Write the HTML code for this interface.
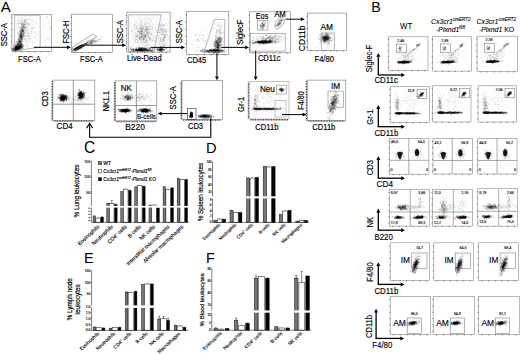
<!DOCTYPE html>
<html><head><meta charset="utf-8"><style>
html,body{margin:0;padding:0;background:#fff;width:520px;height:354px;overflow:hidden}
svg{display:block;font-family:"Liberation Sans", sans-serif}
</style></head><body>
<svg width="520" height="354" viewBox="0 0 520 354">
<rect width="520" height="354" fill="#fff"/>
<text x="0.8" y="11.5" font-size="15" text-anchor="start" font-weight="normal" font-style="normal" fill="#000" >A</text>
<path d="M20.6 38.9h0M19.3 45.5h0M22.4 31.1h0M20.1 28.2h0M21.5 35.9h0M19.6 33.5h0M19.8 42.6h0M19.2 37.1h0M17.4 49.5h0M19.8 41.3h0M21.9 34.1h0M20.7 44.5h0M20.5 36.2h0M18.6 46.6h0M22.2 29.9h0M20.1 41.2h0M18.8 38.8h0M20.7 32.8h0M21.3 40.5h0M22.5 31.6h0M23.5 24.3h0M17.6 41.3h0M20.8 46.5h0M23.2 33.9h0M22.9 36.4h0M20.2 36.9h0M24.2 33.2h0M21.6 32.9h0M19.4 39.7h0M23.5 34.2h0M22.3 35.3h0M22.3 33.5h0M20.7 42.1h0M18.1 42.1h0M21.7 25.9h0M21.6 23.1h0M21.9 27.1h0M20.4 39.6h0M22.3 32.1h0M22.3 36.7h0M20.8 37.5h0M22.7 24.3h0M20.7 30.7h0M20.0 42.1h0M18.6 43.8h0M21.4 46.8h0M21.4 36.7h0M22.2 39.5h0M16.4 46.4h0M21.6 35.5h0M21.7 33.3h0M22.0 29.8h0M20.5 37.6h0M19.2 40.4h0M22.3 30.7h0M19.1 38.7h0M20.4 47.0h0M22.0 28.2h0M20.5 33.5h0M20.6 36.7h0M21.7 37.5h0M21.2 41.7h0M22.4 32.1h0M22.7 29.7h0M21.9 36.3h0M22.3 36.0h0M20.7 39.5h0M18.6 41.9h0M23.4 35.0h0M24.0 33.3h0M17.8 43.5h0M21.7 33.6h0M19.7 42.6h0M22.9 34.0h0M19.2 40.5h0M20.8 37.3h0M23.4 30.3h0M20.5 32.0h0M22.8 32.4h0M24.0 35.5h0M25.0 30.9h0M23.4 31.1h0M23.2 30.3h0M17.8 45.5h0M20.5 36.7h0M19.2 45.2h0M21.2 32.1h0M21.6 35.9h0M21.3 37.0h0M23.4 23.7h0M21.8 30.7h0M21.1 38.0h0M21.3 38.7h0M21.3 39.9h0M22.1 38.8h0M23.5 27.6h0M19.0 48.2h0M19.5 39.5h0M19.9 41.6h0M22.9 30.7h0M19.2 34.2h0M21.7 39.7h0M20.1 40.4h0M20.4 42.1h0M20.8 36.6h0M19.9 35.5h0M19.3 38.9h0M22.3 34.1h0M19.6 38.1h0M21.6 34.8h0" stroke="#000" stroke-opacity="0.26" stroke-width="0.7" stroke-linecap="square" fill="none"/>
<path d="M21.8 31.3h0M21.2 32.9h0M20.0 41.4h0M18.8 35.0h0M18.3 32.8h0M20.8 31.6h0M20.4 36.1h0M25.0 27.6h0M23.7 29.6h0M20.0 41.2h0M22.8 29.5h0M20.3 31.6h0M21.8 41.7h0M20.8 34.9h0M21.6 34.2h0M19.1 43.6h0M21.4 23.6h0M20.6 40.2h0M19.7 36.2h0M22.1 38.5h0M19.0 39.0h0M18.8 41.7h0M21.3 35.2h0M22.0 31.9h0M22.3 37.4h0M20.9 35.0h0M19.1 38.8h0M17.6 41.2h0M20.5 35.9h0M21.4 36.9h0M20.8 37.1h0M17.8 42.6h0M20.9 43.1h0M20.5 42.7h0M23.5 30.8h0M21.3 37.4h0M22.1 30.8h0M20.5 32.5h0M21.0 39.3h0M22.9 27.8h0M19.0 44.3h0M17.3 32.7h0M22.3 38.3h0M21.5 38.5h0M19.4 35.8h0M19.3 41.8h0M22.6 30.2h0M18.9 46.7h0M21.1 43.1h0M20.6 37.3h0M18.0 47.0h0M19.7 42.5h0M19.1 35.0h0M23.5 35.4h0M18.9 49.9h0M20.8 29.6h0M20.6 40.6h0M19.1 46.4h0M21.7 35.8h0M21.4 36.5h0M18.2 39.0h0M23.1 26.1h0M19.5 36.3h0M21.1 44.1h0M20.9 34.7h0M19.9 43.4h0M19.1 43.4h0M24.2 25.1h0M22.1 29.8h0M23.5 26.4h0M22.9 30.5h0M20.3 34.8h0M18.9 36.6h0M24.1 32.5h0M20.0 40.8h0M23.5 31.5h0M18.6 36.1h0M18.9 39.1h0M22.9 30.9h0M21.4 36.9h0M20.2 30.1h0M19.6 34.3h0M23.9 30.4h0M22.7 34.7h0M21.0 36.4h0M23.7 36.7h0M22.3 30.3h0M21.3 30.8h0M19.0 37.0h0M20.9 38.0h0M21.4 33.4h0M21.4 34.2h0M20.9 39.5h0M23.3 27.4h0M17.6 42.5h0M20.1 32.6h0M23.3 36.8h0M21.4 37.8h0M20.4 44.0h0M18.0 40.2h0M21.3 31.3h0M20.2 36.7h0M19.6 48.0h0M20.3 36.6h0M19.5 45.6h0M19.7 41.9h0M22.2 27.1h0M22.7 35.8h0M19.1 41.1h0" stroke="#000" stroke-opacity="0.26" stroke-width="0.7" stroke-linecap="square" fill="none"/>
<path d="M21.7 30.6h0M21.2 39.4h0M19.8 33.7h0M18.9 38.4h0M20.8 37.7h0M23.5 32.2h0M21.1 37.4h0M22.0 38.0h0M20.3 40.7h0M23.9 33.1h0M20.5 35.6h0M24.6 24.5h0M21.1 34.6h0M21.6 36.3h0M21.7 41.5h0M20.2 40.7h0M21.8 31.2h0M21.0 35.6h0M22.5 30.3h0M21.9 33.3h0M16.9 41.8h0M23.3 27.3h0M22.1 30.8h0M21.9 28.7h0M20.5 34.7h0M20.2 31.5h0M24.9 28.2h0M20.9 37.4h0M21.1 28.9h0M21.1 33.6h0M21.7 41.7h0M22.5 36.4h0M18.3 46.5h0M21.6 47.0h0M19.8 42.3h0M20.6 37.2h0M18.1 39.7h0M20.8 31.1h0M25.7 28.7h0M19.4 41.6h0M23.9 23.0h0M22.8 37.7h0M21.1 36.7h0M18.9 39.9h0M22.8 28.6h0M25.1 20.5h0M20.9 35.8h0M20.8 34.4h0M21.8 37.9h0M22.3 41.0h0M21.6 37.6h0M20.8 35.4h0M18.6 42.4h0M19.9 38.0h0M20.9 35.6h0M24.0 31.6h0M23.9 36.3h0M23.6 31.3h0M20.9 38.9h0M19.2 49.0h0M20.2 27.5h0M21.4 32.6h0M22.3 29.6h0M23.1 34.3h0M21.2 27.4h0M19.7 31.5h0M22.9 29.3h0M22.0 41.2h0M24.7 36.6h0M19.1 43.1h0M20.9 33.9h0M21.3 28.5h0M21.4 30.6h0M21.8 35.7h0M22.4 30.1h0M23.3 26.0h0M24.6 27.6h0M20.9 32.2h0M21.8 25.0h0M21.2 37.4h0M18.2 41.4h0M26.7 19.5h0M22.6 27.3h0M22.4 24.7h0M19.6 36.3h0M20.0 36.4h0M22.0 36.5h0M21.4 33.4h0M20.0 32.7h0M21.4 34.3h0M22.8 29.4h0M24.0 26.6h0M20.5 35.2h0M20.2 44.6h0M24.2 20.9h0M23.2 35.0h0M22.4 28.9h0M23.4 32.4h0M22.0 35.1h0M20.5 38.9h0M18.4 34.2h0M25.8 19.7h0M22.1 39.3h0M19.6 49.7h0M19.0 46.3h0M24.5 27.7h0M21.8 40.4h0M23.7 31.5h0M22.6 31.2h0" stroke="#000" stroke-opacity="0.26" stroke-width="0.7" stroke-linecap="square" fill="none"/>
<path d="M25.6 21.8h0M23.2 26.1h0M24.3 20.9h0M22.6 26.1h0M22.0 19.9h0M22.4 28.5h0M25.7 24.4h0M26.4 27.5h0M24.6 28.4h0M24.9 23.3h0M21.3 23.3h0M28.5 25.1h0M23.2 15.0h0M22.1 24.6h0M28.2 34.9h0M22.8 24.7h0M20.0 23.1h0M25.0 19.4h0M27.4 21.6h0M21.1 22.4h0M25.1 23.5h0M21.2 26.9h0M20.9 20.4h0M25.0 24.4h0M26.5 27.1h0M22.3 26.0h0M18.2 23.6h0M24.5 21.4h0M21.7 20.8h0M20.3 20.2h0M18.0 22.7h0M24.8 22.1h0M26.2 22.6h0M25.1 22.5h0M18.1 23.6h0M25.3 19.5h0" stroke="#000" stroke-opacity="0.14" stroke-width="0.7" stroke-linecap="square" fill="none"/>
<path d="M21.8 31.1h0M27.3 24.4h0M18.4 17.8h0M24.7 23.3h0M26.2 24.9h0M18.5 19.8h0M25.0 35.3h0M24.9 22.5h0M17.3 28.2h0M18.3 26.8h0M16.5 31.1h0M18.0 20.5h0M24.0 17.4h0M21.5 21.9h0M26.7 28.5h0M22.2 25.5h0M29.4 24.7h0M22.4 29.6h0M23.2 22.4h0M24.9 28.0h0M21.1 27.7h0M23.9 32.9h0M19.6 27.2h0M24.0 25.5h0M24.1 27.0h0M19.2 33.2h0M22.7 21.4h0M22.9 29.9h0M25.2 19.3h0M19.0 22.9h0M25.2 27.8h0M19.7 21.0h0M25.6 22.0h0M22.8 26.6h0M23.0 25.5h0M25.4 35.5h0" stroke="#000" stroke-opacity="0.14" stroke-width="0.7" stroke-linecap="square" fill="none"/>
<path d="M29.3 35.0h0M20.3 25.6h0M24.9 21.2h0M24.4 20.5h0M20.9 23.2h0M21.9 37.7h0M22.3 23.2h0M28.4 33.5h0M22.5 27.2h0M20.9 23.3h0M23.7 30.6h0M19.6 22.5h0M23.8 24.5h0M18.3 24.9h0M21.1 32.2h0M21.8 24.6h0M22.3 27.7h0M23.8 25.6h0M27.2 15.2h0M26.9 17.1h0M22.0 17.5h0M22.4 17.3h0M21.2 15.1h0M24.8 25.2h0M18.9 24.2h0M23.3 18.9h0M23.3 21.8h0M30.2 20.0h0M21.6 24.9h0M23.4 24.1h0M22.8 20.6h0M27.1 26.1h0M22.6 37.4h0M26.4 22.6h0M26.7 26.6h0M25.2 26.3h0" stroke="#000" stroke-opacity="0.14" stroke-width="0.7" stroke-linecap="square" fill="none"/>
<path d="M21.4 31.0h0M25.3 33.1h0M21.2 29.8h0M39.1 30.0h0M19.1 41.5h0M28.7 38.6h0M27.9 32.6h0M34.1 19.5h0M26.4 20.3h0M29.4 38.4h0M24.0 32.6h0M28.3 40.0h0M15.3 23.3h0M29.7 37.9h0M25.6 24.0h0M26.8 36.5h0M26.4 37.2h0M27.5 23.9h0M29.2 35.5h0M27.4 32.4h0M22.7 30.0h0M36.5 22.5h0M26.6 37.1h0M30.5 29.8h0M24.9 24.9h0M21.8 28.4h0M32.2 28.6h0M34.0 21.6h0M26.3 17.6h0M28.6 30.1h0M21.5 26.2h0M25.8 27.1h0M24.4 21.2h0M29.2 36.5h0M31.6 22.2h0M22.9 33.4h0M30.9 20.0h0M29.1 37.6h0M26.6 32.9h0M24.1 24.6h0M20.9 28.6h0M16.1 21.6h0M26.6 32.0h0M30.8 40.1h0M35.3 30.7h0M23.8 28.7h0M32.9 31.3h0M26.8 18.5h0M28.4 18.3h0M25.0 34.6h0M35.2 38.0h0M32.5 28.8h0M32.6 41.6h0M34.2 27.6h0M22.8 39.1h0M23.2 35.0h0M31.3 40.0h0M30.1 37.2h0M28.0 18.6h0M34.4 37.3h0M27.5 33.6h0M28.6 23.8h0M17.5 42.0h0M36.3 34.6h0M17.3 39.9h0M19.6 30.1h0M22.4 20.4h0M18.9 17.3h0M22.9 40.2h0M20.1 20.1h0M30.2 37.2h0M25.1 35.7h0M32.9 33.3h0M35.8 46.3h0M27.6 23.1h0M26.7 42.9h0M25.3 20.1h0M21.6 21.7h0M25.0 39.2h0M24.6 16.5h0M27.6 36.1h0M37.2 39.7h0M20.8 33.5h0M29.8 34.0h0M21.3 36.8h0M24.1 38.8h0M26.4 41.3h0M21.0 28.4h0M19.7 46.8h0M29.5 38.9h0M22.9 26.3h0M39.2 42.7h0M29.5 16.5h0M35.4 21.1h0M27.7 27.9h0M31.1 31.0h0M20.5 45.3h0M26.6 43.4h0M27.0 21.5h0M22.9 32.2h0M29.3 43.3h0M29.5 24.1h0M16.9 28.7h0M19.5 29.9h0M24.6 29.3h0M21.7 24.2h0M22.5 33.2h0M21.4 34.5h0M23.9 33.7h0M23.6 30.5h0M35.7 34.5h0M32.3 28.5h0M19.4 23.6h0M22.0 31.5h0M24.3 39.0h0M25.0 27.4h0M20.1 19.7h0M21.0 24.9h0M29.0 41.3h0M34.5 31.1h0M25.3 39.0h0" stroke="#000" stroke-opacity="0.11" stroke-width="0.7" stroke-linecap="square" fill="none"/>
<path d="M29.8 38.7h0M26.2 21.7h0M31.0 22.4h0M31.4 33.1h0M26.7 44.7h0M27.2 36.4h0M33.2 27.9h0M34.2 26.2h0M24.8 40.4h0M23.1 35.2h0M27.2 26.9h0M34.2 37.3h0M31.0 39.1h0M26.5 41.2h0M29.2 23.8h0M33.1 30.7h0M33.4 28.9h0M33.2 28.4h0M32.8 26.0h0M25.3 15.7h0M28.6 19.1h0M30.9 19.7h0M37.5 33.8h0M32.0 31.6h0M25.4 19.6h0M33.0 24.6h0M20.3 18.1h0M32.2 42.4h0M20.4 29.6h0M27.0 25.6h0M31.8 35.1h0M25.7 27.0h0M26.7 24.0h0M29.1 32.5h0M35.0 32.3h0M22.7 42.3h0M28.9 32.0h0M23.3 22.5h0M26.3 30.5h0M17.2 23.7h0M27.2 36.5h0M25.0 34.0h0M26.1 24.3h0M24.0 40.3h0M26.0 39.4h0M16.6 24.0h0M25.9 24.5h0M21.8 18.9h0M30.9 43.3h0M30.8 42.6h0M17.8 30.8h0M21.4 45.0h0M22.9 27.9h0M24.3 20.9h0M24.1 23.7h0M22.7 44.5h0M34.6 35.0h0M35.4 35.8h0M19.9 19.1h0M37.3 41.0h0M23.8 31.7h0M28.1 39.6h0M23.4 37.6h0M28.5 19.3h0M34.6 36.9h0M28.7 39.9h0M27.4 25.6h0M28.1 35.7h0M25.7 29.1h0M29.0 34.7h0M23.1 37.6h0M25.3 38.8h0M20.0 37.6h0M36.3 31.8h0M26.0 31.0h0M22.3 29.0h0M27.7 46.7h0M19.6 45.1h0M28.7 34.5h0M24.3 19.2h0M18.5 24.7h0M24.9 45.2h0M25.7 32.9h0M34.2 32.7h0M26.6 22.6h0M30.9 26.8h0M26.8 30.5h0M24.4 38.7h0M31.8 45.4h0M34.7 26.0h0M26.1 33.3h0M31.5 28.7h0M15.6 41.2h0M28.0 45.5h0M36.5 23.6h0M20.4 27.9h0M27.7 46.3h0M32.8 32.0h0M24.1 38.7h0M16.7 20.0h0M31.0 32.2h0M27.5 30.5h0M26.8 32.9h0M35.0 25.6h0M28.4 41.7h0M28.9 23.8h0M37.1 35.0h0M32.3 24.5h0M20.7 24.5h0M30.9 33.7h0M30.6 19.0h0M24.4 29.7h0M28.7 33.3h0M34.1 22.5h0M18.2 16.4h0M30.0 19.2h0M21.0 31.9h0M21.5 36.0h0M29.1 41.5h0M35.6 33.5h0" stroke="#000" stroke-opacity="0.11" stroke-width="0.7" stroke-linecap="square" fill="none"/>
<path d="M24.4 34.8h0M26.9 39.9h0M28.1 22.5h0M27.6 45.9h0M28.1 25.9h0M32.4 38.3h0M22.8 30.3h0M20.4 43.3h0M34.2 28.2h0M26.8 27.2h0M24.4 42.0h0M31.9 29.1h0M31.4 31.4h0M20.8 40.6h0M21.5 17.9h0M33.3 32.2h0M25.5 30.6h0M29.8 24.6h0M24.7 35.9h0M29.2 25.5h0M16.5 22.4h0M28.8 29.1h0M27.7 23.2h0M25.2 39.9h0M33.9 22.0h0M22.9 40.0h0M31.5 26.3h0M22.5 23.4h0M25.6 33.5h0M27.8 34.0h0M31.7 34.0h0M31.5 28.4h0M25.9 41.4h0M26.2 29.2h0M22.5 27.6h0M26.8 41.5h0M34.8 33.3h0M27.3 23.5h0M29.6 41.4h0M30.2 32.4h0M23.4 29.7h0M24.8 24.7h0M23.7 34.0h0M34.0 42.2h0M18.8 33.9h0M26.9 40.0h0M29.4 29.8h0M19.8 43.7h0M24.8 25.9h0M34.3 42.7h0M28.9 28.6h0M31.0 34.0h0M21.1 33.8h0M28.4 35.8h0M28.1 38.9h0M26.7 30.9h0M23.4 27.2h0M33.4 45.7h0M36.5 24.4h0M26.4 30.2h0M36.7 16.7h0M26.7 39.0h0M22.5 34.0h0M27.2 30.0h0M21.1 44.0h0M29.5 35.5h0M19.2 20.6h0M39.0 18.5h0M37.3 29.0h0M18.8 23.1h0M30.4 16.0h0M32.7 43.1h0M37.9 23.8h0M19.8 30.4h0M38.6 43.7h0M32.5 20.8h0M22.5 34.0h0M22.7 38.3h0M30.6 26.8h0M26.1 23.4h0M21.3 38.7h0M17.9 45.5h0M18.1 25.9h0M19.5 44.0h0M24.9 27.4h0M21.6 34.5h0M21.9 23.8h0M24.6 30.2h0M25.5 38.5h0M29.5 24.0h0M29.8 18.9h0M26.5 37.1h0M29.3 31.0h0M25.8 28.1h0M32.4 20.4h0M36.5 21.7h0M29.0 23.8h0M27.3 31.0h0M31.0 30.7h0M31.9 27.6h0M24.8 38.8h0M25.3 27.9h0M20.0 37.9h0M23.8 41.9h0M20.8 22.0h0M27.8 35.7h0M23.1 31.4h0M25.7 42.2h0M24.5 27.2h0M39.3 33.9h0M26.2 31.4h0M25.6 35.7h0M24.7 26.8h0M36.1 39.6h0M19.3 28.3h0M23.0 28.3h0M30.5 37.1h0M24.1 24.9h0M27.8 43.1h0M27.5 23.7h0" stroke="#000" stroke-opacity="0.11" stroke-width="0.7" stroke-linecap="square" fill="none"/>
<path d="M15.7 45.4h0M20.7 43.7h0M22.8 41.3h0M13.8 49.9h0M17.1 50.3h0M17.6 48.6h0M20.9 44.2h0M20.0 47.8h0M15.7 46.8h0M18.7 45.5h0M18.9 46.9h0M20.8 38.7h0M18.8 40.9h0M18.8 41.3h0M16.9 44.8h0M15.6 47.1h0M14.8 50.6h0M17.9 49.0h0M16.2 45.5h0M21.0 42.3h0M16.3 44.8h0M21.1 45.7h0M16.5 47.9h0M18.4 45.8h0M19.9 45.7h0M18.1 43.6h0M17.8 47.0h0M17.2 44.0h0M20.2 41.3h0M16.4 46.5h0M19.7 46.3h0M17.9 44.4h0M19.5 47.3h0M18.4 46.0h0M21.1 43.2h0M22.1 43.4h0M19.2 43.0h0M16.2 42.9h0M15.9 45.8h0M15.4 45.0h0" stroke="#000" stroke-opacity="0.3" stroke-width="0.7" stroke-linecap="square" fill="none"/>
<path d="M18.5 46.0h0M22.7 39.2h0M19.8 45.1h0M18.6 42.5h0M20.5 40.1h0M17.7 43.8h0M21.4 47.3h0M16.3 44.8h0M20.6 42.4h0M18.8 47.8h0M20.8 44.6h0M21.1 44.2h0M17.4 45.6h0M19.5 45.4h0M16.3 48.7h0M18.1 43.4h0M20.4 43.3h0M18.8 42.9h0M16.6 42.1h0M19.6 45.1h0M17.1 44.3h0M15.3 46.5h0M18.4 47.5h0M20.7 44.7h0M14.7 49.8h0M21.0 47.5h0M22.1 44.9h0M22.2 39.0h0M20.0 47.0h0M18.3 44.6h0M18.8 44.2h0M18.0 44.2h0M14.7 50.3h0M20.4 46.2h0M21.5 45.9h0M20.4 41.3h0M19.3 42.8h0M17.1 45.8h0M18.9 44.7h0M19.1 44.9h0" stroke="#000" stroke-opacity="0.3" stroke-width="0.7" stroke-linecap="square" fill="none"/>
<path d="M15.8 42.7h0M20.5 44.0h0M21.2 43.5h0M19.9 42.2h0M18.1 48.8h0M19.1 40.2h0M16.3 46.4h0M21.2 45.1h0M19.3 42.8h0M15.8 44.6h0M15.7 46.4h0M20.5 41.3h0M14.2 44.7h0M13.3 48.1h0M16.2 47.1h0M20.4 47.5h0M21.5 42.8h0M18.7 45.2h0M18.4 44.0h0M20.0 41.0h0M18.1 48.5h0M17.0 48.0h0M18.5 46.4h0M21.0 46.3h0M20.3 41.6h0M21.4 43.4h0M18.8 46.3h0M18.4 46.9h0M17.4 49.4h0M18.4 44.9h0M20.5 43.1h0M14.3 49.4h0M19.1 45.1h0M22.8 44.8h0M16.8 47.2h0M18.9 44.9h0M16.6 49.2h0M17.5 43.8h0M19.4 44.7h0M17.7 48.9h0" stroke="#000" stroke-opacity="0.3" stroke-width="0.7" stroke-linecap="square" fill="none"/>
<path d="M14.2 49.1h0M15.5 48.7h0M19.4 46.2h0M17.1 47.3h0M19.7 47.8h0M14.3 50.5h0M13.7 49.2h0M19.2 46.5h0M13.3 50.6h0M21.6 47.6h0M22.1 46.1h0M17.6 45.9h0M18.0 47.0h0M15.6 49.5h0M17.4 50.9h0M21.3 46.1h0M16.9 49.4h0M14.8 48.1h0M15.1 48.1h0M17.4 49.9h0M14.2 46.9h0M17.9 49.0h0M16.8 48.8h0M21.2 47.6h0M19.6 47.5h0M19.6 47.3h0M16.7 46.6h0M17.1 49.1h0M21.0 47.4h0M19.6 45.1h0M21.8 46.6h0M20.7 46.1h0M16.0 49.9h0M14.2 49.4h0M15.3 49.8h0M12.7 48.5h0M18.6 49.7h0M14.1 48.6h0M15.5 50.9h0M18.0 47.2h0M18.0 45.0h0M13.8 50.3h0M15.9 46.3h0M21.6 44.1h0M17.9 47.0h0M19.7 48.2h0M15.6 49.6h0M22.5 48.3h0M17.5 46.7h0M18.3 47.4h0M16.6 47.8h0M12.8 50.4h0M19.6 47.3h0M20.3 46.4h0M18.0 48.1h0M18.9 49.2h0M15.7 48.5h0M17.4 49.1h0M21.6 45.5h0M18.9 48.3h0M18.4 47.4h0M20.6 48.2h0M17.7 49.7h0M20.6 44.9h0M18.7 45.8h0M18.6 47.1h0M16.9 49.9h0M19.2 45.7h0M15.6 48.1h0M16.6 49.3h0M15.6 47.8h0M20.5 50.3h0M17.4 47.3h0M17.6 47.4h0M23.1 46.1h0M20.2 46.5h0M14.1 47.1h0M19.8 47.1h0M19.5 46.1h0M13.0 49.3h0M15.1 48.9h0M17.6 48.3h0M17.9 48.1h0M19.9 47.1h0M16.4 47.6h0M17.4 47.8h0M18.5 47.4h0M15.0 47.1h0M12.6 49.1h0M16.6 49.6h0M20.6 47.2h0M19.3 47.1h0M20.3 46.2h0" stroke="#000" stroke-opacity="0.4" stroke-width="0.7" stroke-linecap="square" fill="none"/>
<path d="M22.4 47.6h0M13.4 50.7h0M17.7 49.1h0M22.5 46.4h0M23.1 47.1h0M16.4 45.8h0M16.8 49.2h0M15.3 47.5h0M19.1 46.8h0M17.0 46.0h0M20.3 45.7h0M20.8 48.4h0M17.6 47.5h0M14.3 49.0h0M20.3 47.9h0M21.7 44.4h0M20.8 45.4h0M16.5 46.3h0M18.8 47.0h0M19.7 50.0h0M17.1 48.3h0M21.6 45.8h0M17.0 47.2h0M16.8 47.6h0M19.7 46.2h0M17.2 50.2h0M21.9 49.5h0M20.0 48.8h0M14.6 48.9h0M19.1 48.3h0M20.1 47.6h0M16.1 47.6h0M18.0 47.6h0M17.4 48.1h0M22.8 46.2h0M18.9 46.3h0M15.5 48.9h0M13.0 48.8h0M17.4 46.7h0M18.5 49.1h0M22.8 48.6h0M15.0 48.9h0M17.1 48.6h0M14.2 49.0h0M17.1 50.1h0M20.9 44.8h0M16.3 47.5h0M20.0 48.7h0M15.0 49.9h0M20.2 46.8h0M16.9 49.7h0M16.5 49.1h0M19.7 46.2h0M15.2 49.1h0M13.7 45.0h0M18.0 47.5h0M18.1 49.4h0M19.8 47.3h0M17.7 50.4h0M16.1 47.0h0M13.5 48.4h0M25.4 45.0h0M19.5 48.0h0M15.4 47.4h0M17.8 47.8h0M19.9 47.3h0M17.0 49.0h0M19.5 47.8h0M14.9 50.9h0M15.5 49.4h0M18.2 48.4h0M16.9 49.1h0M20.9 45.9h0M16.5 46.9h0M19.0 49.2h0M18.3 48.1h0M14.4 47.0h0M23.0 47.9h0M15.4 48.3h0M19.0 47.4h0M17.2 47.6h0M19.0 46.7h0M19.5 48.7h0M20.7 46.4h0M23.3 45.7h0M15.0 46.5h0M20.7 47.2h0M22.6 44.9h0M15.9 48.5h0M18.4 46.2h0M16.7 46.8h0M16.0 50.6h0M16.8 48.9h0" stroke="#000" stroke-opacity="0.4" stroke-width="0.7" stroke-linecap="square" fill="none"/>
<path d="M14.8 48.1h0M13.4 48.9h0M19.4 46.7h0M14.6 50.0h0M16.0 49.0h0M15.8 49.4h0M16.5 47.5h0M15.9 50.2h0M17.4 46.7h0M15.4 51.0h0M17.0 48.6h0M13.6 48.5h0M23.1 45.3h0M18.1 47.1h0M19.2 48.1h0M15.9 47.1h0M17.3 47.9h0M17.8 48.2h0M21.4 44.7h0M16.4 49.8h0M22.3 45.0h0M20.5 47.3h0M19.8 44.9h0M17.2 49.2h0M17.1 46.2h0M17.5 44.1h0M16.2 49.2h0M15.3 50.0h0M16.3 48.9h0M19.3 48.0h0M20.9 43.5h0M12.4 50.7h0M15.1 48.5h0M13.7 50.1h0M15.6 46.9h0M17.3 47.5h0M16.0 50.5h0M20.4 50.5h0M16.6 48.5h0M18.2 48.5h0M20.7 48.0h0M19.5 45.9h0M15.2 48.5h0M22.0 48.9h0M21.2 46.3h0M20.3 46.1h0M12.7 49.6h0M16.1 49.0h0M16.0 47.6h0M16.8 48.9h0M20.0 48.8h0M16.0 48.4h0M19.2 46.2h0M15.6 49.7h0M16.5 46.0h0M16.9 48.4h0M16.9 48.8h0M15.2 48.4h0M20.7 47.3h0M14.3 50.8h0M15.7 47.2h0M15.4 48.2h0M18.5 48.7h0M22.5 47.3h0M17.6 48.0h0M16.7 48.6h0M15.5 47.2h0M12.6 49.7h0M17.1 49.1h0M19.0 47.5h0M16.3 47.8h0M16.8 44.8h0M15.3 49.2h0M17.4 49.5h0M21.2 48.6h0M18.4 48.1h0M17.7 48.2h0M18.9 48.1h0M15.5 49.3h0M17.3 45.6h0M19.9 46.8h0M20.7 47.1h0M20.2 47.3h0M17.0 46.8h0M13.3 47.3h0M19.7 49.5h0M16.4 50.0h0M16.1 49.6h0M18.4 49.5h0M17.5 46.9h0M17.3 47.3h0M19.0 46.5h0" stroke="#000" stroke-opacity="0.4" stroke-width="0.7" stroke-linecap="square" fill="none"/>
<path d="M43.7 25.6h0M50.8 29.6h0M49.9 25.9h0M51.1 29.5h0M47.2 16.7h0" stroke="#000" stroke-opacity="0.3" stroke-width="0.7" stroke-linecap="square" fill="none"/>
<path d="M45.5 45.3h0M47.1 38.8h0M49.0 38.2h0M48.8 22.6h0" stroke="#000" stroke-opacity="0.3" stroke-width="0.7" stroke-linecap="square" fill="none"/>
<path d="M50.5 27.4h0M46.7 18.0h0M48.4 39.8h0M44.9 40.6h0" stroke="#000" stroke-opacity="0.3" stroke-width="0.7" stroke-linecap="square" fill="none"/>
<ellipse cx="17.3" cy="48.5" rx="3.6" ry="1.5" transform="rotate(-30 17.3 48.5)" fill="#000" fill-opacity="0.85"/>
<rect x="11.9" y="14.5" width="39.6" height="36.8" fill="none" stroke="#777" stroke-width="0.6"/>
<line x1="10.9" y1="48.23" x2="11.9" y2="48.23" stroke="#000" stroke-width="0.5"/>
<line x1="10.9" y1="42.1" x2="11.9" y2="42.1" stroke="#000" stroke-width="0.5"/>
<line x1="10.9" y1="35.97" x2="11.9" y2="35.97" stroke="#000" stroke-width="0.5"/>
<line x1="10.9" y1="29.83" x2="11.9" y2="29.83" stroke="#000" stroke-width="0.5"/>
<line x1="10.9" y1="23.7" x2="11.9" y2="23.7" stroke="#000" stroke-width="0.5"/>
<line x1="10.9" y1="17.57" x2="11.9" y2="17.57" stroke="#000" stroke-width="0.5"/>
<line x1="15.2" y1="51.3" x2="15.2" y2="52.3" stroke="#000" stroke-width="0.5"/>
<line x1="21.8" y1="51.3" x2="21.8" y2="52.3" stroke="#000" stroke-width="0.5"/>
<line x1="28.4" y1="51.3" x2="28.4" y2="52.3" stroke="#000" stroke-width="0.5"/>
<line x1="35" y1="51.3" x2="35" y2="52.3" stroke="#000" stroke-width="0.5"/>
<line x1="41.6" y1="51.3" x2="41.6" y2="52.3" stroke="#000" stroke-width="0.5"/>
<line x1="48.2" y1="51.3" x2="48.2" y2="52.3" stroke="#000" stroke-width="0.5"/>
<polygon points="14.7,15.3 40.2,15.3 40.2,47 14.4,51" fill="none" stroke="#888" stroke-width="0.6"/>
<text transform="translate(3.6,34.7) rotate(-90) scale(1,1.15)" x="0" y="2.74" font-size="7.6" text-anchor="middle" font-weight="normal" stroke="#000" stroke-width="0.15">SSC-A</text>
<text transform="translate(29.4,61.8) scale(1,1.15)" x="0" y="0" font-size="7.6" text-anchor="middle" font-weight="normal" font-style="normal" fill="#000" stroke="#000" stroke-width="0.15" >FSC-A</text>
<polyline points="34,47.3 67.3,47.3" fill="none" stroke="#000" stroke-width="1.0"/>
<polygon points="70.8,47.3 67,49.2 67,45.4" fill="#000"/>
<path d="M80.6 46.6h0M76.5 50.2h0M75.5 49.1h0M83.1 46.4h0M81.8 45.2h0M79.5 47.0h0M80.8 47.5h0M86.5 44.2h0M88.0 43.2h0M83.1 44.7h0M80.3 47.0h0M81.0 47.3h0M86.4 43.4h0M74.5 50.3h0M83.1 47.9h0M75.9 48.7h0M74.5 48.8h0M78.6 48.3h0M75.9 49.4h0M78.2 48.7h0M80.7 45.9h0M81.1 45.6h0M83.0 44.9h0M84.9 45.0h0M81.1 46.2h0M78.1 49.1h0M75.6 48.9h0M79.9 46.3h0M78.2 47.0h0M81.0 46.3h0M83.7 46.3h0M78.6 47.6h0M76.9 47.8h0M83.1 45.8h0M74.2 49.5h0M83.0 46.3h0M77.4 49.0h0M81.4 46.2h0M78.3 50.0h0M74.0 49.5h0M74.8 48.8h0M83.0 45.7h0M84.0 45.1h0M82.7 45.9h0M77.4 49.7h0M79.4 47.8h0M73.6 50.8h0M82.0 47.4h0M79.8 46.8h0M77.6 47.7h0M81.2 45.1h0M82.4 45.7h0M78.9 48.4h0M83.3 45.6h0M79.5 46.7h0M82.1 45.6h0M86.7 44.6h0M84.5 45.5h0M79.1 48.4h0M81.9 45.1h0M79.0 46.2h0M80.1 48.6h0M82.9 46.4h0M80.6 45.8h0M80.5 46.5h0M79.3 47.2h0M76.5 47.9h0M78.6 49.3h0M80.6 45.8h0M79.4 47.9h0M81.9 45.0h0M79.0 47.2h0M79.7 47.8h0M81.3 46.5h0M77.3 48.3h0M75.4 50.2h0M79.9 46.7h0M80.6 45.9h0M81.2 46.5h0M80.0 47.2h0M80.4 46.4h0M82.7 45.7h0M80.9 46.2h0M78.9 48.2h0M82.8 46.2h0M74.7 48.7h0M79.6 47.3h0M77.1 47.5h0M79.6 47.0h0M77.0 48.5h0M79.9 47.3h0M79.5 47.1h0M78.0 46.9h0M80.0 47.7h0M79.6 46.5h0M78.5 47.6h0M85.0 45.0h0M77.1 49.3h0M80.3 47.1h0M87.9 43.0h0M79.8 47.4h0M81.6 46.5h0M81.0 47.5h0M81.1 46.4h0M79.7 45.6h0M83.4 44.8h0M83.3 45.5h0M73.9 50.3h0M74.6 49.3h0M78.9 48.8h0M76.0 47.9h0M84.0 44.7h0M73.7 49.8h0M81.5 45.8h0M74.6 48.9h0" stroke="#000" stroke-opacity="0.4" stroke-width="0.7" stroke-linecap="square" fill="none"/>
<path d="M77.0 48.9h0M74.7 49.9h0M80.2 47.6h0M80.5 46.3h0M79.8 47.0h0M80.3 45.8h0M75.2 48.3h0M77.0 49.2h0M82.0 46.5h0M75.5 50.5h0M77.8 49.4h0M81.4 46.9h0M79.4 48.1h0M75.4 48.7h0M82.2 46.5h0M75.8 48.7h0M81.0 46.6h0M75.6 51.1h0M73.3 49.9h0M76.3 49.2h0M85.4 43.8h0M75.2 49.6h0M80.0 47.3h0M77.8 47.4h0M75.7 48.8h0M81.0 46.6h0M78.9 47.9h0M72.4 50.5h0M75.9 49.1h0M76.2 49.0h0M84.0 44.3h0M81.4 46.3h0M82.3 46.4h0M84.8 43.6h0M83.0 45.2h0M76.9 48.6h0M84.1 44.0h0M77.3 48.5h0M81.9 45.4h0M77.4 49.1h0M79.2 47.3h0M78.8 46.1h0M81.8 45.8h0M78.6 47.5h0M80.3 46.9h0M75.9 48.6h0M76.5 48.0h0M80.9 47.3h0M79.2 47.4h0M81.4 45.0h0M87.0 41.4h0M80.4 46.2h0M75.8 48.9h0M74.6 49.7h0M82.4 45.3h0M77.5 47.4h0M80.2 46.8h0M76.6 48.2h0M78.2 47.8h0M77.4 47.8h0M78.8 46.5h0M81.4 46.8h0M75.7 50.1h0M76.3 50.4h0M72.9 48.9h0M80.6 47.2h0M77.7 48.1h0M75.6 48.0h0M82.5 45.2h0M81.5 46.3h0M74.7 50.4h0M78.5 48.9h0M85.0 43.6h0M81.5 46.0h0M78.7 46.8h0M77.3 48.8h0M80.3 48.5h0M75.8 50.9h0M81.2 46.9h0M84.1 45.6h0M78.0 47.3h0M86.1 43.9h0M80.7 48.2h0M78.6 48.3h0M81.7 47.0h0M84.1 45.5h0M78.2 47.4h0M77.4 48.9h0M76.4 49.9h0M82.3 45.7h0M79.5 48.1h0M81.6 47.0h0M76.5 49.4h0M84.1 45.8h0M81.3 47.2h0M78.5 47.2h0M81.2 46.3h0M79.9 48.4h0M81.9 46.8h0M78.5 47.3h0M86.2 45.8h0M81.0 46.5h0M82.5 46.1h0M76.7 48.5h0M79.8 47.7h0M75.2 48.6h0M75.5 48.8h0M81.5 46.2h0M83.5 46.1h0M80.9 46.2h0M80.3 46.8h0M77.6 49.3h0M81.5 46.3h0M83.7 45.1h0M77.2 47.7h0" stroke="#000" stroke-opacity="0.4" stroke-width="0.7" stroke-linecap="square" fill="none"/>
<path d="M77.7 47.0h0M81.7 46.7h0M77.1 47.6h0M80.8 46.7h0M76.0 49.2h0M79.5 47.7h0M80.4 47.2h0M76.3 47.8h0M85.4 44.5h0M84.4 45.2h0M81.8 46.5h0M75.9 49.5h0M82.8 46.1h0M81.2 46.2h0M76.4 48.4h0M78.5 47.0h0M83.1 46.3h0M83.3 45.2h0M81.9 46.1h0M77.6 47.6h0M85.5 43.4h0M81.3 45.4h0M80.8 45.2h0M73.6 49.2h0M84.4 44.5h0M77.1 47.3h0M81.3 46.5h0M76.2 48.5h0M79.7 46.7h0M85.3 43.8h0M86.0 44.1h0M79.3 48.4h0M82.7 44.8h0M80.1 46.8h0M77.5 49.0h0M82.6 45.2h0M76.2 48.9h0M76.4 48.8h0M76.2 48.7h0M77.9 47.5h0M82.9 45.1h0M75.6 49.9h0M78.1 47.5h0M81.4 46.6h0M84.6 45.5h0M72.6 51.8h0M79.0 47.8h0M77.8 48.7h0M80.2 47.2h0M78.0 49.3h0M84.6 45.9h0M81.7 45.3h0M79.6 46.2h0M76.8 48.2h0M82.6 45.7h0M81.7 46.9h0M80.7 46.6h0M84.0 45.3h0M77.4 46.8h0M81.8 46.1h0M80.6 47.0h0M79.9 46.9h0M81.5 47.1h0M79.9 46.0h0M74.4 50.1h0M72.7 50.5h0M78.2 46.8h0M80.6 47.2h0M75.7 48.8h0M82.5 45.8h0M74.9 49.4h0M86.9 43.6h0M79.7 47.0h0M79.4 46.8h0M84.5 44.6h0M79.5 47.5h0M72.3 51.0h0M79.0 49.2h0M83.4 45.6h0M76.1 48.5h0M78.8 48.0h0M90.1 42.7h0M75.7 50.7h0M79.4 46.4h0M83.0 45.5h0M79.7 46.9h0M86.5 43.9h0M81.9 45.9h0M81.5 48.2h0M74.7 49.0h0M82.8 45.9h0M79.8 47.5h0M81.4 47.6h0M77.5 48.2h0M78.6 49.3h0M80.8 46.6h0M74.9 49.6h0M82.1 46.6h0M77.4 48.8h0M75.2 50.4h0M77.0 49.4h0M84.8 45.1h0M81.1 47.9h0M76.2 49.1h0M79.7 46.4h0M79.8 47.9h0M76.6 48.7h0M80.7 46.0h0M78.4 48.8h0M81.8 45.5h0M79.1 47.2h0M84.2 45.2h0M84.1 43.9h0M82.6 45.2h0M83.8 46.2h0" stroke="#000" stroke-opacity="0.4" stroke-width="0.7" stroke-linecap="square" fill="none"/>
<path d="M92.9 40.3h0M94.2 40.7h0M92.1 40.9h0M90.6 41.5h0M91.9 42.1h0M89.7 42.6h0M92.0 42.2h0M92.6 40.8h0M100.0 39.4h0M102.0 37.3h0M94.8 44.4h0M86.4 44.4h0M94.1 41.8h0M92.1 40.8h0M91.4 43.9h0M87.5 44.4h0M92.3 43.3h0M92.7 43.0h0M82.2 43.8h0M88.7 40.6h0M90.3 42.6h0M92.7 40.9h0M91.4 41.6h0M86.4 42.9h0M97.2 42.4h0M97.3 40.2h0M81.5 44.1h0M91.4 42.0h0M88.0 42.9h0M94.7 41.7h0M91.6 41.6h0M83.4 45.3h0M89.6 43.3h0M86.9 41.2h0M89.1 43.4h0M92.0 42.1h0M89.4 39.8h0M94.5 40.2h0M91.3 44.9h0M92.0 42.6h0M84.1 43.2h0M87.4 41.9h0M95.2 41.3h0M90.6 41.9h0M87.1 42.7h0M97.8 40.4h0M89.8 44.7h0M91.1 42.5h0M88.2 42.9h0M103.2 37.9h0M95.0 41.2h0M89.8 43.2h0M94.4 40.8h0M91.2 40.3h0M88.3 44.4h0M95.8 39.9h0M96.8 38.6h0M93.1 39.9h0M94.2 40.3h0M93.9 37.7h0" stroke="#000" stroke-opacity="0.16" stroke-width="0.7" stroke-linecap="square" fill="none"/>
<path d="M91.2 41.3h0M82.1 44.2h0M90.8 44.5h0M90.2 43.3h0M91.5 41.9h0M92.0 42.1h0M91.4 40.8h0M87.0 43.9h0M91.9 43.5h0M91.9 43.2h0M87.7 43.3h0M92.7 42.4h0M86.7 43.5h0M100.2 42.3h0M94.1 41.4h0M88.8 43.8h0M87.9 44.2h0M82.5 45.5h0M84.7 46.6h0M90.7 43.3h0M90.3 43.0h0M89.0 45.0h0M100.4 36.1h0M94.7 43.3h0M89.5 39.8h0M90.0 42.0h0M100.3 38.8h0M89.6 42.4h0M91.8 43.8h0M97.4 40.9h0M96.4 41.3h0M96.0 41.8h0M93.7 40.4h0M94.1 41.4h0M90.4 43.4h0M90.9 43.6h0M91.2 41.7h0M89.8 41.4h0M92.4 42.5h0M87.3 44.0h0M84.8 45.8h0M92.4 42.0h0M86.2 41.0h0M89.0 44.0h0M92.4 40.5h0M98.9 39.6h0M93.9 42.4h0M95.4 41.5h0M87.9 44.7h0M86.6 43.7h0M91.5 46.5h0M94.3 42.3h0M90.0 40.6h0M92.3 42.1h0M79.8 45.5h0M92.3 40.7h0M87.2 45.0h0M95.7 40.8h0M97.0 41.9h0M95.9 40.4h0" stroke="#000" stroke-opacity="0.16" stroke-width="0.7" stroke-linecap="square" fill="none"/>
<path d="M99.0 40.1h0M86.8 44.2h0M87.1 42.3h0M99.5 37.1h0M90.8 43.8h0M91.6 43.5h0M87.6 42.0h0M93.8 39.0h0M92.1 41.1h0M86.9 43.5h0M95.2 41.1h0M97.8 41.5h0M92.9 41.2h0M90.3 43.1h0M91.0 42.5h0M93.1 43.2h0M91.0 42.6h0M85.4 45.8h0M85.9 44.1h0M91.5 43.4h0M101.2 39.5h0M86.3 42.6h0M94.0 42.3h0M87.0 41.5h0M98.8 39.5h0M99.6 41.5h0M85.5 44.1h0M90.0 43.1h0M93.7 41.3h0M101.1 40.9h0M91.0 40.3h0M86.3 45.3h0M88.4 40.4h0M96.5 41.0h0M93.1 40.3h0M100.0 38.9h0M81.8 45.7h0M95.0 38.9h0M90.8 40.8h0M98.3 41.4h0M95.2 41.9h0M88.0 43.5h0M90.8 42.6h0M91.8 42.2h0M85.9 43.5h0M90.0 40.8h0M95.3 40.9h0M94.4 41.4h0M81.9 45.0h0M98.1 39.8h0M92.1 41.2h0M92.1 40.0h0M89.0 42.0h0M86.4 43.0h0M83.9 44.0h0M101.6 40.1h0M91.0 42.0h0M94.0 40.4h0M96.5 41.2h0M92.3 41.5h0" stroke="#000" stroke-opacity="0.16" stroke-width="0.7" stroke-linecap="square" fill="none"/>
<ellipse cx="79" cy="47.5" rx="5.2" ry="1" transform="rotate(-27 79 47.5)" fill="#000" fill-opacity="0.85"/>
<rect x="71.5" y="14.2" width="40.9" height="38.1" fill="none" stroke="#777" stroke-width="0.6"/>
<line x1="70.5" y1="49.12" x2="71.5" y2="49.12" stroke="#000" stroke-width="0.5"/>
<line x1="70.5" y1="42.77" x2="71.5" y2="42.77" stroke="#000" stroke-width="0.5"/>
<line x1="70.5" y1="36.42" x2="71.5" y2="36.42" stroke="#000" stroke-width="0.5"/>
<line x1="70.5" y1="30.08" x2="71.5" y2="30.08" stroke="#000" stroke-width="0.5"/>
<line x1="70.5" y1="23.72" x2="71.5" y2="23.72" stroke="#000" stroke-width="0.5"/>
<line x1="70.5" y1="17.38" x2="71.5" y2="17.38" stroke="#000" stroke-width="0.5"/>
<line x1="74.91" y1="52.3" x2="74.91" y2="53.3" stroke="#000" stroke-width="0.5"/>
<line x1="81.72" y1="52.3" x2="81.72" y2="53.3" stroke="#000" stroke-width="0.5"/>
<line x1="88.54" y1="52.3" x2="88.54" y2="53.3" stroke="#000" stroke-width="0.5"/>
<line x1="95.36" y1="52.3" x2="95.36" y2="53.3" stroke="#000" stroke-width="0.5"/>
<line x1="102.17" y1="52.3" x2="102.17" y2="53.3" stroke="#000" stroke-width="0.5"/>
<line x1="108.99" y1="52.3" x2="108.99" y2="53.3" stroke="#000" stroke-width="0.5"/>
<polygon points="72.2,47.7 92.9,34 96.8,36.7 73.8,51" fill="none" stroke="#777" stroke-width="0.6"/>
<text transform="translate(65.6,32) rotate(-90) scale(1,1.15)" x="0" y="2.74" font-size="7.6" text-anchor="middle" font-weight="normal" stroke="#000" stroke-width="0.15">FSC-H</text>
<text transform="translate(91.5,61.8) scale(1,1.15)" x="0" y="0" font-size="7.6" text-anchor="middle" font-weight="normal" font-style="normal" fill="#000" stroke="#000" stroke-width="0.15" >FSC-A</text>
<polyline points="85.5,45.2 122.5,45.2" fill="none" stroke="#000" stroke-width="1.0"/>
<polygon points="126,45.2 122.2,47.1 122.2,43.3" fill="#000"/>
<path d="M137.4 31.3h0M148.8 29.6h0M149.8 26.8h0M136.7 36.5h0M142.0 31.4h0M143.7 33.9h0M138.1 31.0h0M142.8 38.7h0M143.4 38.6h0M147.3 35.2h0M139.3 30.5h0M144.2 35.0h0M147.0 28.6h0M146.4 26.1h0M141.1 22.5h0M139.8 29.0h0M146.0 38.9h0M144.5 39.7h0M139.3 35.6h0M146.4 28.1h0M144.7 35.1h0M132.0 30.8h0M140.3 37.3h0M140.9 25.6h0M147.8 39.2h0M144.8 41.0h0M143.5 34.3h0M140.9 31.7h0M143.6 36.7h0M143.9 38.1h0M141.0 33.3h0M143.2 25.4h0M145.7 34.3h0M146.7 29.1h0M147.5 33.0h0M148.3 35.9h0M142.6 37.0h0M146.1 40.3h0M141.0 42.3h0M143.3 40.2h0M150.3 28.2h0M145.5 35.4h0M142.1 34.9h0M142.0 36.8h0M135.8 36.0h0M146.5 30.6h0M139.7 35.0h0M139.6 25.1h0M147.3 23.5h0M145.7 29.9h0M141.6 35.6h0M133.2 37.6h0M146.7 28.7h0M142.6 31.3h0M139.8 36.9h0M145.6 36.5h0M141.1 39.3h0M147.1 41.0h0M140.3 34.9h0M141.1 28.9h0M142.2 36.7h0M139.6 31.8h0M141.8 36.4h0M142.9 28.8h0M143.0 33.2h0M140.8 28.8h0M152.1 30.2h0M150.2 38.7h0M142.4 31.9h0M134.9 40.0h0M144.1 29.1h0M134.9 35.5h0M147.1 26.4h0M142.9 28.1h0M145.9 36.1h0M140.4 37.5h0M141.5 37.1h0M143.9 41.9h0M145.3 29.7h0M137.2 42.8h0M150.3 35.7h0M142.5 34.0h0M140.1 39.8h0M147.1 32.0h0M140.8 39.6h0M143.1 33.6h0M138.0 44.6h0M139.7 34.0h0M144.0 39.5h0M150.1 37.4h0M140.7 34.2h0M136.6 36.4h0M147.2 33.1h0M146.9 34.9h0M139.5 39.2h0M141.8 36.0h0M141.4 33.3h0M138.9 18.4h0M145.8 24.4h0M136.5 28.0h0" stroke="#000" stroke-opacity="0.2" stroke-width="0.7" stroke-linecap="square" fill="none"/>
<path d="M145.6 41.1h0M151.3 34.3h0M149.2 32.6h0M146.7 44.5h0M141.8 29.8h0M153.3 37.8h0M135.5 41.2h0M145.0 35.9h0M139.7 28.4h0M146.5 42.7h0M145.6 41.7h0M147.0 34.1h0M145.0 26.9h0M141.2 39.9h0M144.2 36.2h0M143.0 30.6h0M135.1 25.3h0M141.5 28.7h0M143.9 27.1h0M141.4 31.3h0M144.5 31.5h0M142.8 38.8h0M141.2 31.0h0M145.5 30.5h0M140.7 33.2h0M141.7 23.8h0M145.6 36.7h0M149.9 38.6h0M142.7 27.8h0M147.1 30.3h0M151.5 35.0h0M142.9 40.0h0M140.6 33.2h0M135.9 28.9h0M143.9 39.8h0M143.0 36.2h0M141.5 33.4h0M141.4 32.5h0M142.2 29.2h0M141.2 31.5h0M149.5 29.0h0M136.4 35.8h0M138.4 31.6h0M140.3 31.5h0M138.4 31.8h0M149.0 40.6h0M147.6 26.8h0M151.4 34.3h0M143.1 45.0h0M143.1 38.8h0M143.2 41.3h0M146.0 29.4h0M141.2 35.1h0M149.5 39.3h0M140.1 38.5h0M139.6 32.4h0M142.4 29.9h0M143.2 39.2h0M146.0 39.3h0M142.3 26.7h0M141.7 34.0h0M142.6 35.0h0M144.4 38.5h0M139.2 31.7h0M145.5 35.0h0M145.0 36.1h0M142.1 35.3h0M145.5 37.0h0M143.4 38.5h0M152.4 40.7h0M145.9 31.4h0M140.2 27.0h0M147.2 44.1h0M145.1 35.9h0M149.2 27.3h0M141.7 42.7h0M146.2 28.7h0M147.9 29.9h0M146.7 35.9h0M142.3 40.9h0M148.6 26.6h0M144.4 42.3h0M141.3 36.3h0M143.2 26.9h0M134.7 24.7h0M142.7 37.6h0M133.6 33.1h0M146.5 40.0h0M148.6 32.3h0M143.9 46.0h0M143.4 41.6h0M141.2 36.1h0M145.5 36.6h0M146.9 23.9h0M145.3 33.8h0M143.6 23.1h0M140.6 31.6h0M140.7 24.2h0M146.4 36.3h0M137.2 28.4h0" stroke="#000" stroke-opacity="0.2" stroke-width="0.7" stroke-linecap="square" fill="none"/>
<path d="M140.5 29.5h0M139.5 38.9h0M148.9 32.1h0M149.9 37.5h0M141.9 21.3h0M141.1 36.8h0M145.4 28.1h0M139.6 30.8h0M147.6 29.3h0M145.8 37.9h0M148.6 45.6h0M142.8 28.8h0M147.4 28.9h0M139.8 34.3h0M138.6 36.9h0M152.2 26.2h0M145.2 31.6h0M132.1 35.0h0M149.9 39.4h0M141.3 28.4h0M148.2 34.9h0M141.8 32.7h0M140.0 36.8h0M144.4 35.9h0M137.8 42.4h0M149.1 34.5h0M136.6 39.4h0M141.6 24.7h0M139.8 27.7h0M143.9 36.8h0M146.5 31.8h0M151.4 40.0h0M145.5 30.1h0M136.3 27.1h0M148.0 31.5h0M137.3 30.1h0M146.9 41.1h0M144.3 32.5h0M144.9 43.2h0M140.2 33.3h0M142.1 38.2h0M138.9 46.8h0M137.8 38.9h0M148.2 29.1h0M146.6 29.9h0M141.1 32.9h0M146.7 27.4h0M144.0 30.6h0M141.5 34.1h0M143.8 35.9h0M145.9 32.8h0M135.0 28.3h0M147.9 33.9h0M142.6 27.0h0M144.4 35.5h0M152.4 28.0h0M137.7 36.7h0M138.9 34.8h0M139.0 40.3h0M143.0 35.4h0M137.2 34.2h0M136.4 26.2h0M148.2 36.5h0M144.1 35.1h0M144.2 35.5h0M142.1 31.9h0M138.4 34.6h0M143.4 38.8h0M144.3 37.4h0M141.7 29.8h0M146.8 40.8h0M140.5 32.9h0M145.4 36.7h0M145.9 46.8h0M138.4 32.1h0M149.1 37.9h0M144.4 37.5h0M143.5 29.8h0M146.9 33.3h0M144.7 37.4h0M146.5 32.8h0M135.6 34.2h0M141.4 37.3h0M144.2 38.3h0M137.4 31.6h0M141.1 27.7h0M148.8 36.4h0M139.4 37.8h0M137.2 36.0h0M138.8 38.5h0M139.3 31.3h0M138.7 32.2h0M141.6 26.2h0M136.4 23.3h0M143.5 37.8h0M141.5 40.8h0M147.5 32.7h0M135.7 38.0h0M139.9 37.7h0M146.5 27.3h0" stroke="#000" stroke-opacity="0.2" stroke-width="0.7" stroke-linecap="square" fill="none"/>
<path d="M134.6 21.5h0M133.4 26.5h0M157.1 24.8h0M143.5 32.3h0M145.8 39.7h0M148.9 20.4h0M140.5 36.5h0M140.1 38.0h0M149.5 40.0h0M148.1 43.7h0M143.5 43.6h0M143.2 50.3h0M149.6 32.1h0M147.4 47.2h0M147.0 23.2h0M132.5 45.1h0M144.3 38.7h0M147.5 30.8h0M135.8 21.9h0M151.8 44.4h0M139.0 48.2h0M132.3 30.4h0M149.2 22.5h0M141.5 37.0h0M138.6 33.5h0M134.0 15.9h0M144.7 48.5h0M148.2 28.8h0M141.3 37.0h0M137.1 26.0h0M141.1 20.6h0M151.4 28.8h0M133.8 28.1h0M146.2 31.6h0M141.0 37.8h0M134.3 39.2h0M128.7 27.5h0M147.5 33.4h0M145.3 35.7h0M139.0 26.2h0M149.2 39.1h0M139.3 28.2h0M150.7 33.4h0M137.8 50.5h0M149.7 38.4h0M140.4 39.9h0M140.8 33.9h0M143.0 39.4h0M151.0 41.7h0M130.1 46.8h0M132.5 29.8h0M145.1 31.2h0M142.4 48.4h0M153.7 27.3h0M134.9 30.7h0M129.6 22.6h0M139.5 25.4h0M147.8 34.4h0M157.9 46.1h0M131.1 26.8h0M148.5 30.0h0M146.6 16.7h0M135.7 37.3h0M151.2 38.8h0M149.7 23.0h0M148.7 18.7h0M133.2 36.2h0M141.1 25.5h0M139.4 30.2h0M130.3 42.5h0M155.5 27.1h0M138.2 31.7h0M145.1 42.7h0M148.4 45.2h0M150.7 39.4h0M136.8 47.4h0M136.9 26.0h0M145.3 22.6h0M134.0 47.3h0M142.8 30.0h0M144.8 24.1h0M138.8 23.0h0M142.8 34.7h0M155.1 46.0h0M143.5 27.8h0M156.0 38.4h0M139.7 44.6h0M152.5 40.4h0M138.0 29.5h0M145.2 51.4h0M141.5 30.8h0M148.9 33.2h0M145.2 21.5h0M143.8 32.3h0M138.8 43.4h0M135.6 32.8h0M159.5 25.5h0M135.2 46.9h0M142.6 44.8h0M156.1 42.6h0M153.1 29.5h0M137.9 27.4h0M158.8 36.0h0M155.0 38.9h0M145.6 37.9h0M130.5 23.7h0M137.3 39.5h0M143.3 31.5h0M136.4 50.8h0M148.9 26.3h0M150.4 45.6h0M146.1 48.1h0M140.4 31.2h0M138.3 25.7h0M139.3 51.1h0M142.8 33.1h0M141.1 30.0h0M132.6 38.9h0M149.7 33.2h0M150.9 19.0h0M145.8 36.3h0M157.4 20.0h0M136.0 39.5h0M131.6 24.1h0M133.3 26.0h0M152.7 39.6h0M145.5 24.4h0M154.1 46.1h0M140.3 19.1h0M141.6 27.0h0M146.3 44.8h0M146.3 22.9h0M148.8 23.7h0M144.5 23.6h0M145.5 41.7h0M149.6 32.2h0M137.1 33.1h0M136.6 28.0h0M140.6 17.0h0M142.0 32.2h0M146.7 33.8h0M143.3 34.1h0M146.6 40.3h0M141.4 31.8h0M158.7 24.1h0M137.1 36.6h0M140.5 28.5h0M130.1 26.1h0M132.8 36.1h0M134.0 43.2h0M148.9 45.3h0M136.8 34.8h0M150.0 25.5h0M138.5 19.5h0M145.1 33.5h0M152.7 29.1h0M135.5 25.0h0M153.9 36.3h0M141.5 27.4h0M154.6 37.0h0M138.6 45.5h0M150.0 27.4h0M146.0 18.7h0M141.6 41.4h0" stroke="#000" stroke-opacity="0.12" stroke-width="0.7" stroke-linecap="square" fill="none"/>
<path d="M146.8 28.3h0M145.3 21.7h0M137.3 19.8h0M156.3 41.3h0M142.8 24.6h0M140.8 20.9h0M134.6 32.7h0M146.3 29.6h0M144.0 28.3h0M152.3 27.3h0M141.1 29.2h0M158.0 38.4h0M146.6 25.8h0M137.4 37.6h0M131.8 16.0h0M156.5 29.5h0M144.6 42.4h0M147.7 19.2h0M135.8 30.0h0M149.8 26.3h0M151.6 33.8h0M133.9 32.7h0M144.3 18.1h0M147.2 44.1h0M148.1 38.9h0M149.5 30.8h0M153.9 40.1h0M143.6 20.6h0M149.8 31.3h0M144.9 19.7h0M134.8 33.1h0M144.8 30.4h0M138.1 34.2h0M147.8 21.1h0M152.3 47.3h0M153.1 23.3h0M143.5 51.5h0M141.2 29.6h0M153.2 32.5h0M153.6 34.3h0M137.5 41.4h0M151.8 50.3h0M139.3 23.9h0M134.9 26.5h0M145.3 34.5h0M139.5 25.8h0M148.1 37.5h0M148.4 28.8h0M130.7 28.9h0M149.5 18.3h0M140.2 19.4h0M151.3 26.5h0M152.2 24.4h0M151.5 38.3h0M150.9 32.5h0M147.8 18.2h0M132.7 16.0h0M139.5 35.5h0M140.4 27.8h0M146.7 44.9h0M141.6 43.2h0M137.8 17.2h0M151.8 28.9h0M153.4 29.1h0M138.3 16.1h0M134.8 25.3h0M152.7 18.7h0M149.3 33.7h0M144.1 16.5h0M147.2 30.0h0M142.6 28.8h0M148.6 23.8h0M130.9 46.1h0M149.8 43.6h0M142.9 43.3h0M155.4 40.2h0M151.3 33.2h0M158.2 24.4h0M148.7 27.8h0M135.0 23.5h0M141.7 29.0h0M155.7 32.4h0M132.3 32.1h0M141.2 47.6h0M146.0 26.1h0M137.8 30.2h0M151.7 31.7h0M142.3 36.8h0M146.6 42.1h0M139.5 35.3h0M154.5 37.2h0M147.7 34.8h0M133.7 46.3h0M145.2 32.7h0M153.9 30.4h0M139.2 37.9h0M158.9 31.0h0M152.6 27.9h0M145.0 23.7h0M145.6 38.7h0M150.5 21.5h0M140.2 40.0h0M130.5 33.4h0M148.9 29.2h0M148.9 28.8h0M137.9 29.9h0M145.2 19.8h0M159.1 34.7h0M151.3 42.7h0M143.0 34.3h0M158.4 18.6h0M151.1 20.7h0M152.2 36.0h0M147.4 33.0h0M142.3 47.4h0M137.4 21.5h0M141.0 17.2h0M156.5 22.8h0M147.1 47.2h0M147.5 37.6h0M137.1 33.0h0M137.7 38.2h0M136.6 38.6h0M136.5 16.3h0M145.2 29.6h0M144.0 45.2h0M143.0 14.8h0M154.2 42.2h0M134.8 36.8h0M144.4 42.8h0M147.8 40.6h0M143.0 31.2h0M138.4 29.9h0M152.9 35.2h0M143.9 22.9h0M150.1 41.1h0M146.7 31.1h0M141.5 31.1h0M137.7 27.8h0M139.4 37.1h0M140.8 38.2h0M147.0 41.8h0M156.5 29.6h0M134.8 40.2h0M135.4 41.3h0M140.8 43.5h0M134.4 19.7h0M149.7 18.7h0M134.3 29.2h0M149.4 39.8h0M146.4 37.9h0M142.3 29.3h0M137.7 22.6h0M145.1 26.9h0M141.9 26.0h0M155.6 32.3h0M147.4 41.6h0M139.6 39.6h0M139.1 42.0h0M147.0 27.4h0M140.6 22.4h0M132.9 43.9h0M153.0 15.9h0M139.3 38.2h0" stroke="#000" stroke-opacity="0.12" stroke-width="0.7" stroke-linecap="square" fill="none"/>
<path d="M152.8 24.2h0M139.7 32.4h0M148.5 37.5h0M132.2 31.7h0M144.5 25.1h0M135.1 39.3h0M129.5 26.3h0M152.2 33.6h0M147.6 26.9h0M133.0 30.9h0M151.2 26.2h0M147.0 20.8h0M144.5 29.5h0M148.2 24.9h0M136.9 47.1h0M144.1 24.7h0M155.2 35.2h0M148.2 33.7h0M147.4 43.5h0M154.5 26.0h0M151.3 41.1h0M138.5 46.3h0M144.9 37.4h0M132.9 37.1h0M139.3 33.4h0M129.9 22.0h0M148.8 35.7h0M136.0 34.6h0M154.6 28.4h0M137.4 25.4h0M144.3 18.3h0M149.7 16.1h0M153.6 34.1h0M133.4 31.4h0M145.4 15.6h0M142.1 34.2h0M139.7 22.4h0M153.4 24.7h0M160.0 28.7h0M137.1 35.2h0M144.9 33.6h0M156.0 38.1h0M144.3 35.3h0M146.7 17.7h0M138.9 27.9h0M134.6 41.3h0M155.7 29.3h0M144.9 25.9h0M160.0 26.8h0M151.6 20.2h0M141.3 20.4h0M132.6 16.9h0M153.1 18.7h0M142.1 35.1h0M135.4 43.2h0M158.5 43.5h0M148.6 38.4h0M131.3 31.6h0M157.0 51.2h0M137.0 38.6h0M150.7 19.5h0M132.6 23.9h0M134.5 40.4h0M133.2 25.9h0M134.1 40.8h0M149.6 18.6h0M137.6 40.3h0M154.6 40.3h0M135.8 42.3h0M149.5 36.8h0M136.3 27.9h0M143.3 26.1h0M141.3 48.2h0M145.2 22.4h0M133.4 29.1h0M148.1 34.3h0M147.2 35.9h0M151.2 28.5h0M151.5 30.6h0M150.6 38.0h0M137.2 33.5h0M153.6 40.4h0M150.6 25.6h0M136.1 48.1h0M154.6 40.5h0M152.9 27.5h0M142.9 36.7h0M152.6 40.4h0M150.6 30.6h0M159.1 35.8h0M142.6 41.8h0M141.9 26.9h0M142.8 31.7h0M137.8 42.3h0M139.0 36.1h0M152.9 22.6h0M139.2 23.8h0M142.9 49.2h0M149.6 25.4h0M150.1 29.0h0M145.9 36.6h0M138.5 36.9h0M154.4 28.9h0M140.5 29.3h0M145.7 36.4h0M142.6 29.3h0M141.6 33.1h0M152.7 44.6h0M137.4 41.2h0M153.4 44.6h0M140.8 21.9h0M142.5 43.5h0M150.3 21.5h0M156.9 24.3h0M159.6 26.3h0M141.6 41.6h0M139.3 38.4h0M147.1 20.0h0M149.4 47.0h0M132.2 46.9h0M147.9 28.6h0M136.9 35.3h0M134.9 19.4h0M146.0 38.2h0M138.8 41.1h0M137.9 36.5h0M156.1 35.4h0M136.9 36.8h0M154.5 17.0h0M141.6 19.9h0M149.5 40.0h0M156.3 49.9h0M157.5 35.7h0M144.5 33.1h0M142.6 22.0h0M128.8 33.8h0M145.3 26.4h0M135.6 38.0h0M152.6 37.3h0M151.5 21.5h0M154.3 44.4h0M146.4 39.2h0M146.8 31.4h0M156.5 21.4h0M147.5 30.3h0M156.0 16.8h0M145.8 29.7h0M136.7 49.5h0M140.9 38.2h0M142.8 28.4h0M144.6 27.8h0M153.4 37.4h0M155.9 41.1h0M159.9 15.9h0M129.2 34.7h0M158.6 35.7h0M142.9 19.8h0M151.7 33.5h0M134.1 24.1h0M141.4 38.8h0M156.7 30.4h0M147.8 36.7h0M140.8 23.3h0" stroke="#000" stroke-opacity="0.12" stroke-width="0.7" stroke-linecap="square" fill="none"/>
<path d="M136.2 49.4h0M145.7 49.6h0M141.6 50.6h0M144.5 48.1h0M139.8 50.0h0M137.2 50.8h0M147.3 51.1h0M139.3 50.1h0M146.3 48.4h0M143.9 49.5h0M140.5 49.7h0M144.4 49.3h0M151.9 51.5h0M144.8 50.1h0M144.4 50.7h0M149.2 51.7h0M145.9 48.2h0M144.7 48.2h0M147.8 49.1h0M130.6 50.9h0M136.5 48.7h0M138.2 49.5h0M140.1 49.8h0M152.7 50.8h0M140.3 49.6h0M139.5 49.8h0M133.4 50.3h0M140.3 48.1h0M140.0 50.7h0M145.9 50.8h0M140.2 49.8h0M134.0 50.1h0M139.2 48.5h0M141.9 50.5h0M133.1 49.9h0M149.2 49.0h0M142.1 50.0h0M140.0 49.9h0M142.1 51.1h0M139.5 47.3h0M141.2 48.9h0M142.8 50.5h0M137.0 49.0h0M142.6 48.1h0M143.8 50.7h0M146.3 48.8h0M148.8 50.4h0M139.8 49.4h0M147.7 51.3h0M139.7 49.2h0M142.5 50.2h0M130.9 47.7h0M139.7 51.6h0M138.4 50.4h0M138.7 50.0h0M138.3 50.1h0M141.6 48.4h0M143.7 51.1h0M138.4 49.4h0M143.9 50.3h0M137.0 49.5h0M150.8 50.1h0M144.7 50.2h0M141.5 49.4h0M141.0 49.3h0M140.6 49.8h0M136.1 49.2h0M150.4 49.9h0M144.6 51.1h0M133.2 49.2h0M154.8 48.6h0M146.6 49.9h0M146.8 49.4h0M142.4 49.3h0M142.6 50.7h0M142.1 50.4h0M142.3 51.1h0M142.8 49.9h0M140.2 50.0h0M141.7 49.8h0M140.9 48.6h0M144.4 48.1h0M139.5 50.2h0M147.1 50.9h0M143.3 48.1h0M140.6 49.0h0M141.7 48.7h0M137.6 50.0h0M152.3 48.2h0M140.7 51.0h0M145.7 50.1h0M147.2 50.3h0M143.2 49.3h0M134.6 51.5h0M141.0 49.5h0M144.2 49.7h0" stroke="#000" stroke-opacity="0.45" stroke-width="0.7" stroke-linecap="square" fill="none"/>
<path d="M139.0 50.1h0M135.1 49.8h0M139.8 51.4h0M145.7 48.5h0M141.5 49.4h0M146.1 51.1h0M142.0 50.1h0M144.9 51.6h0M148.6 50.4h0M140.9 48.7h0M145.9 50.1h0M147.7 50.7h0M141.7 50.8h0M144.6 49.8h0M141.7 50.7h0M143.3 49.7h0M144.8 50.3h0M149.4 49.9h0M153.0 48.7h0M141.7 49.8h0M139.8 48.4h0M142.0 50.7h0M146.1 50.6h0M143.3 50.2h0M138.9 48.2h0M131.6 49.6h0M138.0 50.3h0M141.6 49.4h0M147.8 50.6h0M144.0 49.9h0M143.2 48.6h0M142.7 51.1h0M138.0 49.8h0M140.3 49.9h0M149.7 50.0h0M146.0 49.9h0M144.3 49.8h0M138.7 48.2h0M133.6 49.9h0M132.7 50.0h0M150.4 50.5h0M143.2 48.7h0M146.8 49.4h0M145.2 50.8h0M149.9 49.5h0M147.7 50.2h0M138.5 50.3h0M139.0 50.2h0M140.1 50.6h0M140.7 48.4h0M145.6 49.1h0M149.7 47.8h0M151.2 50.8h0M139.8 48.4h0M140.8 49.4h0M152.4 51.0h0M142.1 47.5h0M140.2 48.3h0M141.4 49.4h0M136.1 49.7h0M139.9 49.2h0M141.6 50.4h0M140.9 50.1h0M140.7 47.7h0M133.8 49.3h0M142.4 49.7h0M138.9 49.6h0M140.5 49.6h0M142.3 47.9h0M147.5 51.2h0M141.8 48.3h0M141.8 50.0h0M142.1 50.2h0M134.7 49.2h0M144.4 50.2h0M133.6 51.2h0M142.4 48.8h0M147.3 50.8h0M151.2 50.3h0M143.1 48.2h0M143.3 51.4h0M131.2 49.4h0M141.2 49.2h0M145.8 46.2h0M149.4 50.2h0M144.8 49.4h0M148.6 48.7h0M148.2 49.7h0M145.1 49.9h0M145.3 48.8h0M148.3 50.3h0M153.1 49.1h0M144.6 48.3h0M141.0 50.2h0M141.7 51.0h0M134.0 50.6h0" stroke="#000" stroke-opacity="0.45" stroke-width="0.7" stroke-linecap="square" fill="none"/>
<path d="M132.3 50.6h0M139.3 50.4h0M130.5 48.7h0M142.5 48.8h0M152.8 49.8h0M150.9 48.8h0M150.9 47.8h0M133.2 49.8h0M128.9 49.7h0M143.2 49.5h0M136.0 49.7h0M137.0 50.2h0M138.6 48.2h0M143.6 49.2h0M133.1 48.9h0M135.7 50.2h0M144.2 48.6h0M136.2 51.3h0M143.6 51.1h0M136.6 50.2h0M149.9 48.3h0M146.1 49.5h0M139.4 47.5h0M139.4 48.7h0M140.4 50.4h0M141.4 48.5h0M139.9 50.5h0M145.3 49.3h0M147.2 50.3h0M142.1 49.5h0M132.1 50.1h0M150.4 50.2h0M131.7 49.9h0M138.3 49.3h0M143.8 48.7h0M137.2 50.9h0M140.1 50.3h0M138.6 49.3h0M130.9 48.6h0M142.4 49.7h0M140.1 51.1h0M146.9 50.0h0M142.2 50.5h0M146.3 51.6h0M150.7 51.7h0M144.1 50.0h0M145.6 49.0h0M148.0 50.9h0M143.6 49.7h0M144.6 49.8h0M141.5 48.0h0M144.4 51.4h0M153.9 50.5h0M139.3 49.8h0M136.0 48.3h0M151.2 50.3h0M140.6 51.6h0M139.7 49.4h0M135.9 49.9h0M133.4 50.8h0M136.8 47.9h0M142.3 51.1h0M148.0 47.6h0M145.8 48.9h0M133.0 48.8h0M152.9 50.3h0M139.1 48.9h0M141.1 51.4h0M145.1 49.2h0M145.8 48.7h0M148.8 50.3h0M132.8 50.9h0M150.1 50.3h0M142.6 49.6h0M145.5 50.1h0M135.8 50.8h0M147.6 50.1h0M143.4 48.1h0M141.8 51.2h0M147.1 50.3h0M139.1 48.7h0M138.8 49.6h0M140.0 50.6h0M137.3 49.5h0M139.2 50.0h0M135.2 49.2h0M151.1 50.9h0M136.4 50.0h0M141.7 49.4h0M150.1 48.4h0M147.6 49.8h0M148.3 50.4h0M135.5 50.7h0M142.7 50.3h0M148.0 51.3h0M146.6 49.4h0" stroke="#000" stroke-opacity="0.45" stroke-width="0.7" stroke-linecap="square" fill="none"/>
<path d="M165.6 48.9h0M161.8 35.3h0M163.1 39.2h0M163.6 39.5h0M166.6 29.9h0M162.2 29.0h0M160.8 34.6h0M166.0 31.1h0M158.9 30.8h0M163.6 40.4h0M165.2 42.2h0M165.6 31.7h0M159.7 29.7h0M163.7 39.6h0M165.6 34.2h0M161.8 42.1h0M162.4 49.1h0M163.4 27.9h0M167.8 31.3h0M163.5 38.0h0M159.7 32.7h0M161.2 38.5h0M160.3 28.7h0M159.4 25.7h0M162.7 39.0h0M163.8 41.7h0M159.8 37.7h0M164.3 33.2h0M160.7 31.1h0M163.2 25.0h0M157.6 42.2h0M160.7 50.5h0M167.2 25.0h0M161.5 39.2h0M161.0 28.7h0M169.1 51.2h0M163.4 42.1h0M157.7 32.4h0M162.6 47.5h0M159.0 44.6h0M164.3 30.7h0M164.8 38.0h0M162.7 27.0h0M160.2 41.5h0M165.1 43.9h0M163.3 31.1h0M169.6 36.1h0M167.6 34.6h0M165.1 47.6h0M160.9 47.3h0M156.1 32.0h0M165.4 37.2h0M165.2 32.4h0M164.7 35.4h0M159.6 43.3h0M163.1 24.8h0M162.1 41.2h0M165.7 31.9h0M163.1 32.4h0M161.4 46.4h0M163.6 34.6h0M165.0 51.4h0M165.0 38.2h0M165.0 47.9h0M161.9 28.8h0M162.3 45.6h0M163.0 42.4h0M162.2 39.3h0M166.2 48.5h0M164.3 44.3h0M162.3 46.8h0" stroke="#000" stroke-opacity="0.2" stroke-width="0.7" stroke-linecap="square" fill="none"/>
<path d="M163.5 47.1h0M164.8 31.7h0M166.2 45.0h0M167.9 18.7h0M164.3 45.5h0M165.2 31.8h0M160.0 41.7h0M159.0 48.5h0M166.1 35.2h0M162.3 47.6h0M157.3 40.4h0M164.3 35.6h0M160.5 39.6h0M164.2 37.5h0M157.9 32.1h0M161.5 29.6h0M167.1 29.4h0M163.2 47.1h0M166.1 36.0h0M160.8 33.9h0M161.1 37.9h0M159.0 15.3h0M165.0 28.6h0M164.5 41.3h0M162.0 31.0h0M163.5 30.4h0M161.8 33.7h0M164.3 38.6h0M163.5 44.0h0M156.3 31.0h0M160.6 24.5h0M158.3 27.4h0M160.7 39.7h0M165.5 35.2h0M161.2 25.4h0M166.2 36.0h0M160.7 46.1h0M164.4 34.0h0M155.6 42.1h0M159.7 32.5h0M163.7 46.2h0M160.1 48.7h0M163.1 40.2h0M165.0 35.4h0M160.4 26.9h0M157.6 38.5h0M165.9 45.9h0M162.8 35.2h0M161.7 26.6h0M169.8 40.5h0M167.4 43.5h0M161.1 40.8h0M159.8 26.9h0M166.1 34.5h0M159.7 40.2h0M161.9 44.7h0M166.1 41.4h0M158.8 41.6h0M161.5 29.4h0M159.2 37.2h0M165.3 38.1h0M166.3 43.8h0M164.9 37.6h0M162.0 41.3h0M166.4 39.7h0M162.0 34.3h0M160.6 31.1h0M163.5 30.3h0M160.4 46.4h0M168.2 29.3h0M165.3 29.7h0" stroke="#000" stroke-opacity="0.2" stroke-width="0.7" stroke-linecap="square" fill="none"/>
<path d="M164.2 24.7h0M161.9 30.9h0M163.7 40.5h0M162.7 41.1h0M161.9 23.3h0M168.6 39.7h0M167.7 36.9h0M166.8 23.6h0M162.7 44.3h0M162.2 32.2h0M159.2 32.0h0M169.0 37.8h0M163.2 46.3h0M164.1 44.8h0M164.0 18.6h0M168.4 49.6h0M162.4 29.7h0M163.8 36.3h0M163.8 38.7h0M164.5 37.5h0M163.7 39.1h0M163.0 25.1h0M163.9 34.4h0M163.9 40.4h0M169.0 23.3h0M162.5 34.4h0M165.1 29.6h0M163.7 30.2h0M166.2 34.0h0M161.0 25.5h0M162.0 43.3h0M162.5 31.7h0M164.6 45.8h0M162.0 34.0h0M164.0 25.0h0M161.1 47.4h0M160.5 38.5h0M161.5 43.9h0M164.4 25.3h0M164.6 34.9h0M163.8 20.1h0M160.9 50.1h0M164.5 46.0h0M160.0 29.9h0M166.5 25.2h0M162.3 49.0h0M161.3 30.7h0M162.4 32.7h0M163.0 25.7h0M159.7 43.8h0M158.7 24.3h0M161.1 22.3h0M163.6 31.1h0M160.9 21.9h0M164.3 32.2h0M167.7 36.2h0M160.6 40.4h0M163.9 45.3h0M160.0 33.1h0M161.1 49.4h0M161.4 49.8h0M163.3 29.0h0M160.8 29.6h0M167.0 31.0h0M161.5 24.5h0M164.8 27.9h0M163.6 36.9h0M160.9 41.3h0M165.1 37.5h0M164.7 36.6h0" stroke="#000" stroke-opacity="0.2" stroke-width="0.7" stroke-linecap="square" fill="none"/>
<path d="M160.4 49.7h0M161.6 51.3h0M159.9 48.1h0M160.7 48.7h0M159.4 49.0h0M163.8 49.3h0M161.3 49.5h0M159.9 48.0h0M159.9 50.3h0M163.3 49.2h0M161.6 48.9h0M160.5 47.1h0M160.0 50.0h0M162.8 49.2h0M162.2 48.7h0M160.5 48.2h0M160.0 50.4h0M161.9 51.2h0M160.9 48.5h0M162.8 49.7h0M161.0 50.0h0M158.2 50.8h0M161.7 50.7h0M161.3 50.2h0M157.1 49.3h0M158.3 50.1h0M162.6 50.7h0" stroke="#000" stroke-opacity="0.5" stroke-width="0.7" stroke-linecap="square" fill="none"/>
<path d="M158.1 50.3h0M161.0 49.1h0M163.1 49.7h0M159.4 49.9h0M158.9 50.8h0M162.4 47.4h0M159.4 50.4h0M160.6 51.6h0M161.8 49.2h0M162.2 49.0h0M160.2 49.8h0M160.7 48.9h0M163.1 49.6h0M159.4 49.4h0M160.4 49.2h0M163.7 51.0h0M160.6 50.1h0M160.9 51.7h0M160.7 49.0h0M161.0 49.6h0M158.4 50.3h0M160.3 46.5h0M162.2 49.6h0M158.9 48.9h0M161.5 49.0h0M160.8 49.7h0M161.8 50.8h0" stroke="#000" stroke-opacity="0.5" stroke-width="0.7" stroke-linecap="square" fill="none"/>
<path d="M160.8 49.6h0M164.4 49.0h0M161.9 49.6h0M161.2 51.1h0M158.5 50.2h0M160.2 47.8h0M161.6 49.0h0M159.5 49.9h0M157.4 49.0h0M157.3 49.9h0M159.8 49.8h0M159.3 49.9h0M157.9 48.8h0M162.0 49.7h0M160.9 47.4h0M164.3 50.3h0M159.2 48.9h0M166.4 48.2h0M160.8 50.4h0M161.2 50.1h0M164.4 49.7h0M160.5 50.1h0M157.1 48.4h0M161.9 47.6h0M156.4 49.5h0M162.2 49.0h0" stroke="#000" stroke-opacity="0.5" stroke-width="0.7" stroke-linecap="square" fill="none"/>
<ellipse cx="139" cy="50.2" rx="4" ry="1.1" transform="rotate(0 139 50.2)" fill="#000" fill-opacity="0.7"/>
<rect x="126.9" y="12.1" width="43.2" height="40" fill="none" stroke="#777" stroke-width="0.6"/>
<line x1="125.9" y1="48.77" x2="126.9" y2="48.77" stroke="#000" stroke-width="0.5"/>
<line x1="125.9" y1="42.1" x2="126.9" y2="42.1" stroke="#000" stroke-width="0.5"/>
<line x1="125.9" y1="35.43" x2="126.9" y2="35.43" stroke="#000" stroke-width="0.5"/>
<line x1="125.9" y1="28.77" x2="126.9" y2="28.77" stroke="#000" stroke-width="0.5"/>
<line x1="125.9" y1="22.1" x2="126.9" y2="22.1" stroke="#000" stroke-width="0.5"/>
<line x1="125.9" y1="15.43" x2="126.9" y2="15.43" stroke="#000" stroke-width="0.5"/>
<line x1="130.5" y1="52.1" x2="130.5" y2="53.1" stroke="#000" stroke-width="0.5"/>
<line x1="137.7" y1="52.1" x2="137.7" y2="53.1" stroke="#000" stroke-width="0.5"/>
<line x1="144.9" y1="52.1" x2="144.9" y2="53.1" stroke="#000" stroke-width="0.5"/>
<line x1="152.1" y1="52.1" x2="152.1" y2="53.1" stroke="#000" stroke-width="0.5"/>
<line x1="159.3" y1="52.1" x2="159.3" y2="53.1" stroke="#000" stroke-width="0.5"/>
<line x1="166.5" y1="52.1" x2="166.5" y2="53.1" stroke="#000" stroke-width="0.5"/>
<polygon points="128.6,14.8 161.1,14.8 154,51.6 128.6,51.6" fill="none" stroke="#888" stroke-width="0.6"/>
<text transform="translate(120,31.7) rotate(-90) scale(1,1.15)" x="0" y="2.74" font-size="7.6" text-anchor="middle" font-weight="normal" stroke="#000" stroke-width="0.15">SSC-A</text>
<text transform="translate(144.4,61.2) scale(1,1.15)" x="0" y="0" font-size="7.6" text-anchor="middle" font-weight="normal" font-style="normal" fill="#000" stroke="#000" stroke-width="0.15" >Live-Dead</text>
<polyline points="150.6,47.4 181.5,47.4" fill="none" stroke="#000" stroke-width="1.0"/>
<polygon points="185,47.4 181.2,49.3 181.2,45.5" fill="#000"/>
<path d="M216.4 47.8h0M217.0 44.2h0M217.8 49.1h0M218.9 38.0h0M214.9 45.4h0M218.2 41.9h0M218.5 43.8h0M217.7 42.8h0M217.0 45.9h0M215.5 39.9h0M218.1 43.2h0M215.8 45.0h0M220.1 41.1h0M217.2 48.1h0M219.0 37.8h0M216.7 45.9h0M217.0 43.1h0M216.8 47.1h0M218.6 38.3h0M216.4 49.6h0M216.8 49.6h0M214.1 46.2h0M217.6 41.1h0M215.0 43.7h0M222.0 38.2h0M217.4 50.0h0M218.4 52.3h0M218.8 46.4h0M219.7 41.8h0M217.7 47.8h0M218.3 43.7h0M220.4 44.6h0M221.1 40.6h0M217.8 42.5h0M220.4 41.6h0M216.4 41.0h0M219.7 39.4h0M217.4 45.1h0M217.3 50.3h0M219.3 40.4h0M220.3 42.6h0M214.5 41.6h0M217.6 42.6h0M215.7 41.4h0M221.7 43.7h0M219.0 47.1h0M216.9 40.2h0M221.4 41.4h0M215.8 42.1h0M217.7 51.2h0M218.3 48.7h0M219.5 42.2h0M216.0 41.1h0M218.4 41.9h0M218.8 44.6h0M219.7 51.1h0M218.1 47.5h0M220.0 48.1h0M215.3 36.5h0M217.7 42.6h0M216.3 43.1h0M222.7 44.8h0M213.8 46.7h0M216.9 41.6h0M219.9 45.5h0M216.2 38.4h0M220.2 42.5h0M220.9 39.7h0M215.2 49.4h0M216.0 42.2h0M218.2 43.9h0M217.1 42.7h0M219.8 50.0h0M218.9 42.9h0M218.0 47.1h0M217.3 45.9h0M219.0 49.5h0M220.8 38.3h0M216.3 46.9h0M218.7 45.1h0M217.2 48.3h0M217.9 47.6h0M219.7 36.8h0M214.1 49.5h0M219.9 36.6h0M217.2 52.1h0M219.2 38.4h0M217.2 42.3h0M215.0 41.7h0M216.6 40.9h0M216.2 46.6h0M215.9 45.0h0M214.6 48.1h0M215.4 48.5h0M219.5 44.0h0M216.0 45.2h0M218.1 38.4h0M217.7 45.8h0M218.6 50.8h0M216.7 42.0h0M216.5 41.2h0M217.0 31.2h0M218.2 47.8h0M219.3 41.8h0M221.0 39.2h0M217.1 44.2h0" stroke="#000" stroke-opacity="0.28" stroke-width="0.7" stroke-linecap="square" fill="none"/>
<path d="M219.5 39.7h0M220.8 42.9h0M219.7 46.3h0M215.0 47.7h0M215.6 44.4h0M218.5 50.8h0M224.4 35.0h0M226.3 46.6h0M221.8 45.2h0M218.7 46.5h0M219.7 44.6h0M214.7 44.6h0M216.8 40.7h0M219.0 32.9h0M216.2 41.4h0M217.4 44.3h0M218.7 44.3h0M217.9 49.3h0M217.1 53.9h0M215.3 42.6h0M217.3 40.1h0M220.0 41.3h0M217.0 42.4h0M218.7 39.2h0M220.9 45.2h0M219.7 42.2h0M216.0 43.5h0M215.8 38.8h0M217.1 45.7h0M215.4 48.2h0M219.2 47.0h0M218.9 45.4h0M219.0 50.0h0M219.0 39.2h0M213.7 53.6h0M219.4 39.7h0M216.8 40.1h0M217.8 50.4h0M217.0 43.9h0M217.2 47.9h0M216.9 47.8h0M217.5 38.3h0M215.8 49.9h0M217.7 42.4h0M218.2 42.1h0M216.8 43.0h0M219.2 45.4h0M219.7 37.6h0M223.7 41.9h0M216.5 36.5h0M215.6 39.8h0M215.5 47.4h0M217.1 41.6h0M219.7 43.7h0M218.2 44.1h0M221.0 42.1h0M218.1 42.5h0M215.2 44.7h0M219.4 42.3h0M216.0 36.1h0M218.5 52.1h0M223.0 33.0h0M219.8 49.5h0M217.9 45.6h0M221.8 54.0h0M220.0 39.7h0M216.9 47.8h0M219.1 41.2h0M215.0 48.6h0M218.6 40.7h0M214.1 44.7h0M220.5 42.0h0M219.3 41.5h0M214.5 46.4h0M217.5 47.3h0M219.4 50.3h0M222.5 40.3h0M220.2 48.3h0M215.4 42.4h0M217.3 43.7h0M213.9 48.6h0M221.8 41.9h0M218.0 42.7h0M218.0 52.3h0M219.2 40.8h0M220.4 38.3h0M215.7 49.4h0M222.1 39.1h0M220.7 44.2h0M217.8 49.3h0M214.6 41.3h0M215.2 39.2h0M217.7 42.5h0M218.7 43.3h0M215.8 46.8h0M220.8 46.6h0M215.8 43.5h0M219.0 39.3h0M213.6 44.1h0M215.1 43.7h0M218.1 43.8h0M218.6 50.0h0M218.8 49.3h0M220.3 46.6h0M220.6 32.2h0M213.7 49.8h0" stroke="#000" stroke-opacity="0.28" stroke-width="0.7" stroke-linecap="square" fill="none"/>
<path d="M218.4 41.6h0M219.5 37.5h0M217.8 39.5h0M215.2 51.6h0M216.0 43.8h0M216.5 47.7h0M217.9 35.7h0M221.4 50.2h0M218.4 46.2h0M216.5 42.2h0M219.5 37.7h0M217.4 40.1h0M213.7 43.2h0M221.8 39.5h0M219.6 47.9h0M218.2 46.7h0M215.5 51.3h0M212.3 52.3h0M220.1 38.6h0M216.3 53.4h0M220.0 46.9h0M218.6 45.1h0M215.4 43.3h0M218.9 52.7h0M218.5 41.2h0M217.1 41.8h0M217.9 40.4h0M220.6 45.6h0M217.9 38.8h0M220.3 40.2h0M216.3 37.5h0M222.3 39.0h0M215.0 45.2h0M215.8 46.4h0M220.4 45.8h0M221.6 44.9h0M219.0 42.8h0M218.4 39.3h0M217.2 45.5h0M220.0 48.2h0M215.8 43.2h0M219.9 40.8h0M217.1 44.6h0M216.9 44.3h0M222.7 51.7h0M218.6 44.4h0M213.7 43.6h0M220.7 39.2h0M215.3 45.5h0M217.3 45.4h0M217.5 47.5h0M216.9 50.9h0M216.7 41.2h0M217.3 50.3h0M220.0 40.5h0M215.1 41.5h0M221.9 41.4h0M217.6 39.6h0M219.5 39.3h0M219.1 44.6h0M216.0 46.3h0M221.4 44.3h0M220.8 44.1h0M217.2 43.9h0M216.2 41.0h0M216.2 42.4h0M219.0 46.0h0M219.9 47.7h0M219.2 40.1h0M220.3 37.9h0M217.1 32.5h0M220.5 50.6h0M219.0 48.3h0M219.8 38.2h0M220.8 37.6h0M214.2 43.0h0M218.1 39.1h0M220.6 34.4h0M217.5 47.7h0M217.5 47.0h0M217.2 48.8h0M218.5 43.1h0M216.7 42.8h0M217.1 38.4h0M217.4 44.9h0M221.2 38.2h0M217.4 40.8h0M215.2 46.0h0M217.6 40.5h0M220.7 41.6h0M218.2 38.8h0M216.8 43.9h0M217.9 40.7h0M220.8 40.9h0M214.6 46.1h0M216.9 43.4h0M220.4 36.1h0M221.1 38.6h0M218.7 44.7h0M219.7 40.8h0M217.9 43.8h0M215.5 40.2h0M217.8 45.3h0M220.5 42.1h0M215.5 46.4h0M219.4 43.6h0" stroke="#000" stroke-opacity="0.28" stroke-width="0.7" stroke-linecap="square" fill="none"/>
<path d="M220.4 31.3h0M223.0 32.7h0M214.5 24.1h0M218.3 30.8h0M213.0 37.4h0M221.2 33.6h0M226.7 29.9h0M220.4 24.4h0M221.1 25.8h0M219.6 28.3h0M219.2 30.3h0M214.6 32.2h0M219.6 24.1h0M219.1 26.4h0M218.4 16.3h0M220.5 26.7h0M220.4 31.7h0M216.5 25.8h0M212.6 40.5h0M218.6 29.5h0M216.2 16.9h0M224.0 31.1h0M221.7 29.3h0M221.5 27.6h0M218.1 37.4h0M220.2 31.7h0M215.8 33.1h0M218.6 30.5h0M216.6 31.4h0M220.6 22.9h0" stroke="#000" stroke-opacity="0.14" stroke-width="0.7" stroke-linecap="square" fill="none"/>
<path d="M223.4 30.7h0M218.0 33.0h0M221.2 28.1h0M217.6 25.7h0M218.9 36.0h0M215.7 36.5h0M224.1 27.4h0M216.5 31.4h0M216.6 22.9h0M224.6 26.9h0M214.5 36.0h0M219.0 37.3h0M220.4 23.1h0M216.8 29.1h0M219.0 37.5h0M215.3 34.1h0M219.1 31.0h0M220.9 27.4h0M221.3 33.3h0M217.0 30.3h0M219.2 25.6h0M222.4 38.9h0M217.8 25.2h0M223.4 36.4h0M220.7 29.3h0M218.8 31.8h0M220.6 33.6h0M217.1 37.8h0M218.3 34.9h0M216.6 34.0h0" stroke="#000" stroke-opacity="0.14" stroke-width="0.7" stroke-linecap="square" fill="none"/>
<path d="M214.9 27.9h0M219.5 33.0h0M220.2 40.9h0M219.0 20.9h0M219.6 30.3h0M216.4 30.6h0M221.0 29.7h0M214.6 24.5h0M219.6 27.3h0M213.5 30.1h0M219.1 29.2h0M218.0 22.2h0M218.8 28.1h0M217.5 30.3h0M220.1 32.9h0M222.3 32.7h0M219.2 31.3h0M212.2 30.1h0M217.3 22.9h0M221.2 32.9h0M220.5 38.9h0M219.4 31.0h0M219.3 25.9h0M215.7 35.7h0M221.2 26.3h0M216.4 32.7h0M217.7 46.9h0M218.0 35.3h0M218.5 24.7h0M214.0 34.0h0" stroke="#000" stroke-opacity="0.14" stroke-width="0.7" stroke-linecap="square" fill="none"/>
<path d="M210.8 50.2h0M216.5 51.6h0M216.0 51.5h0M211.0 52.6h0M223.9 52.0h0M213.1 51.1h0M213.9 49.3h0M216.0 50.3h0M206.1 51.0h0M215.5 51.2h0M209.3 52.4h0M211.2 51.4h0M208.4 51.2h0M217.1 51.3h0M218.4 50.2h0M217.4 49.5h0M212.2 51.1h0M215.4 50.0h0M207.0 50.7h0M214.8 49.7h0M216.8 51.6h0M216.1 52.3h0M213.2 50.4h0M202.7 51.0h0M216.7 50.3h0M206.7 52.1h0M219.8 49.9h0M211.7 52.2h0M207.9 50.7h0M210.2 50.3h0M216.7 51.0h0M211.5 51.9h0M219.3 52.5h0M208.7 50.8h0M213.4 51.1h0M211.0 50.9h0M213.9 49.8h0M215.4 52.6h0M212.9 50.7h0M207.6 50.4h0M211.5 50.1h0M209.5 50.2h0M204.7 51.6h0M209.6 51.7h0M208.7 51.9h0M210.1 50.8h0M209.5 49.6h0M209.0 51.6h0M214.7 50.3h0M217.2 51.4h0M222.4 50.0h0M212.5 52.2h0M200.7 50.6h0M207.5 50.8h0M213.0 51.3h0M215.2 50.8h0M202.5 50.2h0M211.7 53.3h0M204.6 51.2h0M214.0 51.9h0M220.9 51.2h0M218.0 50.6h0M219.9 51.8h0M200.7 51.9h0M218.0 51.7h0M211.4 50.2h0M209.0 52.6h0M202.0 51.9h0M212.5 50.6h0M205.7 50.1h0M217.5 49.6h0M208.0 51.4h0M222.8 51.0h0M217.8 51.8h0M210.4 51.7h0M211.2 50.9h0M218.5 50.4h0M215.5 52.1h0M219.5 52.1h0M218.4 52.1h0M214.4 52.0h0M213.3 50.0h0M210.6 51.8h0M213.8 51.7h0M219.9 51.2h0M217.0 52.1h0M214.9 52.2h0M222.5 51.0h0M208.7 51.0h0M209.8 49.8h0M213.6 53.0h0M210.5 51.0h0M213.9 52.1h0M210.0 50.7h0M213.8 52.1h0M212.6 51.0h0M215.3 50.8h0M221.2 49.9h0M211.2 50.7h0M212.9 53.1h0" stroke="#000" stroke-opacity="0.4" stroke-width="0.7" stroke-linecap="square" fill="none"/>
<path d="M213.9 51.5h0M212.5 50.3h0M214.2 52.1h0M203.1 51.2h0M216.5 50.2h0M210.6 51.5h0M218.0 51.9h0M216.7 50.1h0M215.4 49.9h0M210.8 50.5h0M217.7 49.8h0M216.7 50.5h0M212.6 50.4h0M209.0 51.6h0M212.3 50.5h0M215.0 50.5h0M214.8 51.0h0M213.0 50.9h0M209.0 51.5h0M215.1 50.4h0M221.2 51.1h0M214.6 50.5h0M201.1 50.5h0M204.4 52.7h0M215.6 51.0h0M213.3 50.1h0M220.7 51.1h0M213.7 49.5h0M208.8 51.0h0M217.0 50.9h0M209.5 52.1h0M207.3 52.2h0M215.8 51.1h0M212.0 50.7h0M219.6 50.5h0M216.6 51.0h0M212.4 50.4h0M219.8 51.6h0M210.0 50.8h0M215.7 49.6h0M210.8 49.4h0M215.7 52.3h0M213.7 52.9h0M205.3 51.6h0M221.8 50.6h0M207.2 50.9h0M206.6 50.2h0M215.7 50.4h0M214.1 51.0h0M208.2 51.9h0M208.6 50.7h0M214.9 52.2h0M207.8 51.1h0M212.1 48.7h0M208.1 51.0h0M209.0 52.1h0M203.6 52.1h0M218.9 49.8h0M224.8 52.4h0M205.8 49.4h0M220.3 50.5h0M217.4 50.4h0M206.8 51.8h0M217.4 51.4h0M215.5 50.8h0M214.3 50.6h0M207.4 51.4h0M219.1 52.3h0M219.7 50.4h0M210.7 51.1h0M197.8 50.7h0M222.7 50.9h0M216.1 52.1h0M215.4 51.9h0M209.7 51.4h0M213.7 50.8h0M211.8 50.3h0M221.2 52.1h0M217.2 51.7h0M207.8 51.8h0M218.2 51.8h0M216.6 49.8h0M215.3 51.6h0M213.1 52.0h0M218.1 51.2h0M212.7 51.7h0M210.8 49.4h0M213.1 50.5h0M209.2 52.2h0M221.3 49.2h0M202.7 49.8h0M208.4 51.1h0M222.9 50.5h0M210.1 49.5h0M210.6 50.9h0M222.4 50.7h0M222.5 50.7h0M220.8 51.0h0M201.8 51.5h0M215.0 50.7h0" stroke="#000" stroke-opacity="0.4" stroke-width="0.7" stroke-linecap="square" fill="none"/>
<path d="M210.0 50.8h0M208.3 50.5h0M211.4 50.6h0M214.9 51.0h0M215.2 50.7h0M220.6 51.9h0M212.0 50.6h0M208.6 51.0h0M217.3 50.5h0M204.9 50.4h0M216.7 51.2h0M211.7 51.1h0M209.0 51.3h0M213.8 51.5h0M208.9 52.7h0M218.4 51.1h0M212.0 50.9h0M210.7 51.6h0M210.8 51.0h0M211.8 50.9h0M210.8 50.6h0M214.3 51.2h0M217.9 51.2h0M213.9 50.0h0M207.5 51.6h0M204.5 52.4h0M212.0 50.9h0M222.8 51.7h0M214.8 51.2h0M223.5 50.3h0M213.6 50.2h0M216.2 50.8h0M221.6 52.3h0M206.0 51.8h0M212.7 51.2h0M219.2 50.4h0M219.4 51.6h0M209.8 49.8h0M205.2 52.3h0M217.3 51.8h0M219.5 51.0h0M207.0 50.5h0M212.4 50.6h0M214.2 50.6h0M215.5 52.5h0M212.6 50.6h0M216.0 50.6h0M210.0 51.6h0M218.3 50.3h0M217.3 49.9h0M216.7 51.5h0M226.5 51.2h0M213.5 49.9h0M217.7 51.0h0M218.0 51.9h0M215.5 50.6h0M213.9 50.3h0M212.4 49.9h0M213.2 50.7h0M222.2 51.2h0M215.4 52.4h0M206.0 51.5h0M216.4 50.6h0M204.4 49.7h0M215.0 50.5h0M217.7 51.6h0M218.4 52.1h0M201.9 50.4h0M219.1 51.5h0M218.0 50.8h0M215.3 50.7h0M209.4 50.2h0M218.4 50.2h0M210.2 50.9h0M207.5 50.9h0M211.9 49.1h0M218.0 50.2h0M216.1 49.9h0M213.4 50.5h0M214.3 51.8h0M206.2 51.7h0M217.5 52.5h0M206.4 51.6h0M214.5 51.6h0M215.7 50.6h0M215.3 50.0h0M214.2 50.5h0M214.4 50.5h0M207.4 51.0h0M220.3 49.8h0M219.6 51.2h0M220.5 50.7h0M214.7 50.5h0M203.4 50.4h0M216.4 51.7h0M210.8 49.6h0M217.2 51.9h0M212.7 50.8h0M213.5 50.2h0M221.5 50.3h0" stroke="#000" stroke-opacity="0.4" stroke-width="0.7" stroke-linecap="square" fill="none"/>
<path d="M199.3 36.0h0M199.4 40.9h0M200.5 32.2h0M197.4 39.0h0M205.5 41.1h0M215.7 48.0h0M207.5 45.2h0M215.5 42.6h0M195.6 40.4h0M198.5 39.3h0M193.3 44.2h0M195.3 34.8h0M202.6 48.4h0M198.5 41.5h0M204.1 41.6h0M209.8 37.0h0" stroke="#000" stroke-opacity="0.2" stroke-width="0.7" stroke-linecap="square" fill="none"/>
<path d="M198.8 46.0h0M197.8 40.0h0M202.6 38.8h0M200.9 38.6h0M205.7 42.8h0M206.3 37.2h0M209.4 42.0h0M200.8 51.0h0M197.9 44.4h0M197.2 47.5h0M192.7 41.7h0M212.1 38.2h0M193.0 31.8h0M205.9 31.0h0M197.1 33.5h0M203.7 38.6h0" stroke="#000" stroke-opacity="0.2" stroke-width="0.7" stroke-linecap="square" fill="none"/>
<path d="M203.6 34.6h0M196.0 34.5h0M194.8 35.5h0M195.1 51.4h0M198.7 40.9h0M202.7 48.6h0M203.1 35.4h0M197.3 40.2h0M199.4 35.6h0M204.1 41.3h0M200.4 35.7h0M199.0 47.6h0M219.5 39.9h0M201.8 40.0h0M191.7 37.1h0M204.2 40.4h0" stroke="#000" stroke-opacity="0.2" stroke-width="0.7" stroke-linecap="square" fill="none"/>
<ellipse cx="215" cy="50.8" rx="4.5" ry="1.1" transform="rotate(0 215 50.8)" fill="#000" fill-opacity="0.75"/>
<ellipse cx="218" cy="46.5" rx="1.4" ry="2.8" transform="rotate(8 218 46.5)" fill="#000" fill-opacity="0.55"/>
<rect x="186.4" y="11.4" width="42.4" height="43.1" fill="none" stroke="#777" stroke-width="0.6"/>
<line x1="185.4" y1="50.91" x2="186.4" y2="50.91" stroke="#000" stroke-width="0.5"/>
<line x1="185.4" y1="43.73" x2="186.4" y2="43.73" stroke="#000" stroke-width="0.5"/>
<line x1="185.4" y1="36.54" x2="186.4" y2="36.54" stroke="#000" stroke-width="0.5"/>
<line x1="185.4" y1="29.36" x2="186.4" y2="29.36" stroke="#000" stroke-width="0.5"/>
<line x1="185.4" y1="22.17" x2="186.4" y2="22.17" stroke="#000" stroke-width="0.5"/>
<line x1="185.4" y1="14.99" x2="186.4" y2="14.99" stroke="#000" stroke-width="0.5"/>
<line x1="189.93" y1="54.5" x2="189.93" y2="55.5" stroke="#000" stroke-width="0.5"/>
<line x1="197" y1="54.5" x2="197" y2="55.5" stroke="#000" stroke-width="0.5"/>
<line x1="204.07" y1="54.5" x2="204.07" y2="55.5" stroke="#000" stroke-width="0.5"/>
<line x1="211.13" y1="54.5" x2="211.13" y2="55.5" stroke="#000" stroke-width="0.5"/>
<line x1="218.2" y1="54.5" x2="218.2" y2="55.5" stroke="#000" stroke-width="0.5"/>
<line x1="225.27" y1="54.5" x2="225.27" y2="55.5" stroke="#000" stroke-width="0.5"/>
<polygon points="214.4,19.4 224.9,19.4 224.2,51.5 204,51.5 205,49" fill="none" stroke="#888" stroke-width="0.6"/>
<text transform="translate(178.4,31.7) rotate(-90) scale(1,1.15)" x="0" y="2.74" font-size="7.6" text-anchor="middle" font-weight="normal" stroke="#000" stroke-width="0.15">SSC-A</text>
<text transform="translate(196.6,62.5) scale(1,1.15)" x="0" y="0" font-size="7.6" text-anchor="middle" font-weight="normal" font-style="normal" fill="#000" stroke="#000" stroke-width="0.15" >CD45</text>
<polyline points="221.2,47.4 245.5,47.4" fill="none" stroke="#000" stroke-width="1.0"/>
<polygon points="249,47.4 245.2,49.3 245.2,45.5" fill="#000"/>
<polyline points="216.9,53.3 216.9,76.8" fill="none" stroke="#000" stroke-width="1.0"/>
<polygon points="216.9,80.3 215,76.5 218.8,76.5" fill="#000"/>
<path d="M262.7 43.2h0M259.8 42.9h0M257.1 42.1h0M262.2 41.8h0M270.8 40.3h0M268.7 41.7h0M269.5 42.1h0M260.6 42.2h0M264.1 42.9h0M269.6 42.2h0M257.4 42.2h0M267.3 42.6h0M267.9 42.9h0M267.3 42.3h0M270.9 41.6h0M261.6 41.9h0M272.0 42.8h0M258.3 41.3h0M261.3 40.5h0M266.0 41.8h0M268.3 43.4h0M259.5 41.1h0M261.4 41.3h0M252.7 44.0h0M257.9 42.5h0M264.0 43.7h0M268.2 42.0h0M257.1 42.1h0M267.3 42.7h0M258.8 42.7h0M269.5 43.2h0M266.1 41.6h0M262.3 42.0h0M267.2 42.0h0M273.7 41.1h0M259.8 43.3h0M278.0 42.6h0M265.3 42.6h0M270.5 41.6h0M269.2 41.3h0M254.4 43.7h0M266.3 42.4h0M269.2 40.5h0M259.6 42.8h0M268.2 40.4h0M260.5 41.6h0M266.4 41.4h0M266.7 42.3h0M260.0 42.8h0M257.9 41.8h0M264.1 40.6h0M268.4 41.6h0M264.2 42.4h0M263.1 41.6h0M265.8 43.2h0M264.5 41.8h0M270.6 41.0h0M263.8 42.0h0M268.0 41.8h0M262.7 41.8h0M266.5 42.3h0M257.3 41.0h0M257.1 42.6h0M264.5 41.1h0M260.0 42.4h0M257.3 42.2h0M262.2 42.2h0M268.4 41.0h0M268.5 42.6h0M275.4 39.8h0M263.1 42.2h0M258.1 42.9h0M270.7 41.8h0M262.8 41.0h0M274.5 42.6h0M265.6 41.7h0M263.5 43.5h0M271.6 41.9h0M261.7 40.5h0M265.1 40.9h0M258.5 42.0h0M271.5 41.5h0M267.9 43.0h0M261.8 42.1h0M262.7 40.8h0M266.8 41.9h0M260.6 41.9h0M250.8 43.3h0M254.4 42.4h0M263.5 41.1h0M269.8 40.4h0M270.5 42.7h0M262.9 43.0h0M261.2 41.8h0M258.7 44.9h0M263.6 43.2h0M265.9 40.4h0M282.4 41.3h0M272.4 41.7h0M267.8 42.3h0M265.3 41.0h0M261.3 41.6h0M276.3 42.3h0M258.7 42.0h0M256.3 42.0h0M262.3 41.5h0M278.4 41.8h0M262.8 42.1h0M265.9 41.1h0M270.2 41.2h0M266.5 43.0h0M268.0 41.9h0M270.2 40.7h0M266.6 42.9h0M257.7 41.2h0M255.6 41.8h0M260.1 43.1h0" stroke="#000" stroke-opacity="0.35" stroke-width="0.7" stroke-linecap="square" fill="none"/>
<path d="M263.8 41.1h0M268.9 43.5h0M265.7 42.3h0M266.6 42.4h0M262.6 42.0h0M265.8 43.0h0M271.9 41.9h0M252.4 43.0h0M265.0 42.8h0M266.3 42.2h0M268.2 41.2h0M272.1 42.0h0M254.9 42.8h0M269.4 42.1h0M265.2 41.1h0M261.0 42.0h0M260.9 42.6h0M267.4 41.6h0M265.0 42.1h0M261.9 40.9h0M264.3 40.7h0M265.9 42.5h0M258.8 42.4h0M260.6 42.1h0M264.2 42.8h0M258.1 42.6h0M266.3 42.2h0M261.4 42.0h0M253.7 42.9h0M270.6 42.5h0M270.9 41.8h0M268.7 41.3h0M255.2 43.1h0M261.8 43.7h0M265.4 41.4h0M269.4 41.1h0M262.4 41.9h0M265.4 40.9h0M264.4 41.9h0M265.6 40.0h0M267.2 41.3h0M263.7 41.5h0M260.5 41.1h0M266.2 43.6h0M260.8 42.0h0M270.1 42.1h0M263.7 40.8h0M266.8 43.5h0M270.1 42.3h0M256.3 42.2h0M268.5 42.4h0M269.1 41.9h0M268.7 42.0h0M265.9 42.1h0M270.7 41.2h0M261.9 41.1h0M267.3 41.6h0M253.5 42.8h0M265.9 42.2h0M275.7 42.8h0M261.5 41.4h0M260.9 42.4h0M267.8 41.8h0M265.3 41.0h0M270.8 40.0h0M257.9 42.3h0M266.7 42.2h0M264.2 44.5h0M263.0 43.6h0M266.6 40.5h0M261.1 42.1h0M258.5 42.9h0M255.5 42.9h0M265.2 41.7h0M261.8 41.5h0M258.9 42.0h0M272.9 41.5h0M262.5 41.8h0M268.9 41.7h0M255.1 42.5h0M257.5 42.1h0M260.6 43.8h0M269.9 42.3h0M265.3 42.0h0M269.1 42.2h0M255.7 41.5h0M259.3 41.9h0M265.0 41.5h0M270.4 41.2h0M261.4 41.1h0M265.0 40.8h0M264.4 42.1h0M266.5 42.8h0M258.4 42.1h0M264.3 43.0h0M252.8 43.2h0M265.8 41.4h0M267.6 41.8h0M269.3 41.6h0M266.1 41.0h0M259.5 42.7h0M277.2 41.7h0M257.7 42.3h0M259.4 42.5h0M268.1 42.2h0M263.1 41.1h0M263.8 42.0h0M270.0 42.4h0M256.0 41.9h0M260.8 42.8h0M266.4 41.9h0M262.4 41.1h0M272.0 41.6h0M265.3 40.8h0M265.9 41.2h0M272.2 40.9h0M265.7 42.3h0" stroke="#000" stroke-opacity="0.35" stroke-width="0.7" stroke-linecap="square" fill="none"/>
<path d="M263.6 42.5h0M262.1 42.7h0M264.9 42.0h0M268.2 42.6h0M262.1 43.0h0M263.5 41.9h0M268.7 41.4h0M269.8 41.8h0M275.6 42.0h0M265.5 42.8h0M264.6 41.5h0M261.7 42.4h0M256.4 43.0h0M262.1 42.4h0M270.6 41.3h0M271.2 42.3h0M272.4 43.4h0M260.4 42.6h0M268.2 42.6h0M263.1 42.9h0M269.1 42.6h0M259.8 42.0h0M263.3 41.6h0M259.7 42.6h0M259.8 41.8h0M262.0 42.4h0M262.3 42.0h0M268.6 42.1h0M264.9 41.9h0M264.7 42.5h0M265.5 42.1h0M261.2 42.5h0M265.0 41.9h0M262.9 42.9h0M270.0 41.5h0M270.7 41.9h0M260.8 42.3h0M261.2 43.3h0M265.0 40.7h0M266.2 43.0h0M257.5 43.3h0M269.1 41.1h0M271.2 40.3h0M273.8 42.0h0M264.1 41.0h0M263.4 41.9h0M268.2 42.6h0M265.9 40.9h0M269.0 41.9h0M258.5 42.4h0M258.3 42.5h0M270.1 41.9h0M262.8 41.5h0M264.5 42.0h0M266.9 41.6h0M253.1 42.8h0M266.2 41.3h0M264.1 40.1h0M262.8 41.3h0M262.5 41.8h0M274.3 42.3h0M267.5 41.6h0M262.5 42.6h0M269.5 42.1h0M264.2 43.3h0M253.1 41.3h0M270.5 42.2h0M275.9 42.1h0M263.0 42.0h0M261.6 42.1h0M259.0 42.0h0M262.8 41.9h0M250.6 42.9h0M274.7 41.1h0M271.4 41.5h0M260.0 41.0h0M265.5 42.4h0M270.6 43.8h0M265.6 42.9h0M259.1 42.5h0M262.7 42.6h0M266.7 42.4h0M268.6 41.1h0M266.4 41.9h0M260.5 42.6h0M261.9 43.4h0M266.5 40.2h0M269.7 42.5h0M263.3 42.8h0M267.6 40.5h0M263.3 42.9h0M266.1 42.4h0M267.3 42.4h0M264.0 42.7h0M270.0 39.7h0M260.3 41.9h0M261.2 42.7h0M261.3 42.4h0M277.4 40.0h0M259.2 42.1h0M270.0 41.3h0M264.5 42.8h0M262.8 41.8h0M265.0 40.8h0M264.3 39.4h0M262.6 41.6h0M264.2 42.2h0M266.4 43.0h0M264.5 42.3h0M270.7 41.3h0M254.4 43.6h0M264.3 41.9h0M270.7 40.9h0M263.2 42.5h0M268.2 40.9h0M264.8 42.2h0" stroke="#000" stroke-opacity="0.35" stroke-width="0.7" stroke-linecap="square" fill="none"/>
<path d="M253.7 36.5h0M265.7 40.4h0M265.3 41.3h0M265.6 38.9h0M279.9 40.4h0M272.6 41.7h0M257.5 39.1h0M254.8 42.5h0M263.3 37.1h0M270.2 38.1h0M270.6 38.7h0M266.3 35.0h0M268.8 39.9h0M274.0 34.0h0M271.6 35.1h0M274.4 31.3h0M265.2 35.9h0M266.3 38.0h0M269.6 38.1h0M262.8 40.4h0M281.6 37.0h0M266.5 38.5h0M258.4 33.7h0M276.9 37.6h0M275.6 42.0h0M253.9 39.0h0M266.6 40.3h0M270.6 36.6h0M273.9 38.1h0M269.3 40.1h0M259.9 36.5h0M268.7 36.7h0M270.1 40.8h0M264.8 38.2h0M274.5 37.8h0M269.0 38.3h0M265.3 40.7h0M266.3 38.5h0M256.5 40.3h0M261.1 37.6h0M275.6 37.5h0M277.3 33.1h0M263.6 34.1h0M275.3 36.1h0M287.5 38.5h0M263.3 38.1h0M269.8 37.4h0M259.7 36.8h0M271.7 38.5h0M258.6 40.4h0M265.5 41.7h0M265.9 39.6h0M269.0 38.2h0M283.7 37.7h0M278.8 39.1h0M276.1 35.9h0M272.8 36.5h0M259.6 42.2h0M263.6 38.7h0M269.3 41.0h0M263.3 44.1h0M256.0 42.5h0M258.1 38.8h0M264.7 35.2h0M272.5 40.4h0M265.8 41.5h0M263.3 37.7h0M272.6 38.6h0M268.7 37.6h0M274.2 34.3h0M280.8 33.0h0M250.9 40.4h0M271.5 36.9h0M269.4 42.6h0M270.5 36.9h0M257.4 39.7h0M274.7 36.3h0M268.9 37.7h0M258.9 43.9h0M275.7 38.9h0M270.2 42.6h0M258.6 42.4h0M259.3 40.7h0M276.4 40.1h0M268.8 37.9h0M265.9 35.0h0M261.7 42.3h0M276.7 40.2h0M271.9 38.0h0M272.3 38.4h0M281.3 37.2h0M268.4 37.5h0M278.1 36.9h0M276.7 39.3h0M272.1 37.7h0M276.2 35.5h0M272.4 39.5h0M272.9 35.1h0" stroke="#000" stroke-opacity="0.18" stroke-width="0.7" stroke-linecap="square" fill="none"/>
<path d="M266.1 41.0h0M279.5 35.2h0M261.0 37.2h0M271.5 37.5h0M274.4 37.5h0M256.6 38.4h0M278.2 39.3h0M270.7 35.8h0M262.1 37.4h0M265.2 44.5h0M263.6 39.0h0M274.8 40.8h0M274.0 40.3h0M266.3 36.1h0M266.9 39.2h0M278.4 36.2h0M257.3 40.6h0M280.5 36.0h0M270.0 37.5h0M268.4 38.2h0M263.0 38.9h0M269.2 39.8h0M274.5 40.8h0M266.3 35.3h0M264.2 40.4h0M256.3 39.8h0M260.7 42.2h0M255.4 42.3h0M268.1 41.4h0M269.4 39.2h0M276.4 36.1h0M260.5 42.4h0M258.4 42.0h0M257.6 46.0h0M278.2 36.8h0M267.5 43.2h0M271.2 40.8h0M268.4 33.9h0M279.8 36.3h0M265.1 42.6h0M262.5 40.8h0M271.5 34.6h0M266.9 39.0h0M269.4 35.9h0M271.7 41.9h0M276.4 38.3h0M265.0 34.6h0M261.5 43.3h0M269.9 40.5h0M265.1 39.6h0M263.2 36.6h0M261.3 39.4h0M255.4 41.5h0M275.0 35.2h0M272.0 42.1h0M259.2 41.3h0M271.0 41.4h0M282.7 33.6h0M259.8 38.3h0M269.3 36.0h0M271.8 38.8h0M265.9 37.0h0M275.3 42.4h0M266.4 35.3h0M273.0 39.2h0M262.5 38.8h0M272.9 39.1h0M275.0 40.6h0M270.4 39.4h0M274.7 38.2h0M261.9 41.6h0M270.2 40.5h0M263.2 44.6h0M263.6 41.0h0M267.6 38.2h0M267.3 37.0h0M265.6 41.9h0M268.7 36.4h0M262.2 34.7h0M281.7 36.9h0M272.4 38.9h0M262.8 40.8h0M288.9 36.7h0M253.1 41.7h0M273.8 39.5h0M279.9 41.3h0M283.2 39.0h0M256.2 36.7h0M267.9 38.9h0M270.3 37.7h0M270.3 36.9h0M259.3 40.5h0M252.7 40.9h0M263.2 38.2h0M282.6 34.4h0M274.1 37.2h0M281.2 39.4h0" stroke="#000" stroke-opacity="0.18" stroke-width="0.7" stroke-linecap="square" fill="none"/>
<path d="M279.4 36.7h0M272.6 37.6h0M273.0 38.1h0M273.9 39.1h0M268.4 37.4h0M264.2 36.9h0M268.0 39.0h0M269.3 38.2h0M271.5 39.3h0M253.4 44.0h0M257.9 36.8h0M270.0 39.2h0M282.0 37.0h0M279.6 43.2h0M269.7 41.4h0M263.9 43.1h0M275.5 41.7h0M279.4 37.9h0M262.4 39.4h0M266.2 38.6h0M273.0 37.7h0M270.8 34.4h0M278.2 37.9h0M261.4 38.4h0M269.7 36.7h0M266.6 38.7h0M254.6 41.0h0M262.7 41.6h0M270.4 36.2h0M266.6 38.8h0M269.0 35.0h0M276.0 32.5h0M263.3 37.1h0M263.9 37.6h0M270.6 38.8h0M262.2 38.4h0M257.3 41.1h0M270.0 39.0h0M272.3 37.8h0M273.9 36.3h0M260.1 36.1h0M267.5 38.5h0M260.7 39.8h0M271.0 40.1h0M260.4 42.7h0M277.7 34.0h0M275.2 38.5h0M266.9 38.3h0M270.7 40.8h0M267.4 37.5h0M272.9 40.7h0M276.8 39.7h0M271.9 41.1h0M277.6 39.8h0M263.1 41.3h0M269.2 40.3h0M265.2 38.7h0M274.3 40.4h0M269.6 40.4h0M279.7 40.3h0M282.1 30.9h0M280.0 38.6h0M252.8 41.8h0M264.6 43.5h0M275.4 35.2h0M278.1 41.4h0M263.3 41.2h0M262.9 40.6h0M267.7 37.9h0M269.7 33.0h0M263.5 38.7h0M266.2 39.9h0M262.2 43.0h0M270.9 38.1h0M274.2 38.0h0M278.8 38.6h0M257.4 41.5h0M269.7 35.9h0M275.7 36.1h0M272.7 36.0h0M252.9 40.3h0M261.2 44.8h0M261.8 41.5h0M252.4 46.0h0M259.7 44.3h0M278.4 39.0h0M280.7 35.4h0M262.8 40.1h0M269.3 40.4h0M274.5 37.0h0M265.8 39.9h0M269.8 40.3h0M253.5 38.0h0M267.1 34.9h0M276.1 36.3h0M261.9 39.6h0M252.6 40.3h0" stroke="#000" stroke-opacity="0.18" stroke-width="0.7" stroke-linecap="square" fill="none"/>
<path d="M260.8 25.4h0M265.2 24.1h0M264.6 25.0h0M264.6 20.4h0M260.7 26.7h0M263.4 28.8h0M262.3 25.3h0M262.6 26.4h0M263.5 27.3h0M262.9 24.5h0M264.4 27.1h0M262.2 28.6h0M262.8 23.8h0M260.4 26.1h0M265.7 22.0h0M262.1 27.0h0M264.7 25.5h0M261.2 25.2h0M263.4 28.0h0M262.3 28.1h0" stroke="#000" stroke-opacity="0.35" stroke-width="0.7" stroke-linecap="square" fill="none"/>
<path d="M262.2 28.3h0M262.6 23.1h0M261.5 23.6h0M259.3 27.9h0M263.8 25.5h0M264.2 23.8h0M261.7 26.4h0M260.8 28.3h0M263.7 25.6h0M262.1 30.0h0M264.5 22.6h0M263.0 25.5h0M262.6 24.2h0M263.0 23.2h0M265.2 23.5h0M263.9 24.6h0M262.2 25.8h0M261.5 27.8h0M262.2 23.3h0M263.0 21.6h0" stroke="#000" stroke-opacity="0.35" stroke-width="0.7" stroke-linecap="square" fill="none"/>
<path d="M263.1 26.2h0M263.0 27.2h0M260.5 25.4h0M260.2 25.8h0M263.8 25.2h0M261.4 24.7h0M262.7 25.9h0M263.1 26.0h0M262.3 21.9h0M259.8 25.3h0M261.2 26.4h0M263.3 24.6h0M263.0 22.3h0M262.3 23.1h0M263.3 24.6h0M261.3 29.3h0M262.8 27.6h0M265.3 25.0h0M264.2 26.2h0M263.2 25.1h0" stroke="#000" stroke-opacity="0.35" stroke-width="0.7" stroke-linecap="square" fill="none"/>
<path d="M282.8 18.0h0M279.6 22.2h0M277.7 24.4h0M275.6 25.5h0M280.7 22.9h0M280.1 25.0h0M280.5 23.1h0M277.0 25.0h0M279.8 23.4h0M279.8 25.1h0M280.2 24.7h0M278.2 24.4h0M281.0 20.9h0M280.7 20.8h0M279.9 23.0h0M280.3 23.2h0M278.0 25.8h0M282.0 19.7h0M279.8 20.5h0M278.2 23.5h0M281.3 23.6h0M279.7 21.2h0M279.4 24.8h0M279.8 23.5h0M279.3 23.8h0M279.1 24.6h0M278.8 21.8h0" stroke="#000" stroke-opacity="0.28" stroke-width="0.7" stroke-linecap="square" fill="none"/>
<path d="M279.6 23.4h0M283.8 20.4h0M278.5 24.3h0M282.5 20.6h0M281.5 20.2h0M278.8 22.0h0M278.3 26.3h0M278.1 22.8h0M278.9 26.5h0M280.4 24.4h0M281.2 20.1h0M278.2 24.0h0M281.6 21.2h0M280.0 20.7h0M278.8 25.9h0M278.2 23.0h0M280.5 17.9h0M280.6 22.1h0M279.0 23.9h0M280.5 20.7h0M281.2 22.7h0M276.5 25.4h0M279.5 20.1h0M278.4 23.9h0M277.0 25.4h0M281.4 20.1h0M281.6 20.1h0" stroke="#000" stroke-opacity="0.28" stroke-width="0.7" stroke-linecap="square" fill="none"/>
<path d="M279.0 21.3h0M277.0 24.9h0M280.5 19.3h0M275.8 25.5h0M281.0 21.1h0M277.7 23.0h0M283.5 17.7h0M277.3 25.6h0M282.1 20.5h0M280.8 19.5h0M280.1 22.2h0M279.7 21.0h0M282.2 19.9h0M279.8 23.6h0M278.9 24.2h0M276.1 27.1h0M277.6 26.0h0M281.8 22.0h0M278.0 24.5h0M277.2 24.9h0M278.9 20.3h0M281.6 17.4h0M279.1 22.6h0M280.8 18.1h0M277.5 26.0h0M279.2 23.7h0" stroke="#000" stroke-opacity="0.28" stroke-width="0.7" stroke-linecap="square" fill="none"/>
<ellipse cx="261" cy="42" rx="3.8" ry="1.1" transform="rotate(-3 261 42)" fill="#000" fill-opacity="0.85"/>
<rect x="249.6" y="11.8" width="40.7" height="41" fill="none" stroke="#777" stroke-width="0.6"/>
<line x1="248.6" y1="49.38" x2="249.6" y2="49.38" stroke="#000" stroke-width="0.5"/>
<line x1="248.6" y1="42.55" x2="249.6" y2="42.55" stroke="#000" stroke-width="0.5"/>
<line x1="248.6" y1="35.72" x2="249.6" y2="35.72" stroke="#000" stroke-width="0.5"/>
<line x1="248.6" y1="28.88" x2="249.6" y2="28.88" stroke="#000" stroke-width="0.5"/>
<line x1="248.6" y1="22.05" x2="249.6" y2="22.05" stroke="#000" stroke-width="0.5"/>
<line x1="248.6" y1="15.22" x2="249.6" y2="15.22" stroke="#000" stroke-width="0.5"/>
<line x1="252.99" y1="52.8" x2="252.99" y2="53.8" stroke="#000" stroke-width="0.5"/>
<line x1="259.77" y1="52.8" x2="259.77" y2="53.8" stroke="#000" stroke-width="0.5"/>
<line x1="266.56" y1="52.8" x2="266.56" y2="53.8" stroke="#000" stroke-width="0.5"/>
<line x1="273.34" y1="52.8" x2="273.34" y2="53.8" stroke="#000" stroke-width="0.5"/>
<line x1="280.12" y1="52.8" x2="280.12" y2="53.8" stroke="#000" stroke-width="0.5"/>
<line x1="286.91" y1="52.8" x2="286.91" y2="53.8" stroke="#000" stroke-width="0.5"/>
<rect x="257.4" y="20.6" width="10.5" height="9.5" fill="none" stroke="#888" stroke-width="0.6"/>
<ellipse cx="279.6" cy="23" rx="6.6" ry="3.6" transform="rotate(-55 279.6 23)" fill="none" stroke="#888" stroke-width="0.6"/>
<rect x="250.3" y="33.5" width="34.9" height="17.6" fill="none" stroke="#888" stroke-width="0.6"/>
<text transform="translate(262,19.1) scale(1,1.15)" x="0" y="0" font-size="7.3" text-anchor="middle" font-weight="normal" font-style="normal" fill="#000" stroke="#000" stroke-width="0.15" >Eos</text>
<text transform="translate(280,17.4) scale(1,1.15)" x="0" y="0" font-size="7.8" text-anchor="middle" font-weight="normal" font-style="normal" fill="#000" stroke="#000" stroke-width="0.15" >AM</text>
<text transform="translate(239.7,32.2) rotate(-90) scale(1,1.15)" x="0" y="2.74" font-size="7.6" text-anchor="middle" font-weight="normal" stroke="#000" stroke-width="0.15">SiglecF</text>
<text transform="translate(269.2,61.2) scale(1,1.15)" x="0" y="0" font-size="7.6" text-anchor="middle" font-weight="normal" font-style="normal" fill="#000" stroke="#000" stroke-width="0.15" >CD11c</text>
<polyline points="285.7,19.2 301.2,19.2" fill="none" stroke="#000" stroke-width="1.0"/>
<polygon points="304.7,19.2 300.9,21.1 300.9,17.3" fill="#000"/>
<polyline points="255.7,50.8 255.7,76.8" fill="none" stroke="#000" stroke-width="1.0"/>
<polygon points="255.7,80.3 253.8,76.5 257.6,76.5" fill="#000"/>
<path d="M328.0 35.4h0M326.3 38.1h0M326.7 36.8h0M324.1 37.4h0M322.8 37.9h0M328.2 35.6h0M329.8 39.9h0M329.3 34.7h0M323.2 38.2h0M328.0 40.1h0M325.0 40.5h0M323.8 38.3h0M324.3 37.2h0M329.4 36.8h0M325.7 40.5h0M323.3 39.8h0M324.1 42.6h0M327.4 34.8h0M324.7 36.9h0M327.6 39.0h0M328.1 37.5h0M320.0 37.3h0M326.5 39.6h0M326.3 34.1h0M326.0 40.2h0M321.1 40.5h0M326.3 37.9h0M323.1 36.4h0M328.4 38.4h0M326.1 42.0h0M330.4 37.5h0M325.6 38.0h0M323.6 36.6h0M327.0 33.6h0M321.8 38.5h0M325.3 36.1h0M323.5 39.7h0M324.5 39.6h0M325.9 34.1h0M325.8 38.5h0M329.0 40.0h0M324.6 38.4h0M324.3 42.5h0M327.6 37.0h0M328.5 39.3h0M327.2 36.4h0M324.8 38.9h0M323.1 38.5h0M331.6 37.6h0M324.6 39.2h0M328.9 36.8h0M327.2 39.6h0M324.8 42.2h0M324.3 34.1h0M326.6 39.4h0M326.7 35.3h0M324.5 40.6h0M328.0 39.4h0M326.3 36.7h0M322.0 39.1h0M326.5 40.7h0M325.1 38.5h0M325.1 40.3h0M330.9 37.6h0M329.7 41.7h0M327.7 39.3h0M322.8 34.7h0M324.4 38.0h0M324.8 38.1h0M322.8 41.1h0M325.9 38.8h0M326.7 39.8h0M326.4 40.5h0M324.1 40.3h0M323.3 38.9h0M321.3 33.9h0M326.2 38.5h0M327.0 38.8h0M325.4 37.1h0M324.6 39.6h0M327.4 34.1h0M325.1 37.2h0M322.6 40.8h0M325.7 39.4h0M329.9 36.6h0M325.5 41.5h0M327.2 36.0h0M326.4 38.4h0M323.8 41.6h0M324.9 37.7h0M322.8 37.1h0M327.2 37.6h0M330.1 38.0h0M325.9 36.5h0M325.0 37.1h0M326.3 37.4h0M323.7 41.3h0M324.8 39.3h0M328.4 37.9h0M326.1 37.0h0" stroke="#000" stroke-opacity="0.3" stroke-width="0.7" stroke-linecap="square" fill="none"/>
<path d="M328.2 42.4h0M326.7 37.7h0M326.4 40.2h0M325.7 40.7h0M328.3 39.6h0M327.5 37.1h0M323.0 38.8h0M326.9 38.4h0M326.4 33.7h0M327.6 38.6h0M329.3 42.7h0M323.3 40.0h0M327.2 37.0h0M328.5 42.5h0M325.0 38.9h0M319.2 34.3h0M328.6 40.4h0M327.6 37.8h0M326.6 39.5h0M328.9 38.6h0M325.3 37.5h0M324.1 41.9h0M324.4 37.7h0M328.0 43.4h0M324.8 37.6h0M323.4 38.9h0M325.0 38.2h0M326.4 41.0h0M328.8 38.4h0M323.3 38.1h0M319.5 39.4h0M320.6 39.5h0M324.6 39.1h0M330.1 38.4h0M320.3 36.0h0M328.3 38.0h0M321.1 41.1h0M327.9 38.8h0M320.6 33.3h0M325.5 36.0h0M322.8 37.5h0M328.9 34.4h0M328.2 38.5h0M325.0 35.0h0M328.1 36.8h0M327.3 39.8h0M330.1 38.4h0M325.3 40.1h0M324.1 39.0h0M326.2 33.5h0M324.1 40.4h0M326.1 35.7h0M328.2 35.8h0M328.0 39.7h0M323.6 37.4h0M324.6 41.7h0M325.9 37.1h0M322.9 41.3h0M324.7 36.7h0M324.8 40.5h0M325.2 36.0h0M325.0 40.6h0M324.4 37.2h0M321.6 39.4h0M324.4 37.0h0M323.1 36.4h0M325.6 38.9h0M327.4 37.4h0M323.4 40.2h0M328.1 36.3h0M332.1 35.2h0M327.3 38.9h0M322.5 37.0h0M331.1 40.8h0M329.0 39.2h0M325.8 39.2h0M328.5 37.9h0M323.0 38.0h0M327.3 41.0h0M323.0 38.3h0M326.3 36.3h0M323.3 39.1h0M323.6 40.4h0M326.0 40.6h0M329.1 38.1h0M324.8 38.1h0M329.3 41.4h0M327.7 37.4h0M324.3 36.7h0M324.8 37.5h0M327.8 36.7h0M325.7 36.2h0M325.5 39.6h0M323.8 36.6h0M327.6 42.1h0M327.2 35.4h0M328.0 40.4h0M329.2 34.1h0M323.0 37.6h0M326.7 34.9h0" stroke="#000" stroke-opacity="0.3" stroke-width="0.7" stroke-linecap="square" fill="none"/>
<path d="M327.6 35.3h0M327.4 37.2h0M325.1 39.5h0M324.4 40.6h0M323.9 35.7h0M326.2 42.8h0M326.3 38.0h0M324.4 41.7h0M322.9 36.2h0M321.1 38.6h0M327.8 39.8h0M323.4 37.7h0M326.7 36.1h0M320.5 36.1h0M324.5 39.3h0M330.4 38.5h0M325.2 39.4h0M329.2 40.8h0M325.2 37.9h0M324.1 34.5h0M322.5 37.3h0M327.2 37.7h0M325.3 43.2h0M323.9 45.3h0M323.2 36.0h0M326.9 36.8h0M326.3 36.0h0M329.6 38.8h0M327.1 37.5h0M324.7 40.1h0M327.6 34.6h0M327.2 38.6h0M323.8 41.1h0M324.8 38.3h0M329.4 40.7h0M326.6 39.4h0M322.4 36.8h0M327.4 39.1h0M326.0 37.6h0M322.5 34.1h0M327.1 41.4h0M324.3 38.0h0M323.8 39.9h0M325.9 39.9h0M324.9 40.6h0M327.8 38.3h0M324.5 38.8h0M326.3 40.2h0M325.8 38.3h0M325.5 38.7h0M324.6 38.3h0M328.5 37.1h0M324.9 37.5h0M326.6 37.2h0M324.7 39.5h0M323.7 38.4h0M323.2 37.5h0M325.5 35.8h0M325.8 37.0h0M327.3 39.3h0M326.8 32.4h0M327.7 38.3h0M327.8 39.3h0M329.0 37.7h0M323.0 39.1h0M322.6 34.7h0M327.5 38.0h0M326.1 37.4h0M322.3 39.0h0M324.9 35.7h0M328.9 36.8h0M325.5 38.0h0M323.0 36.0h0M323.2 38.2h0M328.1 37.7h0M329.0 37.3h0M323.4 40.2h0M321.9 33.9h0M325.9 41.7h0M325.3 37.6h0M326.3 38.8h0M324.4 38.9h0M324.9 39.1h0M327.6 39.4h0M322.5 39.0h0M326.6 34.1h0M326.0 34.7h0M323.2 37.7h0M325.9 35.5h0M328.9 38.9h0M326.2 37.9h0M326.8 36.1h0M325.8 38.2h0M328.7 36.7h0M323.8 39.1h0M328.0 38.5h0M322.6 37.4h0M326.0 37.7h0M323.6 36.4h0M331.5 40.6h0" stroke="#000" stroke-opacity="0.3" stroke-width="0.7" stroke-linecap="square" fill="none"/>
<path d="M329.9 34.7h0M332.3 37.9h0M328.3 37.3h0M320.4 42.2h0M334.6 34.1h0M327.9 44.3h0M328.2 45.4h0M334.2 45.3h0M328.3 39.0h0M321.3 38.5h0M325.6 37.6h0M333.0 33.3h0M320.4 42.1h0M328.2 44.6h0M320.3 40.2h0M332.3 35.9h0M326.2 35.0h0M331.8 40.9h0M332.9 39.9h0M326.0 33.8h0" stroke="#000" stroke-opacity="0.2" stroke-width="0.7" stroke-linecap="square" fill="none"/>
<path d="M318.2 36.5h0M331.9 45.0h0M322.2 39.5h0M315.9 47.5h0M322.7 49.2h0M332.4 40.4h0M327.6 47.4h0M328.4 36.4h0M321.0 37.0h0M320.2 37.7h0M322.1 32.4h0M328.8 45.5h0M333.0 40.0h0M326.3 39.4h0M324.2 42.0h0M325.3 36.0h0M326.7 38.2h0M319.4 39.3h0M328.8 34.1h0M327.4 41.3h0" stroke="#000" stroke-opacity="0.2" stroke-width="0.7" stroke-linecap="square" fill="none"/>
<path d="M326.0 49.1h0M327.1 45.0h0M331.1 34.5h0M325.2 43.0h0M325.8 39.5h0M325.6 39.9h0M323.5 42.2h0M324.1 39.4h0M329.1 43.4h0M341.5 40.3h0M326.8 38.9h0M319.0 42.7h0M328.2 37.2h0M328.6 43.4h0M331.2 41.3h0M327.2 40.4h0M329.5 38.9h0M321.2 44.0h0M317.8 37.7h0M329.6 46.3h0" stroke="#000" stroke-opacity="0.2" stroke-width="0.7" stroke-linecap="square" fill="none"/>
<ellipse cx="325.9" cy="38" rx="1.8" ry="1.4" transform="rotate(0 325.9 38)" fill="#000" fill-opacity="0.45"/>
<rect x="307.3" y="13.1" width="39.3" height="37.3" fill="none" stroke="#777" stroke-width="0.6"/>
<line x1="306.3" y1="47.29" x2="307.3" y2="47.29" stroke="#000" stroke-width="0.5"/>
<line x1="306.3" y1="41.08" x2="307.3" y2="41.08" stroke="#000" stroke-width="0.5"/>
<line x1="306.3" y1="34.86" x2="307.3" y2="34.86" stroke="#000" stroke-width="0.5"/>
<line x1="306.3" y1="28.64" x2="307.3" y2="28.64" stroke="#000" stroke-width="0.5"/>
<line x1="306.3" y1="22.43" x2="307.3" y2="22.43" stroke="#000" stroke-width="0.5"/>
<line x1="306.3" y1="16.21" x2="307.3" y2="16.21" stroke="#000" stroke-width="0.5"/>
<line x1="310.57" y1="50.4" x2="310.57" y2="51.4" stroke="#000" stroke-width="0.5"/>
<line x1="317.12" y1="50.4" x2="317.12" y2="51.4" stroke="#000" stroke-width="0.5"/>
<line x1="323.68" y1="50.4" x2="323.68" y2="51.4" stroke="#000" stroke-width="0.5"/>
<line x1="330.23" y1="50.4" x2="330.23" y2="51.4" stroke="#000" stroke-width="0.5"/>
<line x1="336.78" y1="50.4" x2="336.78" y2="51.4" stroke="#000" stroke-width="0.5"/>
<line x1="343.33" y1="50.4" x2="343.33" y2="51.4" stroke="#000" stroke-width="0.5"/>
<rect x="321.2" y="33" width="13.2" height="17.4" fill="none" stroke="#888" stroke-width="0.6"/>
<text transform="translate(326.8,30.4) scale(1,1.15)" x="0" y="0" font-size="8.3" text-anchor="middle" font-weight="normal" font-style="normal" fill="#000" stroke="#000" stroke-width="0.15" >AM</text>
<text transform="translate(301.4,38.4) rotate(-90) scale(1,1.15)" x="0" y="3.02" font-size="8.4" text-anchor="middle" font-weight="normal" stroke="#000" stroke-width="0.15">CD11b</text>
<text transform="translate(324.2,61.5) scale(1,1.15)" x="0" y="0" font-size="7.6" text-anchor="middle" font-weight="normal" font-style="normal" fill="#000" stroke="#000" stroke-width="0.15" >F4/80</text>
<path d="M64.8 97.3h0M64.9 97.5h0M66.8 99.5h0M60.0 98.6h0M65.3 97.0h0M66.8 99.2h0M63.5 97.7h0M63.9 97.7h0M62.6 99.8h0M62.9 102.1h0M65.1 96.9h0M61.9 99.9h0M62.9 97.5h0M66.6 97.3h0M66.0 95.3h0M63.8 100.2h0M61.0 95.1h0M67.3 97.0h0M65.1 96.7h0M61.8 98.2h0M65.7 96.8h0M61.9 97.4h0M66.3 98.9h0M60.8 100.7h0M61.1 97.6h0M66.1 98.0h0M62.0 96.3h0M60.7 98.3h0M60.6 99.3h0M61.4 98.7h0M64.4 98.9h0M62.6 95.4h0M65.6 97.6h0M68.3 97.7h0M62.3 97.9h0M64.8 97.2h0M61.1 98.4h0M63.8 99.3h0M61.6 99.3h0M63.5 99.9h0M65.2 98.3h0M61.0 97.0h0M66.0 97.2h0M62.1 96.6h0M63.0 98.8h0M65.9 97.8h0M64.0 97.5h0M62.5 97.4h0M63.2 97.2h0M61.4 98.6h0M62.0 99.1h0M65.2 98.4h0M59.6 94.8h0M62.6 97.7h0M62.2 96.7h0M62.7 100.2h0M62.9 101.2h0M64.9 98.6h0M65.0 96.7h0M61.0 96.9h0M63.2 95.9h0M61.7 98.3h0M62.1 98.3h0M66.1 95.2h0M65.7 96.1h0M65.7 96.8h0M62.7 98.5h0M66.5 97.2h0M66.4 96.7h0M66.5 99.1h0M63.4 97.2h0M60.6 98.2h0M64.8 100.9h0M63.8 97.9h0M65.3 98.0h0M65.2 99.0h0M63.7 99.3h0M63.4 99.8h0M62.7 94.4h0M63.4 99.8h0M66.1 95.7h0M58.9 97.5h0M61.0 98.5h0M63.6 97.4h0M61.6 98.2h0M60.9 101.1h0M62.4 97.1h0M64.4 97.3h0M64.1 97.5h0M62.5 99.4h0M59.0 98.1h0M61.5 96.9h0M61.0 96.0h0M64.6 97.6h0M61.3 97.9h0M64.9 97.2h0M59.7 97.9h0M61.9 94.0h0M63.7 98.8h0M65.4 98.3h0M59.3 98.1h0M61.7 98.8h0M64.2 100.2h0M66.1 96.8h0M61.8 100.4h0M60.7 97.0h0M62.0 99.3h0M63.7 96.7h0M61.8 99.8h0M61.9 99.1h0M57.7 98.2h0M62.7 99.3h0M64.6 96.8h0M63.2 97.5h0M57.9 94.5h0M64.3 97.4h0M64.9 96.8h0" stroke="#000" stroke-opacity="0.4" stroke-width="0.7" stroke-linecap="square" fill="none"/>
<path d="M63.3 98.9h0M61.8 104.1h0M63.5 99.1h0M64.3 95.4h0M63.8 96.8h0M64.6 98.2h0M60.3 97.4h0M61.0 96.5h0M60.9 94.6h0M66.2 98.9h0M61.7 97.2h0M62.8 99.7h0M63.1 98.2h0M59.4 94.2h0M62.5 94.9h0M66.6 99.7h0M66.9 97.6h0M65.6 98.5h0M62.2 98.3h0M63.8 98.0h0M60.2 97.9h0M63.5 97.7h0M61.4 100.2h0M63.3 94.6h0M59.2 98.9h0M61.8 96.4h0M65.1 98.1h0M59.5 97.5h0M64.8 97.8h0M59.3 100.5h0M67.2 97.0h0M62.8 98.6h0M63.7 99.5h0M61.0 97.5h0M63.2 98.9h0M65.7 98.5h0M65.7 101.4h0M57.9 97.3h0M65.5 98.1h0M66.3 97.2h0M63.8 98.8h0M63.4 98.6h0M63.6 97.4h0M64.9 96.1h0M64.9 95.2h0M64.2 100.7h0M65.7 99.3h0M62.4 95.3h0M63.3 98.3h0M64.6 98.1h0M66.1 96.9h0M64.1 99.4h0M61.5 95.5h0M62.7 97.5h0M62.1 99.3h0M60.8 96.8h0M63.3 98.4h0M59.9 98.5h0M63.6 99.4h0M60.6 99.5h0M56.6 99.9h0M62.4 96.6h0M62.7 96.7h0M63.0 98.5h0M63.0 98.2h0M62.2 97.5h0M63.4 98.7h0M64.5 98.2h0M61.6 99.6h0M63.7 99.2h0M63.7 95.6h0M66.2 98.6h0M61.0 98.0h0M61.8 101.3h0M62.7 99.4h0M62.8 97.9h0M63.4 97.3h0M63.2 97.1h0M60.0 96.0h0M61.1 99.7h0M60.9 97.6h0M63.0 102.0h0M60.8 98.2h0M62.0 100.4h0M64.3 99.3h0M65.4 99.2h0M65.5 96.1h0M66.8 95.8h0M61.5 98.3h0M62.2 96.9h0M64.4 95.7h0M66.5 96.4h0M66.5 99.8h0M64.7 98.5h0M62.4 96.7h0M63.3 96.1h0M63.0 99.2h0M60.9 100.0h0M64.1 95.2h0M62.5 97.3h0M62.2 97.6h0M60.1 99.6h0M62.2 96.3h0M63.9 96.9h0M63.8 94.7h0M62.2 98.0h0M60.4 98.9h0M62.3 96.3h0M58.9 96.5h0M59.0 98.1h0M64.7 100.0h0M61.5 98.8h0M68.8 98.1h0M60.2 95.5h0M62.5 97.8h0M62.1 97.7h0M62.5 96.0h0" stroke="#000" stroke-opacity="0.4" stroke-width="0.7" stroke-linecap="square" fill="none"/>
<path d="M61.0 100.1h0M64.8 99.4h0M61.2 99.1h0M67.0 96.0h0M68.2 99.6h0M62.6 98.9h0M64.4 97.2h0M61.6 97.5h0M64.6 97.2h0M65.1 98.1h0M66.4 100.5h0M62.5 99.5h0M62.0 95.7h0M57.4 96.9h0M65.4 98.6h0M62.0 95.8h0M63.4 98.3h0M62.9 94.8h0M63.4 99.8h0M64.6 97.5h0M65.6 97.1h0M63.8 95.1h0M64.1 100.4h0M64.7 97.5h0M62.7 97.5h0M63.1 99.7h0M63.1 101.4h0M64.4 99.8h0M68.3 98.0h0M65.2 97.3h0M60.5 94.6h0M62.3 96.4h0M60.5 96.4h0M62.0 95.9h0M59.6 95.5h0M60.3 98.8h0M63.0 99.1h0M63.8 98.7h0M62.7 97.4h0M61.3 96.7h0M64.0 97.8h0M62.4 97.3h0M61.4 95.5h0M62.3 99.0h0M62.3 96.4h0M62.5 98.1h0M65.2 98.0h0M63.9 99.3h0M63.8 100.9h0M62.7 96.3h0M64.1 98.8h0M60.8 98.0h0M64.2 99.6h0M63.4 98.5h0M62.3 100.3h0M64.1 98.7h0M62.0 100.6h0M62.2 98.6h0M63.5 97.4h0M63.4 96.0h0M65.5 95.6h0M62.1 97.6h0M63.2 95.3h0M64.0 98.4h0M62.2 97.0h0M62.7 98.2h0M65.9 96.6h0M62.6 94.8h0M63.3 101.0h0M60.5 98.2h0M64.9 100.0h0M61.1 96.4h0M61.6 97.5h0M62.8 97.6h0M61.1 99.1h0M59.7 97.7h0M61.5 97.9h0M62.9 97.2h0M64.1 97.8h0M63.9 96.8h0M63.9 97.6h0M65.9 98.1h0M63.9 97.3h0M64.3 97.4h0M66.0 98.7h0M65.8 95.6h0M62.5 100.3h0M64.0 97.6h0M60.5 98.8h0M63.9 99.9h0M61.4 98.9h0M61.4 94.3h0M60.6 101.0h0M61.6 95.1h0M65.0 96.2h0M63.1 96.7h0M63.7 96.3h0M66.1 99.1h0M61.4 99.8h0M62.0 96.4h0M66.5 98.8h0M63.6 97.6h0M67.3 97.9h0M64.4 97.5h0M62.6 96.5h0M61.5 95.0h0M64.0 97.2h0M64.0 100.1h0M61.1 100.6h0M64.2 97.8h0M63.9 95.2h0M62.1 98.0h0M63.8 96.7h0M63.7 97.8h0M64.3 95.9h0M65.1 98.8h0" stroke="#000" stroke-opacity="0.4" stroke-width="0.7" stroke-linecap="square" fill="none"/>
<path d="M80.4 94.2h0M81.4 97.1h0M81.1 92.5h0M81.0 94.1h0M79.6 92.5h0M79.5 95.8h0M82.4 96.0h0M79.7 95.6h0M79.1 96.4h0M80.9 95.2h0M80.4 98.9h0M82.8 95.3h0M84.3 97.3h0M82.4 97.1h0M79.4 98.5h0M78.8 94.6h0M81.0 95.7h0M81.4 93.8h0M82.9 94.5h0M82.9 94.5h0M84.2 94.7h0M81.9 99.4h0M78.9 96.3h0M79.6 95.1h0M81.1 94.5h0M80.9 97.0h0M81.0 94.0h0M83.2 93.8h0M81.4 92.7h0M81.5 96.0h0M80.2 95.4h0M81.8 93.1h0M79.3 97.0h0M80.0 95.6h0M79.8 90.4h0M81.1 95.3h0M82.7 93.5h0M81.6 95.5h0M81.6 96.0h0M81.7 94.0h0M83.0 94.4h0M82.1 96.2h0M79.9 93.3h0M81.5 94.0h0M80.4 98.0h0M81.4 94.2h0M82.6 93.9h0M80.8 95.1h0M83.7 93.9h0M83.2 97.3h0M81.6 93.2h0M80.1 94.5h0M81.8 92.1h0M79.9 97.7h0M81.9 97.0h0M80.4 95.8h0M79.3 93.4h0M79.4 92.9h0M80.6 96.1h0M79.6 94.5h0M82.5 95.5h0M81.8 97.1h0M81.4 96.6h0M79.4 93.1h0M82.6 93.8h0M82.8 93.1h0M78.3 91.3h0M84.0 95.7h0M81.7 94.7h0M80.9 95.8h0M80.4 95.3h0M80.5 94.0h0M79.9 92.6h0M83.2 91.6h0M78.7 93.0h0M81.1 96.2h0M81.8 94.5h0M80.1 96.8h0M79.9 92.4h0M82.2 94.0h0M82.9 97.0h0M82.3 95.1h0M83.7 97.7h0M78.9 94.5h0M81.7 93.1h0M77.8 94.1h0M81.5 93.0h0M84.3 94.3h0M78.0 95.5h0M80.9 92.3h0M82.4 93.7h0M81.4 94.1h0M82.2 94.4h0M81.6 94.6h0M82.5 97.5h0M80.8 99.8h0M82.5 94.7h0M82.0 96.9h0M82.9 95.4h0M78.5 95.6h0M78.0 93.1h0M78.4 94.2h0M78.0 95.3h0M81.6 95.6h0M81.5 91.2h0M80.8 93.7h0M79.6 93.1h0M81.4 96.5h0M80.3 94.6h0M80.6 98.5h0M80.1 97.8h0M83.1 94.4h0M81.6 96.6h0M79.4 93.3h0M81.5 96.5h0M78.9 94.3h0M81.7 96.1h0" stroke="#000" stroke-opacity="0.4" stroke-width="0.7" stroke-linecap="square" fill="none"/>
<path d="M80.5 96.4h0M81.4 96.9h0M79.2 98.9h0M85.2 92.8h0M80.2 94.3h0M83.3 96.8h0M80.4 97.6h0M80.6 94.0h0M82.4 93.3h0M82.1 94.0h0M84.5 95.1h0M80.0 95.8h0M81.8 94.9h0M81.5 96.5h0M82.0 94.1h0M79.2 95.4h0M80.8 94.2h0M81.5 94.2h0M79.2 93.8h0M82.2 94.8h0M82.0 94.3h0M81.2 94.6h0M78.6 97.8h0M81.2 97.3h0M80.3 91.6h0M84.4 98.4h0M84.4 92.9h0M82.3 94.2h0M80.0 93.4h0M80.5 96.0h0M81.3 97.1h0M81.6 94.2h0M80.6 93.1h0M78.6 97.5h0M80.3 94.7h0M79.0 98.6h0M81.2 98.3h0M82.2 94.6h0M79.5 95.1h0M80.4 95.9h0M82.9 93.0h0M79.9 93.5h0M82.3 97.8h0M80.8 96.7h0M80.4 95.3h0M82.0 95.2h0M83.3 95.1h0M79.9 96.3h0M81.6 91.8h0M78.8 95.5h0M81.0 92.7h0M80.6 95.1h0M80.7 96.7h0M80.6 93.6h0M81.5 94.8h0M81.1 95.2h0M79.6 91.2h0M82.4 94.4h0M82.0 95.2h0M81.3 98.0h0M85.1 98.1h0M81.5 95.6h0M80.9 91.5h0M80.8 94.5h0M78.7 95.7h0M81.5 92.0h0M81.9 95.3h0M78.7 94.7h0M79.7 94.9h0M80.8 96.5h0M78.7 100.3h0M81.7 94.0h0M83.7 92.3h0M79.0 95.2h0M82.2 94.9h0M81.0 95.4h0M80.1 96.3h0M84.7 93.3h0M79.5 96.7h0M82.7 93.7h0M80.5 94.3h0M81.7 91.9h0M82.2 97.2h0M77.9 93.3h0M80.8 95.5h0M82.3 95.4h0M82.1 93.3h0M80.4 96.4h0M81.1 92.3h0M78.9 93.8h0M78.9 94.1h0M81.2 97.0h0M79.7 97.5h0M79.7 98.5h0M80.9 96.1h0M80.6 95.9h0M80.6 94.9h0M79.3 95.5h0M80.9 97.2h0M80.6 93.2h0M80.8 98.7h0M80.8 95.2h0M78.9 89.4h0M79.7 97.1h0M82.4 98.9h0M77.5 97.4h0M82.7 94.1h0M80.5 94.5h0M83.5 94.5h0M81.5 94.5h0M82.4 95.8h0M84.4 95.1h0M80.8 97.6h0M81.4 93.6h0M82.2 97.0h0M80.0 91.3h0M80.8 100.2h0" stroke="#000" stroke-opacity="0.4" stroke-width="0.7" stroke-linecap="square" fill="none"/>
<path d="M81.8 96.5h0M81.9 96.5h0M81.7 95.9h0M81.1 94.9h0M80.5 96.6h0M79.6 89.1h0M80.6 95.2h0M82.7 95.4h0M80.6 95.1h0M84.1 93.6h0M80.9 92.9h0M83.1 96.4h0M82.0 97.4h0M82.9 94.7h0M81.5 94.5h0M81.0 97.3h0M79.2 97.0h0M80.2 95.5h0M83.7 93.4h0M79.0 94.2h0M81.0 95.6h0M80.3 92.4h0M82.4 94.4h0M80.2 94.2h0M78.9 93.7h0M81.8 98.8h0M80.6 94.5h0M79.5 95.5h0M82.6 95.9h0M80.4 92.3h0M78.8 94.6h0M79.6 97.3h0M80.0 93.5h0M82.4 97.8h0M81.6 94.0h0M79.6 95.5h0M80.8 97.1h0M80.9 96.9h0M82.9 96.8h0M83.2 95.1h0M81.5 92.9h0M80.6 92.1h0M80.6 94.5h0M81.5 94.9h0M79.8 93.8h0M79.3 90.4h0M80.2 96.1h0M82.8 94.0h0M78.5 99.2h0M81.8 95.2h0M80.7 95.8h0M82.5 95.5h0M80.0 94.2h0M82.1 97.2h0M80.6 94.0h0M82.1 94.9h0M81.4 92.6h0M82.6 94.8h0M79.8 94.1h0M83.2 96.4h0M84.9 95.8h0M79.8 96.9h0M81.9 97.3h0M78.8 98.5h0M84.0 96.7h0M84.0 96.1h0M80.8 96.2h0M79.4 93.4h0M80.1 96.1h0M81.0 95.0h0M80.2 95.2h0M80.6 92.2h0M79.7 95.4h0M81.7 92.1h0M82.2 94.8h0M79.9 93.8h0M81.9 94.9h0M79.0 93.4h0M82.4 97.9h0M80.7 92.6h0M81.2 95.4h0M80.7 91.4h0M84.0 96.8h0M79.4 94.9h0M80.9 94.6h0M79.1 94.4h0M80.7 94.7h0M80.5 95.3h0M83.0 94.4h0M79.0 95.9h0M79.7 95.3h0M83.5 93.9h0M81.7 95.2h0M82.4 95.4h0M80.7 96.2h0M81.8 94.2h0M80.1 97.3h0M80.1 95.1h0M82.6 98.6h0M81.3 92.6h0M80.1 92.6h0M79.1 93.4h0M82.8 95.9h0M79.7 98.7h0M80.8 97.1h0M80.5 95.7h0M80.6 92.4h0M79.4 97.7h0M79.0 93.1h0M82.3 97.5h0M77.8 95.3h0M79.7 96.1h0M80.4 95.2h0M80.5 94.5h0M81.5 93.9h0M83.5 91.2h0" stroke="#000" stroke-opacity="0.4" stroke-width="0.7" stroke-linecap="square" fill="none"/>
<path d="M77.0 96.6h0M73.6 99.1h0M73.3 98.5h0M71.8 102.3h0M69.3 100.2h0M82.9 96.2h0M81.4 101.6h0M81.0 96.5h0M67.4 101.0h0M75.4 96.7h0M65.6 106.6h0M80.7 98.6h0M68.3 97.1h0M79.5 92.8h0M76.1 99.1h0M74.9 100.5h0M85.7 92.6h0M75.4 91.9h0M82.4 102.5h0M71.3 98.1h0M74.6 98.5h0M76.4 104.1h0M88.2 97.2h0M75.7 100.1h0M73.6 92.9h0M65.4 103.9h0M78.0 99.0h0M79.3 100.2h0M81.6 99.1h0M83.5 98.7h0M74.4 101.3h0M71.1 102.0h0M88.6 97.7h0M78.4 104.5h0M69.9 100.6h0M72.5 99.2h0M79.1 103.4h0M72.2 101.4h0M79.7 98.5h0M78.1 100.1h0" stroke="#000" stroke-opacity="0.15" stroke-width="0.7" stroke-linecap="square" fill="none"/>
<path d="M85.8 96.5h0M78.6 94.3h0M80.4 102.6h0M81.5 92.3h0M78.0 104.9h0M69.8 99.0h0M74.3 99.4h0M82.2 101.6h0M73.9 96.8h0M73.6 100.4h0M70.0 100.7h0M67.9 100.0h0M78.5 99.9h0M88.2 99.1h0M84.9 103.6h0M74.6 102.9h0M88.0 99.9h0M77.4 98.4h0M87.5 98.2h0M76.8 95.2h0M72.4 103.2h0M79.4 96.9h0M91.8 99.0h0M71.6 95.2h0M79.4 98.5h0M74.5 100.6h0M78.6 101.8h0M80.6 99.6h0M74.0 96.1h0M74.3 97.4h0M70.2 99.4h0M85.6 94.9h0M72.1 99.0h0M66.0 92.3h0M77.2 99.7h0M75.8 104.2h0M78.4 102.3h0M69.9 103.0h0M77.6 100.3h0M79.5 105.1h0" stroke="#000" stroke-opacity="0.15" stroke-width="0.7" stroke-linecap="square" fill="none"/>
<path d="M69.6 95.9h0M78.7 105.7h0M73.5 96.0h0M66.0 95.2h0M80.9 99.3h0M81.7 94.0h0M75.5 99.2h0M81.5 92.9h0M73.0 94.8h0M70.9 102.4h0M81.5 98.9h0M82.7 97.2h0M82.5 100.6h0M81.3 97.9h0M80.0 105.0h0M77.1 101.9h0M75.3 93.1h0M86.2 98.0h0M80.8 94.3h0M74.8 101.1h0M86.1 99.6h0M70.1 97.2h0M75.9 103.1h0M73.2 99.7h0M75.5 97.1h0M84.1 102.5h0M80.0 97.6h0M84.0 99.6h0M76.2 100.6h0M83.6 99.3h0M76.8 98.6h0M77.6 101.0h0M87.3 99.2h0M81.7 101.4h0M72.9 97.6h0M80.2 94.2h0M76.8 101.2h0M69.2 92.5h0M76.9 96.3h0M73.2 99.2h0" stroke="#000" stroke-opacity="0.15" stroke-width="0.7" stroke-linecap="square" fill="none"/>
<ellipse cx="63.1" cy="98" rx="2.3" ry="1.8" transform="rotate(0 63.1 98)" fill="#000" fill-opacity="0.8"/>
<ellipse cx="81.3" cy="95" rx="1.6" ry="2.3" transform="rotate(0 81.3 95)" fill="#000" fill-opacity="0.8"/>
<rect x="52.9" y="80.1" width="41.9" height="40.3" fill="none" stroke="#777" stroke-width="0.6"/>
<path d="M52.15 81.1V120.4M53.9 121.15H93.8" stroke="#222" stroke-width="1.3" stroke-dasharray="1 0.6" fill="none" stroke-opacity="0.8"/>
<line x1="73.3" y1="80.1" x2="73.3" y2="120.4" stroke="#555" stroke-width="0.6"/>
<line x1="52.9" y1="104.2" x2="94.8" y2="104.2" stroke="#555" stroke-width="0.6"/>
<text transform="translate(44.8,98.8) rotate(-90) scale(1,1.15)" x="0" y="2.74" font-size="7.6" text-anchor="middle" font-weight="normal" stroke="#000" stroke-width="0.15">CD3</text>
<text transform="translate(64.6,129.2) scale(1,1.15)" x="0" y="0" font-size="8" text-anchor="middle" font-weight="normal" font-style="normal" fill="#000" stroke="#000" stroke-width="0.15" >CD4</text>
<path d="M126.2 110.2h0M126.4 110.0h0M124.7 111.8h0M123.5 110.0h0M126.3 109.7h0M125.5 112.7h0M125.6 111.4h0M124.2 110.1h0M127.4 109.9h0M126.6 109.6h0M118.8 109.9h0M122.2 111.5h0M126.6 110.1h0M124.4 111.5h0M127.1 108.2h0M131.8 110.4h0M126.5 109.8h0M128.2 110.8h0M126.9 110.0h0M122.4 111.8h0M125.2 110.3h0M125.5 110.0h0M126.4 111.5h0M118.5 109.0h0M123.5 110.3h0M122.4 110.1h0M125.2 109.9h0M122.6 111.7h0M124.9 110.2h0M126.1 109.7h0M124.1 110.8h0M124.8 111.4h0M120.5 111.7h0M122.7 111.1h0M124.5 110.5h0M121.4 110.1h0M126.7 110.4h0M123.4 109.1h0M128.7 110.3h0M124.6 110.4h0M126.5 110.7h0M122.0 109.2h0M128.6 111.8h0M122.9 110.6h0M119.8 111.2h0M127.6 109.0h0M124.9 111.0h0M123.7 110.3h0M123.6 109.6h0M122.7 110.1h0M123.6 110.9h0M122.7 109.6h0M129.3 110.8h0M127.6 109.8h0M125.5 111.2h0M124.4 110.3h0M127.8 110.4h0M126.8 110.1h0M124.5 109.3h0M122.2 109.8h0M126.5 109.5h0M122.4 111.3h0M128.7 110.2h0M122.7 110.8h0M128.7 110.9h0M127.9 110.2h0M123.9 110.6h0M125.2 109.9h0M123.1 111.1h0M122.0 110.5h0M124.7 111.2h0M125.6 112.5h0M118.4 109.9h0M126.7 111.2h0M127.8 111.0h0M124.1 109.8h0M124.5 110.9h0M126.0 111.2h0M123.3 110.9h0M121.9 110.9h0M124.4 109.4h0M122.8 111.2h0M125.5 109.1h0M122.3 112.0h0M124.5 112.2h0M125.5 110.0h0M121.7 109.2h0M127.5 111.3h0M122.2 109.8h0M124.7 110.2h0M120.0 110.8h0M127.7 111.1h0M129.8 110.9h0M126.4 110.9h0M123.4 111.2h0M129.4 111.5h0M124.4 109.5h0M127.5 111.3h0M121.2 110.3h0M126.7 110.6h0" stroke="#000" stroke-opacity="0.4" stroke-width="0.7" stroke-linecap="square" fill="none"/>
<path d="M121.2 110.1h0M125.9 110.0h0M119.9 111.0h0M123.2 110.8h0M121.4 109.6h0M126.1 110.6h0M126.9 110.9h0M126.6 110.5h0M120.1 109.5h0M124.8 110.5h0M117.0 109.9h0M123.6 110.8h0M121.5 110.0h0M124.3 112.1h0M128.5 110.9h0M124.2 111.5h0M126.7 110.7h0M130.3 110.1h0M126.2 111.1h0M125.0 111.4h0M128.1 110.7h0M123.2 111.4h0M123.1 110.9h0M126.3 110.7h0M124.5 112.4h0M122.1 110.4h0M130.1 109.6h0M128.7 110.9h0M128.2 110.0h0M123.5 109.9h0M128.3 110.5h0M127.6 111.4h0M125.9 111.0h0M120.8 111.4h0M125.2 110.6h0M123.8 109.6h0M126.5 111.4h0M122.6 111.0h0M127.2 109.4h0M122.1 112.2h0M123.9 110.1h0M122.3 109.3h0M126.2 111.1h0M122.6 111.6h0M127.1 110.5h0M126.2 109.1h0M123.7 110.6h0M124.7 112.4h0M128.4 110.5h0M120.2 111.6h0M125.1 111.6h0M122.3 110.1h0M118.9 109.7h0M126.4 110.4h0M124.6 110.3h0M124.4 110.4h0M128.6 109.7h0M126.4 111.4h0M124.7 110.8h0M127.1 108.6h0M124.4 111.3h0M124.6 111.3h0M125.8 110.1h0M128.3 112.1h0M129.7 109.6h0M127.2 110.4h0M118.3 109.6h0M120.3 110.8h0M122.1 110.8h0M122.2 110.5h0M124.9 111.5h0M128.5 109.2h0M123.3 110.0h0M125.6 110.3h0M130.2 110.3h0M126.1 110.6h0M127.1 110.6h0M127.0 110.1h0M122.9 110.7h0M125.2 111.5h0M127.8 109.0h0M126.3 111.3h0M123.2 110.3h0M126.3 111.6h0M121.7 111.0h0M127.1 111.2h0M123.0 110.4h0M130.5 110.7h0M122.4 111.8h0M124.5 110.6h0M128.5 109.8h0M124.0 111.0h0M121.7 110.0h0M129.4 111.3h0M124.9 111.1h0M120.3 110.1h0M127.0 110.4h0M127.1 110.2h0M123.7 111.0h0M121.7 111.3h0" stroke="#000" stroke-opacity="0.4" stroke-width="0.7" stroke-linecap="square" fill="none"/>
<path d="M127.7 110.4h0M122.2 110.7h0M129.2 111.7h0M125.1 110.9h0M120.7 110.5h0M128.7 110.0h0M123.6 109.6h0M126.2 109.3h0M122.8 111.5h0M120.1 109.8h0M121.9 109.9h0M126.8 111.3h0M123.2 110.6h0M127.6 110.2h0M125.7 109.2h0M124.0 109.9h0M127.8 109.6h0M129.9 111.2h0M122.2 109.7h0M125.4 110.7h0M125.2 109.5h0M121.5 110.4h0M125.4 109.7h0M120.8 110.1h0M122.4 110.7h0M123.0 110.9h0M125.6 112.4h0M119.3 111.8h0M127.6 110.2h0M122.6 110.8h0M119.3 110.4h0M123.9 111.1h0M123.5 110.6h0M126.2 112.3h0M124.3 109.7h0M121.3 110.4h0M126.8 110.3h0M121.5 111.7h0M121.6 110.3h0M125.4 110.8h0M119.9 111.8h0M130.3 110.9h0M122.5 110.5h0M126.8 110.5h0M121.0 111.0h0M124.8 112.0h0M131.3 111.7h0M125.2 111.5h0M122.4 110.0h0M125.7 111.4h0M126.9 110.9h0M123.1 109.6h0M120.8 110.8h0M127.9 111.7h0M121.3 110.9h0M121.6 110.2h0M120.8 110.7h0M127.6 110.5h0M128.6 109.6h0M121.5 112.3h0M126.2 110.4h0M125.7 110.2h0M123.9 110.4h0M128.7 110.5h0M128.8 110.1h0M119.3 109.8h0M122.5 110.4h0M123.7 111.3h0M124.9 111.0h0M126.4 113.0h0M125.9 111.4h0M125.4 110.7h0M125.0 109.2h0M124.6 110.2h0M128.7 110.1h0M126.4 111.8h0M123.1 110.9h0M125.9 111.6h0M129.5 110.7h0M120.8 109.9h0M122.3 109.4h0M126.3 109.0h0M123.1 111.0h0M126.8 111.3h0M124.6 110.4h0M124.9 111.2h0M131.6 110.4h0M126.5 110.5h0M125.4 110.5h0M126.5 111.3h0M123.9 110.7h0M127.5 110.9h0M124.3 110.4h0M128.8 110.0h0M125.3 110.1h0M124.7 111.2h0M128.0 110.9h0M127.5 110.8h0M126.6 109.7h0M122.5 109.7h0" stroke="#000" stroke-opacity="0.4" stroke-width="0.7" stroke-linecap="square" fill="none"/>
<path d="M147.1 111.4h0M150.6 110.6h0M146.2 109.1h0M146.6 110.9h0M142.7 110.8h0M147.7 109.4h0M145.3 111.2h0M146.9 111.3h0M141.2 110.9h0M146.0 110.2h0M145.9 112.2h0M148.7 110.2h0M145.8 110.4h0M146.5 110.5h0M144.8 110.8h0M144.0 109.4h0M148.5 110.8h0M146.6 110.4h0M149.6 109.4h0M144.1 111.2h0M145.1 111.0h0M141.5 112.4h0M149.7 110.1h0M142.5 110.7h0M147.1 110.5h0M147.3 110.6h0M145.5 111.5h0M144.1 111.2h0M145.1 111.1h0M146.5 111.8h0M145.6 110.3h0M141.9 108.5h0M143.5 109.2h0M147.0 109.8h0M142.8 109.8h0M145.0 111.0h0M146.3 109.9h0M141.2 111.5h0M146.4 109.9h0M144.5 110.6h0M144.3 110.7h0M143.5 111.3h0M149.1 109.9h0M143.6 113.1h0M143.2 110.2h0M141.9 110.6h0M139.8 110.2h0M140.0 109.5h0M145.3 110.9h0M148.2 110.8h0M144.2 109.1h0M149.2 109.5h0M144.8 108.8h0M147.0 109.7h0M144.4 110.5h0M143.5 110.0h0M143.8 110.0h0M145.1 110.3h0M144.7 110.5h0M143.5 111.5h0M144.5 110.8h0M147.4 109.6h0M142.2 110.4h0M147.5 110.2h0M144.2 110.2h0M143.3 110.6h0M140.9 110.2h0M146.6 110.4h0M148.8 109.6h0M146.3 110.0h0M142.8 110.8h0M143.7 110.3h0M138.9 110.4h0M140.8 108.4h0M144.3 111.7h0M146.1 111.1h0M147.4 112.4h0M147.6 109.6h0M142.8 110.6h0M139.0 110.2h0M142.4 110.6h0M138.3 111.5h0M145.3 111.6h0M147.3 111.0h0M150.0 110.8h0M144.3 110.2h0M142.5 109.9h0M143.7 111.3h0M145.7 110.6h0M145.0 111.0h0M144.4 111.2h0M148.6 111.6h0M139.8 110.1h0M145.6 108.4h0M145.9 112.3h0M144.0 111.3h0M147.7 109.6h0M143.3 111.3h0M146.5 110.7h0M145.9 109.9h0" stroke="#000" stroke-opacity="0.45" stroke-width="0.7" stroke-linecap="square" fill="none"/>
<path d="M143.1 111.6h0M145.6 108.5h0M148.2 111.9h0M136.5 110.0h0M144.8 111.0h0M148.1 110.0h0M147.2 111.2h0M146.0 110.5h0M146.4 111.3h0M144.9 111.5h0M148.0 112.9h0M143.8 110.9h0M145.0 110.8h0M145.3 111.6h0M150.8 110.7h0M146.9 110.1h0M145.3 111.0h0M138.0 111.4h0M137.1 112.0h0M141.8 111.2h0M142.6 110.8h0M145.4 109.8h0M145.7 111.5h0M143.0 109.5h0M150.5 110.0h0M140.5 110.0h0M140.7 110.0h0M148.0 111.6h0M142.9 110.4h0M142.1 108.6h0M146.0 111.7h0M139.1 110.0h0M140.5 109.1h0M146.5 110.9h0M143.8 109.9h0M143.6 111.6h0M143.0 111.4h0M142.5 111.8h0M143.8 110.0h0M146.3 108.7h0M145.4 112.4h0M146.8 111.2h0M138.9 111.3h0M143.6 109.5h0M145.7 110.2h0M141.6 111.4h0M141.4 111.9h0M144.4 109.4h0M144.4 111.3h0M145.2 110.3h0M145.3 110.4h0M142.1 111.2h0M146.7 111.8h0M144.5 110.9h0M142.5 109.9h0M145.3 110.7h0M145.0 111.6h0M145.7 110.2h0M149.8 111.1h0M146.9 113.1h0M146.7 109.7h0M140.6 111.6h0M145.4 111.0h0M143.3 110.2h0M148.6 110.8h0M144.6 110.1h0M145.5 110.8h0M144.5 110.6h0M146.5 111.0h0M151.0 111.2h0M145.0 109.4h0M143.0 111.1h0M146.3 110.5h0M146.4 110.1h0M141.6 110.6h0M145.2 109.4h0M146.3 109.7h0M147.2 111.1h0M144.0 110.8h0M143.3 111.9h0M143.1 112.5h0M142.7 111.9h0M144.9 108.0h0M144.8 111.0h0M144.3 109.3h0M144.7 109.6h0M147.1 111.0h0M148.1 109.3h0M146.6 109.3h0M147.9 111.3h0M148.9 109.9h0M143.9 110.8h0M144.1 110.9h0M153.0 111.3h0M149.7 110.6h0M141.4 110.4h0M141.5 110.3h0M145.5 110.1h0M142.7 110.2h0M144.3 110.9h0" stroke="#000" stroke-opacity="0.45" stroke-width="0.7" stroke-linecap="square" fill="none"/>
<path d="M147.8 110.2h0M146.7 110.1h0M150.3 108.0h0M144.7 111.9h0M143.9 111.4h0M144.2 111.6h0M143.5 109.8h0M147.4 110.6h0M142.5 110.0h0M146.1 112.3h0M145.1 110.6h0M146.1 109.4h0M144.6 111.6h0M147.3 111.8h0M149.8 111.4h0M143.2 109.1h0M145.9 110.8h0M146.4 110.7h0M146.3 109.2h0M151.1 111.9h0M144.3 109.8h0M144.0 112.0h0M144.2 109.6h0M144.5 111.5h0M145.0 109.5h0M150.2 111.3h0M141.5 109.9h0M152.6 110.2h0M146.3 109.9h0M145.4 109.8h0M147.4 110.4h0M145.4 110.1h0M146.8 108.9h0M147.1 111.7h0M146.8 110.5h0M139.8 110.8h0M144.0 108.9h0M148.7 110.4h0M146.5 109.5h0M139.9 109.8h0M146.7 111.1h0M144.6 111.1h0M146.9 110.4h0M143.5 111.0h0M145.2 110.5h0M142.3 110.4h0M144.5 111.0h0M148.0 110.2h0M143.0 110.9h0M145.0 111.2h0M146.1 110.6h0M142.0 110.9h0M145.4 109.3h0M142.7 109.1h0M146.9 110.5h0M144.3 109.3h0M147.4 111.1h0M143.9 109.8h0M143.8 111.2h0M141.9 110.5h0M142.8 110.8h0M147.1 111.5h0M144.5 110.5h0M143.4 110.7h0M143.9 111.7h0M143.8 110.6h0M145.6 112.6h0M146.0 110.3h0M141.7 111.1h0M143.9 110.2h0M142.0 110.0h0M147.3 110.6h0M145.5 110.7h0M145.9 110.3h0M141.9 110.6h0M145.4 111.3h0M143.4 110.6h0M142.5 111.1h0M141.7 111.0h0M146.2 110.1h0M137.4 110.6h0M143.3 111.5h0M142.9 109.2h0M145.3 110.1h0M143.1 110.6h0M144.8 109.2h0M145.0 109.6h0M143.7 110.7h0M148.9 109.6h0M147.1 111.7h0M141.1 109.7h0M146.1 111.5h0M145.0 110.3h0M147.2 110.0h0M141.5 110.7h0M145.6 110.2h0M147.1 110.3h0M145.2 110.4h0M143.7 110.9h0M147.8 110.8h0" stroke="#000" stroke-opacity="0.45" stroke-width="0.7" stroke-linecap="square" fill="none"/>
<path d="M132.6 97.5h0M129.1 97.9h0M129.1 98.8h0M128.9 98.4h0M126.1 97.8h0M128.0 96.7h0M128.2 99.2h0M126.8 99.0h0M129.3 100.8h0M126.5 99.6h0M126.4 101.1h0M126.8 97.4h0M124.4 96.7h0M126.4 96.0h0M125.4 96.7h0M127.2 96.2h0M127.4 95.5h0M126.8 98.2h0M128.1 93.6h0M126.9 98.2h0M130.2 98.1h0M122.6 94.9h0M131.6 94.7h0M127.9 95.5h0M130.7 97.4h0M122.9 95.8h0M125.2 96.5h0M130.6 96.3h0M123.8 99.7h0M127.6 99.0h0M130.6 97.6h0M134.6 98.1h0M124.6 98.2h0M126.0 99.3h0M126.9 97.1h0M128.0 97.6h0M128.4 98.9h0M126.9 94.8h0M130.2 97.7h0M126.0 100.0h0M124.6 99.4h0M131.0 99.3h0M124.6 97.3h0M128.6 97.0h0M128.8 98.7h0M130.3 98.1h0M127.7 100.3h0M125.9 98.0h0M131.1 98.2h0M127.2 96.6h0" stroke="#000" stroke-opacity="0.3" stroke-width="0.7" stroke-linecap="square" fill="none"/>
<path d="M129.7 97.0h0M128.3 97.0h0M120.1 98.3h0M126.9 97.3h0M124.8 97.5h0M125.7 96.7h0M126.7 97.2h0M130.8 98.2h0M127.5 99.7h0M130.3 98.3h0M125.2 94.9h0M125.5 97.4h0M132.4 97.4h0M129.2 95.7h0M132.0 95.9h0M131.8 96.6h0M130.2 96.9h0M128.2 96.5h0M128.4 99.4h0M127.0 97.3h0M130.0 96.1h0M128.1 96.5h0M124.7 96.1h0M128.8 99.4h0M132.2 98.5h0M128.4 98.3h0M130.3 97.6h0M128.5 95.0h0M132.8 98.2h0M128.9 95.3h0M130.4 96.8h0M127.5 99.2h0M128.6 96.9h0M127.2 99.3h0M129.9 94.5h0M127.5 98.5h0M128.9 97.5h0M127.6 98.9h0M128.3 98.2h0M128.1 96.4h0M127.7 100.4h0M127.2 97.8h0M122.9 98.4h0M126.9 96.1h0M129.8 97.5h0M128.1 96.4h0M123.3 98.7h0M127.9 98.8h0M127.7 99.3h0M120.9 98.5h0" stroke="#000" stroke-opacity="0.3" stroke-width="0.7" stroke-linecap="square" fill="none"/>
<path d="M125.6 97.6h0M126.0 97.0h0M130.5 99.3h0M129.2 95.9h0M124.4 97.8h0M122.6 96.9h0M131.3 100.0h0M125.6 96.1h0M132.5 95.7h0M127.9 98.4h0M128.3 99.6h0M125.5 96.0h0M128.4 100.7h0M128.8 99.1h0M126.3 97.8h0M128.7 96.9h0M131.0 95.8h0M127.6 95.6h0M130.1 98.7h0M127.7 92.6h0M129.6 98.2h0M127.9 96.5h0M124.7 96.6h0M130.6 100.4h0M132.5 97.2h0M127.5 98.9h0M128.2 99.5h0M128.0 98.1h0M130.2 99.7h0M125.8 96.7h0M124.9 100.5h0M125.3 97.2h0M126.4 95.3h0M125.9 97.4h0M129.8 98.5h0M128.1 96.3h0M128.5 96.8h0M127.1 96.2h0M129.7 97.4h0M128.5 99.2h0M129.6 97.4h0M126.8 98.8h0M122.7 96.0h0M126.9 95.0h0M130.9 98.2h0M121.7 98.4h0M125.8 97.5h0M128.4 98.2h0M127.7 98.1h0M125.3 98.6h0" stroke="#000" stroke-opacity="0.3" stroke-width="0.7" stroke-linecap="square" fill="none"/>
<path d="M151.3 94.4h0M141.2 97.9h0M153.7 97.3h0M137.8 97.3h0M139.8 100.0h0M141.3 97.5h0M137.4 97.2h0M140.9 102.1h0M139.0 93.5h0M146.8 95.5h0M139.6 95.1h0M145.1 97.7h0M138.6 94.1h0M131.7 100.1h0M139.6 99.7h0M144.7 99.4h0M137.7 96.9h0M132.1 96.4h0M135.6 102.2h0M138.3 97.3h0M139.6 91.0h0M139.0 97.9h0M139.8 98.1h0M151.0 100.1h0M135.9 98.2h0M150.4 98.4h0M151.3 94.3h0M139.6 94.3h0M139.7 97.9h0M136.4 99.7h0M139.6 93.9h0M137.7 97.4h0M149.5 97.2h0M140.3 99.2h0M147.7 98.2h0M120.0 99.6h0M142.5 94.3h0M140.2 94.4h0M137.9 96.1h0M136.1 95.6h0" stroke="#000" stroke-opacity="0.15" stroke-width="0.7" stroke-linecap="square" fill="none"/>
<path d="M146.1 97.3h0M149.2 102.6h0M140.7 97.8h0M151.8 101.3h0M138.1 97.8h0M137.8 97.4h0M145.1 100.2h0M146.3 95.3h0M141.3 94.3h0M135.2 95.4h0M145.4 97.4h0M151.7 100.7h0M152.0 101.1h0M140.8 96.9h0M139.4 99.6h0M135.3 102.0h0M139.6 100.3h0M142.4 97.3h0M140.0 103.0h0M143.7 92.9h0M143.7 99.3h0M148.1 96.5h0M142.4 96.4h0M129.3 98.2h0M134.2 95.0h0M147.3 94.6h0M131.9 97.4h0M149.5 99.2h0M137.3 95.4h0M128.8 98.9h0M135.7 100.3h0M139.7 93.7h0M138.1 100.8h0M150.2 96.3h0M142.6 95.1h0M141.0 97.0h0M141.8 97.8h0M143.1 100.7h0M143.1 95.9h0M137.9 100.5h0" stroke="#000" stroke-opacity="0.15" stroke-width="0.7" stroke-linecap="square" fill="none"/>
<path d="M143.6 94.7h0M142.8 96.7h0M143.7 99.2h0M143.6 98.2h0M138.5 96.1h0M141.5 96.4h0M142.2 96.9h0M140.8 96.3h0M137.7 101.1h0M130.3 95.2h0M138.1 101.7h0M137.1 98.3h0M133.8 98.7h0M148.3 97.6h0M141.1 99.5h0M140.2 101.8h0M138.7 98.5h0M130.3 98.7h0M144.9 98.7h0M146.9 94.7h0M142.8 98.3h0M144.0 99.3h0M155.2 96.5h0M147.1 99.5h0M139.7 98.0h0M134.4 96.4h0M148.0 93.6h0M142.7 97.4h0M134.6 97.6h0M144.2 100.5h0M139.3 96.5h0M137.6 100.0h0M140.0 94.7h0M144.2 96.7h0M139.2 96.7h0M138.9 97.6h0M141.2 93.9h0M146.1 96.7h0M137.9 91.4h0M133.1 94.3h0" stroke="#000" stroke-opacity="0.15" stroke-width="0.7" stroke-linecap="square" fill="none"/>
<ellipse cx="124.6" cy="110.6" rx="2.5" ry="1" transform="rotate(0 124.6 110.6)" fill="#000" fill-opacity="0.75"/>
<ellipse cx="145" cy="110.4" rx="2.8" ry="1.1" transform="rotate(0 145 110.4)" fill="#000" fill-opacity="0.85"/>
<rect x="115.3" y="80.9" width="41.5" height="39.9" fill="none" stroke="#777" stroke-width="0.6"/>
<path d="M114.55 81.9V120.8M116.3 121.55H155.8" stroke="#222" stroke-width="1.3" stroke-dasharray="1 0.6" fill="none" stroke-opacity="0.8"/>
<line x1="136.4" y1="80.9" x2="136.4" y2="120.8" stroke="#555" stroke-width="0.6"/>
<line x1="115.3" y1="105.5" x2="156.8" y2="105.5" stroke="#555" stroke-width="0.6"/>
<text transform="translate(126.3,91.2) scale(1,1.15)" x="0" y="0" font-size="8" text-anchor="middle" font-weight="normal" font-style="normal" fill="#000" stroke="#000" stroke-width="0.15" >NK</text>
<text transform="translate(146.5,119.4) scale(1,1.15)" x="0" y="0" font-size="6.3" text-anchor="middle" font-weight="normal" font-style="normal" fill="#000" stroke="#000" stroke-width="0.15" >B-cells</text>
<text transform="translate(106.4,101.2) rotate(-90) scale(1,1.15)" x="0" y="2.63" font-size="7.3" text-anchor="middle" font-weight="normal" stroke="#000" stroke-width="0.15">NK1.1</text>
<text transform="translate(135,129.6) scale(1,1.15)" x="0" y="0" font-size="8.4" text-anchor="middle" font-weight="normal" font-style="normal" fill="#000" stroke="#000" stroke-width="0.15" >B220</text>
<rect x="182" y="80.4" width="40.3" height="39" fill="none" stroke="#777" stroke-width="0.6"/>
<path d="M181.25 81.4V119.4M183 120.15H221.3" stroke="#222" stroke-width="1.3" stroke-dasharray="1 0.6" fill="none" stroke-opacity="0.8"/>
<path d="M190.2 112.2 L192.6 112.4 L193.2 117.6 L189.4 117.6 Z" fill="#000"/>
<path d="M191.8 113.6h0M192.0 117.2h0M190.5 114.4h0M190.8 115.8h0M192.0 115.9h0M190.4 116.9h0M191.6 114.7h0M192.0 113.8h0M192.6 116.1h0M191.6 114.5h0M191.9 116.7h0M190.2 116.5h0M191.6 119.2h0M191.1 115.0h0M191.7 115.5h0M192.2 112.4h0M192.0 113.1h0M191.9 114.0h0M191.0 111.6h0M190.6 114.4h0" stroke="#000" stroke-opacity="0.5" stroke-width="0.7" stroke-linecap="square" fill="none"/>
<path d="M191.2 115.3h0M190.5 114.6h0M192.0 113.6h0M191.8 116.5h0M192.1 113.8h0M190.7 113.5h0M191.5 116.2h0M192.0 115.9h0M190.2 115.7h0M192.6 115.4h0M191.8 115.0h0M191.1 117.7h0M190.7 115.6h0M191.9 113.9h0M190.7 115.2h0M191.7 116.1h0M191.7 115.7h0M189.8 115.6h0M191.1 117.2h0M190.6 116.0h0" stroke="#000" stroke-opacity="0.5" stroke-width="0.7" stroke-linecap="square" fill="none"/>
<path d="M191.3 113.9h0M192.0 114.7h0M191.5 115.6h0M192.0 112.8h0M192.0 115.6h0M191.6 114.1h0M191.3 116.3h0M191.4 116.6h0M191.2 114.6h0M191.3 116.2h0M191.4 111.9h0M192.7 113.2h0M191.1 114.7h0M191.7 114.0h0M190.7 113.8h0M190.9 116.6h0M190.7 115.9h0M190.7 112.5h0M189.1 115.7h0M191.3 113.9h0" stroke="#000" stroke-opacity="0.5" stroke-width="0.7" stroke-linecap="square" fill="none"/>
<path d="M200.9 116.1h0M198.6 117.0h0M204.8 115.7h0M204.8 116.7h0M212.4 115.1h0M209.9 117.5h0M206.0 116.8h0M203.8 115.7h0M198.7 115.9h0M210.7 116.7h0M202.6 116.7h0M206.6 116.2h0M200.5 116.7h0M208.5 116.6h0M201.9 115.4h0M206.2 116.9h0M205.1 116.6h0M208.2 117.5h0M206.5 116.5h0M210.8 115.2h0M211.5 117.8h0M202.5 115.8h0M201.2 116.7h0M205.6 116.2h0M201.6 116.2h0M202.9 116.4h0M206.5 116.2h0M206.0 116.8h0M201.5 116.4h0M199.7 116.1h0M202.2 116.6h0M208.3 115.3h0M207.4 116.9h0M204.6 116.2h0M206.2 117.0h0M204.3 117.5h0M204.5 115.8h0M209.6 115.8h0M206.4 116.4h0M202.5 116.1h0M204.4 116.0h0M203.8 115.2h0M203.2 115.9h0M206.7 116.2h0M200.5 117.3h0M202.4 115.9h0M198.5 116.3h0M207.7 116.7h0M206.6 116.2h0M204.8 116.9h0" stroke="#000" stroke-opacity="0.45" stroke-width="0.7" stroke-linecap="square" fill="none"/>
<path d="M209.3 115.6h0M205.2 117.6h0M200.7 116.8h0M208.6 116.3h0M201.4 116.6h0M202.6 116.7h0M202.8 116.4h0M209.2 116.5h0M204.9 116.8h0M205.8 115.9h0M206.1 116.8h0M202.8 115.7h0M204.5 116.0h0M205.4 115.5h0M209.2 115.4h0M200.6 115.6h0M202.8 115.1h0M205.7 116.7h0M208.5 115.6h0M205.1 117.6h0M205.8 115.9h0M206.0 116.3h0M206.2 116.0h0M208.0 116.9h0M207.0 116.8h0M201.6 116.4h0M207.4 116.0h0M203.2 116.1h0M198.3 115.8h0M214.1 116.8h0M206.2 116.6h0M213.9 116.1h0M203.2 116.5h0M204.3 115.9h0M205.1 115.9h0M213.2 117.2h0M210.2 116.4h0M207.0 115.5h0M209.4 116.7h0M204.5 115.9h0M204.5 116.3h0M205.4 116.7h0M212.0 116.8h0M206.9 115.8h0M208.1 115.8h0M200.1 115.8h0M201.9 115.7h0M204.3 115.9h0M208.8 117.2h0M203.5 116.3h0" stroke="#000" stroke-opacity="0.45" stroke-width="0.7" stroke-linecap="square" fill="none"/>
<path d="M206.8 116.5h0M211.3 116.2h0M204.5 116.1h0M204.7 116.4h0M205.9 117.0h0M204.6 116.9h0M203.6 116.2h0M209.1 115.7h0M209.0 117.0h0M207.7 116.0h0M202.9 117.0h0M200.7 117.1h0M203.8 116.3h0M199.3 117.4h0M207.9 116.9h0M204.7 116.3h0M206.8 116.2h0M202.3 116.8h0M207.3 116.6h0M204.0 116.1h0M203.3 116.1h0M207.0 116.3h0M204.4 116.5h0M204.3 116.3h0M205.9 116.3h0M205.4 115.8h0M207.0 117.2h0M198.9 116.2h0M205.6 116.5h0M205.9 114.7h0M208.6 116.4h0M203.1 117.2h0M207.8 115.6h0M201.0 116.6h0M200.4 116.4h0M202.2 115.5h0M203.9 116.3h0M204.6 115.9h0M203.3 115.5h0M209.0 116.9h0M205.2 115.4h0M201.7 116.4h0M207.0 116.0h0M205.1 116.1h0M200.3 115.9h0M205.5 116.5h0M204.2 115.9h0M211.5 117.4h0M203.5 117.4h0M203.7 116.3h0" stroke="#000" stroke-opacity="0.45" stroke-width="0.7" stroke-linecap="square" fill="none"/>
<ellipse cx="205" cy="116.3" rx="3.5" ry="0.8" transform="rotate(0 205 116.3)" fill="#000" fill-opacity="0.6"/>
<rect x="187.4" y="108.6" width="8.6" height="10.8" fill="none" stroke="#333" stroke-width="0.6"/>
<ellipse cx="205.3" cy="116.3" rx="6.3" ry="1.9" fill="none" stroke="#333" stroke-width="0.6"/>
<text transform="translate(173.2,97.8) rotate(-90) scale(1,1.15)" x="0" y="2.74" font-size="7.6" text-anchor="middle" font-weight="normal" stroke="#000" stroke-width="0.15">SSC-A</text>
<text transform="translate(195.5,129.3) scale(1,1.15)" x="0" y="0" font-size="7.6" text-anchor="middle" font-weight="normal" font-style="normal" fill="#000" stroke="#000" stroke-width="0.15" >CD3</text>
<polyline points="187.4,113.6 161.3,113.6" fill="none" stroke="#000" stroke-width="1.0"/>
<polygon points="157.8,113.6 161.6,111.7 161.6,115.5" fill="#000"/>
<polyline points="210.8,118.2 210.8,137.3 89.6,137.3 89.6,123.3" fill="none" stroke="#000" stroke-width="1.1"/>
<polyline points="92.6,128.1 89.6,123.3 86.6,128.1" fill="none" stroke="#000" stroke-width="1.1" stroke-linejoin="miter"/>
<path d="M274.0 108.4h0M256.9 110.3h0M257.3 108.7h0M277.2 108.4h0M254.7 109.4h0M266.3 108.5h0M275.9 108.7h0M268.6 108.7h0M269.0 109.6h0M271.6 109.1h0M259.8 108.2h0M257.6 109.7h0M266.2 109.5h0M266.3 109.5h0M267.1 109.3h0M262.4 107.9h0M258.9 109.4h0M267.2 108.3h0M266.8 109.1h0M269.0 108.5h0M267.7 109.4h0M266.2 108.4h0M268.4 108.4h0M263.9 109.8h0M269.6 109.0h0M266.9 109.1h0M256.7 109.7h0M261.5 108.7h0M269.3 108.1h0M267.5 108.3h0M278.9 109.8h0M252.6 108.6h0M270.4 108.9h0M262.4 108.9h0M260.9 107.2h0M276.7 109.8h0M264.4 108.0h0M262.4 108.8h0M273.5 107.8h0M261.9 110.3h0M259.7 108.5h0M271.2 108.2h0M266.8 108.9h0M274.3 108.7h0M268.9 109.6h0M269.1 108.4h0M258.8 109.1h0M272.2 109.0h0M262.6 108.8h0M268.9 108.8h0M272.8 107.6h0M273.7 108.3h0M253.1 108.8h0M273.1 109.7h0M255.4 110.1h0M266.4 108.9h0M271.3 108.4h0M266.2 108.4h0M255.7 108.6h0M270.7 108.9h0M274.7 109.1h0M265.1 108.5h0M261.5 108.4h0M264.0 108.5h0M268.7 108.3h0M264.9 109.0h0M264.4 109.4h0M269.0 108.3h0M253.4 108.8h0M263.5 109.1h0M272.8 108.1h0M275.7 108.6h0M271.0 109.1h0M270.2 109.3h0M273.7 108.4h0M259.1 109.3h0M277.9 108.3h0M252.0 109.0h0M263.8 109.3h0M272.8 108.7h0M258.1 108.4h0M272.1 109.7h0M267.8 108.4h0M261.4 108.9h0M271.2 109.1h0M264.4 108.5h0M268.8 109.5h0M278.3 109.0h0M258.7 108.3h0M276.0 109.3h0M261.0 108.5h0M254.9 108.2h0M270.3 109.0h0M268.4 108.8h0M263.6 108.3h0M267.4 108.8h0M265.1 109.3h0M266.4 109.1h0M274.1 109.0h0M265.2 108.8h0M266.1 109.0h0M260.1 108.9h0M276.7 108.9h0M272.8 108.8h0M267.9 108.2h0M263.7 108.4h0M259.3 109.8h0M271.9 108.9h0M280.1 108.7h0M271.9 109.8h0M267.6 109.1h0M280.8 109.1h0M267.9 108.7h0M254.7 108.8h0M274.3 108.5h0M269.1 109.8h0" stroke="#000" stroke-opacity="0.28" stroke-width="0.7" stroke-linecap="square" fill="none"/>
<path d="M265.0 109.2h0M262.5 109.4h0M267.5 109.2h0M273.9 108.0h0M266.8 109.4h0M267.5 108.6h0M258.8 109.3h0M266.1 107.7h0M265.9 108.8h0M257.8 109.1h0M276.5 110.1h0M280.7 109.8h0M262.5 108.9h0M272.8 109.1h0M267.9 109.1h0M271.0 109.2h0M268.8 109.1h0M258.5 109.0h0M271.8 109.8h0M259.9 109.6h0M267.7 109.8h0M264.6 109.6h0M260.0 109.1h0M274.0 108.9h0M256.0 108.0h0M260.9 109.1h0M276.7 108.6h0M254.1 108.7h0M271.1 108.0h0M266.3 108.8h0M262.6 108.5h0M279.6 108.2h0M264.8 108.1h0M272.5 108.1h0M262.8 109.5h0M263.5 108.4h0M267.6 108.9h0M258.0 108.9h0M269.3 109.3h0M272.5 109.4h0M253.2 109.2h0M271.9 109.0h0M274.4 108.4h0M280.4 107.2h0M265.7 108.3h0M263.7 109.1h0M262.3 108.9h0M271.6 108.1h0M264.1 107.6h0M270.4 108.9h0M267.2 108.6h0M259.1 109.3h0M274.9 108.6h0M271.4 109.6h0M268.2 108.8h0M257.1 108.9h0M269.2 109.4h0M270.8 108.7h0M272.4 109.4h0M261.5 109.1h0M263.7 109.0h0M269.4 108.2h0M256.5 108.9h0M272.8 109.8h0M263.2 109.0h0M264.4 108.8h0M272.3 107.9h0M273.4 108.8h0M277.5 108.9h0M274.3 109.6h0M266.1 108.8h0M272.9 109.1h0M272.5 108.9h0M280.2 108.6h0M281.0 108.4h0M273.0 108.5h0M260.3 108.9h0M263.1 108.4h0M269.0 109.1h0M271.2 109.2h0M270.9 108.8h0M262.8 109.2h0M265.4 109.1h0M261.9 109.1h0M268.0 108.9h0M259.7 109.8h0M258.4 108.8h0M265.2 108.9h0M281.0 108.5h0M265.5 110.0h0M264.5 108.4h0M260.4 108.6h0M283.6 108.3h0M261.1 108.2h0M276.3 109.1h0M267.1 108.8h0M253.4 108.7h0M279.2 109.6h0M263.2 108.8h0M256.6 109.8h0M271.0 109.3h0M262.4 109.8h0M262.0 108.8h0M266.5 109.5h0M259.2 108.0h0M269.5 108.8h0M260.4 108.9h0M266.0 109.0h0M273.2 109.5h0M270.4 109.6h0M270.7 110.0h0M269.5 109.2h0M261.0 109.0h0M279.2 109.4h0M263.9 109.2h0" stroke="#000" stroke-opacity="0.28" stroke-width="0.7" stroke-linecap="square" fill="none"/>
<path d="M263.8 110.0h0M278.2 109.2h0M273.8 109.5h0M268.0 108.3h0M256.0 108.2h0M264.7 108.3h0M270.4 109.0h0M256.2 108.2h0M274.8 108.7h0M268.4 108.3h0M271.9 109.8h0M260.5 109.5h0M263.0 109.2h0M266.8 108.7h0M266.8 108.9h0M260.3 109.9h0M275.0 109.4h0M278.0 109.4h0M261.7 109.3h0M269.3 108.8h0M265.2 108.5h0M279.0 109.2h0M268.2 108.6h0M268.6 109.6h0M253.7 107.7h0M270.1 108.9h0M280.6 108.9h0M255.8 109.5h0M268.1 109.2h0M267.4 109.7h0M267.2 109.1h0M261.9 108.5h0M271.3 108.9h0M256.2 108.3h0M264.7 109.5h0M269.7 108.2h0M278.4 109.1h0M265.5 109.1h0M258.6 109.9h0M268.9 109.5h0M262.0 109.3h0M268.4 109.2h0M258.6 108.5h0M262.0 108.7h0M272.9 109.8h0M267.2 108.8h0M262.9 109.0h0M270.2 109.1h0M270.5 108.5h0M265.0 109.2h0M259.2 109.6h0M262.6 108.7h0M266.1 109.9h0M255.3 108.4h0M261.7 108.3h0M269.6 108.9h0M270.9 109.1h0M260.3 109.3h0M264.3 108.9h0M268.1 109.0h0M280.5 108.5h0M270.1 109.3h0M259.1 108.6h0M252.0 108.4h0M276.7 109.5h0M258.7 107.9h0M265.6 108.6h0M271.0 109.4h0M274.3 109.1h0M277.1 108.3h0M271.4 109.1h0M267.0 108.2h0M265.2 109.1h0M281.0 107.3h0M274.4 108.4h0M283.8 108.7h0M259.9 109.1h0M268.5 108.8h0M276.3 108.9h0M263.2 108.1h0M264.9 109.2h0M271.9 108.4h0M255.1 108.4h0M261.0 108.6h0M274.0 109.7h0M260.8 108.2h0M257.0 108.5h0M269.0 108.8h0M275.3 108.5h0M260.5 108.8h0M264.7 109.8h0M274.0 109.3h0M259.0 108.9h0M265.1 108.5h0M279.9 108.6h0M265.8 107.8h0M271.0 109.6h0M263.9 108.6h0M269.2 108.8h0M275.5 109.7h0M254.3 109.1h0M270.7 108.9h0M264.5 108.9h0M269.0 109.4h0M274.9 109.1h0M269.2 108.4h0M276.3 107.9h0M258.8 107.7h0M269.0 109.1h0M265.0 108.7h0M272.8 108.9h0M264.7 108.3h0M265.6 108.6h0M274.5 108.9h0M257.1 108.9h0" stroke="#000" stroke-opacity="0.28" stroke-width="0.7" stroke-linecap="square" fill="none"/>
<path d="M254.5 105.5h0M257.2 106.1h0M255.2 102.7h0M254.3 103.5h0M258.1 105.5h0M257.1 100.4h0M257.0 106.8h0M256.0 106.9h0M255.2 100.2h0M255.8 98.1h0M256.5 102.2h0M254.1 99.5h0M254.3 108.7h0M255.0 100.1h0M254.6 104.2h0M253.7 104.8h0M254.9 106.0h0M255.2 103.1h0M254.6 100.8h0M252.1 99.2h0M254.5 102.6h0M257.1 108.6h0M256.8 109.1h0M256.0 104.4h0M258.1 97.6h0M254.7 107.2h0M255.8 104.5h0M253.5 91.7h0M254.6 107.9h0M256.1 109.2h0M256.0 102.2h0M255.4 102.8h0M254.4 107.8h0M257.0 114.8h0M255.5 104.5h0M255.8 96.6h0M254.8 118.1h0M255.9 103.5h0M257.9 99.8h0M254.2 100.4h0M256.1 109.7h0M254.9 99.2h0M258.1 96.9h0M253.4 107.3h0M257.2 106.7h0M254.4 99.7h0M256.0 95.5h0" stroke="#000" stroke-opacity="0.17" stroke-width="0.7" stroke-linecap="square" fill="none"/>
<path d="M254.5 99.8h0M255.7 117.6h0M257.9 97.7h0M252.5 103.6h0M255.6 103.9h0M254.9 96.8h0M255.3 99.8h0M250.9 88.8h0M256.4 92.0h0M256.2 104.7h0M256.9 96.1h0M257.2 99.7h0M258.8 111.0h0M253.8 111.6h0M254.7 103.1h0M254.5 100.5h0M255.5 109.6h0M255.3 99.4h0M256.1 98.6h0M253.9 108.0h0M255.0 107.3h0M255.4 100.5h0M255.0 100.8h0M254.3 105.7h0M256.9 101.9h0M255.2 101.1h0M258.1 102.1h0M255.7 108.2h0M255.1 93.6h0M257.5 106.4h0M257.5 110.6h0M254.3 101.2h0M259.0 95.1h0M257.3 102.9h0M254.2 112.1h0M255.6 103.2h0M257.2 97.7h0M254.1 94.5h0M258.3 92.1h0M254.0 103.3h0M252.9 115.0h0M255.6 104.9h0M257.7 110.5h0M254.0 117.1h0M255.5 103.8h0M254.6 102.6h0M255.0 101.5h0" stroke="#000" stroke-opacity="0.17" stroke-width="0.7" stroke-linecap="square" fill="none"/>
<path d="M251.5 97.4h0M256.3 95.7h0M256.1 108.8h0M252.2 100.7h0M258.7 106.3h0M255.2 98.9h0M251.2 99.5h0M255.7 96.9h0M254.7 108.6h0M254.2 107.1h0M256.6 101.9h0M255.0 99.1h0M256.3 107.5h0M255.0 98.8h0M255.8 111.0h0M257.9 106.8h0M254.8 105.9h0M255.7 108.9h0M256.8 107.2h0M256.9 96.0h0M257.0 106.6h0M254.4 107.9h0M255.9 110.5h0M256.3 97.5h0M255.8 98.4h0M256.8 107.3h0M256.1 105.6h0M255.8 99.9h0M256.5 104.5h0M255.3 90.6h0M256.2 111.2h0M255.8 109.3h0M255.1 103.2h0M254.3 102.7h0M254.5 107.1h0M255.2 107.8h0M251.8 110.5h0M252.8 118.3h0M256.5 107.2h0M257.5 108.9h0M255.4 95.2h0M252.0 110.5h0M257.0 112.7h0M254.1 95.7h0M256.4 113.3h0M255.5 95.3h0" stroke="#000" stroke-opacity="0.17" stroke-width="0.7" stroke-linecap="square" fill="none"/>
<path d="M266.1 111.8h0M279.3 99.6h0M266.7 102.9h0M258.6 90.6h0M270.3 106.5h0M263.3 98.9h0M266.1 111.0h0M271.2 94.0h0M268.6 112.8h0M272.6 91.1h0M268.0 95.5h0M272.4 93.9h0M263.0 112.0h0M271.3 102.2h0M287.9 99.9h0M267.3 94.2h0M256.6 90.1h0M258.1 101.8h0M265.1 114.3h0M267.0 93.1h0M264.0 102.8h0M260.5 101.8h0M262.2 101.5h0M277.2 94.6h0M274.6 102.7h0M253.3 106.5h0M257.4 95.4h0M267.6 100.4h0M269.7 96.9h0M268.0 108.0h0M268.7 97.4h0M277.1 113.9h0M266.0 111.5h0M277.0 89.8h0M262.3 98.9h0M268.4 93.5h0M267.3 97.8h0M259.3 101.3h0M288.0 98.6h0M266.3 99.6h0M267.1 86.9h0M272.0 83.9h0M267.7 106.5h0M266.6 103.7h0M269.9 96.6h0M264.6 90.2h0M262.7 97.7h0M255.7 109.5h0" stroke="#000" stroke-opacity="0.12" stroke-width="0.7" stroke-linecap="square" fill="none"/>
<path d="M281.1 108.6h0M269.8 102.2h0M267.0 93.2h0M267.2 101.4h0M264.7 97.0h0M266.5 85.6h0M253.1 98.9h0M254.9 89.5h0M268.8 101.5h0M258.1 100.9h0M283.9 84.0h0M260.8 98.0h0M270.4 110.1h0M259.8 96.6h0M261.9 107.9h0M279.1 100.7h0M263.9 98.5h0M258.3 94.5h0M279.4 107.1h0M272.7 90.0h0M282.6 92.1h0M276.2 94.3h0M262.3 98.0h0M261.8 116.3h0M263.9 105.4h0M269.3 94.5h0M274.3 87.9h0M259.1 104.6h0M279.9 96.8h0M271.5 99.9h0M267.1 98.1h0M267.1 93.3h0M272.4 108.8h0M269.6 103.2h0M281.5 85.7h0M278.9 91.1h0M265.9 108.2h0M272.3 99.8h0M258.9 86.1h0M269.4 96.6h0M279.0 96.2h0M254.7 96.9h0M275.2 99.1h0M273.7 93.6h0M273.8 108.2h0M265.4 105.0h0M268.7 105.1h0M276.7 94.8h0" stroke="#000" stroke-opacity="0.12" stroke-width="0.7" stroke-linecap="square" fill="none"/>
<path d="M280.7 97.7h0M257.3 95.1h0M258.8 100.1h0M261.4 85.8h0M259.2 105.8h0M268.9 93.5h0M271.9 101.0h0M264.7 105.9h0M269.6 86.1h0M270.3 101.0h0M259.8 111.9h0M259.8 101.9h0M269.3 116.3h0M271.1 96.0h0M263.8 103.3h0M276.7 97.3h0M268.4 104.1h0M288.5 110.2h0M279.7 98.0h0M264.0 103.7h0M279.2 94.5h0M262.2 96.5h0M270.8 96.7h0M280.0 100.6h0M270.4 110.3h0M264.6 96.8h0M263.4 103.1h0M260.8 107.3h0M276.2 100.8h0M267.1 101.7h0M277.7 103.6h0M274.5 95.2h0M257.2 100.3h0M249.6 112.8h0M271.7 96.4h0M270.9 104.4h0M271.6 99.4h0M279.5 84.7h0M275.0 104.6h0M277.3 105.0h0M259.8 110.4h0M258.0 98.8h0M256.2 108.7h0M281.6 100.7h0M263.6 104.8h0M272.5 108.7h0M267.1 92.5h0" stroke="#000" stroke-opacity="0.12" stroke-width="0.7" stroke-linecap="square" fill="none"/>
<path d="M283.1 89.6h0M279.2 89.9h0M282.7 88.7h0M281.8 90.8h0M281.3 89.5h0M280.8 90.1h0M279.8 89.4h0M284.9 89.1h0M281.1 90.7h0M280.6 89.8h0M280.4 88.5h0M282.9 89.3h0M281.4 91.4h0M283.0 89.7h0M282.1 89.8h0M283.9 89.9h0M279.4 88.2h0" stroke="#000" stroke-opacity="0.5" stroke-width="0.7" stroke-linecap="square" fill="none"/>
<path d="M281.9 90.7h0M281.9 90.4h0M281.8 90.1h0M282.4 89.5h0M280.1 89.5h0M281.2 88.2h0M282.4 88.6h0M281.6 89.2h0M280.0 89.8h0M280.0 89.8h0M280.8 90.0h0M281.7 90.4h0M281.2 89.3h0M282.3 90.1h0M283.4 89.3h0M281.1 88.2h0M282.3 90.2h0" stroke="#000" stroke-opacity="0.5" stroke-width="0.7" stroke-linecap="square" fill="none"/>
<path d="M280.7 88.9h0M282.0 89.7h0M281.2 91.2h0M283.6 90.6h0M281.0 89.8h0M280.7 88.8h0M278.9 89.5h0M282.4 90.9h0M279.8 89.8h0M281.5 89.1h0M281.2 89.8h0M281.9 90.0h0M282.0 91.1h0M281.4 90.2h0M283.0 91.5h0M281.3 91.8h0" stroke="#000" stroke-opacity="0.5" stroke-width="0.7" stroke-linecap="square" fill="none"/>
<ellipse cx="257.5" cy="108.9" rx="4.2" ry="0.95" transform="rotate(0 257.5 108.9)" fill="#000" fill-opacity="0.88"/>
<rect x="249.2" y="81.4" width="39.8" height="37.6" fill="none" stroke="#999" stroke-width="0.6"/>
<path d="M248.45 82.4V119M250.2 119.75H288" stroke="#222" stroke-width="1.3" stroke-dasharray="1 0.6" fill="none" stroke-opacity="0.8"/>
<rect x="276.3" y="85.2" width="10.3" height="8.8" fill="none" stroke="#888" stroke-width="0.6"/>
<rect x="275" y="100.4" width="11" height="16.6" fill="none" stroke="#999" stroke-width="0.6"/>
<text transform="translate(267.4,91.7) scale(1,1.15)" x="0" y="0" font-size="8.2" text-anchor="middle" font-weight="normal" font-style="normal" fill="#000" stroke="#000" stroke-width="0.15" >Neu</text>
<text transform="translate(241.3,104.4) rotate(-90) scale(1,1.15)" x="0" y="2.74" font-size="7.6" text-anchor="middle" font-weight="normal" stroke="#000" stroke-width="0.15">Gr-1</text>
<text transform="translate(266.9,130.4) scale(1,1.15)" x="0" y="0" font-size="7.6" text-anchor="middle" font-weight="normal" font-style="normal" fill="#000" stroke="#000" stroke-width="0.15" >CD11b</text>
<polyline points="282,114.6 303,114.6" fill="none" stroke="#000" stroke-width="1.0"/>
<polygon points="306.5,114.6 302.7,116.5 302.7,112.7" fill="#000"/>
<path d="M329.9 104.0h0M334.7 106.8h0M333.6 101.9h0M333.8 105.2h0M328.4 101.9h0M336.1 103.0h0M331.3 101.7h0M332.9 103.2h0M331.4 112.4h0M331.9 110.1h0M334.6 106.2h0M329.3 118.6h0M333.0 104.1h0M330.5 108.2h0M337.2 99.8h0M329.7 116.3h0M332.2 107.6h0M329.6 105.7h0M330.0 106.5h0M329.0 103.0h0M328.4 119.3h0M334.9 102.1h0M332.4 103.8h0M333.6 104.9h0M336.0 102.0h0M330.0 110.5h0M332.1 106.2h0M334.3 98.8h0M333.8 109.3h0M332.7 108.3h0M332.7 102.2h0M335.2 104.1h0M330.0 111.0h0M331.9 103.7h0M335.4 99.7h0M332.1 100.4h0M334.1 107.9h0M333.5 99.5h0M327.8 112.7h0M334.5 101.1h0M332.1 97.3h0M331.7 99.4h0M330.1 110.9h0M334.8 97.4h0M332.7 110.2h0M332.5 102.7h0M333.8 101.9h0M334.5 94.1h0M336.4 107.5h0M333.9 106.7h0M340.8 89.4h0M336.5 97.2h0M331.1 113.3h0M334.1 104.9h0M332.5 108.2h0M333.1 100.4h0M331.9 107.5h0M331.9 107.3h0M334.7 101.9h0M334.4 97.0h0M331.1 107.4h0M333.3 102.0h0M336.1 92.2h0M333.4 101.0h0M332.0 99.0h0M329.5 118.8h0M329.9 106.8h0M335.6 95.0h0M332.2 106.1h0M335.7 100.0h0M330.9 97.3h0M332.5 105.3h0M332.5 102.0h0M334.4 99.5h0M335.1 95.6h0M332.7 103.5h0M337.0 94.1h0M332.6 103.9h0M333.1 98.9h0M331.0 111.4h0M327.7 117.1h0M332.1 109.2h0M329.7 112.2h0M332.0 103.3h0M335.4 101.6h0M334.0 106.5h0M330.5 101.5h0M331.5 102.8h0M336.8 99.4h0M332.0 107.7h0M330.0 100.2h0M333.5 107.1h0M329.6 105.1h0M336.0 98.7h0M332.8 107.3h0M329.3 110.4h0M333.3 100.6h0M331.9 106.1h0M332.2 104.3h0M330.6 103.9h0M336.3 99.6h0M333.1 112.1h0M333.8 102.1h0M334.5 95.8h0M328.8 107.6h0M333.0 96.8h0M334.7 109.2h0M333.8 112.4h0M331.7 103.3h0M332.6 112.8h0M334.7 101.8h0M335.1 91.1h0M330.0 120.0h0M335.3 102.4h0M334.6 108.3h0M327.1 113.1h0" stroke="#000" stroke-opacity="0.25" stroke-width="0.7" stroke-linecap="square" fill="none"/>
<path d="M335.8 97.2h0M334.1 96.2h0M331.4 109.7h0M332.3 113.8h0M335.8 99.5h0M331.9 102.1h0M334.1 107.7h0M332.6 107.6h0M333.5 97.7h0M332.6 104.3h0M336.9 92.3h0M334.7 96.5h0M333.2 109.6h0M330.9 108.5h0M330.1 107.6h0M331.6 103.1h0M329.8 110.6h0M338.2 103.0h0M331.3 105.1h0M334.5 108.4h0M332.9 104.9h0M332.4 101.7h0M329.9 111.2h0M330.5 103.3h0M331.4 100.6h0M332.8 103.8h0M331.8 104.4h0M333.4 108.6h0M330.3 109.6h0M329.3 110.1h0M329.9 112.0h0M338.9 92.6h0M330.5 110.8h0M335.0 105.5h0M333.6 102.7h0M336.7 99.6h0M334.6 97.4h0M336.0 99.8h0M333.3 108.1h0M338.7 94.9h0M335.0 101.3h0M331.7 102.6h0M332.3 104.1h0M335.1 95.7h0M329.2 107.4h0M330.7 111.0h0M331.2 109.3h0M332.3 103.1h0M328.4 109.1h0M332.4 105.9h0M332.4 100.9h0M331.7 107.7h0M327.0 111.8h0M336.2 100.7h0M331.9 107.7h0M332.8 104.1h0M332.2 96.7h0M332.8 112.7h0M335.4 99.0h0M334.2 101.7h0M337.3 98.4h0M337.9 101.0h0M334.8 103.7h0M330.0 109.7h0M333.6 104.5h0M334.8 92.3h0M333.9 99.2h0M336.5 98.1h0M332.0 103.8h0M331.6 109.5h0M331.0 108.9h0M329.6 105.9h0M332.0 101.4h0M333.1 109.5h0M332.2 108.1h0M332.9 108.9h0M335.7 103.9h0M332.2 109.2h0M335.7 99.7h0M332.8 102.7h0M335.7 98.1h0M335.8 110.6h0M330.4 109.3h0M331.8 111.9h0M331.8 104.8h0M335.7 101.5h0M333.4 103.7h0M333.4 99.7h0M333.0 117.7h0M330.1 106.7h0M331.2 108.7h0M334.2 105.5h0M334.3 105.4h0M333.8 102.0h0M333.7 98.0h0M329.7 105.6h0M329.2 109.1h0M331.4 111.2h0M332.6 104.3h0M332.3 106.9h0M337.6 103.0h0M334.9 108.2h0M333.2 115.4h0M332.6 101.9h0M339.0 94.5h0M333.4 103.8h0M333.3 103.3h0M330.9 108.8h0M332.2 105.6h0M334.1 97.1h0M334.8 100.6h0M332.9 102.3h0M332.6 103.1h0M331.7 100.2h0M331.0 108.1h0M333.8 108.0h0" stroke="#000" stroke-opacity="0.25" stroke-width="0.7" stroke-linecap="square" fill="none"/>
<path d="M336.6 98.5h0M332.5 104.5h0M331.7 103.6h0M332.1 106.1h0M338.0 95.7h0M334.0 99.6h0M336.2 102.5h0M335.1 109.7h0M333.9 106.3h0M332.7 108.7h0M337.4 97.3h0M336.6 102.9h0M331.2 110.9h0M332.5 102.4h0M333.1 102.6h0M334.6 100.1h0M331.2 103.7h0M334.6 106.7h0M329.4 108.2h0M332.7 103.6h0M332.4 102.1h0M332.1 105.8h0M333.6 103.4h0M335.2 108.5h0M336.8 100.3h0M333.5 105.6h0M335.7 99.7h0M333.2 110.9h0M328.1 117.0h0M337.3 97.2h0M338.3 100.3h0M330.5 111.3h0M334.6 103.0h0M330.6 103.0h0M329.8 106.7h0M332.4 111.5h0M332.6 107.4h0M334.5 102.6h0M330.7 103.6h0M336.9 95.2h0M333.1 99.7h0M335.8 91.8h0M332.7 100.7h0M335.8 96.4h0M330.6 110.5h0M328.5 107.6h0M332.0 113.8h0M330.5 110.7h0M331.8 104.3h0M333.4 108.1h0M334.1 105.9h0M333.4 102.2h0M334.7 100.0h0M335.9 100.0h0M330.4 109.7h0M330.4 108.2h0M333.9 99.0h0M335.3 101.0h0M334.7 107.2h0M334.4 100.7h0M332.1 106.4h0M334.3 102.0h0M328.9 112.8h0M333.5 102.8h0M330.7 98.8h0M335.0 102.2h0M330.9 103.1h0M334.9 106.8h0M336.6 102.1h0M330.4 105.6h0M335.5 99.9h0M333.5 111.7h0M331.6 107.9h0M332.3 102.8h0M336.1 106.4h0M331.2 105.1h0M334.5 104.6h0M334.1 98.4h0M335.4 105.9h0M333.3 108.8h0M331.4 109.3h0M335.5 109.1h0M335.3 100.4h0M330.4 114.8h0M332.2 104.0h0M333.5 96.9h0M330.1 115.6h0M335.4 105.3h0M331.5 104.4h0M335.1 102.0h0M333.6 98.5h0M334.1 108.1h0M336.2 103.1h0M333.1 97.5h0M330.4 108.5h0M332.4 111.7h0M333.4 102.4h0M328.1 108.4h0M334.0 106.5h0M333.2 104.5h0M330.1 108.6h0M332.6 107.0h0M333.3 103.8h0M334.4 99.7h0M331.5 109.5h0M329.6 113.4h0M334.9 104.2h0M334.8 109.3h0M333.6 103.3h0M333.6 105.4h0M332.5 114.7h0M333.3 105.5h0M336.4 95.8h0M332.7 110.1h0M329.6 117.8h0M333.7 102.5h0" stroke="#000" stroke-opacity="0.25" stroke-width="0.7" stroke-linecap="square" fill="none"/>
<path d="M332.8 94.1h0M330.4 99.3h0M334.6 100.5h0M338.3 109.2h0M339.7 101.2h0M338.9 107.6h0M336.8 102.6h0M337.4 106.9h0M332.5 105.9h0M335.8 103.5h0M334.8 99.4h0M332.9 101.7h0M336.9 96.7h0M333.1 103.9h0M338.3 97.9h0M335.0 94.3h0M338.9 108.1h0M336.9 97.7h0M335.3 97.7h0M335.8 101.8h0M333.9 96.6h0M335.6 101.0h0M335.6 99.8h0M336.6 91.9h0M334.2 96.3h0M338.2 100.4h0M335.7 101.3h0M332.9 96.9h0M334.0 106.3h0M338.7 101.4h0M337.8 95.2h0M334.4 102.9h0M332.2 99.2h0M332.6 104.8h0M335.3 95.5h0M338.9 103.8h0M335.8 94.7h0M334.9 96.3h0M336.8 101.4h0M334.9 98.1h0" stroke="#000" stroke-opacity="0.18" stroke-width="0.7" stroke-linecap="square" fill="none"/>
<path d="M340.3 104.1h0M335.5 105.0h0M333.3 101.8h0M333.1 105.0h0M339.1 101.6h0M337.0 98.2h0M333.6 104.2h0M333.5 96.5h0M335.7 103.6h0M332.1 101.9h0M336.4 105.2h0M332.6 101.4h0M331.0 99.9h0M334.6 103.6h0M334.6 103.0h0M335.3 95.4h0M336.4 97.1h0M338.3 103.4h0M335.8 97.9h0M336.1 94.8h0M333.6 98.0h0M333.6 109.2h0M337.0 105.9h0M335.7 99.7h0M333.9 102.7h0M330.2 96.2h0M333.0 99.9h0M334.3 99.3h0M337.6 95.4h0M332.6 91.5h0M334.5 102.0h0M332.7 102.3h0M336.5 104.9h0M332.9 102.8h0M336.8 103.2h0M330.6 108.7h0M334.6 100.7h0M335.9 102.6h0M337.8 95.0h0M337.0 98.2h0" stroke="#000" stroke-opacity="0.18" stroke-width="0.7" stroke-linecap="square" fill="none"/>
<path d="M336.9 101.8h0M332.7 101.5h0M335.5 92.9h0M332.8 98.3h0M337.8 99.8h0M334.4 96.7h0M333.9 107.8h0M330.8 103.1h0M332.1 98.2h0M333.3 103.8h0M334.7 105.5h0M333.1 100.7h0M336.6 101.5h0M333.1 102.3h0M336.6 101.9h0M335.5 91.2h0M334.6 104.0h0M336.6 99.1h0M338.2 100.6h0M338.5 100.9h0M335.3 97.1h0M335.0 101.8h0M335.1 97.0h0M336.1 94.4h0M334.8 98.0h0M336.2 102.1h0M332.2 97.0h0M333.2 104.5h0M337.3 94.6h0M334.1 94.8h0M335.1 101.1h0M332.0 100.7h0M330.6 97.0h0M333.7 94.3h0M338.3 96.0h0M339.1 95.9h0M336.5 96.7h0M335.1 104.5h0M334.9 92.9h0M333.4 99.6h0" stroke="#000" stroke-opacity="0.18" stroke-width="0.7" stroke-linecap="square" fill="none"/>
<rect x="307.2" y="80.1" width="38.6" height="40.3" fill="none" stroke="#777" stroke-width="0.6"/>
<path d="M306.45 81.1V120.4M308.2 121.15H344.8" stroke="#222" stroke-width="1.3" stroke-dasharray="1 0.6" fill="none" stroke-opacity="0.8"/>
<rect x="328" y="91.1" width="15.3" height="16.1" fill="none" stroke="#888" stroke-width="0.6"/>
<text transform="translate(335.5,89.4) scale(1,1.15)" x="0" y="0" font-size="8.2" text-anchor="middle" font-weight="normal" font-style="normal" fill="#000" stroke="#000" stroke-width="0.15" >IM</text>
<text transform="translate(300.5,100.4) rotate(-90) scale(1,1.15)" x="0" y="2.63" font-size="7.3" text-anchor="middle" font-weight="normal" stroke="#000" stroke-width="0.15">F4/80</text>
<text transform="translate(323.8,129.6) scale(1,1.15)" x="0" y="0" font-size="7.6" text-anchor="middle" font-weight="normal" font-style="normal" fill="#000" stroke="#000" stroke-width="0.15" >CD11b</text>
<text transform="translate(371.2,11.5) scale(1,1.03)" x="0" y="0" font-size="14.2" text-anchor="start" font-weight="normal" font-style="normal" fill="#000" >B</text>
<text transform="translate(406.1,29.1) scale(1,1.15)" x="0" y="0" font-size="7.9" text-anchor="middle" font-weight="normal" font-style="normal" fill="#000" stroke="#000" stroke-width="0.05" >WT</text>
<text transform="translate(431,23.7) scale(1,1.12)" font-size="6.9" font-style="italic" stroke="#000" stroke-width="0.1">Cx3cr1<tspan font-size="4.5" dy="-2.4">creERT2</tspan></text>
<text transform="translate(476.6,23.7) scale(1,1.12)" font-size="6.9" font-style="italic" stroke="#000" stroke-width="0.1">Cx3cr1<tspan font-size="4.5" dy="-2.4">creERT2</tspan></text>
<text transform="translate(436,31.6) scale(1,1.12)" font-size="6.9" font-style="italic" stroke="#000" stroke-width="0.1">-Plxnd1<tspan font-size="4.5" dy="-2.4">fl/fl</tspan></text>
<text transform="translate(478.9,31.6) scale(1,1.12)" font-size="6.9" stroke="#000" stroke-width="0.1"><tspan font-style="italic">-Plxnd1</tspan> KO</text>
<path d="M404.4 62.5h0M400.8 62.0h0M402.5 62.4h0M404.4 60.8h0M405.4 62.4h0M403.4 61.9h0M401.8 62.1h0M404.4 62.1h0M407.4 61.6h0M406.7 61.4h0M405.2 61.8h0M409.5 62.9h0M401.4 61.9h0M402.5 62.3h0M406.8 61.9h0M399.7 61.9h0M408.0 62.2h0M403.7 62.6h0M399.9 62.4h0M403.2 62.1h0M404.4 63.4h0M410.9 60.8h0M406.6 62.2h0M401.5 62.5h0M406.5 62.8h0M397.5 61.2h0M403.9 63.0h0M402.0 62.1h0M407.3 61.4h0M408.3 62.1h0M405.9 61.3h0M401.9 61.8h0M404.8 61.9h0M410.7 61.9h0M408.9 62.9h0M403.3 63.2h0M404.6 62.6h0M399.9 63.2h0M404.5 61.2h0M408.1 62.9h0M402.0 62.2h0M403.5 62.4h0M407.0 62.1h0M403.5 61.8h0M403.3 62.6h0M404.7 62.3h0M406.8 62.6h0M400.7 62.8h0M409.7 62.3h0M407.9 62.2h0M401.9 61.9h0M406.3 62.0h0M404.4 62.8h0M403.1 61.0h0M402.7 63.0h0M406.8 62.1h0M406.5 62.3h0M405.6 61.4h0M400.1 62.2h0M408.0 63.1h0M405.6 61.4h0M403.9 63.6h0M408.4 61.1h0M406.7 62.7h0M404.2 61.0h0M405.9 62.2h0M411.5 60.9h0" stroke="#000" stroke-opacity="0.3" stroke-width="0.7" stroke-linecap="square" fill="none"/>
<path d="M401.9 61.2h0M401.3 62.9h0M407.2 62.6h0M407.0 62.2h0M408.0 61.6h0M403.7 61.1h0M408.6 62.3h0M407.0 62.0h0M404.8 61.8h0M405.4 62.9h0M404.4 62.1h0M400.8 62.5h0M410.1 61.9h0M404.5 61.0h0M406.9 61.3h0M403.6 62.0h0M408.1 62.7h0M403.7 62.0h0M405.7 61.7h0M402.6 62.4h0M399.5 61.4h0M400.7 62.0h0M408.8 60.7h0M408.7 62.8h0M401.5 61.8h0M407.3 62.1h0M398.9 62.1h0M400.3 63.3h0M404.4 62.6h0M407.0 61.5h0M404.6 61.6h0M406.6 62.1h0M402.4 61.9h0M409.5 62.0h0M402.3 63.8h0M406.2 62.7h0M403.5 63.0h0M407.2 61.5h0M403.2 62.3h0M402.5 62.5h0M405.5 61.9h0M404.9 62.3h0M407.8 62.9h0M398.9 63.6h0M405.8 62.0h0M398.1 62.0h0M406.9 61.9h0M408.6 62.0h0M410.2 62.1h0M405.3 61.3h0M404.3 62.2h0M411.0 61.5h0M405.9 62.1h0M404.7 62.8h0M404.6 61.8h0M407.2 62.1h0M404.4 63.4h0M401.4 62.8h0M405.8 62.5h0M397.9 63.2h0M402.2 62.6h0M404.3 63.6h0M402.0 62.6h0M401.4 62.0h0M404.3 61.1h0M403.8 62.6h0M403.2 61.3h0" stroke="#000" stroke-opacity="0.3" stroke-width="0.7" stroke-linecap="square" fill="none"/>
<path d="M399.8 63.2h0M403.0 63.0h0M401.0 62.0h0M406.3 61.0h0M407.0 63.3h0M403.7 63.3h0M405.5 61.8h0M407.7 60.7h0M406.8 61.9h0M408.3 61.7h0M408.6 62.3h0M403.3 61.1h0M404.2 62.1h0M403.3 64.5h0M405.1 62.7h0M403.2 62.4h0M403.0 62.4h0M410.1 61.7h0M405.1 62.8h0M404.4 61.5h0M405.8 61.1h0M408.2 62.5h0M405.8 63.0h0M404.5 63.4h0M402.5 63.4h0M395.6 62.3h0M408.2 62.5h0M403.6 63.0h0M406.3 63.1h0M403.0 62.6h0M403.2 63.1h0M405.4 61.1h0M404.0 62.7h0M400.3 62.4h0M402.6 61.7h0M398.0 62.4h0M402.7 61.3h0M408.3 61.8h0M405.6 61.7h0M400.2 62.7h0M408.2 61.4h0M404.3 61.6h0M403.8 61.7h0M406.3 63.6h0M408.0 62.0h0M402.8 63.4h0M410.1 61.7h0M406.1 62.7h0M411.4 60.9h0M408.3 61.8h0M402.2 61.7h0M407.3 63.2h0M409.9 61.2h0M404.2 62.7h0M410.0 61.9h0M401.3 62.5h0M402.8 62.3h0M407.1 62.1h0M408.7 62.2h0M403.7 62.5h0M404.5 62.7h0M402.7 62.6h0M408.5 62.9h0M409.4 61.5h0M406.1 63.1h0M401.6 62.0h0" stroke="#000" stroke-opacity="0.3" stroke-width="0.7" stroke-linecap="square" fill="none"/>
<path d="M412.7 56.1h0M410.8 57.0h0M396.9 54.7h0M402.1 54.4h0M413.7 56.5h0M412.2 59.2h0M407.3 56.5h0M395.7 50.6h0M403.1 54.1h0M405.4 56.6h0M405.0 57.4h0M408.8 62.5h0M404.1 56.9h0M406.0 57.6h0M400.6 51.9h0M404.0 58.6h0M397.9 61.7h0M409.1 57.9h0M403.6 55.2h0M410.6 62.0h0M415.3 55.0h0M411.1 53.6h0M404.6 59.9h0M399.8 58.6h0M406.4 59.5h0M404.7 60.6h0M401.1 57.9h0M404.2 59.2h0M411.3 55.8h0M402.5 61.2h0M405.7 53.5h0M405.6 60.6h0M401.8 62.9h0M408.9 59.7h0M400.7 56.3h0M408.2 60.0h0M406.3 58.5h0M403.9 50.7h0M403.7 58.2h0M409.3 59.6h0M411.6 61.8h0M405.2 54.2h0M405.9 53.8h0M412.0 53.2h0" stroke="#000" stroke-opacity="0.14" stroke-width="0.7" stroke-linecap="square" fill="none"/>
<path d="M400.3 54.8h0M412.0 61.5h0M407.4 52.7h0M411.8 58.7h0M405.0 52.2h0M414.5 60.2h0M406.2 54.7h0M403.1 56.9h0M409.2 60.8h0M414.3 58.8h0M406.3 56.2h0M410.8 56.8h0M400.3 57.6h0M402.9 55.5h0M402.5 60.2h0M403.4 60.3h0M398.5 58.0h0M406.6 55.0h0M407.1 55.1h0M408.2 53.9h0M403.1 63.0h0M404.6 56.2h0M398.5 60.3h0M402.4 63.3h0M407.3 59.4h0M408.3 61.0h0M412.8 55.2h0M407.6 55.5h0M420.3 56.5h0M393.2 59.6h0M402.8 62.6h0M412.8 59.7h0M403.5 55.3h0M412.5 56.4h0M415.4 53.6h0M402.0 55.0h0M397.9 58.6h0M408.8 48.8h0M410.5 54.1h0M408.0 56.6h0M415.2 52.7h0M417.5 60.8h0M405.5 60.5h0" stroke="#000" stroke-opacity="0.14" stroke-width="0.7" stroke-linecap="square" fill="none"/>
<path d="M412.7 59.2h0M409.2 52.1h0M401.9 58.9h0M411.2 60.3h0M405.4 56.1h0M412.8 58.6h0M408.6 57.2h0M406.1 62.3h0M414.0 53.1h0M407.3 60.2h0M405.8 59.2h0M395.6 54.7h0M406.9 55.6h0M406.2 58.7h0M399.6 62.1h0M407.1 58.9h0M409.0 56.7h0M412.0 60.6h0M407.7 60.3h0M402.9 60.2h0M406.4 60.1h0M409.4 59.4h0M408.2 57.4h0M405.1 57.3h0M402.9 62.0h0M405.4 53.0h0M407.6 61.7h0M408.3 60.9h0M404.9 55.6h0M400.1 58.3h0M404.0 58.1h0M409.5 59.1h0M404.4 55.4h0M403.7 57.3h0M404.8 60.1h0M412.3 54.4h0M403.9 59.9h0M404.3 55.8h0M404.2 60.6h0M404.1 56.6h0M405.5 57.9h0M405.6 56.4h0M414.8 59.2h0" stroke="#000" stroke-opacity="0.14" stroke-width="0.7" stroke-linecap="square" fill="none"/>
<path d="M402.6 59.8h0M409.3 52.7h0M412.9 50.5h0M409.7 53.4h0M408.6 53.3h0M410.1 51.4h0M416.0 48.2h0M415.0 48.9h0M410.9 51.2h0M413.5 49.7h0M410.8 51.9h0M408.8 53.4h0M413.5 49.8h0M411.7 50.9h0M408.5 55.4h0M413.8 49.8h0M409.7 53.3h0M413.8 49.7h0M414.9 48.4h0M413.7 49.0h0" stroke="#000" stroke-opacity="0.15" stroke-width="0.7" stroke-linecap="square" fill="none"/>
<path d="M413.2 49.9h0M418.3 46.4h0M410.8 53.3h0M412.9 50.0h0M412.8 50.7h0M411.6 51.1h0M413.8 49.9h0M419.8 44.3h0M417.8 47.5h0M408.4 54.6h0M411.7 50.0h0M407.7 54.9h0M413.0 50.0h0M411.5 51.6h0M409.3 54.5h0M413.9 49.8h0M418.6 46.5h0M405.6 57.0h0M415.0 48.6h0M415.6 48.8h0" stroke="#000" stroke-opacity="0.15" stroke-width="0.7" stroke-linecap="square" fill="none"/>
<path d="M417.7 45.4h0M407.5 56.0h0M414.6 49.8h0M409.8 52.3h0M407.2 54.2h0M412.2 51.1h0M409.7 52.2h0M409.5 53.2h0M413.6 49.1h0M414.3 50.0h0M420.1 42.6h0M411.2 51.7h0M414.4 49.5h0M411.4 51.2h0M415.7 48.6h0M416.1 48.7h0M409.5 53.3h0M408.3 55.7h0M411.0 51.7h0M416.8 47.8h0" stroke="#000" stroke-opacity="0.15" stroke-width="0.7" stroke-linecap="square" fill="none"/>
<path d="M419.5 44.4h0M419.8 43.3h0M418.9 44.6h0M417.8 44.5h0M418.7 45.8h0M418.0 44.5h0M417.1 46.5h0M417.3 44.9h0M418.3 44.7h0" stroke="#000" stroke-opacity="0.3" stroke-width="0.7" stroke-linecap="square" fill="none"/>
<path d="M419.3 44.1h0M417.0 47.6h0M416.8 45.5h0M417.0 45.5h0M417.2 45.8h0M417.4 45.8h0M416.9 46.7h0M417.2 45.7h0" stroke="#000" stroke-opacity="0.3" stroke-width="0.7" stroke-linecap="square" fill="none"/>
<path d="M418.8 45.5h0M419.8 45.0h0M419.8 44.4h0M416.4 44.3h0M417.8 44.6h0M417.8 45.4h0M416.8 45.2h0M419.0 44.9h0" stroke="#000" stroke-opacity="0.3" stroke-width="0.7" stroke-linecap="square" fill="none"/>
<path d="M398.8 48.6h0M401.1 47.3h0M400.1 48.4h0M399.8 48.3h0M400.2 47.6h0M400.3 50.9h0M399.3 51.2h0M398.0 48.7h0M401.7 50.3h0M399.5 50.7h0" stroke="#000" stroke-opacity="0.3" stroke-width="0.7" stroke-linecap="square" fill="none"/>
<path d="M400.0 48.7h0M400.3 50.3h0M400.6 50.4h0M400.6 48.0h0M399.9 47.6h0M398.5 50.9h0M399.3 48.7h0M399.6 47.7h0M399.0 48.7h0M400.3 47.9h0" stroke="#000" stroke-opacity="0.3" stroke-width="0.7" stroke-linecap="square" fill="none"/>
<path d="M399.8 48.2h0M399.6 47.7h0M400.2 49.5h0M401.5 48.3h0M399.8 46.7h0M400.2 49.9h0M401.8 47.3h0M399.4 47.1h0M399.9 50.1h0M400.2 48.1h0" stroke="#000" stroke-opacity="0.3" stroke-width="0.7" stroke-linecap="square" fill="none"/>
<path d="M397.6 61.3 Q402.8 60.6 412.8 62.1 Q402.8 63.6 397.6 63.3 Z" fill="#000" fill-opacity="0.85"/>
<rect x="388.8" y="36.8" width="39.2" height="33.6" fill="none" stroke="#888" stroke-width="0.6"/>
<line x1="387.8" y1="67.6" x2="388.8" y2="67.6" stroke="#000" stroke-width="0.5"/>
<line x1="387.8" y1="62" x2="388.8" y2="62" stroke="#000" stroke-width="0.5"/>
<line x1="387.8" y1="56.4" x2="388.8" y2="56.4" stroke="#000" stroke-width="0.5"/>
<line x1="387.8" y1="50.8" x2="388.8" y2="50.8" stroke="#000" stroke-width="0.5"/>
<line x1="387.8" y1="45.2" x2="388.8" y2="45.2" stroke="#000" stroke-width="0.5"/>
<line x1="387.8" y1="39.6" x2="388.8" y2="39.6" stroke="#000" stroke-width="0.5"/>
<line x1="392.07" y1="70.4" x2="392.07" y2="71.4" stroke="#000" stroke-width="0.5"/>
<line x1="398.6" y1="70.4" x2="398.6" y2="71.4" stroke="#000" stroke-width="0.5"/>
<line x1="405.13" y1="70.4" x2="405.13" y2="71.4" stroke="#000" stroke-width="0.5"/>
<line x1="411.67" y1="70.4" x2="411.67" y2="71.4" stroke="#000" stroke-width="0.5"/>
<line x1="418.2" y1="70.4" x2="418.2" y2="71.4" stroke="#000" stroke-width="0.5"/>
<line x1="424.73" y1="70.4" x2="424.73" y2="71.4" stroke="#000" stroke-width="0.5"/>
<rect x="396.4" y="44.1" width="9.9" height="8.7" fill="none" stroke="#666" stroke-width="0.5"/>
<text x="400.8" y="41.7" font-size="3.6" text-anchor="middle" font-weight="normal" font-style="normal" fill="#000" stroke="#000" stroke-width="0.12" >2,46</text>
<path d="M455.9 61.6h0M443.5 63.1h0M440.2 63.2h0M446.8 62.8h0M442.3 62.3h0M444.3 63.4h0M453.8 61.0h0M452.3 61.7h0M449.8 62.4h0M446.9 62.2h0M446.4 61.7h0M447.1 62.7h0M450.0 61.6h0M453.2 60.8h0M449.2 62.3h0M454.2 61.8h0M443.8 62.3h0M446.7 62.7h0M443.7 63.1h0M445.9 61.9h0M451.3 62.2h0M441.5 63.0h0M444.8 60.8h0M452.9 61.5h0M447.4 61.5h0M446.4 62.7h0M447.7 61.7h0M447.7 63.1h0M451.3 61.5h0M450.5 61.7h0M447.8 61.8h0M449.1 62.0h0M444.9 62.8h0M444.3 61.6h0M442.6 61.6h0M449.4 61.7h0M451.7 62.8h0M447.6 62.4h0M452.1 61.1h0M453.3 61.4h0M452.9 59.9h0M455.4 62.2h0M450.6 61.3h0M448.8 62.9h0M444.9 61.4h0M452.0 61.7h0M450.0 62.1h0M448.4 61.6h0M446.3 61.5h0M448.2 61.3h0M449.6 61.3h0M450.1 61.9h0M447.4 61.8h0M443.4 62.1h0M452.8 61.6h0M450.6 61.9h0M452.3 61.7h0M447.6 62.5h0M457.0 61.0h0M449.1 61.9h0M444.5 62.0h0M450.1 62.7h0M451.0 63.5h0M449.9 61.3h0M447.9 61.8h0M449.0 60.3h0M451.8 60.8h0" stroke="#000" stroke-opacity="0.3" stroke-width="0.7" stroke-linecap="square" fill="none"/>
<path d="M447.2 62.1h0M450.7 61.5h0M448.2 62.4h0M440.5 62.4h0M452.0 62.6h0M446.9 62.9h0M452.8 61.4h0M447.5 60.9h0M438.3 62.1h0M446.3 61.6h0M453.1 61.6h0M450.5 61.8h0M440.8 63.7h0M452.8 61.8h0M452.1 62.1h0M448.0 61.7h0M448.4 62.1h0M443.9 61.1h0M453.5 62.4h0M443.7 63.4h0M450.0 61.6h0M446.7 61.6h0M450.2 62.6h0M443.5 60.8h0M447.8 61.3h0M445.6 62.6h0M454.0 61.0h0M441.1 62.5h0M448.1 62.7h0M446.9 62.4h0M448.8 61.0h0M440.7 63.0h0M447.0 61.8h0M449.3 61.7h0M448.1 62.3h0M451.0 61.7h0M452.8 60.6h0M444.4 61.3h0M449.1 62.0h0M451.2 60.6h0M450.5 62.4h0M451.3 62.7h0M445.4 62.9h0M443.2 61.6h0M449.3 62.9h0M447.2 61.2h0M450.1 62.4h0M454.1 61.4h0M447.2 61.1h0M450.7 62.7h0M450.1 61.0h0M446.5 61.8h0M449.6 62.3h0M446.1 61.6h0M443.2 62.6h0M446.9 62.1h0M448.7 63.6h0M452.2 60.8h0M452.2 61.5h0M449.0 62.4h0M447.1 62.6h0M448.0 61.1h0M446.1 62.2h0M445.9 61.9h0M448.1 60.8h0M445.1 62.3h0M448.7 62.1h0" stroke="#000" stroke-opacity="0.3" stroke-width="0.7" stroke-linecap="square" fill="none"/>
<path d="M453.4 61.0h0M448.5 62.7h0M448.7 64.1h0M451.2 60.7h0M446.6 62.3h0M447.8 61.7h0M445.9 61.5h0M452.5 62.4h0M449.2 61.9h0M444.7 62.2h0M448.5 60.8h0M448.1 62.0h0M452.3 61.6h0M451.5 61.5h0M450.1 61.4h0M444.8 61.6h0M444.7 61.8h0M452.8 61.9h0M442.1 62.3h0M446.5 62.2h0M449.4 61.7h0M447.3 61.0h0M448.9 61.1h0M449.3 62.9h0M446.9 62.2h0M449.8 61.6h0M452.5 62.4h0M449.1 61.9h0M448.3 61.2h0M446.2 61.3h0M454.2 62.1h0M445.4 62.4h0M453.6 62.3h0M451.2 61.3h0M451.1 62.6h0M447.2 61.6h0M452.1 60.9h0M446.3 63.2h0M449.7 61.3h0M449.9 61.9h0M447.9 62.9h0M450.1 62.7h0M450.6 61.3h0M450.9 62.4h0M448.6 60.3h0M452.5 61.9h0M454.1 60.9h0M443.5 62.1h0M442.6 63.6h0M443.1 61.9h0M446.5 61.9h0M442.0 63.7h0M449.8 61.4h0M448.7 62.1h0M451.6 60.6h0M449.9 62.2h0M445.2 61.9h0M452.6 60.9h0M450.9 61.3h0M447.3 61.7h0M450.8 61.3h0M456.6 61.9h0M442.6 62.6h0M448.0 63.0h0M447.1 61.0h0M441.9 61.2h0" stroke="#000" stroke-opacity="0.3" stroke-width="0.7" stroke-linecap="square" fill="none"/>
<path d="M444.4 52.7h0M451.7 52.7h0M449.3 59.4h0M458.2 62.4h0M450.8 58.8h0M448.1 61.1h0M455.8 59.7h0M452.6 55.4h0M461.8 59.9h0M450.1 58.8h0M443.6 56.0h0M452.4 57.7h0M449.7 52.5h0M449.4 57.8h0M455.1 59.4h0M462.8 50.7h0M453.2 57.1h0M448.1 62.3h0M451.2 57.3h0M458.1 53.8h0M441.0 55.9h0M444.3 58.0h0M454.3 58.5h0M444.7 54.7h0M457.0 58.5h0M450.9 57.5h0M449.8 58.9h0M452.3 54.4h0M454.4 59.6h0M461.4 53.4h0M449.4 53.6h0M448.6 53.5h0M449.5 57.0h0M450.2 62.8h0M457.4 52.9h0M451.8 51.7h0M451.2 55.3h0M442.8 54.8h0M454.9 56.9h0M445.9 64.3h0M455.9 56.9h0M444.6 59.5h0M438.3 61.2h0M448.8 59.4h0" stroke="#000" stroke-opacity="0.14" stroke-width="0.7" stroke-linecap="square" fill="none"/>
<path d="M457.8 54.3h0M443.2 55.2h0M448.6 61.3h0M441.9 65.3h0M446.6 61.6h0M456.2 59.3h0M456.3 57.1h0M452.4 54.3h0M451.2 52.8h0M442.0 53.8h0M454.3 55.4h0M448.5 62.3h0M455.1 54.6h0M440.3 55.5h0M446.1 61.6h0M445.2 57.6h0M451.4 58.9h0M448.5 55.0h0M454.3 60.2h0M441.8 52.4h0M446.0 61.9h0M454.0 57.5h0M448.6 62.7h0M449.2 54.9h0M445.6 61.8h0M457.4 66.4h0M447.8 56.6h0M458.9 55.5h0M457.2 52.6h0M449.2 52.3h0M455.2 56.6h0M452.1 65.0h0M451.5 48.0h0M463.1 57.6h0M448.3 58.5h0M454.9 59.8h0M456.5 63.6h0M446.3 62.3h0M450.3 54.6h0M450.9 55.6h0M459.5 54.0h0M445.6 59.6h0M450.8 57.5h0" stroke="#000" stroke-opacity="0.14" stroke-width="0.7" stroke-linecap="square" fill="none"/>
<path d="M452.7 54.5h0M447.2 56.0h0M447.8 60.4h0M442.8 64.0h0M453.7 55.1h0M448.8 57.9h0M447.4 59.2h0M451.6 55.3h0M445.0 61.1h0M451.1 56.8h0M454.5 62.8h0M442.9 55.1h0M453.1 56.1h0M449.7 65.6h0M457.3 59.1h0M445.9 58.6h0M454.1 54.6h0M451.8 56.1h0M445.8 54.1h0M450.1 55.4h0M451.8 57.3h0M455.9 56.9h0M452.9 60.1h0M453.9 58.4h0M447.0 55.6h0M453.6 62.2h0M457.5 58.0h0M447.4 58.1h0M449.4 63.3h0M446.0 55.2h0M449.9 61.0h0M451.4 59.3h0M444.2 56.6h0M453.0 59.6h0M450.9 50.8h0M439.8 61.3h0M452.4 53.4h0M452.0 57.2h0M447.6 58.2h0M454.8 53.1h0M448.2 55.0h0M448.1 61.7h0M448.6 64.1h0" stroke="#000" stroke-opacity="0.14" stroke-width="0.7" stroke-linecap="square" fill="none"/>
<path d="M455.6 50.7h0M451.9 54.4h0M458.0 48.9h0M455.3 51.0h0M462.8 44.7h0M455.5 50.8h0M452.3 52.9h0M454.8 52.5h0M448.7 57.2h0M465.0 42.9h0M459.8 45.2h0M459.8 48.2h0M454.4 52.5h0M461.4 46.3h0M450.8 54.6h0M460.3 46.2h0M456.7 50.9h0M457.3 49.7h0M457.9 49.4h0M455.8 50.0h0" stroke="#000" stroke-opacity="0.15" stroke-width="0.7" stroke-linecap="square" fill="none"/>
<path d="M457.2 50.2h0M453.4 52.3h0M458.1 49.0h0M457.4 49.1h0M460.7 47.0h0M455.4 51.1h0M460.1 47.8h0M456.2 50.4h0M450.1 56.3h0M453.4 54.4h0M451.0 53.8h0M456.3 50.1h0M460.2 47.2h0M460.7 45.0h0M460.2 47.6h0M458.0 49.8h0M459.9 47.6h0M461.4 46.0h0M462.2 45.5h0M451.5 54.3h0" stroke="#000" stroke-opacity="0.15" stroke-width="0.7" stroke-linecap="square" fill="none"/>
<path d="M452.6 53.1h0M458.9 48.3h0M452.9 53.5h0M453.4 53.7h0M454.1 51.6h0M453.1 53.8h0M461.7 46.0h0M453.9 52.8h0M451.5 55.0h0M454.7 50.9h0M453.4 51.2h0M451.4 54.9h0M449.0 55.8h0M456.2 50.4h0M454.9 51.8h0M454.8 52.7h0M455.4 50.7h0M458.5 49.9h0M458.3 49.3h0M460.9 47.3h0" stroke="#000" stroke-opacity="0.15" stroke-width="0.7" stroke-linecap="square" fill="none"/>
<path d="M463.9 44.0h0M461.2 46.2h0M461.7 46.1h0M462.3 45.6h0M459.3 46.3h0M461.4 44.7h0M459.7 45.5h0M461.3 46.4h0M460.7 46.7h0" stroke="#000" stroke-opacity="0.3" stroke-width="0.7" stroke-linecap="square" fill="none"/>
<path d="M460.4 45.1h0M461.0 46.1h0M462.7 44.4h0M462.2 44.6h0M462.2 45.6h0M461.3 45.6h0M461.5 45.4h0M462.5 45.1h0" stroke="#000" stroke-opacity="0.3" stroke-width="0.7" stroke-linecap="square" fill="none"/>
<path d="M461.0 45.5h0M461.9 43.6h0M460.1 45.9h0M462.2 45.2h0M462.6 43.7h0M461.0 45.2h0M462.1 44.1h0M460.7 45.3h0" stroke="#000" stroke-opacity="0.3" stroke-width="0.7" stroke-linecap="square" fill="none"/>
<path d="M443.0 46.5h0M444.3 48.5h0M445.4 46.7h0M445.2 50.2h0M443.6 48.9h0M443.6 50.3h0M443.4 47.7h0M445.0 50.3h0M445.0 49.1h0M446.0 47.2h0" stroke="#000" stroke-opacity="0.3" stroke-width="0.7" stroke-linecap="square" fill="none"/>
<path d="M443.4 50.1h0M444.0 46.9h0M444.7 47.2h0M445.5 48.3h0M444.1 49.6h0M445.3 47.2h0M443.9 49.5h0M445.1 47.7h0M443.8 47.5h0M443.9 47.8h0" stroke="#000" stroke-opacity="0.3" stroke-width="0.7" stroke-linecap="square" fill="none"/>
<path d="M444.2 48.9h0M445.8 48.4h0M442.9 48.9h0M445.0 47.9h0M442.4 49.9h0M444.1 49.4h0M445.1 48.1h0M443.3 48.9h0M445.4 48.4h0M446.0 50.1h0" stroke="#000" stroke-opacity="0.3" stroke-width="0.7" stroke-linecap="square" fill="none"/>
<path d="M441.5 61.1 Q446.7 60.4 456.7 61.9 Q446.7 63.4 441.5 63.1 Z" fill="#000" fill-opacity="0.85"/>
<rect x="432.7" y="36.6" width="38.9" height="34.5" fill="none" stroke="#888" stroke-width="0.6"/>
<line x1="431.7" y1="68.22" x2="432.7" y2="68.22" stroke="#000" stroke-width="0.5"/>
<line x1="431.7" y1="62.47" x2="432.7" y2="62.47" stroke="#000" stroke-width="0.5"/>
<line x1="431.7" y1="56.72" x2="432.7" y2="56.72" stroke="#000" stroke-width="0.5"/>
<line x1="431.7" y1="50.97" x2="432.7" y2="50.97" stroke="#000" stroke-width="0.5"/>
<line x1="431.7" y1="45.22" x2="432.7" y2="45.22" stroke="#000" stroke-width="0.5"/>
<line x1="431.7" y1="39.47" x2="432.7" y2="39.47" stroke="#000" stroke-width="0.5"/>
<line x1="435.94" y1="71.1" x2="435.94" y2="72.1" stroke="#000" stroke-width="0.5"/>
<line x1="442.43" y1="71.1" x2="442.43" y2="72.1" stroke="#000" stroke-width="0.5"/>
<line x1="448.91" y1="71.1" x2="448.91" y2="72.1" stroke="#000" stroke-width="0.5"/>
<line x1="455.39" y1="71.1" x2="455.39" y2="72.1" stroke="#000" stroke-width="0.5"/>
<line x1="461.88" y1="71.1" x2="461.88" y2="72.1" stroke="#000" stroke-width="0.5"/>
<line x1="468.36" y1="71.1" x2="468.36" y2="72.1" stroke="#000" stroke-width="0.5"/>
<rect x="440.3" y="43.9" width="9.9" height="8.7" fill="none" stroke="#666" stroke-width="0.5"/>
<text x="444.7" y="41.5" font-size="3.6" text-anchor="middle" font-weight="normal" font-style="normal" fill="#000" stroke="#000" stroke-width="0.12" >1,99</text>
<path d="M491.4 60.2h0M494.3 61.3h0M495.2 61.3h0M494.5 60.9h0M489.9 61.8h0M493.1 61.3h0M491.7 61.0h0M498.4 59.7h0M490.1 61.8h0M491.5 61.0h0M497.5 61.3h0M488.8 62.0h0M496.7 61.2h0M492.4 63.1h0M491.7 61.5h0M492.1 61.9h0M492.9 62.1h0M498.8 60.9h0M495.2 61.4h0M491.7 61.3h0M491.5 62.2h0M487.8 60.9h0M489.2 61.4h0M491.2 62.2h0M496.7 61.1h0M492.1 61.7h0M496.7 60.8h0M491.3 62.3h0M498.1 60.6h0M492.0 62.5h0M494.5 61.1h0M496.7 61.6h0M491.5 61.8h0M493.0 62.5h0M490.3 61.7h0M492.0 60.6h0M494.7 61.9h0M495.6 61.4h0M491.3 62.2h0M499.2 61.3h0M496.2 61.5h0M494.3 60.9h0M487.3 61.4h0M490.4 60.5h0M496.9 61.1h0M494.2 59.6h0M493.5 61.9h0M490.8 60.0h0M498.6 61.4h0M496.9 62.6h0M495.4 60.8h0M494.1 62.0h0M494.4 61.5h0M488.2 62.4h0M493.7 60.7h0M495.4 61.9h0M488.5 62.3h0M498.1 60.7h0M491.3 61.4h0M490.1 62.7h0M490.3 62.3h0M490.3 61.8h0M492.0 62.1h0M496.5 60.9h0M492.6 62.2h0M497.3 62.4h0M495.5 61.9h0" stroke="#000" stroke-opacity="0.3" stroke-width="0.7" stroke-linecap="square" fill="none"/>
<path d="M496.7 61.4h0M493.5 61.7h0M492.2 62.0h0M492.6 62.4h0M498.8 61.7h0M494.2 60.0h0M489.3 61.9h0M490.8 61.1h0M494.4 62.6h0M494.7 62.0h0M494.6 60.7h0M497.0 61.1h0M496.0 61.3h0M494.9 61.2h0M492.3 62.1h0M490.8 60.9h0M495.8 61.9h0M495.4 61.7h0M491.8 60.9h0M494.7 61.2h0M491.0 62.0h0M489.6 60.8h0M492.7 60.4h0M488.2 61.4h0M489.9 61.8h0M491.3 62.0h0M493.1 61.9h0M488.1 60.8h0M493.0 61.2h0M493.9 61.1h0M501.9 61.2h0M492.0 61.1h0M491.4 62.7h0M487.7 61.9h0M492.5 63.5h0M482.7 61.9h0M495.2 60.2h0M493.1 61.1h0M491.6 62.0h0M491.5 61.3h0M495.9 61.0h0M495.2 60.0h0M488.4 61.7h0M491.4 61.7h0M492.4 61.0h0M496.8 59.9h0M495.9 61.6h0M492.2 61.9h0M496.0 61.6h0M492.0 62.3h0M487.5 61.8h0M498.1 61.5h0M498.2 61.4h0M493.4 62.7h0M492.9 61.7h0M491.5 61.8h0M497.8 62.3h0M494.8 62.6h0M496.0 61.3h0M492.8 61.3h0M492.2 62.1h0M489.1 62.3h0M489.9 60.9h0M494.8 60.9h0M493.7 60.3h0M494.4 61.4h0M494.3 60.9h0" stroke="#000" stroke-opacity="0.3" stroke-width="0.7" stroke-linecap="square" fill="none"/>
<path d="M489.4 60.6h0M491.9 61.4h0M486.8 62.7h0M494.8 60.2h0M492.5 61.9h0M496.3 61.7h0M493.6 61.6h0M496.1 61.2h0M493.9 61.2h0M492.4 61.4h0M491.1 60.1h0M489.3 61.8h0M489.2 61.1h0M494.0 61.6h0M498.1 62.2h0M493.4 61.9h0M492.6 60.6h0M492.1 62.8h0M489.1 62.1h0M495.1 61.0h0M494.7 61.4h0M495.8 60.8h0M495.0 61.9h0M492.6 61.6h0M493.6 61.8h0M491.0 61.2h0M492.1 62.2h0M493.4 62.5h0M486.4 62.4h0M490.9 61.5h0M489.5 61.7h0M490.6 60.8h0M494.3 61.1h0M501.6 61.7h0M491.0 61.4h0M494.7 61.1h0M497.9 61.8h0M494.4 62.1h0M492.7 62.1h0M495.0 61.1h0M490.1 61.1h0M491.0 61.5h0M492.4 62.1h0M493.4 61.6h0M491.3 62.3h0M491.9 62.2h0M489.2 62.0h0M493.5 61.5h0M498.3 61.0h0M488.9 61.9h0M492.1 61.7h0M488.4 62.2h0M492.1 61.9h0M495.3 61.7h0M496.3 61.6h0M492.5 60.7h0M490.6 62.7h0M493.6 62.3h0M493.6 61.6h0M491.8 61.6h0M490.4 61.0h0M492.2 62.2h0M495.1 61.0h0M487.8 62.8h0M494.5 62.2h0M493.4 60.7h0" stroke="#000" stroke-opacity="0.3" stroke-width="0.7" stroke-linecap="square" fill="none"/>
<path d="M498.0 54.8h0M489.7 55.1h0M496.1 54.0h0M493.5 50.9h0M500.0 60.7h0M492.4 57.0h0M494.2 60.4h0M497.8 56.0h0M491.7 60.7h0M497.5 58.5h0M495.4 54.7h0M500.4 58.6h0M495.7 64.0h0M502.2 52.7h0M495.9 58.9h0M489.4 58.7h0M497.2 64.2h0M504.2 55.8h0M493.4 58.5h0M494.6 59.0h0M495.9 57.3h0M490.5 55.7h0M497.2 53.5h0M501.8 60.9h0M496.3 52.6h0M490.1 52.2h0M489.9 54.5h0M510.1 52.4h0M493.4 57.6h0M498.8 54.6h0M503.8 53.3h0M497.3 60.3h0M494.6 63.0h0M497.3 62.4h0M497.8 53.9h0M487.5 53.4h0M502.3 53.3h0M493.4 57.8h0M496.6 53.6h0M492.0 52.6h0M497.0 56.0h0M490.2 57.5h0M490.8 58.7h0M488.7 52.9h0" stroke="#000" stroke-opacity="0.14" stroke-width="0.7" stroke-linecap="square" fill="none"/>
<path d="M500.9 54.1h0M492.4 49.1h0M496.1 57.1h0M493.7 54.4h0M494.7 53.5h0M492.4 62.4h0M494.3 56.9h0M487.6 57.4h0M483.1 66.4h0M498.5 64.3h0M497.3 61.3h0M487.5 59.5h0M489.4 60.0h0M498.8 56.4h0M493.5 58.5h0M496.8 51.6h0M490.6 54.7h0M495.1 58.5h0M501.1 55.4h0M504.6 54.7h0M499.5 58.6h0M490.0 56.9h0M494.5 60.4h0M490.3 58.9h0M497.6 56.3h0M494.8 54.7h0M488.4 55.5h0M487.7 60.5h0M495.6 57.9h0M493.2 52.8h0M501.8 52.8h0M491.4 61.2h0M496.1 58.0h0M490.4 55.5h0M501.2 56.2h0M501.1 59.1h0M496.3 58.7h0M487.4 58.6h0M481.1 52.8h0M494.7 60.3h0M494.1 57.5h0M496.2 61.0h0M490.4 47.2h0" stroke="#000" stroke-opacity="0.14" stroke-width="0.7" stroke-linecap="square" fill="none"/>
<path d="M492.5 56.6h0M505.2 56.8h0M494.8 52.1h0M492.0 56.7h0M501.6 51.2h0M497.8 60.6h0M496.8 58.3h0M481.9 58.5h0M492.5 52.1h0M491.2 58.9h0M491.2 59.5h0M494.0 61.7h0M491.9 64.0h0M486.6 55.0h0M496.8 57.9h0M503.5 60.9h0M491.6 55.3h0M503.0 56.4h0M502.2 57.0h0M502.2 58.0h0M497.3 59.1h0M493.9 56.1h0M503.4 56.0h0M489.8 56.8h0M494.3 59.2h0M493.5 53.6h0M491.3 58.0h0M488.6 55.2h0M495.2 61.0h0M498.1 55.9h0M486.4 55.7h0M492.2 55.9h0M487.8 59.0h0M490.2 55.7h0M490.2 55.7h0M490.0 56.5h0M493.9 56.7h0M495.0 52.5h0M495.7 58.9h0M493.8 52.2h0M497.5 56.3h0M488.9 57.7h0M499.1 54.0h0" stroke="#000" stroke-opacity="0.14" stroke-width="0.7" stroke-linecap="square" fill="none"/>
<path d="M496.8 52.2h0M498.4 52.4h0M505.4 46.7h0M493.1 55.9h0M504.5 47.4h0M498.5 51.2h0M501.3 50.4h0M503.2 48.6h0M497.3 51.2h0M499.6 49.8h0M501.7 49.6h0M502.8 49.6h0M500.1 49.7h0M505.9 45.9h0M495.1 55.0h0M503.6 46.8h0M503.2 48.4h0M502.8 48.2h0M500.1 50.5h0M504.8 47.2h0" stroke="#000" stroke-opacity="0.15" stroke-width="0.7" stroke-linecap="square" fill="none"/>
<path d="M500.5 50.3h0M500.8 50.3h0M500.2 51.8h0M502.9 48.9h0M499.6 51.1h0M506.1 46.0h0M500.5 51.1h0M506.8 44.7h0M504.4 48.1h0M501.4 49.7h0M496.2 53.7h0M497.2 54.0h0M496.2 55.6h0M500.9 48.3h0M503.5 47.0h0M505.3 46.8h0M506.7 44.5h0M501.9 50.2h0M498.7 51.9h0M495.1 53.8h0" stroke="#000" stroke-opacity="0.15" stroke-width="0.7" stroke-linecap="square" fill="none"/>
<path d="M500.8 50.2h0M502.9 47.9h0M506.0 44.4h0M503.2 47.9h0M504.3 46.5h0M503.7 47.2h0M500.9 49.8h0M506.4 44.7h0M496.9 53.0h0M498.9 50.7h0M501.8 46.9h0M500.3 50.8h0M496.4 53.4h0M498.5 50.9h0M499.0 51.8h0M500.6 49.2h0M506.3 45.1h0M499.1 52.0h0M494.2 55.3h0M500.4 51.7h0" stroke="#000" stroke-opacity="0.15" stroke-width="0.7" stroke-linecap="square" fill="none"/>
<path d="M505.6 45.1h0M507.0 44.7h0M505.9 43.0h0M508.2 45.3h0M503.7 46.9h0M504.2 46.7h0M506.3 44.8h0M507.3 43.7h0M503.8 46.4h0" stroke="#000" stroke-opacity="0.3" stroke-width="0.7" stroke-linecap="square" fill="none"/>
<path d="M505.9 45.1h0M505.4 45.9h0M508.3 44.3h0M505.1 45.2h0M506.1 43.9h0M509.2 43.4h0M504.3 45.6h0M507.1 43.5h0" stroke="#000" stroke-opacity="0.3" stroke-width="0.7" stroke-linecap="square" fill="none"/>
<path d="M505.2 45.7h0M508.6 43.2h0M507.7 43.8h0M507.4 43.8h0M506.6 44.5h0M504.3 45.2h0M507.7 43.5h0M505.1 44.8h0" stroke="#000" stroke-opacity="0.3" stroke-width="0.7" stroke-linecap="square" fill="none"/>
<path d="M487.2 47.6h0M488.5 49.6h0M489.7 47.2h0M488.5 47.4h0M489.4 46.7h0M487.9 48.5h0M488.8 48.8h0M487.7 46.1h0M488.0 48.6h0M489.3 48.1h0" stroke="#000" stroke-opacity="0.3" stroke-width="0.7" stroke-linecap="square" fill="none"/>
<path d="M488.7 48.4h0M488.4 48.2h0M487.5 49.3h0M486.5 49.8h0M489.1 48.1h0M487.6 48.9h0M489.0 49.2h0M488.6 49.3h0M489.4 47.8h0M489.6 47.6h0" stroke="#000" stroke-opacity="0.3" stroke-width="0.7" stroke-linecap="square" fill="none"/>
<path d="M489.0 47.7h0M486.2 46.9h0M487.4 49.4h0M486.8 46.7h0M488.3 46.9h0M488.8 48.8h0M489.0 48.6h0M487.7 46.3h0M487.4 48.1h0M489.4 50.1h0" stroke="#000" stroke-opacity="0.3" stroke-width="0.7" stroke-linecap="square" fill="none"/>
<path d="M485.9 60.7 Q491.1 60 501.1 61.5 Q491.1 63 485.9 62.7 Z" fill="#000" fill-opacity="0.85"/>
<rect x="477.1" y="36.2" width="40.2" height="35.3" fill="none" stroke="#888" stroke-width="0.6"/>
<line x1="476.1" y1="68.56" x2="477.1" y2="68.56" stroke="#000" stroke-width="0.5"/>
<line x1="476.1" y1="62.67" x2="477.1" y2="62.67" stroke="#000" stroke-width="0.5"/>
<line x1="476.1" y1="56.79" x2="477.1" y2="56.79" stroke="#000" stroke-width="0.5"/>
<line x1="476.1" y1="50.91" x2="477.1" y2="50.91" stroke="#000" stroke-width="0.5"/>
<line x1="476.1" y1="45.03" x2="477.1" y2="45.03" stroke="#000" stroke-width="0.5"/>
<line x1="476.1" y1="39.14" x2="477.1" y2="39.14" stroke="#000" stroke-width="0.5"/>
<line x1="480.45" y1="71.5" x2="480.45" y2="72.5" stroke="#000" stroke-width="0.5"/>
<line x1="487.15" y1="71.5" x2="487.15" y2="72.5" stroke="#000" stroke-width="0.5"/>
<line x1="493.85" y1="71.5" x2="493.85" y2="72.5" stroke="#000" stroke-width="0.5"/>
<line x1="500.55" y1="71.5" x2="500.55" y2="72.5" stroke="#000" stroke-width="0.5"/>
<line x1="507.25" y1="71.5" x2="507.25" y2="72.5" stroke="#000" stroke-width="0.5"/>
<line x1="513.95" y1="71.5" x2="513.95" y2="72.5" stroke="#000" stroke-width="0.5"/>
<rect x="484.7" y="43.5" width="9.9" height="8.7" fill="none" stroke="#666" stroke-width="0.5"/>
<text x="489.1" y="41.1" font-size="3.6" text-anchor="middle" font-weight="normal" font-style="normal" fill="#000" stroke="#000" stroke-width="0.12" >2,38</text>
<polyline points="378.3,75 378.3,56.4" fill="none" stroke="#000" stroke-width="1.3"/>
<polygon points="378.3,52.9 380.3,56.7 376.3,56.7" fill="#000"/>
<polyline points="377.65,75 401.5,75" fill="none" stroke="#000" stroke-width="1.3"/>
<polygon points="405,75 401.2,77 401.2,73" fill="#000"/>
<text transform="translate(368.8,58.4) rotate(-90) scale(1,1.15)" x="0" y="2.74" font-size="7.6" text-anchor="middle" font-weight="normal" stroke="#000" stroke-width="0.12">Siglec-F</text>
<text transform="translate(374.4,83.2) scale(1,1.15)" x="0" y="0" font-size="7.9" text-anchor="start" font-weight="normal" font-style="normal" fill="#000" stroke="#000" stroke-width="0.12" >CD11c</text>
<path d="M403.1 112.9h0M415.7 113.2h0M400.8 113.7h0M406.7 112.7h0M406.4 113.5h0M406.0 112.7h0M412.7 113.9h0M402.4 113.7h0M414.8 113.0h0M399.5 112.8h0M407.6 113.8h0M403.5 112.7h0M405.0 113.6h0M408.3 112.8h0M411.8 113.2h0M402.0 113.7h0M407.4 113.3h0M412.2 113.7h0M403.0 113.3h0M403.5 114.4h0M406.0 112.9h0M408.7 113.6h0M406.0 113.9h0M402.7 113.0h0M417.6 112.8h0M410.9 113.4h0M404.2 112.5h0M412.6 113.2h0M412.5 113.3h0M419.8 114.0h0M413.6 113.1h0M398.4 113.1h0M406.8 113.4h0M400.6 113.9h0M411.5 112.6h0M415.8 113.2h0M412.8 113.5h0M407.2 113.4h0M411.5 113.2h0M415.3 113.4h0M413.0 114.2h0M406.5 113.3h0M409.1 114.0h0M404.7 113.5h0M404.2 114.1h0M410.6 113.5h0M416.6 113.8h0M415.3 113.9h0M409.4 112.8h0M411.2 113.4h0M405.1 113.4h0M401.9 113.3h0M412.5 112.8h0M417.9 113.3h0M407.3 113.7h0M408.3 113.4h0M402.1 113.4h0M413.9 113.3h0M415.7 114.1h0M405.4 113.0h0M401.8 113.0h0M403.6 113.8h0M401.7 112.8h0M406.8 113.1h0M409.3 113.0h0M410.4 113.3h0M409.7 113.0h0M401.0 113.0h0M405.1 113.4h0M406.1 112.8h0M412.9 113.7h0M407.1 113.2h0M413.1 112.8h0M401.1 112.8h0M404.1 113.3h0M412.6 113.9h0M413.6 113.5h0M405.9 113.6h0M414.2 113.0h0M406.4 113.0h0M410.5 113.2h0M412.3 112.9h0M411.0 112.7h0M410.1 113.5h0M409.2 114.0h0M414.3 112.8h0M405.8 113.1h0M407.3 114.2h0M399.8 113.4h0M400.9 113.6h0M417.7 113.9h0M406.3 112.9h0M403.9 113.7h0M405.9 113.1h0M411.8 113.2h0M408.9 113.3h0M408.8 112.8h0M400.0 112.7h0M408.7 114.0h0" stroke="#000" stroke-opacity="0.3" stroke-width="0.7" stroke-linecap="square" fill="none"/>
<path d="M412.1 114.7h0M399.7 112.9h0M409.4 113.8h0M407.3 113.2h0M414.6 113.8h0M409.0 113.3h0M398.3 113.0h0M413.5 113.5h0M398.2 113.3h0M407.8 112.2h0M407.7 112.8h0M403.2 113.8h0M410.3 113.2h0M396.6 113.3h0M410.7 114.1h0M413.3 112.8h0M406.8 113.3h0M418.1 113.0h0M406.4 113.4h0M412.9 113.0h0M416.3 113.7h0M405.0 114.3h0M408.0 114.0h0M412.0 113.5h0M414.2 114.3h0M405.7 113.3h0M402.6 113.4h0M406.6 113.4h0M417.2 112.7h0M402.6 113.1h0M399.6 113.6h0M398.4 113.5h0M412.3 113.2h0M405.3 113.1h0M403.9 113.5h0M413.9 113.8h0M412.1 112.9h0M407.4 113.7h0M410.2 113.8h0M412.8 114.0h0M407.0 113.5h0M419.5 113.6h0M400.0 113.4h0M409.0 113.2h0M405.3 113.5h0M415.2 113.5h0M407.5 112.6h0M400.0 112.7h0M411.4 113.2h0M406.8 113.3h0M418.4 113.5h0M408.3 113.3h0M413.4 112.9h0M408.3 113.2h0M420.2 114.0h0M399.6 114.1h0M413.3 113.5h0M409.5 113.7h0M412.5 113.0h0M408.0 113.1h0M411.2 113.1h0M408.8 113.5h0M410.3 113.6h0M405.0 112.7h0M408.9 113.2h0M394.5 113.4h0M409.4 112.9h0M412.6 113.5h0M410.4 113.3h0M402.8 112.9h0M404.6 113.0h0M400.1 113.9h0M414.5 113.5h0M409.3 113.3h0M411.1 113.7h0M404.0 113.6h0M413.6 113.4h0M412.6 112.7h0M415.4 113.5h0M405.4 113.7h0M397.8 113.0h0M402.8 113.1h0M410.5 113.8h0M409.2 113.3h0M414.2 113.7h0M414.1 112.7h0M397.8 113.3h0M411.6 113.5h0M418.9 113.8h0M404.0 113.1h0M407.2 113.3h0M417.0 113.4h0M404.6 113.1h0M400.6 113.0h0M401.5 113.2h0M412.1 112.7h0M407.1 113.0h0M407.9 114.4h0M410.5 113.3h0" stroke="#000" stroke-opacity="0.3" stroke-width="0.7" stroke-linecap="square" fill="none"/>
<path d="M411.4 113.3h0M416.0 112.5h0M402.8 113.0h0M413.3 113.3h0M410.1 113.1h0M417.6 113.4h0M407.3 113.3h0M412.3 112.8h0M410.9 113.0h0M414.2 113.7h0M412.0 113.5h0M406.9 114.6h0M413.2 112.9h0M402.3 112.7h0M409.6 113.5h0M412.2 113.4h0M407.6 112.5h0M401.7 113.6h0M406.1 113.6h0M403.3 113.2h0M402.7 113.5h0M409.0 114.2h0M407.6 112.8h0M409.3 113.8h0M405.2 113.0h0M417.5 113.7h0M404.3 112.9h0M416.6 113.4h0M402.5 113.1h0M411.7 113.3h0M415.6 112.6h0M402.3 113.6h0M403.1 113.7h0M410.9 113.5h0M410.7 113.3h0M410.6 113.2h0M411.3 114.0h0M397.4 114.0h0M410.8 113.6h0M411.8 113.0h0M411.1 113.7h0M405.4 113.7h0M414.2 112.7h0M410.5 112.7h0M408.5 113.7h0M399.5 113.0h0M404.9 114.2h0M405.6 112.7h0M405.7 113.6h0M398.3 112.4h0M403.4 113.1h0M410.2 113.8h0M410.8 113.3h0M413.4 113.4h0M416.9 113.1h0M401.0 113.5h0M404.2 113.0h0M395.2 113.4h0M414.1 114.1h0M397.8 112.3h0M409.8 113.9h0M414.0 113.7h0M420.2 113.6h0M401.8 113.1h0M407.6 113.1h0M409.4 113.0h0M412.5 113.5h0M409.5 112.8h0M404.3 113.2h0M400.7 113.5h0M410.1 113.1h0M401.0 112.6h0M410.6 113.1h0M402.2 112.8h0M406.7 113.9h0M414.5 112.5h0M414.8 113.1h0M415.1 113.8h0M413.7 113.3h0M404.6 113.0h0M406.8 114.0h0M409.9 113.0h0M394.5 113.3h0M410.2 113.3h0M405.3 113.1h0M420.0 113.8h0M415.0 113.6h0M407.1 113.6h0M406.0 113.5h0M405.7 113.0h0M417.7 113.2h0M408.7 113.1h0M399.7 112.8h0M407.9 112.2h0M411.0 113.3h0M405.5 113.5h0M408.7 112.6h0M413.8 113.8h0M414.4 112.8h0" stroke="#000" stroke-opacity="0.3" stroke-width="0.7" stroke-linecap="square" fill="none"/>
<path d="M394.6 99.6h0M397.0 106.5h0M396.8 100.8h0M396.6 105.1h0M396.9 102.7h0M396.1 115.7h0M396.9 108.6h0M397.1 104.3h0M394.8 92.1h0M394.0 104.1h0M397.2 107.6h0M396.7 107.9h0M395.7 106.7h0M397.1 110.9h0M397.6 97.7h0M396.8 99.3h0M395.5 94.6h0M398.6 108.1h0M397.8 107.4h0M398.0 113.4h0M397.3 99.5h0M396.9 102.3h0M398.7 100.3h0M398.8 102.7h0M397.3 104.2h0M395.0 105.4h0M397.9 102.0h0M397.5 100.3h0M396.8 101.8h0M396.1 105.8h0M396.5 105.1h0M399.0 105.8h0M397.4 106.2h0M397.8 100.3h0M397.2 107.3h0M395.7 95.1h0M399.3 99.3h0M396.2 112.8h0M396.7 103.8h0M396.6 103.1h0M397.5 108.3h0M397.6 107.2h0M397.5 102.8h0M396.6 111.1h0" stroke="#000" stroke-opacity="0.16" stroke-width="0.7" stroke-linecap="square" fill="none"/>
<path d="M398.8 108.7h0M396.2 108.2h0M396.8 100.8h0M397.6 103.1h0M397.2 103.6h0M397.2 104.1h0M395.8 102.8h0M398.4 98.3h0M396.7 108.8h0M398.7 101.0h0M397.2 110.2h0M396.4 109.0h0M397.6 108.6h0M396.5 108.7h0M396.9 105.9h0M397.2 104.3h0M396.7 106.0h0M395.2 106.4h0M400.1 105.8h0M397.9 107.2h0M398.1 106.9h0M397.5 103.6h0M396.8 100.0h0M398.4 102.5h0M398.0 110.2h0M393.9 107.9h0M398.7 101.5h0M399.8 103.2h0M396.3 106.8h0M396.3 93.1h0M396.7 103.7h0M397.5 112.7h0M397.9 105.4h0M398.5 109.2h0M395.4 100.5h0M396.7 97.1h0M397.9 99.6h0M397.1 101.5h0M396.3 107.4h0M395.5 99.0h0M397.4 105.9h0M397.0 107.0h0M395.2 108.3h0" stroke="#000" stroke-opacity="0.16" stroke-width="0.7" stroke-linecap="square" fill="none"/>
<path d="M397.4 103.8h0M396.0 110.7h0M397.0 96.9h0M398.6 97.4h0M398.8 104.8h0M398.2 102.2h0M398.3 112.6h0M396.4 101.3h0M397.9 110.3h0M395.6 106.3h0M398.0 105.9h0M398.5 108.9h0M395.4 102.2h0M397.3 113.3h0M398.7 107.7h0M398.7 108.9h0M396.0 102.5h0M397.4 103.9h0M396.3 102.6h0M397.5 102.9h0M397.4 101.1h0M397.6 109.0h0M398.7 101.1h0M396.9 105.4h0M398.2 102.8h0M397.9 99.5h0M396.2 102.0h0M399.3 103.6h0M398.6 105.4h0M397.3 97.2h0M399.0 109.1h0M396.5 106.4h0M398.1 101.2h0M397.0 102.6h0M398.3 103.9h0M397.3 104.5h0M396.0 103.9h0M399.9 101.3h0M398.6 99.1h0M396.7 100.8h0M396.1 102.1h0M396.8 99.6h0M397.6 107.8h0" stroke="#000" stroke-opacity="0.16" stroke-width="0.7" stroke-linecap="square" fill="none"/>
<path d="M413.1 107.8h0M410.0 110.7h0M409.4 98.9h0M416.2 105.1h0M402.5 101.5h0M416.0 104.9h0M412.1 101.5h0M416.9 96.8h0M401.5 104.1h0M414.3 105.9h0M415.3 104.0h0M397.2 94.9h0M407.9 109.8h0M411.0 99.4h0M403.4 100.6h0M406.9 91.0h0M400.1 98.3h0M406.8 103.5h0M406.0 93.0h0M398.2 107.1h0M401.4 102.9h0M413.2 111.3h0M424.6 109.0h0M403.4 100.0h0M409.3 109.5h0M414.4 111.4h0M413.3 108.3h0M411.0 103.7h0M410.5 105.3h0M413.3 99.8h0M406.8 100.1h0M407.8 97.8h0M415.2 99.4h0M415.7 104.1h0M412.2 100.2h0M406.1 95.8h0M408.7 101.5h0M417.3 102.3h0M407.3 100.9h0M403.3 105.4h0" stroke="#000" stroke-opacity="0.1" stroke-width="0.7" stroke-linecap="square" fill="none"/>
<path d="M405.4 100.3h0M417.7 103.4h0M419.8 111.2h0M411.7 107.9h0M409.7 100.0h0M411.7 96.3h0M409.7 105.2h0M418.7 100.2h0M418.0 93.5h0M412.8 99.5h0M408.2 101.9h0M399.1 99.1h0M405.8 98.1h0M403.8 94.4h0M412.1 113.8h0M396.8 91.6h0M406.5 98.3h0M413.0 89.7h0M415.0 119.9h0M417.8 95.8h0M400.6 106.4h0M413.4 109.6h0M411.0 107.0h0M407.9 108.5h0M393.8 97.1h0M415.5 93.9h0M408.5 105.3h0M413.9 108.4h0M414.1 100.2h0M403.0 100.5h0M422.7 104.9h0M414.5 94.4h0M406.9 101.9h0M419.3 96.0h0M393.9 102.1h0M414.9 100.4h0M405.5 90.9h0M422.6 99.5h0M405.7 100.1h0M404.9 105.1h0" stroke="#000" stroke-opacity="0.1" stroke-width="0.7" stroke-linecap="square" fill="none"/>
<path d="M418.5 101.9h0M422.7 93.5h0M406.6 103.0h0M423.0 102.8h0M414.6 106.4h0M407.6 97.2h0M408.0 108.3h0M405.1 100.4h0M412.8 105.5h0M415.9 104.1h0M414.0 108.1h0M405.5 103.3h0M404.4 100.5h0M411.1 99.0h0M420.7 97.1h0M415.9 101.3h0M419.6 91.1h0M411.1 94.9h0M416.6 100.4h0M416.1 91.9h0M419.4 102.5h0M419.5 96.2h0M412.2 103.6h0M413.3 104.6h0M416.5 100.0h0M408.6 95.8h0M408.8 113.3h0M414.8 102.2h0M406.3 101.0h0M406.9 105.8h0M404.0 109.3h0M409.8 105.6h0M418.3 92.2h0M417.9 97.5h0M412.8 107.3h0M417.2 110.5h0M410.2 106.6h0M410.1 99.4h0M412.2 103.1h0M410.8 91.5h0" stroke="#000" stroke-opacity="0.1" stroke-width="0.7" stroke-linecap="square" fill="none"/>
<path d="M420.3 96.4h0M421.8 93.9h0M422.2 95.4h0M421.5 95.3h0M423.3 95.4h0M421.2 93.9h0M418.6 97.2h0M418.7 95.9h0M418.1 96.7h0M420.8 92.1h0M419.0 94.3h0M421.9 94.0h0M423.4 93.6h0M417.2 96.6h0M421.7 93.3h0M421.2 95.3h0M426.4 92.2h0" stroke="#000" stroke-opacity="0.4" stroke-width="0.7" stroke-linecap="square" fill="none"/>
<path d="M420.1 95.0h0M423.2 92.5h0M424.1 91.9h0M420.3 96.4h0M420.4 96.1h0M419.0 95.1h0M419.3 97.0h0M419.2 96.0h0M422.5 94.7h0M421.3 95.5h0M419.5 94.7h0M421.6 96.1h0M423.2 93.5h0M420.9 96.2h0M422.8 93.6h0M422.9 92.9h0M421.3 94.3h0" stroke="#000" stroke-opacity="0.4" stroke-width="0.7" stroke-linecap="square" fill="none"/>
<path d="M420.7 95.2h0M420.5 95.1h0M421.3 95.2h0M418.6 97.4h0M421.6 93.4h0M420.4 94.3h0M421.1 93.9h0M421.9 96.6h0M422.5 92.6h0M421.4 93.1h0M421.2 93.9h0M422.1 92.6h0M418.6 96.5h0M421.4 94.8h0M419.6 95.4h0M421.8 96.0h0" stroke="#000" stroke-opacity="0.4" stroke-width="0.7" stroke-linecap="square" fill="none"/>
<ellipse cx="398.6" cy="113.3" rx="3.8" ry="1.35" transform="rotate(0 398.6 113.3)" fill="#000" fill-opacity="0.9"/>
<ellipse cx="421.8" cy="94.2" rx="2.2" ry="1.1" transform="rotate(-40 421.8 94.2)" fill="#000" fill-opacity="0.8"/>
<rect x="390.2" y="86.4" width="39.2" height="36" fill="none" stroke="#888" stroke-width="0.6"/>
<line x1="389.2" y1="119.4" x2="390.2" y2="119.4" stroke="#000" stroke-width="0.5"/>
<line x1="389.2" y1="113.4" x2="390.2" y2="113.4" stroke="#000" stroke-width="0.5"/>
<line x1="389.2" y1="107.4" x2="390.2" y2="107.4" stroke="#000" stroke-width="0.5"/>
<line x1="389.2" y1="101.4" x2="390.2" y2="101.4" stroke="#000" stroke-width="0.5"/>
<line x1="389.2" y1="95.4" x2="390.2" y2="95.4" stroke="#000" stroke-width="0.5"/>
<line x1="389.2" y1="89.4" x2="390.2" y2="89.4" stroke="#000" stroke-width="0.5"/>
<line x1="393.47" y1="122.4" x2="393.47" y2="123.4" stroke="#000" stroke-width="0.5"/>
<line x1="400" y1="122.4" x2="400" y2="123.4" stroke="#000" stroke-width="0.5"/>
<line x1="406.53" y1="122.4" x2="406.53" y2="123.4" stroke="#000" stroke-width="0.5"/>
<line x1="413.07" y1="122.4" x2="413.07" y2="123.4" stroke="#000" stroke-width="0.5"/>
<line x1="419.6" y1="122.4" x2="419.6" y2="123.4" stroke="#000" stroke-width="0.5"/>
<line x1="426.13" y1="122.4" x2="426.13" y2="123.4" stroke="#000" stroke-width="0.5"/>
<rect x="417.1" y="89.2" width="9.7" height="9.2" fill="none" stroke="#666" stroke-width="0.5"/>
<text x="411" y="91.7" font-size="3.6" text-anchor="middle" font-weight="normal" font-style="normal" fill="#000" stroke="#000" stroke-width="0.12" >11,8</text>
<path d="M454.8 112.8h0M444.4 113.1h0M443.2 112.8h0M457.3 113.3h0M450.3 113.0h0M448.1 112.7h0M447.8 113.5h0M454.6 112.4h0M460.5 113.1h0M459.5 112.5h0M455.1 112.1h0M447.5 113.1h0M451.6 113.4h0M447.6 112.7h0M455.0 112.4h0M440.6 112.1h0M453.6 112.7h0M454.6 111.9h0M454.9 113.2h0M451.1 112.3h0M454.6 112.1h0M449.0 113.6h0M453.6 112.6h0M452.6 112.6h0M456.1 112.9h0M442.4 112.7h0M448.5 113.2h0M453.1 112.7h0M450.2 112.2h0M458.4 113.5h0M451.1 113.7h0M435.7 112.8h0M451.0 113.1h0M460.4 112.9h0M451.6 112.1h0M449.6 112.7h0M461.1 112.1h0M452.0 112.7h0M462.3 113.5h0M445.9 112.5h0M441.0 112.8h0M449.3 112.4h0M450.0 112.9h0M450.8 112.8h0M446.2 112.6h0M460.0 113.4h0M446.4 113.0h0M446.3 112.7h0M453.4 113.1h0M446.7 112.5h0M462.0 112.8h0M448.4 113.0h0M442.2 112.7h0M448.6 112.3h0M453.3 113.1h0M449.3 112.4h0M451.9 112.6h0M450.5 111.9h0M446.4 113.1h0M443.5 112.4h0M446.6 113.4h0M455.4 112.1h0M454.1 113.0h0M453.2 113.0h0M456.9 112.7h0M458.7 112.5h0M452.8 112.5h0M451.9 112.8h0M454.7 112.7h0M459.7 113.0h0M447.2 113.3h0M448.8 112.9h0M459.1 112.6h0M452.8 113.3h0M453.2 112.8h0M448.5 112.7h0M454.2 112.6h0M441.8 112.9h0M454.6 112.6h0M450.2 111.9h0M458.6 112.3h0M454.3 112.8h0M456.7 112.4h0M455.2 113.0h0M445.9 112.6h0M449.0 111.7h0M453.8 113.3h0M446.9 112.3h0M458.2 112.7h0M459.0 112.8h0M450.6 112.4h0M456.8 112.4h0M446.3 112.7h0M442.0 113.0h0M449.1 113.9h0M440.9 113.1h0M453.6 112.4h0M442.7 113.1h0M454.2 112.1h0M451.5 114.1h0" stroke="#000" stroke-opacity="0.3" stroke-width="0.7" stroke-linecap="square" fill="none"/>
<path d="M446.9 113.3h0M443.4 113.0h0M452.6 113.1h0M458.5 112.4h0M443.4 113.9h0M450.4 112.2h0M450.8 112.5h0M457.1 112.6h0M451.1 112.2h0M438.7 112.9h0M452.5 112.6h0M448.4 112.8h0M458.0 112.4h0M443.7 113.0h0M442.6 112.1h0M453.0 112.7h0M448.1 112.6h0M447.0 112.4h0M461.1 112.5h0M455.6 111.8h0M444.8 112.7h0M444.5 112.3h0M456.4 112.9h0M453.4 112.3h0M441.3 112.9h0M449.7 112.0h0M450.9 113.9h0M454.2 112.4h0M454.1 112.3h0M457.8 113.0h0M450.9 113.5h0M447.9 113.4h0M453.1 112.8h0M435.6 112.3h0M459.2 112.9h0M457.3 112.9h0M444.2 113.0h0M446.0 112.9h0M447.2 113.1h0M441.7 112.7h0M462.4 112.6h0M443.3 112.4h0M459.0 113.2h0M457.3 112.8h0M452.9 113.1h0M456.4 112.7h0M454.5 112.7h0M448.2 113.3h0M445.1 113.3h0M461.5 112.7h0M447.3 112.8h0M448.9 112.9h0M445.2 113.0h0M442.2 113.2h0M461.8 112.6h0M448.0 113.2h0M450.3 112.4h0M451.8 112.7h0M447.5 112.9h0M448.9 112.2h0M456.0 112.4h0M457.7 112.6h0M458.5 112.4h0M451.6 113.1h0M445.5 112.8h0M446.0 112.8h0M454.8 112.9h0M453.1 111.8h0M452.6 113.3h0M450.7 112.4h0M443.6 112.7h0M445.0 112.6h0M451.2 112.5h0M458.4 112.1h0M453.1 112.5h0M456.0 113.2h0M453.4 112.6h0M455.6 112.9h0M451.5 113.4h0M445.1 113.2h0M461.9 112.7h0M450.8 111.9h0M451.9 112.0h0M457.9 112.4h0M451.4 112.7h0M455.7 113.2h0M448.6 112.7h0M440.6 112.7h0M447.6 112.8h0M453.3 112.6h0M457.5 112.6h0M460.3 111.9h0M447.4 111.8h0M457.4 113.3h0M457.7 113.0h0M448.1 111.7h0M449.1 113.4h0M447.7 112.9h0M452.9 112.3h0" stroke="#000" stroke-opacity="0.3" stroke-width="0.7" stroke-linecap="square" fill="none"/>
<path d="M446.9 112.5h0M453.3 113.0h0M453.2 112.4h0M454.0 112.3h0M457.8 112.4h0M450.4 112.0h0M459.7 112.8h0M455.9 113.0h0M449.5 112.4h0M455.6 112.3h0M452.9 112.9h0M458.9 112.3h0M447.8 112.9h0M442.4 112.8h0M440.7 113.5h0M456.8 113.3h0M456.3 113.0h0M448.2 112.2h0M450.6 112.7h0M448.5 111.8h0M445.4 112.8h0M454.3 112.8h0M458.4 112.1h0M455.6 112.1h0M440.5 113.0h0M441.0 112.9h0M452.2 113.5h0M447.7 113.4h0M451.7 113.2h0M454.3 112.8h0M450.7 113.3h0M459.7 112.4h0M456.9 112.1h0M451.1 113.8h0M451.6 113.2h0M457.1 112.6h0M450.1 112.8h0M459.1 112.4h0M445.8 112.7h0M446.1 112.4h0M451.1 112.2h0M449.0 112.9h0M449.5 112.0h0M455.4 112.3h0M434.4 113.3h0M454.8 113.3h0M461.6 112.4h0M442.5 112.1h0M441.1 113.2h0M448.0 112.8h0M444.7 112.4h0M457.9 113.4h0M452.9 112.7h0M450.4 112.7h0M455.1 112.0h0M452.1 112.8h0M448.5 112.5h0M453.8 112.2h0M447.8 112.2h0M459.2 112.7h0M445.9 112.6h0M456.0 112.7h0M461.8 112.2h0M442.7 112.7h0M452.6 112.3h0M448.0 112.6h0M458.1 112.3h0M445.8 112.9h0M449.7 112.4h0M460.3 112.6h0M455.0 112.6h0M455.5 112.2h0M454.7 112.5h0M458.9 112.5h0M454.7 113.2h0M453.4 112.9h0M449.7 111.7h0M452.1 112.6h0M444.0 112.5h0M454.3 112.7h0M448.2 113.2h0M440.2 112.7h0M443.3 112.7h0M450.5 113.1h0M456.2 112.9h0M454.1 112.9h0M446.0 112.6h0M456.8 111.4h0M450.0 112.7h0M450.3 112.3h0M455.3 113.3h0M459.0 111.6h0M443.1 112.8h0M452.6 112.7h0M453.0 113.2h0M457.2 112.4h0M453.0 112.9h0M445.7 112.9h0M458.0 112.9h0" stroke="#000" stroke-opacity="0.3" stroke-width="0.7" stroke-linecap="square" fill="none"/>
<path d="M440.7 102.6h0M442.0 102.1h0M439.9 99.6h0M439.9 117.4h0M439.2 112.6h0M439.3 104.7h0M439.3 108.4h0M441.2 112.7h0M440.7 108.9h0M439.1 103.5h0M438.6 106.2h0M438.1 104.3h0M442.5 104.1h0M437.6 107.5h0M437.6 111.6h0M438.6 101.5h0M439.9 106.6h0M439.6 101.5h0M442.1 105.7h0M440.4 100.9h0M440.3 112.1h0M439.8 110.1h0M440.3 108.1h0M439.2 97.5h0M440.1 108.9h0M439.3 100.8h0M440.0 110.8h0M440.5 111.5h0M440.6 110.6h0M438.7 112.8h0M439.0 106.9h0M439.5 98.4h0M439.4 100.8h0M441.3 108.3h0M440.5 103.2h0M439.5 100.1h0M439.6 102.2h0M440.1 105.1h0M441.2 107.1h0M439.3 100.8h0M440.4 105.9h0M439.6 101.0h0M438.1 107.6h0M439.0 106.5h0" stroke="#000" stroke-opacity="0.16" stroke-width="0.7" stroke-linecap="square" fill="none"/>
<path d="M440.7 105.6h0M439.3 101.1h0M439.5 105.5h0M439.6 104.9h0M441.1 108.0h0M439.3 102.0h0M441.0 101.9h0M438.0 106.6h0M437.9 100.1h0M440.2 108.4h0M440.4 106.1h0M440.6 99.4h0M439.4 99.0h0M439.7 105.7h0M441.1 98.4h0M440.9 107.6h0M439.5 112.0h0M439.7 103.0h0M439.6 101.3h0M439.8 100.7h0M437.1 106.3h0M439.0 101.6h0M439.9 103.3h0M439.6 105.8h0M439.9 103.9h0M441.4 102.3h0M441.8 98.8h0M440.1 103.3h0M441.2 107.7h0M441.3 104.3h0M440.4 106.5h0M437.8 114.5h0M441.7 96.4h0M439.9 97.9h0M440.5 101.1h0M439.5 100.6h0M439.1 106.4h0M438.7 99.7h0M439.7 103.4h0M439.6 100.3h0M440.0 101.8h0M440.5 103.5h0M438.5 98.9h0" stroke="#000" stroke-opacity="0.16" stroke-width="0.7" stroke-linecap="square" fill="none"/>
<path d="M441.3 99.9h0M439.4 112.8h0M440.8 102.9h0M438.3 108.6h0M439.1 102.9h0M439.8 104.3h0M442.3 106.1h0M440.8 109.7h0M440.4 95.3h0M440.0 100.7h0M439.9 104.9h0M440.2 107.5h0M438.4 97.2h0M437.8 95.4h0M439.8 105.1h0M440.8 105.9h0M440.0 106.8h0M438.8 108.1h0M438.0 107.2h0M441.4 105.0h0M440.1 103.2h0M441.8 109.1h0M439.6 106.0h0M439.6 107.6h0M440.5 108.5h0M440.2 102.5h0M438.1 89.8h0M440.8 100.5h0M439.2 103.2h0M439.7 105.7h0M439.8 93.5h0M439.2 103.7h0M440.3 101.9h0M440.7 108.8h0M440.0 106.1h0M438.3 109.1h0M439.4 101.3h0M441.3 103.2h0M441.7 101.6h0M439.9 98.9h0M441.3 113.3h0M439.9 107.3h0M439.3 110.9h0" stroke="#000" stroke-opacity="0.16" stroke-width="0.7" stroke-linecap="square" fill="none"/>
<path d="M446.5 105.7h0M440.0 103.8h0M458.9 96.7h0M439.2 103.8h0M455.9 101.3h0M450.0 102.3h0M462.3 97.3h0M454.6 106.2h0M461.6 103.7h0M439.4 112.5h0M448.5 100.3h0M442.6 108.7h0M443.6 96.1h0M448.4 102.0h0M450.6 102.0h0M445.6 87.6h0M459.6 95.0h0M443.0 117.1h0M457.4 99.5h0M461.1 105.1h0M433.1 98.7h0M445.2 101.0h0M464.3 102.2h0M449.2 95.8h0M451.7 92.5h0M451.2 96.8h0M462.0 97.7h0M447.9 100.8h0M455.4 101.8h0M452.8 108.6h0M449.6 102.0h0M440.5 100.7h0M443.6 95.5h0M452.3 101.6h0M454.6 95.9h0M456.9 89.3h0M452.7 103.5h0M454.6 106.4h0M446.8 98.9h0M444.7 106.4h0" stroke="#000" stroke-opacity="0.1" stroke-width="0.7" stroke-linecap="square" fill="none"/>
<path d="M455.1 108.8h0M458.3 103.1h0M452.4 104.5h0M457.8 111.8h0M448.2 93.4h0M453.0 103.3h0M447.8 98.8h0M464.8 104.6h0M449.0 108.3h0M434.7 102.3h0M448.6 103.4h0M443.9 95.1h0M458.1 97.4h0M453.0 110.5h0M457.0 91.6h0M445.9 99.0h0M454.6 102.9h0M445.8 100.0h0M450.1 108.7h0M454.3 95.1h0M455.6 91.7h0M451.7 98.5h0M453.4 102.5h0M457.2 90.6h0M446.0 100.9h0M457.2 107.6h0M462.1 100.2h0M456.1 100.2h0M456.5 105.3h0M455.5 106.8h0M455.3 101.6h0M448.0 102.0h0M452.3 93.1h0M460.3 91.7h0M449.7 101.2h0M455.6 106.4h0M460.9 102.9h0M454.5 98.6h0M448.8 106.3h0" stroke="#000" stroke-opacity="0.1" stroke-width="0.7" stroke-linecap="square" fill="none"/>
<path d="M454.1 102.0h0M454.1 105.3h0M454.6 96.3h0M455.8 96.8h0M440.3 97.8h0M466.0 101.5h0M440.4 111.7h0M464.1 87.9h0M453.0 97.8h0M463.9 105.8h0M452.3 94.2h0M468.9 96.9h0M451.7 88.0h0M441.3 96.4h0M437.0 106.4h0M444.1 94.6h0M450.0 115.8h0M454.6 108.3h0M463.3 98.5h0M443.7 104.3h0M464.0 111.7h0M449.2 104.6h0M447.8 105.5h0M449.1 99.4h0M456.9 101.1h0M452.5 96.0h0M447.4 100.5h0M449.5 101.7h0M454.7 106.1h0M451.4 93.4h0M462.9 94.1h0M457.3 117.9h0M447.5 109.4h0M453.5 101.5h0M457.8 97.5h0M446.5 100.1h0M451.2 100.6h0M450.4 97.2h0M444.6 102.2h0" stroke="#000" stroke-opacity="0.1" stroke-width="0.7" stroke-linecap="square" fill="none"/>
<path d="M464.7 94.5h0M462.5 94.1h0M463.5 94.3h0M463.8 94.8h0M463.2 94.3h0M464.3 94.9h0M464.6 93.4h0M464.0 93.5h0M463.7 92.7h0M466.2 93.8h0M464.2 93.8h0M465.3 93.0h0M463.3 92.3h0M462.1 95.5h0M463.7 95.3h0M462.3 95.9h0M462.8 95.9h0" stroke="#000" stroke-opacity="0.4" stroke-width="0.7" stroke-linecap="square" fill="none"/>
<path d="M463.9 92.9h0M463.3 94.5h0M463.5 94.1h0M463.8 93.1h0M463.9 94.6h0M462.8 95.6h0M462.8 93.3h0M463.7 94.1h0M462.0 92.8h0M462.0 95.5h0M464.3 93.2h0M463.5 93.2h0M465.3 92.4h0M463.9 95.1h0M463.7 94.2h0M461.9 96.1h0M463.9 94.8h0" stroke="#000" stroke-opacity="0.4" stroke-width="0.7" stroke-linecap="square" fill="none"/>
<path d="M463.4 93.7h0M465.2 95.3h0M463.3 94.5h0M463.9 94.3h0M463.7 93.6h0M465.2 96.6h0M464.0 95.9h0M462.5 95.2h0M461.9 96.5h0M463.8 95.1h0M464.8 92.8h0M460.9 94.9h0M462.1 95.8h0M465.4 93.7h0M464.4 93.8h0M463.7 94.2h0" stroke="#000" stroke-opacity="0.4" stroke-width="0.7" stroke-linecap="square" fill="none"/>
<ellipse cx="441.1" cy="112.7" rx="3.8" ry="1.35" transform="rotate(0 441.1 112.7)" fill="#000" fill-opacity="0.9"/>
<ellipse cx="464.3" cy="93.6" rx="2.2" ry="1.1" transform="rotate(-40 464.3 93.6)" fill="#000" fill-opacity="0.8"/>
<rect x="432.7" y="85.8" width="38.3" height="36.2" fill="none" stroke="#888" stroke-width="0.6"/>
<line x1="431.7" y1="118.98" x2="432.7" y2="118.98" stroke="#000" stroke-width="0.5"/>
<line x1="431.7" y1="112.95" x2="432.7" y2="112.95" stroke="#000" stroke-width="0.5"/>
<line x1="431.7" y1="106.92" x2="432.7" y2="106.92" stroke="#000" stroke-width="0.5"/>
<line x1="431.7" y1="100.88" x2="432.7" y2="100.88" stroke="#000" stroke-width="0.5"/>
<line x1="431.7" y1="94.85" x2="432.7" y2="94.85" stroke="#000" stroke-width="0.5"/>
<line x1="431.7" y1="88.82" x2="432.7" y2="88.82" stroke="#000" stroke-width="0.5"/>
<line x1="435.89" y1="122" x2="435.89" y2="123" stroke="#000" stroke-width="0.5"/>
<line x1="442.27" y1="122" x2="442.27" y2="123" stroke="#000" stroke-width="0.5"/>
<line x1="448.66" y1="122" x2="448.66" y2="123" stroke="#000" stroke-width="0.5"/>
<line x1="455.04" y1="122" x2="455.04" y2="123" stroke="#000" stroke-width="0.5"/>
<line x1="461.43" y1="122" x2="461.43" y2="123" stroke="#000" stroke-width="0.5"/>
<line x1="467.81" y1="122" x2="467.81" y2="123" stroke="#000" stroke-width="0.5"/>
<rect x="459.6" y="88.6" width="9.7" height="9.2" fill="none" stroke="#666" stroke-width="0.5"/>
<text x="453.5" y="91.1" font-size="3.6" text-anchor="middle" font-weight="normal" font-style="normal" fill="#000" stroke="#000" stroke-width="0.12" >9,22</text>
<path d="M492.8 112.4h0M494.0 112.6h0M501.0 113.1h0M484.2 112.4h0M490.1 112.5h0M495.0 112.9h0M495.2 113.2h0M496.4 112.8h0M504.7 113.5h0M497.3 112.7h0M498.4 112.3h0M500.1 113.1h0M482.5 112.1h0M498.4 113.1h0M487.1 112.3h0M499.6 112.4h0M492.2 112.2h0M490.1 112.8h0M491.5 112.8h0M500.2 112.6h0M492.2 112.7h0M495.0 112.9h0M496.3 111.9h0M493.5 112.1h0M489.3 112.3h0M497.3 112.7h0M496.1 112.6h0M498.8 113.6h0M501.2 112.9h0M491.4 112.8h0M493.6 112.3h0M498.5 112.8h0M501.3 112.6h0M507.1 113.2h0M494.8 112.5h0M501.3 112.5h0M502.6 111.9h0M498.1 112.7h0M495.8 112.7h0M496.4 112.4h0M488.8 113.1h0M497.0 112.4h0M505.0 112.0h0M500.7 112.9h0M502.5 112.2h0M500.7 113.2h0M493.4 112.3h0M494.8 112.4h0M501.3 112.0h0M499.4 112.7h0M494.3 113.2h0M496.5 113.2h0M498.0 112.7h0M494.9 111.6h0M501.3 112.1h0M492.1 112.4h0M499.1 112.5h0M498.0 113.5h0M497.5 112.9h0M490.9 113.0h0M500.9 112.4h0M497.5 113.0h0M506.2 112.8h0M497.8 112.1h0M498.4 112.3h0M502.7 113.0h0M495.4 113.1h0M500.4 112.5h0M497.7 112.7h0M503.1 112.4h0M502.3 113.5h0M493.2 112.9h0M505.7 113.0h0M496.7 113.2h0M495.5 112.9h0M501.3 112.8h0M504.6 112.6h0M500.4 112.1h0M491.2 112.8h0M500.2 112.9h0M490.2 112.3h0M497.6 113.3h0M500.3 112.3h0M501.6 113.3h0M503.5 113.2h0M491.2 111.9h0M496.8 112.3h0M492.7 112.6h0M495.0 112.8h0M497.8 112.7h0M495.3 113.2h0M505.2 112.0h0M495.1 112.8h0M492.9 113.1h0M500.9 112.4h0M498.0 112.6h0M500.9 112.7h0M503.0 113.1h0M504.8 112.8h0M498.0 112.4h0" stroke="#000" stroke-opacity="0.3" stroke-width="0.7" stroke-linecap="square" fill="none"/>
<path d="M497.0 113.1h0M494.2 113.2h0M493.4 112.4h0M500.7 112.4h0M498.6 112.3h0M494.7 112.8h0M507.8 113.4h0M492.3 111.9h0M489.5 112.3h0M486.9 113.7h0M501.1 113.3h0M501.2 112.3h0M495.6 112.4h0M495.7 112.5h0M499.7 113.1h0M496.0 112.3h0M496.3 113.0h0M498.0 112.0h0M502.1 113.1h0M494.8 113.6h0M505.6 112.6h0M495.5 112.7h0M495.2 112.8h0M500.8 112.6h0M495.8 112.6h0M506.6 112.7h0M493.0 112.9h0M486.6 112.7h0M499.2 112.5h0M491.1 112.3h0M500.8 112.5h0M485.2 113.3h0M497.2 113.3h0M493.4 112.2h0M492.9 113.3h0M502.9 113.6h0M490.0 112.3h0M496.4 113.1h0M504.3 112.9h0M496.5 112.9h0M490.9 112.8h0M490.2 112.4h0M499.0 112.5h0M496.5 113.4h0M491.7 113.3h0M492.5 112.1h0M499.3 112.9h0M497.6 112.9h0M492.9 113.1h0M495.9 112.2h0M491.2 112.4h0M506.5 112.9h0M490.9 112.8h0M499.6 113.6h0M496.6 112.8h0M499.9 112.3h0M492.0 112.8h0M493.9 112.8h0M492.6 113.5h0M503.5 113.6h0M490.9 112.4h0M501.0 112.5h0M495.2 112.3h0M494.4 112.6h0M499.0 112.2h0M503.5 112.3h0M500.2 113.0h0M483.3 112.4h0M504.8 113.4h0M498.7 112.5h0M500.6 113.2h0M493.5 113.5h0M505.2 112.6h0M506.6 112.8h0M490.1 112.5h0M495.2 112.3h0M496.3 112.5h0M490.1 113.3h0M492.5 112.4h0M496.7 112.7h0M500.4 112.1h0M496.4 112.8h0M500.1 113.1h0M494.1 111.9h0M500.3 112.4h0M501.9 112.0h0M493.3 112.4h0M493.2 113.2h0M487.2 112.5h0M493.7 113.2h0M492.5 113.0h0M496.3 112.2h0M503.6 112.8h0M488.9 112.8h0M504.0 112.5h0M505.5 112.3h0M495.3 112.1h0M504.3 112.9h0M504.1 112.0h0" stroke="#000" stroke-opacity="0.3" stroke-width="0.7" stroke-linecap="square" fill="none"/>
<path d="M489.7 112.5h0M500.3 112.7h0M500.2 113.6h0M501.2 112.8h0M499.7 112.8h0M491.4 113.3h0M496.5 112.8h0M498.3 112.7h0M500.7 113.2h0M493.0 112.9h0M496.4 112.8h0M491.7 112.5h0M492.2 113.1h0M492.1 112.8h0M496.3 112.2h0M506.2 113.3h0M503.2 112.7h0M495.2 112.6h0M491.9 112.4h0M483.1 112.4h0M495.1 112.8h0M485.6 113.0h0M491.9 113.2h0M497.3 112.0h0M503.8 113.4h0M501.9 112.5h0M492.3 112.7h0M500.0 112.6h0M495.5 112.6h0M489.3 113.2h0M498.4 112.6h0M501.9 112.1h0M501.8 113.1h0M501.0 112.0h0M498.3 112.6h0M495.9 112.6h0M488.1 112.7h0M502.2 113.2h0M503.5 112.5h0M494.2 113.5h0M492.6 112.7h0M496.7 113.0h0M496.6 112.8h0M498.0 112.7h0M495.5 111.9h0M496.3 112.8h0M488.3 112.2h0M506.2 112.8h0M488.9 113.3h0M490.9 112.5h0M487.4 112.8h0M492.0 112.8h0M490.2 112.7h0M494.6 112.4h0M493.6 112.7h0M493.5 112.4h0M486.0 111.9h0M489.3 112.7h0M491.5 113.3h0M495.9 112.0h0M491.8 113.0h0M500.2 113.2h0M494.5 112.7h0M493.5 112.4h0M497.7 112.2h0M489.7 112.1h0M490.1 113.2h0M495.9 113.4h0M498.5 113.0h0M491.5 112.9h0M495.6 112.1h0M503.0 112.6h0M500.7 112.6h0M498.2 112.3h0M490.8 112.8h0M488.2 112.7h0M490.7 113.2h0M492.0 112.7h0M490.8 113.5h0M494.7 113.0h0M505.2 112.6h0M493.6 112.9h0M499.1 112.4h0M492.9 112.7h0M500.7 112.7h0M503.3 113.7h0M498.7 113.1h0M501.8 112.3h0M497.4 112.1h0M491.7 112.9h0M499.9 113.2h0M501.8 113.3h0M495.9 112.0h0M497.8 112.7h0M502.0 112.5h0M493.3 113.3h0M495.2 112.9h0M492.9 112.6h0M494.1 112.4h0" stroke="#000" stroke-opacity="0.3" stroke-width="0.7" stroke-linecap="square" fill="none"/>
<path d="M483.6 104.0h0M485.0 100.5h0M484.2 111.0h0M487.4 108.0h0M484.8 110.3h0M483.7 97.9h0M485.5 107.8h0M486.9 104.0h0M483.3 109.6h0M483.5 92.6h0M485.9 111.4h0M485.1 109.4h0M485.9 102.5h0M482.8 98.0h0M485.2 101.8h0M484.5 105.9h0M483.6 99.0h0M486.8 109.7h0M483.1 105.9h0M485.5 109.4h0M484.2 105.4h0M484.9 99.0h0M484.3 102.8h0M485.7 108.2h0M485.2 103.1h0M486.8 108.1h0M486.9 107.3h0M485.5 105.5h0M485.0 105.7h0M485.1 101.3h0M485.6 97.8h0M487.7 101.3h0M485.7 106.2h0M483.9 108.1h0M486.1 103.4h0M486.2 100.3h0M484.7 108.7h0M485.5 101.4h0M484.8 108.5h0M486.2 106.2h0M483.9 104.5h0M484.8 109.1h0M485.3 94.2h0M483.9 104.8h0" stroke="#000" stroke-opacity="0.16" stroke-width="0.7" stroke-linecap="square" fill="none"/>
<path d="M482.5 101.8h0M484.7 105.4h0M485.5 101.5h0M485.0 102.3h0M485.3 104.0h0M486.8 103.2h0M484.7 103.8h0M486.2 105.0h0M484.4 105.3h0M487.7 108.3h0M485.7 96.8h0M484.0 101.6h0M483.0 108.3h0M484.0 99.5h0M485.1 98.4h0M484.1 98.1h0M484.2 103.7h0M486.2 103.9h0M486.4 105.7h0M484.6 96.2h0M486.0 91.9h0M483.2 119.5h0M485.9 100.0h0M484.9 110.7h0M486.0 91.3h0M484.3 106.1h0M487.7 102.0h0M486.0 110.4h0M484.1 108.9h0M484.0 99.3h0M483.9 110.5h0M485.7 101.5h0M484.3 104.2h0M486.8 105.8h0M484.9 99.6h0M485.1 98.1h0M483.6 111.8h0M484.5 109.0h0M486.0 98.7h0M485.1 108.6h0M485.3 109.1h0M486.6 105.6h0M484.1 99.5h0" stroke="#000" stroke-opacity="0.16" stroke-width="0.7" stroke-linecap="square" fill="none"/>
<path d="M485.6 99.3h0M485.7 106.2h0M486.7 102.6h0M484.1 100.9h0M485.6 103.0h0M487.0 112.7h0M485.2 104.4h0M485.9 112.5h0M484.7 102.3h0M484.9 96.2h0M484.5 105.6h0M482.2 109.5h0M483.4 98.7h0M486.4 107.6h0M485.6 100.1h0M486.3 96.5h0M481.2 102.0h0M485.4 101.8h0M485.1 108.2h0M485.7 108.3h0M488.1 107.8h0M484.7 107.5h0M485.0 103.4h0M484.5 102.5h0M482.9 94.4h0M482.9 102.9h0M486.5 104.8h0M485.2 106.1h0M486.0 105.8h0M484.2 108.6h0M487.2 108.3h0M487.8 106.4h0M482.4 102.5h0M483.9 99.5h0M485.5 105.5h0M485.5 104.7h0M485.7 107.3h0M485.2 106.1h0M487.6 109.4h0M488.4 104.3h0M483.7 102.7h0M486.5 105.2h0M485.7 105.0h0" stroke="#000" stroke-opacity="0.16" stroke-width="0.7" stroke-linecap="square" fill="none"/>
<path d="M497.6 104.5h0M505.6 96.7h0M488.9 103.5h0M512.6 97.9h0M498.6 106.8h0M491.0 100.9h0M495.4 91.7h0M495.1 101.1h0M500.9 99.0h0M500.5 97.5h0M492.3 100.7h0M499.0 101.9h0M496.5 102.5h0M503.3 102.2h0M485.4 106.5h0M481.6 106.5h0M504.7 115.4h0M485.2 103.6h0M505.0 104.2h0M499.1 104.9h0M489.8 98.1h0M493.2 98.3h0M502.6 105.4h0M498.6 101.7h0M496.3 97.3h0M504.2 98.5h0M500.2 101.3h0M498.6 98.3h0M503.6 97.1h0M500.4 104.1h0M501.0 90.7h0M495.3 99.6h0M496.5 98.0h0M508.1 91.5h0M502.0 100.0h0M497.7 95.4h0M487.6 108.4h0M505.2 99.7h0M502.5 100.7h0M484.2 107.5h0" stroke="#000" stroke-opacity="0.1" stroke-width="0.7" stroke-linecap="square" fill="none"/>
<path d="M494.6 97.8h0M496.8 100.1h0M483.3 106.2h0M498.4 94.2h0M501.8 107.9h0M479.1 101.3h0M493.7 98.3h0M500.7 96.5h0M499.8 108.9h0M495.1 103.5h0M491.0 112.4h0M490.9 98.9h0M495.1 104.5h0M494.2 104.6h0M505.1 95.2h0M503.1 106.6h0M482.3 99.5h0M499.2 97.4h0M489.3 99.8h0M497.7 101.6h0M493.7 114.7h0M493.7 98.4h0M498.5 104.3h0M488.5 88.0h0M509.6 92.5h0M481.9 101.8h0M501.1 93.0h0M490.6 109.8h0M484.8 102.7h0M493.3 97.1h0M495.7 104.9h0M494.5 102.9h0M492.3 98.4h0M500.0 116.1h0M495.0 103.1h0M497.5 105.9h0M489.6 105.7h0M490.9 96.0h0M507.4 100.4h0" stroke="#000" stroke-opacity="0.1" stroke-width="0.7" stroke-linecap="square" fill="none"/>
<path d="M507.1 100.5h0M491.5 106.4h0M498.7 108.9h0M495.1 102.4h0M493.5 102.9h0M498.6 99.2h0M499.8 104.7h0M505.4 114.2h0M507.1 93.8h0M502.0 100.2h0M487.3 105.5h0M495.8 98.6h0M503.3 98.6h0M505.9 99.9h0M497.2 104.6h0M508.5 95.5h0M502.9 97.4h0M499.7 107.2h0M482.0 95.3h0M484.2 93.9h0M504.9 95.4h0M483.5 108.6h0M495.3 89.7h0M505.7 95.4h0M505.1 86.3h0M497.2 91.8h0M492.4 95.6h0M494.0 108.1h0M502.5 108.5h0M488.4 103.3h0M509.4 111.3h0M503.8 95.2h0M510.7 112.1h0M500.7 97.2h0M501.2 100.5h0M498.5 100.5h0M495.3 106.4h0M499.9 113.6h0M503.9 103.8h0" stroke="#000" stroke-opacity="0.1" stroke-width="0.7" stroke-linecap="square" fill="none"/>
<path d="M511.3 91.8h0M510.1 92.6h0M507.5 94.0h0M511.5 92.1h0M507.8 96.3h0M507.2 95.1h0M508.4 95.0h0M508.2 93.8h0M510.2 92.9h0M509.7 93.9h0M509.0 95.6h0M509.0 94.0h0M509.4 96.0h0M508.8 92.5h0M506.5 97.0h0M507.9 95.3h0M510.3 92.5h0" stroke="#000" stroke-opacity="0.4" stroke-width="0.7" stroke-linecap="square" fill="none"/>
<path d="M510.4 93.5h0M508.7 95.3h0M509.8 91.9h0M507.4 95.5h0M508.7 93.3h0M511.2 92.6h0M508.0 95.4h0M510.2 91.6h0M509.6 94.2h0M508.3 94.5h0M507.9 96.8h0M510.7 94.5h0M511.3 93.4h0M508.7 95.4h0M509.4 93.3h0M510.3 93.1h0M509.6 94.1h0" stroke="#000" stroke-opacity="0.4" stroke-width="0.7" stroke-linecap="square" fill="none"/>
<path d="M508.5 94.2h0M511.1 94.0h0M508.4 94.5h0M510.0 91.4h0M508.8 94.4h0M510.6 92.8h0M508.5 94.3h0M508.7 93.1h0M509.6 93.8h0M508.4 94.0h0M508.6 95.1h0M508.9 94.2h0M508.1 92.9h0M507.9 94.4h0M508.7 92.7h0M507.1 95.2h0" stroke="#000" stroke-opacity="0.4" stroke-width="0.7" stroke-linecap="square" fill="none"/>
<ellipse cx="486.5" cy="112.7" rx="3.8" ry="1.35" transform="rotate(0 486.5 112.7)" fill="#000" fill-opacity="0.9"/>
<ellipse cx="509.7" cy="93.6" rx="2.2" ry="1.1" transform="rotate(-40 509.7 93.6)" fill="#000" fill-opacity="0.8"/>
<rect x="478.1" y="85.8" width="38.5" height="36.2" fill="none" stroke="#888" stroke-width="0.6"/>
<line x1="477.1" y1="118.98" x2="478.1" y2="118.98" stroke="#000" stroke-width="0.5"/>
<line x1="477.1" y1="112.95" x2="478.1" y2="112.95" stroke="#000" stroke-width="0.5"/>
<line x1="477.1" y1="106.92" x2="478.1" y2="106.92" stroke="#000" stroke-width="0.5"/>
<line x1="477.1" y1="100.88" x2="478.1" y2="100.88" stroke="#000" stroke-width="0.5"/>
<line x1="477.1" y1="94.85" x2="478.1" y2="94.85" stroke="#000" stroke-width="0.5"/>
<line x1="477.1" y1="88.82" x2="478.1" y2="88.82" stroke="#000" stroke-width="0.5"/>
<line x1="481.31" y1="122" x2="481.31" y2="123" stroke="#000" stroke-width="0.5"/>
<line x1="487.73" y1="122" x2="487.73" y2="123" stroke="#000" stroke-width="0.5"/>
<line x1="494.14" y1="122" x2="494.14" y2="123" stroke="#000" stroke-width="0.5"/>
<line x1="500.56" y1="122" x2="500.56" y2="123" stroke="#000" stroke-width="0.5"/>
<line x1="506.98" y1="122" x2="506.98" y2="123" stroke="#000" stroke-width="0.5"/>
<line x1="513.39" y1="122" x2="513.39" y2="123" stroke="#000" stroke-width="0.5"/>
<rect x="505" y="88.6" width="9.7" height="9.2" fill="none" stroke="#666" stroke-width="0.5"/>
<text x="498.9" y="91.1" font-size="3.6" text-anchor="middle" font-weight="normal" font-style="normal" fill="#000" stroke="#000" stroke-width="0.12" >7,06</text>
<polyline points="378.3,126.7 378.3,108.6" fill="none" stroke="#000" stroke-width="1.3"/>
<polygon points="378.3,105.1 380.3,108.9 376.3,108.9" fill="#000"/>
<polyline points="377.65,126.7 401.5,126.7" fill="none" stroke="#000" stroke-width="1.3"/>
<polygon points="405,126.7 401.2,128.7 401.2,124.7" fill="#000"/>
<text transform="translate(369.9,117.1) rotate(-90) scale(1,1.15)" x="0" y="2.74" font-size="7.6" text-anchor="middle" font-weight="normal" stroke="#000" stroke-width="0.12">Gr-1</text>
<text transform="translate(374.4,136.2) scale(1,1.15)" x="0" y="0" font-size="7.9" text-anchor="start" font-weight="normal" font-style="normal" fill="#000" stroke="#000" stroke-width="0.12" >CD11b</text>
<path d="M398.6 154.9h0M402.7 153.8h0M399.7 154.9h0M399.3 161.0h0M399.7 152.7h0M399.3 155.2h0M400.5 152.5h0M398.3 155.6h0M399.7 154.7h0M399.1 157.6h0M400.1 155.3h0M400.6 150.4h0M402.3 151.8h0M398.4 156.7h0M400.2 156.5h0M400.0 153.5h0M396.4 154.8h0M396.9 153.5h0M399.8 156.9h0M399.2 156.1h0M400.5 158.1h0M400.4 153.6h0M401.8 151.3h0M397.2 156.6h0M396.0 156.8h0M401.2 153.2h0M396.1 156.7h0M397.5 154.7h0M400.4 152.1h0M403.1 149.7h0M399.1 154.8h0M403.0 155.7h0M404.8 159.0h0M398.1 156.0h0M399.4 152.1h0M402.5 159.8h0M399.8 157.6h0M398.6 148.5h0M400.6 155.3h0M398.7 152.1h0" stroke="#000" stroke-opacity="0.15" stroke-width="0.7" stroke-linecap="square" fill="none"/>
<path d="M395.9 153.6h0M400.9 154.6h0M398.2 160.9h0M394.9 154.1h0M403.3 156.3h0M396.1 155.1h0M402.8 156.5h0M402.6 152.8h0M399.6 154.1h0M403.9 155.8h0M402.7 152.7h0M399.4 153.0h0M400.3 154.4h0M400.7 152.6h0M398.5 153.9h0M399.6 152.6h0M402.4 153.5h0M397.0 154.3h0M401.5 154.1h0M401.4 157.6h0M399.7 157.4h0M399.6 155.8h0M402.2 152.9h0M397.5 153.5h0M398.8 156.4h0M398.5 155.2h0M403.9 157.3h0M402.0 154.5h0M399.1 155.5h0M396.3 158.3h0M402.0 154.0h0M398.7 151.8h0M398.9 153.9h0M400.5 155.7h0M399.7 155.2h0M399.6 157.5h0M399.3 156.0h0M401.1 154.5h0M395.7 155.2h0M399.3 158.9h0" stroke="#000" stroke-opacity="0.15" stroke-width="0.7" stroke-linecap="square" fill="none"/>
<path d="M399.9 156.2h0M398.1 153.1h0M399.8 156.3h0M400.2 157.5h0M399.3 154.3h0M398.5 155.9h0M397.8 152.5h0M398.1 156.0h0M403.6 157.0h0M400.5 153.7h0M396.2 153.7h0M397.3 155.1h0M401.2 154.8h0M395.4 153.2h0M395.8 153.8h0M397.8 155.4h0M398.7 152.9h0M398.5 152.3h0M399.7 152.4h0M396.4 158.1h0M399.6 152.4h0M401.4 156.1h0M399.9 153.8h0M402.9 149.8h0M399.7 153.6h0M397.3 151.6h0M398.3 153.6h0M399.6 147.6h0M400.0 156.3h0M400.8 153.2h0M399.7 151.8h0M399.7 156.7h0M397.6 155.8h0M397.6 157.3h0M399.9 156.9h0M394.1 159.0h0M401.2 153.5h0M399.3 157.5h0M399.2 157.0h0M397.9 157.7h0" stroke="#000" stroke-opacity="0.15" stroke-width="0.7" stroke-linecap="square" fill="none"/>
<path d="M416.6 147.2h0M416.5 150.7h0M417.9 150.2h0M415.4 156.2h0M417.2 152.2h0M415.1 152.7h0M414.4 146.7h0M418.1 152.4h0M418.3 151.8h0M419.4 153.7h0M420.7 155.3h0M416.8 152.6h0M418.0 154.3h0M420.2 150.5h0M416.5 153.7h0M416.2 152.9h0M416.1 149.4h0M419.7 152.0h0M416.2 148.8h0M417.5 153.7h0M416.7 152.4h0M420.7 158.6h0M418.6 152.4h0M421.0 152.7h0M414.8 154.6h0M416.5 157.6h0M418.7 147.7h0M418.0 153.0h0M415.8 151.8h0M416.1 151.1h0M417.1 148.5h0M416.0 151.7h0M412.6 150.4h0M418.1 156.1h0M418.8 153.2h0M417.7 149.7h0M416.2 155.2h0M419.9 154.4h0M414.6 159.2h0M416.8 156.7h0" stroke="#000" stroke-opacity="0.15" stroke-width="0.7" stroke-linecap="square" fill="none"/>
<path d="M418.2 160.4h0M422.7 155.0h0M415.7 153.1h0M415.7 150.2h0M419.8 157.5h0M417.3 153.1h0M417.5 157.1h0M414.3 152.2h0M418.1 157.6h0M414.6 152.1h0M417.5 156.5h0M417.8 152.0h0M417.2 155.5h0M419.6 152.6h0M418.9 151.3h0M416.6 152.1h0M415.9 154.1h0M417.9 152.6h0M419.0 148.9h0M417.3 154.1h0M417.9 155.3h0M417.2 150.2h0M418.7 150.1h0M412.9 157.3h0M419.7 153.0h0M415.5 153.6h0M419.3 150.0h0M416.2 155.6h0M414.7 149.9h0M416.9 151.2h0M416.0 150.8h0M415.7 149.7h0M418.6 157.0h0M416.1 154.3h0M417.8 152.8h0M420.0 160.1h0M417.4 152.9h0M414.2 153.0h0M416.9 153.4h0M420.4 151.6h0" stroke="#000" stroke-opacity="0.15" stroke-width="0.7" stroke-linecap="square" fill="none"/>
<path d="M417.9 150.1h0M412.2 155.8h0M420.4 151.7h0M416.7 155.8h0M413.7 149.8h0M417.1 154.7h0M417.3 152.1h0M418.5 154.3h0M416.3 151.9h0M419.6 154.4h0M415.8 156.6h0M414.7 150.7h0M415.2 152.2h0M418.0 154.1h0M415.1 156.0h0M413.4 153.1h0M420.5 151.8h0M418.5 153.8h0M415.8 158.7h0M416.3 154.4h0M417.7 156.3h0M419.3 153.8h0M417.4 149.5h0M419.0 157.6h0M417.8 152.9h0M418.2 153.6h0M416.7 152.5h0M421.2 151.7h0M416.1 155.6h0M422.4 158.1h0M415.3 147.1h0M417.8 150.9h0M414.8 153.0h0M416.2 148.1h0M415.3 152.0h0M412.5 156.1h0M418.8 153.7h0M417.0 151.8h0M413.8 155.1h0M415.6 156.9h0" stroke="#000" stroke-opacity="0.15" stroke-width="0.7" stroke-linecap="square" fill="none"/>
<path d="M397 152.7 Q399.9 151 402.9 152.7 L400.8 158.9 Q399.9 159.6 399.1 158.9 Z" fill="#000" fill-opacity="0.88"/>
<ellipse cx="417" cy="152.6" rx="2.1" ry="3.5" transform="rotate(0 417 152.6)" fill="#000" fill-opacity="0.9"/>
<rect x="389.6" y="138.4" width="39.3" height="35.8" fill="none" stroke="#888" stroke-width="0.6"/>
<line x1="388.6" y1="171.22" x2="389.6" y2="171.22" stroke="#000" stroke-width="0.5"/>
<line x1="388.6" y1="165.25" x2="389.6" y2="165.25" stroke="#000" stroke-width="0.5"/>
<line x1="388.6" y1="159.28" x2="389.6" y2="159.28" stroke="#000" stroke-width="0.5"/>
<line x1="388.6" y1="153.32" x2="389.6" y2="153.32" stroke="#000" stroke-width="0.5"/>
<line x1="388.6" y1="147.35" x2="389.6" y2="147.35" stroke="#000" stroke-width="0.5"/>
<line x1="388.6" y1="141.38" x2="389.6" y2="141.38" stroke="#000" stroke-width="0.5"/>
<line x1="392.88" y1="174.2" x2="392.88" y2="175.2" stroke="#000" stroke-width="0.5"/>
<line x1="399.43" y1="174.2" x2="399.43" y2="175.2" stroke="#000" stroke-width="0.5"/>
<line x1="405.98" y1="174.2" x2="405.98" y2="175.2" stroke="#000" stroke-width="0.5"/>
<line x1="412.52" y1="174.2" x2="412.52" y2="175.2" stroke="#000" stroke-width="0.5"/>
<line x1="419.07" y1="174.2" x2="419.07" y2="175.2" stroke="#000" stroke-width="0.5"/>
<line x1="425.62" y1="174.2" x2="425.62" y2="175.2" stroke="#000" stroke-width="0.5"/>
<line x1="408.8" y1="138.4" x2="408.8" y2="174.2" stroke="#666" stroke-width="0.55"/>
<line x1="389.6" y1="160.3" x2="428.9" y2="160.3" stroke="#666" stroke-width="0.55"/>
<text x="394.6" y="143.4" font-size="3.6" text-anchor="middle" font-weight="normal" font-style="normal" fill="#000" stroke="#000" stroke-width="0.12" >46,0</text>
<text x="421.3" y="143.4" font-size="3.6" text-anchor="middle" font-weight="normal" font-style="normal" fill="#000" stroke="#000" stroke-width="0.12" >54,0</text>
<text x="391.6" y="170.7" font-size="3.6" text-anchor="middle" font-weight="normal" font-style="normal" fill="#000" stroke="#000" stroke-width="0.12" >0</text>
<text x="426.9" y="170.7" font-size="3.6" text-anchor="middle" font-weight="normal" font-style="normal" fill="#000" stroke="#000" stroke-width="0.12" >0</text>
<path d="M445.7 155.8h0M438.8 156.7h0M444.9 155.2h0M442.7 154.4h0M443.4 160.2h0M447.1 156.4h0M446.1 160.3h0M445.3 157.0h0M444.8 156.7h0M442.4 152.6h0M441.0 154.2h0M443.6 156.9h0M439.3 155.3h0M438.6 155.1h0M446.4 153.7h0M445.1 153.5h0M445.0 154.7h0M440.2 153.5h0M443.2 151.9h0M444.8 154.1h0M451.1 159.6h0M443.2 151.9h0M440.2 157.3h0M439.5 157.4h0M443.5 152.7h0M439.8 156.6h0M442.1 158.1h0M447.1 159.1h0M447.4 156.0h0M444.3 154.7h0M446.5 157.2h0M441.8 157.1h0M445.0 158.0h0M442.5 147.9h0M443.3 153.1h0M446.4 156.8h0M445.4 154.4h0M440.7 153.9h0M443.7 150.7h0M444.0 153.5h0" stroke="#000" stroke-opacity="0.15" stroke-width="0.7" stroke-linecap="square" fill="none"/>
<path d="M444.9 154.5h0M445.0 153.2h0M442.4 156.1h0M444.8 152.3h0M443.0 157.4h0M441.3 154.4h0M444.8 153.4h0M441.5 157.7h0M444.5 154.0h0M437.9 155.2h0M442.5 157.2h0M441.4 156.2h0M442.8 155.6h0M446.3 155.5h0M440.1 152.7h0M441.1 157.0h0M442.2 154.8h0M443.9 155.9h0M441.1 157.3h0M441.8 150.6h0M444.0 152.8h0M444.8 157.2h0M441.3 152.6h0M444.7 152.4h0M446.2 156.5h0M443.8 154.4h0M445.7 157.1h0M446.0 157.6h0M444.4 154.8h0M439.9 153.7h0M446.1 155.0h0M443.8 153.3h0M445.3 157.1h0M442.1 152.6h0M442.7 158.4h0M443.2 154.2h0M441.9 156.3h0M443.7 153.5h0M444.5 155.3h0M440.8 151.9h0" stroke="#000" stroke-opacity="0.15" stroke-width="0.7" stroke-linecap="square" fill="none"/>
<path d="M443.3 155.1h0M442.2 155.8h0M443.6 153.0h0M441.6 154.3h0M445.0 157.9h0M446.6 159.8h0M443.6 155.8h0M442.1 155.8h0M443.1 157.2h0M441.4 155.2h0M441.4 152.6h0M443.4 156.2h0M441.9 154.9h0M443.5 155.9h0M441.9 155.3h0M445.6 153.4h0M441.4 151.4h0M445.2 153.4h0M443.0 159.2h0M446.1 157.2h0M439.4 154.2h0M441.1 154.5h0M439.0 152.8h0M441.3 154.9h0M447.7 149.0h0M440.7 156.2h0M439.2 155.8h0M441.6 158.3h0M443.7 154.4h0M444.2 155.5h0M445.7 153.5h0M445.4 158.3h0M441.5 151.0h0M443.5 153.5h0M441.0 151.2h0M443.9 154.3h0M441.5 156.3h0M445.4 154.9h0M438.9 155.6h0M443.3 155.1h0" stroke="#000" stroke-opacity="0.15" stroke-width="0.7" stroke-linecap="square" fill="none"/>
<path d="M459.9 159.6h0M462.2 150.9h0M459.6 144.9h0M459.3 161.1h0M461.2 158.3h0M458.8 153.8h0M458.9 153.6h0M457.3 151.0h0M461.5 150.5h0M462.9 156.9h0M461.2 156.9h0M460.6 152.7h0M456.7 156.6h0M459.1 157.7h0M462.3 154.3h0M459.7 157.4h0M460.5 152.9h0M460.3 159.7h0M458.8 154.8h0M462.9 157.0h0M459.6 155.5h0M460.0 154.9h0M460.2 150.0h0M463.7 156.6h0M457.4 151.3h0M461.3 154.6h0M462.0 154.2h0M454.6 150.2h0M461.9 152.9h0M460.4 156.5h0M461.7 154.3h0M458.4 150.9h0M462.6 155.2h0M458.0 153.1h0M461.4 154.1h0M458.9 153.4h0M460.6 154.3h0M462.7 160.5h0M457.2 151.1h0M459.0 154.9h0" stroke="#000" stroke-opacity="0.15" stroke-width="0.7" stroke-linecap="square" fill="none"/>
<path d="M460.3 154.0h0M464.6 151.8h0M462.1 146.9h0M458.4 152.9h0M455.1 153.3h0M464.1 154.6h0M458.3 155.5h0M460.9 155.3h0M461.2 157.5h0M459.2 152.3h0M461.5 162.1h0M462.8 150.0h0M461.3 154.5h0M463.2 153.5h0M459.5 152.9h0M461.3 156.4h0M459.1 151.8h0M461.4 154.4h0M457.4 158.6h0M462.7 155.7h0M460.6 149.4h0M462.4 147.4h0M457.9 154.4h0M462.5 157.7h0M461.1 156.1h0M461.9 153.5h0M464.9 154.5h0M455.0 153.0h0M462.3 154.9h0M464.4 153.2h0M459.2 154.1h0M462.3 155.4h0M462.4 151.4h0M461.8 153.8h0M457.8 153.9h0M459.1 154.2h0M465.8 153.5h0M463.9 154.8h0M459.3 150.4h0M459.0 157.7h0" stroke="#000" stroke-opacity="0.15" stroke-width="0.7" stroke-linecap="square" fill="none"/>
<path d="M457.2 154.5h0M460.6 152.4h0M462.9 150.2h0M457.8 153.0h0M461.5 156.2h0M464.6 149.9h0M458.1 154.6h0M458.4 149.0h0M461.7 149.0h0M463.2 154.5h0M463.2 154.0h0M462.2 151.8h0M459.8 153.6h0M460.4 154.5h0M461.0 153.2h0M458.7 156.2h0M459.5 154.0h0M460.3 151.3h0M463.6 149.2h0M463.8 151.3h0M462.1 156.8h0M459.4 151.1h0M464.1 150.0h0M459.6 157.1h0M457.7 148.0h0M457.9 157.1h0M463.5 153.3h0M462.9 148.6h0M458.5 155.5h0M463.8 153.5h0M459.6 155.5h0M461.7 155.5h0M461.6 151.5h0M464.1 155.8h0M460.6 159.1h0M457.1 154.7h0M461.5 153.7h0M458.0 155.1h0M460.5 152.7h0M461.8 152.5h0" stroke="#000" stroke-opacity="0.15" stroke-width="0.7" stroke-linecap="square" fill="none"/>
<path d="M440.4 152.9 Q443.3 151.2 446.3 152.9 L444.2 159.1 Q443.3 159.8 442.5 159.1 Z" fill="#000" fill-opacity="0.88"/>
<ellipse cx="460.4" cy="152.8" rx="2.1" ry="3.5" transform="rotate(0 460.4 152.8)" fill="#000" fill-opacity="0.9"/>
<rect x="433" y="138.6" width="39.3" height="35.4" fill="none" stroke="#888" stroke-width="0.6"/>
<line x1="432" y1="171.05" x2="433" y2="171.05" stroke="#000" stroke-width="0.5"/>
<line x1="432" y1="165.15" x2="433" y2="165.15" stroke="#000" stroke-width="0.5"/>
<line x1="432" y1="159.25" x2="433" y2="159.25" stroke="#000" stroke-width="0.5"/>
<line x1="432" y1="153.35" x2="433" y2="153.35" stroke="#000" stroke-width="0.5"/>
<line x1="432" y1="147.45" x2="433" y2="147.45" stroke="#000" stroke-width="0.5"/>
<line x1="432" y1="141.55" x2="433" y2="141.55" stroke="#000" stroke-width="0.5"/>
<line x1="436.27" y1="174" x2="436.27" y2="175" stroke="#000" stroke-width="0.5"/>
<line x1="442.82" y1="174" x2="442.82" y2="175" stroke="#000" stroke-width="0.5"/>
<line x1="449.38" y1="174" x2="449.38" y2="175" stroke="#000" stroke-width="0.5"/>
<line x1="455.93" y1="174" x2="455.93" y2="175" stroke="#000" stroke-width="0.5"/>
<line x1="462.48" y1="174" x2="462.48" y2="175" stroke="#000" stroke-width="0.5"/>
<line x1="469.03" y1="174" x2="469.03" y2="175" stroke="#000" stroke-width="0.5"/>
<line x1="452.2" y1="138.6" x2="452.2" y2="174" stroke="#666" stroke-width="0.55"/>
<line x1="433" y1="160.5" x2="472.3" y2="160.5" stroke="#666" stroke-width="0.55"/>
<text x="438" y="143.6" font-size="3.6" text-anchor="middle" font-weight="normal" font-style="normal" fill="#000" stroke="#000" stroke-width="0.12" >43,1</text>
<text x="464.7" y="143.6" font-size="3.6" text-anchor="middle" font-weight="normal" font-style="normal" fill="#000" stroke="#000" stroke-width="0.12" >56,9</text>
<text x="435" y="170.9" font-size="3.6" text-anchor="middle" font-weight="normal" font-style="normal" fill="#000" stroke="#000" stroke-width="0.12" >0</text>
<text x="470.3" y="170.9" font-size="3.6" text-anchor="middle" font-weight="normal" font-style="normal" fill="#000" stroke="#000" stroke-width="0.12" >0</text>
<path d="M489.2 153.7h0M492.5 150.3h0M485.6 153.9h0M488.5 156.6h0M488.3 154.4h0M488.9 155.9h0M491.7 153.6h0M489.6 156.2h0M490.2 152.4h0M488.7 153.9h0M487.9 155.5h0M485.7 150.9h0M488.5 152.8h0M487.0 155.1h0M489.5 158.9h0M491.7 149.6h0M489.6 156.1h0M488.9 155.0h0M485.8 156.6h0M489.0 156.4h0M490.7 153.8h0M486.7 159.1h0M487.5 152.4h0M483.6 151.0h0M485.9 156.1h0M488.0 155.4h0M490.0 156.6h0M489.6 155.8h0M488.5 157.0h0M490.4 156.2h0M485.5 153.8h0M486.4 155.3h0M489.0 152.7h0M492.4 156.9h0M491.7 158.0h0M489.3 156.4h0M490.1 155.7h0M485.8 156.6h0M485.8 153.0h0M484.6 155.4h0" stroke="#000" stroke-opacity="0.15" stroke-width="0.7" stroke-linecap="square" fill="none"/>
<path d="M486.8 157.5h0M493.5 150.9h0M484.0 154.8h0M492.1 155.0h0M489.0 156.7h0M488.9 158.8h0M486.3 157.6h0M489.4 152.0h0M486.0 150.7h0M491.2 155.6h0M489.1 157.7h0M488.9 155.5h0M488.3 155.0h0M489.7 158.5h0M492.9 153.7h0M486.7 151.2h0M488.8 156.1h0M486.9 153.8h0M491.4 152.2h0M491.3 155.0h0M486.3 154.6h0M492.4 152.6h0M487.5 155.7h0M490.9 154.7h0M486.6 155.5h0M484.9 154.6h0M488.7 154.3h0M490.8 160.2h0M491.2 154.5h0M489.3 151.3h0M486.6 158.7h0M489.8 153.3h0M490.3 152.8h0M488.9 152.8h0M488.4 153.5h0M489.0 153.5h0M489.8 155.9h0M487.1 154.3h0M485.6 155.2h0M490.2 152.6h0" stroke="#000" stroke-opacity="0.15" stroke-width="0.7" stroke-linecap="square" fill="none"/>
<path d="M484.7 156.2h0M483.2 150.5h0M490.0 153.5h0M489.8 156.3h0M485.2 154.4h0M490.5 152.4h0M487.4 151.4h0M490.0 153.8h0M486.4 157.6h0M489.9 155.9h0M489.5 157.1h0M489.1 152.9h0M487.8 155.8h0M489.1 157.0h0M489.7 155.8h0M491.2 155.8h0M487.2 150.6h0M491.1 153.5h0M485.9 152.8h0M487.6 153.8h0M488.1 156.0h0M488.4 152.9h0M488.5 152.1h0M488.3 158.4h0M483.9 154.2h0M490.1 154.9h0M488.3 153.0h0M490.0 156.4h0M485.3 152.1h0M486.9 151.6h0M485.3 153.7h0M484.4 154.1h0M486.7 154.1h0M485.6 153.5h0M484.1 154.1h0M489.3 154.7h0M487.0 157.8h0M488.7 153.9h0M488.8 154.9h0M486.1 157.2h0" stroke="#000" stroke-opacity="0.15" stroke-width="0.7" stroke-linecap="square" fill="none"/>
<path d="M504.9 156.9h0M505.8 151.0h0M502.9 154.3h0M505.4 149.1h0M509.0 155.1h0M503.3 150.3h0M507.8 158.7h0M504.9 157.5h0M507.1 155.7h0M505.0 150.7h0M509.6 153.1h0M507.4 153.7h0M506.4 153.6h0M505.3 158.4h0M503.1 151.8h0M507.7 151.9h0M503.0 155.3h0M508.7 157.4h0M503.1 153.3h0M506.3 156.6h0M506.9 154.9h0M507.0 149.2h0M504.9 156.1h0M504.4 154.1h0M505.5 159.6h0M505.4 157.0h0M505.4 154.3h0M506.0 154.8h0M506.1 156.6h0M506.6 153.2h0M507.3 151.2h0M509.0 157.4h0M507.4 149.3h0M503.7 156.5h0M506.5 152.1h0M503.8 159.1h0M505.7 149.9h0M507.6 152.3h0M505.3 152.2h0M503.8 158.4h0" stroke="#000" stroke-opacity="0.15" stroke-width="0.7" stroke-linecap="square" fill="none"/>
<path d="M504.5 149.2h0M504.3 159.8h0M506.0 156.3h0M500.1 148.9h0M502.2 150.6h0M503.7 147.8h0M505.1 156.8h0M506.6 153.1h0M504.0 153.2h0M503.6 154.5h0M506.6 154.5h0M506.2 162.2h0M503.6 152.2h0M505.7 152.5h0M503.0 154.7h0M504.6 153.5h0M505.4 157.2h0M507.4 153.3h0M504.7 150.5h0M507.5 157.0h0M503.4 144.9h0M506.3 152.4h0M506.8 157.4h0M504.5 148.7h0M504.2 156.8h0M506.3 152.2h0M504.4 151.9h0M499.0 150.3h0M506.2 156.5h0M505.4 148.6h0M502.1 147.7h0M509.3 156.1h0M506.3 152.4h0M498.7 156.8h0M506.5 153.9h0M505.8 153.1h0M505.1 152.8h0M504.8 154.4h0M503.9 157.8h0M506.8 148.2h0" stroke="#000" stroke-opacity="0.15" stroke-width="0.7" stroke-linecap="square" fill="none"/>
<path d="M505.1 153.5h0M504.1 158.5h0M505.2 151.6h0M508.4 156.2h0M505.8 151.1h0M506.1 151.4h0M507.4 154.3h0M504.2 153.6h0M505.5 152.4h0M505.7 152.7h0M504.3 155.7h0M503.4 153.0h0M504.8 152.8h0M506.6 155.6h0M507.0 153.0h0M505.6 158.6h0M502.6 150.2h0M507.4 153.7h0M504.1 151.6h0M503.1 155.4h0M505.6 151.2h0M502.6 152.3h0M506.7 152.3h0M501.1 155.9h0M505.5 155.1h0M505.0 152.9h0M505.2 148.3h0M505.2 146.9h0M505.0 156.2h0M502.5 156.7h0M507.5 154.6h0M504.1 152.6h0M507.8 151.9h0M505.8 151.8h0M506.7 150.7h0M503.4 152.0h0M501.3 153.6h0M504.0 148.3h0M505.4 151.3h0M506.4 152.1h0" stroke="#000" stroke-opacity="0.15" stroke-width="0.7" stroke-linecap="square" fill="none"/>
<path d="M485.2 152.9 Q488.1 151.2 491.1 152.9 L489 159.1 Q488.1 159.8 487.3 159.1 Z" fill="#000" fill-opacity="0.88"/>
<ellipse cx="505.2" cy="152.8" rx="2.1" ry="3.5" transform="rotate(0 505.2 152.8)" fill="#000" fill-opacity="0.9"/>
<rect x="477.8" y="138.6" width="39.2" height="35.4" fill="none" stroke="#888" stroke-width="0.6"/>
<line x1="476.8" y1="171.05" x2="477.8" y2="171.05" stroke="#000" stroke-width="0.5"/>
<line x1="476.8" y1="165.15" x2="477.8" y2="165.15" stroke="#000" stroke-width="0.5"/>
<line x1="476.8" y1="159.25" x2="477.8" y2="159.25" stroke="#000" stroke-width="0.5"/>
<line x1="476.8" y1="153.35" x2="477.8" y2="153.35" stroke="#000" stroke-width="0.5"/>
<line x1="476.8" y1="147.45" x2="477.8" y2="147.45" stroke="#000" stroke-width="0.5"/>
<line x1="476.8" y1="141.55" x2="477.8" y2="141.55" stroke="#000" stroke-width="0.5"/>
<line x1="481.07" y1="174" x2="481.07" y2="175" stroke="#000" stroke-width="0.5"/>
<line x1="487.6" y1="174" x2="487.6" y2="175" stroke="#000" stroke-width="0.5"/>
<line x1="494.13" y1="174" x2="494.13" y2="175" stroke="#000" stroke-width="0.5"/>
<line x1="500.67" y1="174" x2="500.67" y2="175" stroke="#000" stroke-width="0.5"/>
<line x1="507.2" y1="174" x2="507.2" y2="175" stroke="#000" stroke-width="0.5"/>
<line x1="513.73" y1="174" x2="513.73" y2="175" stroke="#000" stroke-width="0.5"/>
<line x1="497" y1="138.6" x2="497" y2="174" stroke="#666" stroke-width="0.55"/>
<line x1="477.8" y1="160.5" x2="517" y2="160.5" stroke="#666" stroke-width="0.55"/>
<text x="482.8" y="143.6" font-size="3.6" text-anchor="middle" font-weight="normal" font-style="normal" fill="#000" stroke="#000" stroke-width="0.12" >44,8</text>
<text x="509.5" y="143.6" font-size="3.6" text-anchor="middle" font-weight="normal" font-style="normal" fill="#000" stroke="#000" stroke-width="0.12" >55,2</text>
<text x="479.8" y="170.9" font-size="3.6" text-anchor="middle" font-weight="normal" font-style="normal" fill="#000" stroke="#000" stroke-width="0.12" >0</text>
<text x="515.1" y="170.9" font-size="3.6" text-anchor="middle" font-weight="normal" font-style="normal" fill="#000" stroke="#000" stroke-width="0.12" >0</text>
<polyline points="378.3,178.2 378.3,159.6" fill="none" stroke="#000" stroke-width="1.3"/>
<polygon points="378.3,156.1 380.3,159.9 376.3,159.9" fill="#000"/>
<polyline points="377.65,178.2 401.5,178.2" fill="none" stroke="#000" stroke-width="1.3"/>
<polygon points="405,178.2 401.2,180.2 401.2,176.2" fill="#000"/>
<text transform="translate(369.8,167.7) rotate(-90) scale(1,1.15)" x="0" y="2.74" font-size="7.6" text-anchor="middle" font-weight="normal" stroke="#000" stroke-width="0.12">CD3</text>
<text transform="translate(374.4,187.4) scale(1,1.15)" x="0" y="0" font-size="7.9" text-anchor="start" font-weight="normal" font-style="normal" fill="#000" stroke="#000" stroke-width="0.12" ></text>
<text transform="translate(376.6,187.3) scale(1,1.15)" x="0" y="0" font-size="8.3" text-anchor="start" font-weight="normal" font-style="normal" fill="#000" stroke="#000" stroke-width="0.12" >CD4</text>
<path d="M400.5 208.9h0M401.9 207.9h0M398.0 206.8h0M397.8 207.3h0M400.4 208.3h0M403.3 206.1h0M405.8 208.2h0M398.3 209.0h0M405.8 208.2h0M400.8 206.9h0M406.5 209.0h0M400.6 210.2h0M399.4 207.1h0M402.4 208.2h0M404.0 209.1h0M399.4 208.7h0M400.9 207.7h0M412.0 206.2h0M398.6 205.9h0M398.8 207.7h0M402.2 208.3h0M398.5 206.3h0M401.0 208.9h0M401.2 210.2h0M403.0 207.3h0M410.7 209.3h0M401.4 208.9h0M408.4 205.4h0M399.4 207.2h0M399.4 207.0h0M405.8 205.5h0M403.0 206.7h0M406.9 209.8h0M401.6 209.6h0M407.6 208.2h0M407.2 209.7h0M398.1 206.5h0M405.4 208.9h0M405.0 209.3h0M398.8 208.0h0M401.9 209.0h0M399.7 210.1h0M398.5 207.5h0M404.0 207.3h0M403.8 206.6h0M404.2 206.3h0M397.8 205.2h0M400.3 209.7h0M404.5 206.0h0M400.4 208.4h0M405.3 207.6h0M405.2 207.8h0M403.7 207.9h0M405.7 206.5h0M402.9 208.0h0M405.7 205.8h0M402.6 207.9h0M400.2 208.0h0M402.7 208.3h0M404.7 208.4h0M403.9 206.3h0M402.0 207.1h0M400.7 207.0h0M403.3 205.2h0M401.2 209.3h0M403.8 208.6h0M398.9 207.1h0" stroke="#000" stroke-opacity="0.25" stroke-width="0.7" stroke-linecap="square" fill="none"/>
<path d="M404.4 206.3h0M400.2 209.1h0M404.9 207.7h0M402.0 206.6h0M404.2 207.5h0M404.8 210.0h0M400.0 207.3h0M400.3 207.8h0M398.6 207.1h0M400.0 207.3h0M404.7 208.2h0M398.6 207.8h0M403.1 208.0h0M400.4 205.7h0M398.5 204.5h0M404.2 206.1h0M406.3 208.4h0M403.1 209.4h0M400.9 206.7h0M398.0 206.5h0M406.8 209.0h0M399.6 206.7h0M400.9 204.8h0M405.1 209.6h0M399.7 207.7h0M395.9 207.6h0M404.4 206.3h0M401.9 206.1h0M400.4 206.2h0M402.3 207.8h0M402.6 206.7h0M397.4 206.7h0M403.1 207.5h0M400.0 207.5h0M402.8 207.4h0M405.3 208.4h0M408.6 206.9h0M402.9 205.3h0M403.7 208.0h0M398.9 206.4h0M403.7 205.3h0M402.6 207.5h0M403.7 207.7h0M402.6 210.0h0M402.5 208.3h0M402.9 209.3h0M405.4 207.2h0M404.6 209.4h0M399.9 206.4h0M400.6 207.7h0M395.8 207.3h0M398.9 207.5h0M397.2 206.8h0M403.7 208.3h0M401.2 208.7h0M400.8 208.0h0M402.2 208.8h0M399.8 207.1h0M402.2 207.1h0M407.6 207.9h0M403.2 207.1h0M404.5 206.6h0M405.9 204.8h0M398.4 206.4h0M402.4 208.3h0M400.6 209.1h0M404.4 207.4h0" stroke="#000" stroke-opacity="0.25" stroke-width="0.7" stroke-linecap="square" fill="none"/>
<path d="M402.2 208.2h0M406.7 206.5h0M402.1 207.6h0M404.7 206.5h0M403.0 207.9h0M403.5 207.1h0M400.6 208.7h0M401.0 207.9h0M402.7 209.9h0M404.3 206.1h0M409.7 206.0h0M401.8 206.2h0M404.1 207.5h0M404.8 204.7h0M399.7 207.8h0M404.6 205.5h0M406.8 205.5h0M403.8 209.0h0M402.6 207.0h0M403.2 206.2h0M405.0 208.0h0M401.9 206.1h0M401.4 207.2h0M400.4 208.4h0M396.4 208.6h0M400.0 206.6h0M403.9 207.6h0M402.1 204.7h0M401.8 206.6h0M397.0 206.8h0M405.5 209.0h0M399.7 207.4h0M401.8 207.7h0M400.4 208.6h0M404.0 206.8h0M401.1 209.8h0M399.9 205.3h0M402.1 206.4h0M407.0 209.6h0M405.8 206.0h0M402.1 207.1h0M405.5 207.7h0M405.6 208.6h0M397.6 208.9h0M398.3 207.7h0M403.1 206.4h0M402.2 207.2h0M399.0 208.3h0M405.5 207.8h0M402.3 206.4h0M407.0 204.6h0M399.2 205.5h0M402.6 205.5h0M399.7 207.9h0M404.6 209.5h0M405.5 206.6h0M399.6 208.1h0M405.2 206.3h0M402.5 206.4h0M405.7 206.9h0M405.3 204.9h0M401.3 209.1h0M403.7 207.9h0M400.0 208.3h0M400.6 206.7h0M401.8 209.5h0" stroke="#000" stroke-opacity="0.25" stroke-width="0.7" stroke-linecap="square" fill="none"/>
<path d="M409.9 208.5h0M408.4 209.4h0M407.4 207.1h0M405.1 207.0h0M401.1 207.2h0M409.5 209.9h0M416.2 206.6h0M405.3 208.3h0M408.3 206.6h0M410.2 207.7h0M405.4 205.5h0M404.1 207.2h0M405.8 208.6h0M417.4 209.5h0M418.2 209.8h0M419.3 206.3h0M408.3 209.5h0M423.1 205.7h0M405.8 205.6h0M423.0 206.7h0M411.9 211.3h0M414.3 208.5h0M417.0 207.7h0M399.9 208.2h0M406.9 206.9h0M416.4 207.1h0M420.8 205.9h0M411.5 207.3h0M408.1 206.6h0M406.7 207.4h0M420.3 209.3h0M398.6 210.6h0M413.4 207.6h0M404.2 208.5h0M409.9 209.7h0M404.6 206.3h0M413.6 208.4h0M419.1 208.7h0M414.4 206.4h0M413.0 206.6h0" stroke="#000" stroke-opacity="0.12" stroke-width="0.7" stroke-linecap="square" fill="none"/>
<path d="M420.3 206.9h0M410.0 206.8h0M414.4 208.9h0M410.6 209.1h0M416.7 209.9h0M416.1 209.7h0M420.1 207.0h0M424.2 207.9h0M427.1 206.9h0M412.7 207.1h0M417.5 208.7h0M422.4 205.1h0M407.2 206.5h0M411.9 206.2h0M419.0 204.8h0M418.8 207.8h0M414.3 209.7h0M414.2 206.9h0M414.8 206.4h0M418.8 206.5h0M404.1 206.4h0M412.3 206.3h0M421.3 206.8h0M410.0 208.3h0M408.4 207.0h0M408.4 205.9h0M406.5 206.1h0M401.5 207.2h0M414.5 211.3h0M406.6 209.4h0M408.6 207.7h0M411.6 204.3h0M420.6 204.7h0M418.8 206.6h0M411.6 208.4h0M413.9 207.3h0M413.8 207.9h0M417.7 206.2h0M409.8 206.4h0M404.3 207.5h0" stroke="#000" stroke-opacity="0.12" stroke-width="0.7" stroke-linecap="square" fill="none"/>
<path d="M419.0 206.9h0M419.0 206.1h0M412.5 206.6h0M402.8 204.9h0M402.7 207.7h0M413.6 209.1h0M398.3 207.3h0M417.5 205.7h0M415.6 204.8h0M416.7 208.2h0M404.3 208.5h0M413.6 207.1h0M406.0 208.1h0M423.8 206.5h0M406.3 206.3h0M414.6 207.4h0M407.2 204.9h0M412.3 206.9h0M425.3 207.5h0M406.8 207.0h0M418.2 207.1h0M403.8 207.3h0M415.2 206.1h0M408.9 205.1h0M417.0 207.3h0M397.9 208.2h0M415.5 207.5h0M411.8 208.1h0M408.9 210.4h0M414.0 207.7h0M409.8 209.1h0M415.1 206.1h0M415.9 209.1h0M399.9 207.6h0M415.6 207.7h0M412.5 208.5h0M409.6 205.2h0M420.9 207.5h0M415.8 206.4h0M414.1 207.5h0" stroke="#000" stroke-opacity="0.12" stroke-width="0.7" stroke-linecap="square" fill="none"/>
<path d="M417.4 206.5h0M421.0 202.9h0M420.2 198.9h0M419.2 205.2h0M419.6 203.8h0M419.3 204.9h0M421.1 203.5h0M419.3 202.4h0M418.7 199.9h0M422.2 201.6h0M421.9 207.7h0M419.6 207.4h0M420.3 198.8h0M419.8 203.7h0M420.8 192.1h0M419.9 204.7h0M421.3 194.0h0" stroke="#000" stroke-opacity="0.15" stroke-width="0.7" stroke-linecap="square" fill="none"/>
<path d="M420.3 198.6h0M418.0 207.1h0M417.9 200.5h0M419.8 200.6h0M418.7 199.4h0M419.7 199.1h0M418.8 207.6h0M419.7 204.4h0M420.6 200.4h0M421.0 199.2h0M422.3 208.3h0M419.6 204.4h0M420.0 205.7h0M419.3 207.5h0M418.7 196.3h0M422.5 198.3h0M418.7 198.1h0" stroke="#000" stroke-opacity="0.15" stroke-width="0.7" stroke-linecap="square" fill="none"/>
<path d="M422.2 202.5h0M419.2 206.6h0M419.3 202.5h0M422.3 205.5h0M420.1 199.4h0M419.7 199.7h0M421.3 201.2h0M420.2 207.3h0M419.9 197.8h0M419.8 202.0h0M421.7 201.5h0M419.7 198.2h0M420.1 206.2h0M418.3 203.4h0M420.2 201.3h0M420.6 202.5h0" stroke="#000" stroke-opacity="0.15" stroke-width="0.7" stroke-linecap="square" fill="none"/>
<path d="M395.7 217.6h0M396.4 217.2h0M394.6 218.5h0M398.7 218.4h0M396.6 218.4h0M400.7 218.6h0M399.1 216.9h0M397.4 216.2h0M398.1 217.5h0M396.7 216.0h0M400.1 217.0h0M394.3 217.0h0M401.2 217.1h0M401.6 217.2h0M399.4 218.1h0M397.3 218.2h0M399.0 216.9h0M397.4 216.9h0M395.1 216.8h0M397.9 216.7h0M396.2 218.6h0M400.5 217.6h0M398.1 218.6h0M397.4 217.5h0M398.2 216.9h0M395.8 217.3h0M394.2 218.1h0M400.2 219.4h0M398.1 217.4h0M398.1 218.2h0M397.2 217.4h0M396.9 216.5h0M396.8 218.6h0M396.3 216.6h0M403.0 216.6h0M403.4 218.5h0M398.3 217.3h0M396.1 217.4h0M399.8 218.4h0M402.1 218.7h0" stroke="#000" stroke-opacity="0.3" stroke-width="0.7" stroke-linecap="square" fill="none"/>
<path d="M397.1 215.8h0M396.4 218.3h0M403.1 217.2h0M399.5 216.9h0M399.0 217.2h0M398.6 216.9h0M398.0 216.5h0M403.2 217.5h0M395.7 218.3h0M397.1 217.2h0M397.3 217.4h0M404.2 217.1h0M398.4 217.8h0M401.3 216.9h0M398.3 217.4h0M398.1 217.5h0M400.9 216.2h0M402.6 217.2h0M395.4 217.8h0M395.3 216.8h0M399.1 217.9h0M398.9 216.2h0M397.4 217.6h0M402.3 218.3h0M404.0 218.0h0M392.3 217.1h0M397.5 218.0h0M396.4 217.3h0M397.5 216.1h0M395.3 217.3h0M399.9 216.6h0M400.1 217.9h0M401.2 218.0h0M398.5 217.6h0M401.3 217.1h0M394.6 218.4h0M395.1 217.0h0M399.4 217.1h0M396.5 218.3h0M397.7 218.3h0" stroke="#000" stroke-opacity="0.3" stroke-width="0.7" stroke-linecap="square" fill="none"/>
<path d="M396.5 216.1h0M403.5 217.8h0M399.1 218.2h0M397.1 217.2h0M400.1 217.4h0M395.4 218.8h0M401.4 217.6h0M393.0 216.9h0M399.6 217.4h0M395.4 217.6h0M402.1 218.5h0M402.3 217.8h0M398.2 217.3h0M397.5 217.9h0M397.1 216.1h0M401.2 216.7h0M397.4 217.0h0M397.9 216.3h0M396.9 217.0h0M398.7 217.3h0M401.8 216.7h0M396.3 217.4h0M397.5 216.4h0M397.0 216.7h0M398.1 217.0h0M397.2 218.6h0M396.5 217.7h0M398.0 216.9h0M398.9 216.3h0M398.7 217.4h0M397.9 217.9h0M400.5 217.4h0M397.1 217.5h0M399.6 217.5h0M400.5 216.7h0M398.7 218.1h0M398.3 216.1h0M401.6 217.0h0M398.0 216.8h0M400.7 217.4h0" stroke="#000" stroke-opacity="0.3" stroke-width="0.7" stroke-linecap="square" fill="none"/>
<path d="M425.2 216.4h0M417.5 216.3h0M417.2 217.1h0M417.3 218.7h0M422.2 217.3h0M414.7 215.8h0M418.7 218.1h0M418.2 217.1h0M419.6 216.3h0M415.5 218.5h0M419.2 216.3h0M416.5 216.7h0M417.5 216.5h0M420.8 217.2h0M418.6 216.6h0M414.0 218.5h0M420.3 217.4h0M422.3 215.0h0M422.8 216.0h0M421.6 216.5h0M421.6 217.5h0M427.6 214.7h0M417.9 219.1h0M416.9 218.1h0M418.4 216.7h0M419.8 217.4h0M419.0 217.3h0M420.3 217.2h0M418.7 215.8h0M420.2 217.8h0M418.3 216.8h0M418.5 216.3h0M417.2 217.5h0M418.6 217.6h0M421.0 216.6h0M415.1 218.5h0M420.4 217.0h0M426.5 218.4h0M417.4 216.0h0M418.3 216.2h0M416.5 216.9h0M421.2 216.4h0M421.8 215.3h0M418.6 217.1h0M417.2 217.8h0M420.1 217.6h0M421.9 216.1h0M415.0 217.3h0M416.9 217.6h0M412.9 217.7h0" stroke="#000" stroke-opacity="0.3" stroke-width="0.7" stroke-linecap="square" fill="none"/>
<path d="M416.4 217.5h0M420.2 216.0h0M416.4 217.4h0M417.2 217.1h0M420.2 217.6h0M417.5 216.2h0M416.9 216.8h0M414.6 218.4h0M417.5 218.0h0M413.3 217.6h0M414.3 217.1h0M410.5 219.1h0M419.3 217.3h0M418.3 217.3h0M418.1 218.0h0M419.8 217.4h0M416.1 217.0h0M416.7 218.4h0M419.6 218.6h0M418.2 217.3h0M418.5 218.0h0M414.7 216.8h0M416.7 216.5h0M419.4 218.0h0M413.4 217.7h0M427.2 217.3h0M416.9 218.1h0M421.2 216.6h0M421.2 216.0h0M415.2 218.1h0M418.5 217.4h0M419.8 217.5h0M417.8 217.6h0M420.7 217.9h0M416.3 218.4h0M418.7 215.8h0M417.7 216.9h0M417.7 216.1h0M418.1 216.7h0M415.7 217.0h0M416.1 217.0h0M414.1 218.5h0M416.4 217.6h0M418.2 217.3h0M422.0 216.9h0M417.9 216.9h0M419.4 217.1h0M417.7 219.4h0M417.2 216.7h0M417.1 216.1h0" stroke="#000" stroke-opacity="0.3" stroke-width="0.7" stroke-linecap="square" fill="none"/>
<path d="M418.1 216.9h0M421.9 217.4h0M423.9 216.9h0M425.1 217.0h0M421.0 218.7h0M418.9 216.3h0M420.9 216.4h0M415.2 218.3h0M417.8 219.0h0M421.4 215.4h0M416.7 217.0h0M425.0 216.9h0M415.6 217.4h0M416.2 217.4h0M421.5 215.2h0M414.1 217.7h0M419.4 217.3h0M414.9 217.7h0M414.3 216.1h0M422.2 216.6h0M419.3 217.0h0M417.1 217.5h0M418.4 216.9h0M415.1 218.0h0M414.8 218.2h0M412.1 218.3h0M409.4 217.1h0M416.7 218.0h0M421.1 217.1h0M418.1 217.0h0M416.4 218.3h0M413.9 217.9h0M418.7 215.4h0M419.5 218.1h0M420.4 215.6h0M419.8 217.8h0M416.7 217.6h0M418.0 217.0h0M418.3 216.0h0M416.6 217.0h0M417.4 218.8h0M418.3 217.5h0M422.7 216.7h0M416.5 216.8h0M417.6 218.3h0M419.9 216.9h0M415.1 217.3h0M415.1 218.1h0M422.9 217.6h0M418.9 217.5h0" stroke="#000" stroke-opacity="0.3" stroke-width="0.7" stroke-linecap="square" fill="none"/>
<ellipse cx="398.8" cy="217.5" rx="2.6" ry="1.05" transform="rotate(0 398.8 217.5)" fill="#000" fill-opacity="0.88"/>
<path d="M414.3 217.8 Q419.3 216 423.3 215.7 Q424.3 217.4 422.3 218.7 Q418.3 218.7 414.3 217.8 Z" fill="#000" fill-opacity="0.9"/>
<rect x="389.3" y="189.4" width="40.3" height="36.7" fill="none" stroke="#888" stroke-width="0.6"/>
<line x1="388.3" y1="223.04" x2="389.3" y2="223.04" stroke="#000" stroke-width="0.5"/>
<line x1="388.3" y1="216.93" x2="389.3" y2="216.93" stroke="#000" stroke-width="0.5"/>
<line x1="388.3" y1="210.81" x2="389.3" y2="210.81" stroke="#000" stroke-width="0.5"/>
<line x1="388.3" y1="204.69" x2="389.3" y2="204.69" stroke="#000" stroke-width="0.5"/>
<line x1="388.3" y1="198.57" x2="389.3" y2="198.57" stroke="#000" stroke-width="0.5"/>
<line x1="388.3" y1="192.46" x2="389.3" y2="192.46" stroke="#000" stroke-width="0.5"/>
<line x1="392.66" y1="226.1" x2="392.66" y2="227.1" stroke="#000" stroke-width="0.5"/>
<line x1="399.38" y1="226.1" x2="399.38" y2="227.1" stroke="#000" stroke-width="0.5"/>
<line x1="406.09" y1="226.1" x2="406.09" y2="227.1" stroke="#000" stroke-width="0.5"/>
<line x1="412.81" y1="226.1" x2="412.81" y2="227.1" stroke="#000" stroke-width="0.5"/>
<line x1="419.53" y1="226.1" x2="419.53" y2="227.1" stroke="#000" stroke-width="0.5"/>
<line x1="426.24" y1="226.1" x2="426.24" y2="227.1" stroke="#000" stroke-width="0.5"/>
<line x1="410.2" y1="189.4" x2="410.2" y2="226.1" stroke="#666" stroke-width="0.55"/>
<line x1="389.3" y1="212" x2="429.6" y2="212" stroke="#666" stroke-width="0.55"/>
<text x="394.3" y="194.4" font-size="3.6" text-anchor="middle" font-weight="normal" font-style="normal" fill="#000" stroke="#000" stroke-width="0.12" >8,97</text>
<text x="421.7" y="194.4" font-size="3.6" text-anchor="middle" font-weight="normal" font-style="normal" fill="#000" stroke="#000" stroke-width="0.12" >3,66</text>
<text x="394.3" y="223.6" font-size="3.6" text-anchor="middle" font-weight="normal" font-style="normal" fill="#000" stroke="#000" stroke-width="0.12" >17,8</text>
<text x="421.7" y="223.6" font-size="3.6" text-anchor="middle" font-weight="normal" font-style="normal" fill="#000" stroke="#000" stroke-width="0.12" >68,3</text>
<path d="M443.5 210.5h0M437.1 207.5h0M445.4 201.3h0M444.6 209.2h0M440.2 210.7h0M444.6 204.3h0M443.8 209.6h0M443.5 203.7h0M444.4 208.7h0M434.1 209.3h0M448.1 210.1h0M446.6 202.6h0M440.2 203.3h0M444.1 205.2h0M443.1 206.7h0M443.1 210.6h0M442.8 206.6h0M443.7 216.3h0M443.2 214.1h0M444.4 204.3h0M444.8 205.4h0M441.8 210.6h0M441.5 208.1h0M445.5 208.9h0M440.5 203.0h0M444.1 208.0h0M442.4 208.1h0M443.2 203.0h0M443.2 204.3h0M443.7 209.7h0M442.7 216.0h0M443.9 210.8h0M443.5 202.4h0M443.2 207.0h0M444.5 205.3h0M442.2 208.8h0M442.3 204.4h0M442.4 209.4h0M445.7 215.5h0M447.0 210.6h0M443.5 200.9h0M443.6 211.6h0M441.6 203.4h0M444.6 209.3h0M445.6 207.8h0M443.9 208.9h0M445.0 209.1h0M443.1 204.1h0M446.4 217.4h0M443.8 208.7h0M440.3 202.7h0M443.5 202.2h0M443.7 209.8h0M446.7 208.5h0M442.8 205.2h0M438.0 210.0h0M441.4 217.5h0M441.4 205.7h0M445.9 204.4h0M442.8 212.8h0M444.8 212.8h0M447.3 211.2h0M442.9 210.4h0M444.1 211.1h0M443.7 208.4h0M443.6 210.8h0M441.7 205.6h0M444.9 210.1h0M442.3 204.6h0M443.7 205.2h0M443.8 210.3h0M439.9 211.6h0M442.6 202.3h0M449.3 208.4h0M446.0 205.8h0M443.6 205.6h0M444.7 205.2h0M442.6 208.0h0M444.0 201.1h0M442.9 212.6h0M441.3 209.3h0M445.0 209.9h0M444.0 204.7h0M445.8 207.5h0" stroke="#000" stroke-opacity="0.15" stroke-width="0.7" stroke-linecap="square" fill="none"/>
<path d="M447.3 206.4h0M446.4 210.0h0M445.2 207.7h0M441.4 207.0h0M442.8 206.2h0M443.6 210.5h0M444.9 200.2h0M444.0 217.3h0M443.4 201.8h0M445.1 204.5h0M448.4 210.1h0M442.1 206.7h0M447.2 208.9h0M445.9 212.4h0M445.6 208.1h0M446.8 202.9h0M443.2 207.2h0M444.2 216.0h0M443.9 215.8h0M446.7 207.8h0M440.6 201.2h0M440.5 201.4h0M443.4 213.4h0M445.2 216.7h0M443.7 209.1h0M444.9 210.5h0M443.1 205.9h0M447.1 216.1h0M441.2 200.8h0M442.3 206.1h0M441.5 205.7h0M442.7 215.4h0M440.3 208.9h0M442.3 206.6h0M444.6 212.9h0M440.6 203.7h0M444.3 213.0h0M445.7 209.4h0M439.2 210.8h0M447.8 204.8h0M442.7 213.3h0M443.1 202.7h0M445.9 201.1h0M440.1 213.0h0M439.4 196.6h0M441.6 210.1h0M442.9 209.8h0M446.6 209.3h0M441.5 215.5h0M443.3 209.7h0M444.0 208.9h0M444.3 216.3h0M444.7 207.8h0M442.2 205.7h0M444.0 206.2h0M442.9 214.4h0M444.0 213.7h0M442.7 204.5h0M442.1 208.2h0M443.6 207.9h0M439.8 210.0h0M441.0 203.8h0M440.5 209.0h0M444.2 205.3h0M443.3 199.4h0M442.4 207.5h0M442.6 205.8h0M445.5 210.4h0M442.0 206.6h0M442.4 207.3h0M441.7 214.4h0M443.6 209.0h0M446.1 203.2h0M446.5 206.3h0M445.5 210.8h0M443.6 210.1h0M444.5 204.5h0M444.1 200.5h0M445.1 208.2h0M438.7 206.5h0M444.0 215.5h0M443.6 203.2h0M440.9 203.3h0" stroke="#000" stroke-opacity="0.15" stroke-width="0.7" stroke-linecap="square" fill="none"/>
<path d="M446.1 218.1h0M442.1 214.8h0M443.9 203.3h0M446.5 215.3h0M444.0 215.2h0M445.9 208.2h0M446.5 210.0h0M442.2 201.3h0M444.4 211.4h0M438.8 208.9h0M443.0 205.1h0M444.1 208.8h0M443.5 207.0h0M443.5 212.7h0M441.7 215.7h0M442.8 212.9h0M442.8 210.4h0M443.8 216.4h0M441.8 206.5h0M444.7 213.2h0M441.5 205.3h0M443.9 216.6h0M445.4 206.6h0M438.7 202.3h0M447.3 214.9h0M442.4 211.6h0M442.1 208.8h0M447.0 213.7h0M442.7 200.8h0M443.3 211.0h0M442.4 207.6h0M439.4 209.6h0M445.9 210.1h0M444.7 213.1h0M439.4 209.7h0M443.1 205.9h0M441.3 209.4h0M443.1 203.7h0M443.0 202.7h0M442.3 201.7h0M444.5 212.5h0M444.4 208.0h0M441.5 209.8h0M443.1 201.8h0M443.0 205.5h0M443.8 203.6h0M441.6 204.8h0M444.9 216.1h0M442.5 207.4h0M446.6 198.8h0M444.2 216.7h0M447.6 208.1h0M442.4 215.2h0M441.0 203.0h0M441.4 206.7h0M442.4 207.7h0M442.7 211.0h0M444.9 212.0h0M444.8 202.8h0M441.0 206.9h0M442.6 204.2h0M443.7 201.8h0M444.2 205.3h0M445.1 206.7h0M445.5 210.3h0M444.4 198.8h0M441.6 209.2h0M446.4 215.1h0M444.8 210.4h0M443.8 195.0h0M444.9 211.2h0M438.4 201.4h0M444.9 209.7h0M440.8 209.7h0M443.3 209.1h0M441.7 196.8h0M444.1 207.2h0M446.0 212.7h0M446.8 206.2h0M442.9 198.1h0M445.4 202.4h0M447.3 216.0h0M445.2 200.8h0" stroke="#000" stroke-opacity="0.15" stroke-width="0.7" stroke-linecap="square" fill="none"/>
<path d="M452.0 208.8h0M450.9 207.4h0M455.8 206.6h0M442.9 204.8h0M453.2 205.7h0M444.4 205.9h0M447.6 208.2h0M450.1 207.5h0M450.2 209.0h0M457.4 205.8h0M456.7 209.1h0M452.0 204.8h0M449.3 206.0h0M460.8 203.0h0M453.5 204.0h0M453.5 207.7h0M450.2 205.9h0M445.0 208.9h0M446.5 208.3h0M450.2 205.2h0M450.9 208.6h0M452.3 206.7h0M450.2 208.9h0M458.5 207.2h0M441.9 212.9h0M446.1 205.7h0M444.5 206.2h0" stroke="#000" stroke-opacity="0.12" stroke-width="0.7" stroke-linecap="square" fill="none"/>
<path d="M462.0 208.8h0M450.8 205.4h0M444.6 208.6h0M452.9 211.8h0M455.7 206.1h0M445.8 206.6h0M447.5 209.6h0M445.4 205.1h0M449.3 208.5h0M444.8 207.7h0M445.6 207.0h0M441.9 210.2h0M460.9 208.3h0M454.2 207.7h0M451.6 207.1h0M453.6 208.2h0M455.0 207.3h0M450.4 207.3h0M442.9 208.0h0M455.8 205.2h0M451.4 212.0h0M450.1 206.2h0M448.9 207.2h0M454.8 204.6h0M455.4 210.8h0M454.6 205.4h0M457.2 212.4h0" stroke="#000" stroke-opacity="0.12" stroke-width="0.7" stroke-linecap="square" fill="none"/>
<path d="M449.4 208.1h0M451.8 204.7h0M453.6 207.6h0M451.6 207.9h0M450.5 205.8h0M457.9 207.9h0M454.2 206.7h0M449.7 205.6h0M459.0 206.5h0M449.6 204.5h0M450.0 205.0h0M447.3 205.9h0M454.5 209.1h0M450.8 209.7h0M455.9 203.3h0M440.2 208.8h0M458.5 209.5h0M449.7 209.4h0M444.2 204.9h0M458.3 209.0h0M452.9 206.2h0M447.8 209.1h0M448.1 209.9h0M444.2 208.9h0M450.0 204.8h0M446.5 210.5h0" stroke="#000" stroke-opacity="0.12" stroke-width="0.7" stroke-linecap="square" fill="none"/>
<path d="M458.4 192.5h0M459.3 208.7h0M462.9 217.4h0M462.4 201.0h0M462.7 206.4h0M466.8 205.5h0M459.3 210.8h0M466.7 202.3h0M463.9 206.4h0M463.9 213.6h0M463.8 217.9h0M465.8 208.8h0M461.2 204.9h0M463.8 197.5h0M465.5 205.6h0M463.4 209.9h0M463.6 203.0h0M464.9 206.9h0M466.0 202.9h0M464.2 207.4h0" stroke="#000" stroke-opacity="0.12" stroke-width="0.7" stroke-linecap="square" fill="none"/>
<path d="M460.7 205.5h0M461.2 201.2h0M461.7 207.6h0M460.5 201.8h0M459.8 203.5h0M463.5 203.2h0M468.1 207.7h0M464.3 205.5h0M462.2 198.4h0M462.6 210.1h0M460.0 198.6h0M464.6 200.8h0M465.7 204.6h0M462.9 205.0h0M461.0 209.1h0M460.6 204.0h0M461.7 201.4h0M464.1 211.1h0M463.0 194.0h0M465.0 202.0h0" stroke="#000" stroke-opacity="0.12" stroke-width="0.7" stroke-linecap="square" fill="none"/>
<path d="M462.3 201.7h0M462.5 211.7h0M457.1 201.3h0M460.0 201.8h0M460.5 209.1h0M463.7 203.5h0M462.5 207.0h0M457.1 202.8h0M463.2 205.5h0M463.8 218.5h0M463.8 204.0h0M462.5 209.0h0M463.2 211.0h0M463.5 216.4h0M463.1 211.5h0M462.8 200.8h0M462.4 196.7h0M463.3 203.3h0M461.2 204.7h0M461.2 205.8h0" stroke="#000" stroke-opacity="0.12" stroke-width="0.7" stroke-linecap="square" fill="none"/>
<path d="M439.6 217.1h0M439.8 218.0h0M442.4 216.9h0M439.0 217.7h0M437.3 217.6h0M444.2 218.3h0M444.2 216.9h0M439.8 216.2h0M445.5 218.0h0M436.8 218.4h0M436.2 216.8h0M441.0 217.6h0M441.4 218.9h0M440.8 218.5h0M441.6 218.1h0M442.1 217.2h0M448.4 218.1h0M439.0 218.2h0M439.9 217.8h0M441.6 217.9h0M439.4 217.7h0M442.8 217.5h0M439.8 217.6h0M443.9 217.4h0M439.1 217.8h0M449.8 216.3h0M442.5 217.4h0M439.3 217.5h0M445.3 216.5h0M437.3 218.5h0M436.0 216.5h0M442.2 216.5h0M438.9 216.8h0M440.5 218.3h0M440.9 216.7h0M446.0 216.5h0M439.5 217.9h0M441.6 216.9h0M441.8 217.0h0M442.0 218.4h0" stroke="#000" stroke-opacity="0.3" stroke-width="0.7" stroke-linecap="square" fill="none"/>
<path d="M441.7 215.8h0M440.3 216.6h0M439.6 217.2h0M443.3 217.8h0M441.7 218.0h0M439.0 217.2h0M441.6 217.6h0M442.2 217.5h0M441.5 217.1h0M440.2 215.7h0M440.0 218.7h0M443.8 218.5h0M440.2 218.3h0M440.3 217.5h0M445.5 218.1h0M438.8 216.7h0M440.1 216.8h0M441.3 218.0h0M442.0 217.6h0M438.7 216.1h0M444.7 217.2h0M437.1 218.0h0M441.3 217.6h0M440.6 218.0h0M449.7 217.3h0M440.1 215.9h0M445.2 218.5h0M443.6 215.2h0M439.6 216.6h0M442.8 216.8h0M438.4 216.8h0M444.6 218.4h0M439.6 216.9h0M441.2 217.0h0M441.1 217.7h0M443.1 217.4h0M437.2 217.5h0M446.1 216.0h0M437.5 218.0h0M443.8 218.0h0" stroke="#000" stroke-opacity="0.3" stroke-width="0.7" stroke-linecap="square" fill="none"/>
<path d="M437.7 217.8h0M443.0 217.2h0M439.6 217.3h0M438.4 218.4h0M439.8 217.0h0M439.6 215.3h0M438.3 218.1h0M440.1 217.4h0M445.8 217.1h0M438.1 216.3h0M441.2 216.9h0M436.7 216.2h0M440.1 217.0h0M442.2 218.1h0M440.5 217.3h0M440.1 215.8h0M444.4 216.3h0M441.7 217.4h0M440.4 218.4h0M443.2 216.9h0M440.8 217.8h0M439.6 219.1h0M447.5 217.2h0M442.3 217.3h0M443.0 217.0h0M443.1 217.6h0M444.3 215.3h0M445.3 217.7h0M440.0 216.8h0M436.5 218.4h0M442.6 218.1h0M443.3 219.3h0M443.0 217.6h0M439.9 216.4h0M442.5 217.0h0M442.1 216.9h0M437.9 215.9h0M441.7 217.5h0M443.2 217.7h0M439.9 218.2h0" stroke="#000" stroke-opacity="0.3" stroke-width="0.7" stroke-linecap="square" fill="none"/>
<path d="M458.6 217.8h0M464.4 216.5h0M461.2 216.3h0M462.5 218.1h0M465.1 218.3h0M461.0 216.0h0M455.9 218.5h0M463.4 217.9h0M462.7 216.9h0M459.9 216.7h0M456.1 215.8h0M457.9 217.4h0M463.0 217.2h0M457.0 217.7h0M464.2 216.4h0M462.8 216.9h0M462.6 217.5h0M458.1 217.8h0M462.5 217.2h0M462.7 218.6h0M459.5 216.5h0M462.5 217.0h0M459.9 217.1h0M458.7 216.9h0M464.6 218.0h0M461.1 217.9h0M465.5 217.8h0M456.9 217.7h0M468.5 217.2h0M457.7 217.0h0M469.0 217.5h0M461.0 216.9h0M461.9 216.8h0M461.0 218.8h0M463.5 216.5h0M459.1 217.3h0M462.2 216.8h0M464.0 215.8h0M460.2 216.2h0M464.9 217.3h0M454.0 217.4h0M459.1 216.5h0M454.7 219.7h0M463.9 215.1h0M464.1 215.9h0M459.5 216.8h0M461.2 217.2h0M461.0 218.0h0M464.7 216.5h0M456.3 216.5h0" stroke="#000" stroke-opacity="0.3" stroke-width="0.7" stroke-linecap="square" fill="none"/>
<path d="M458.2 217.4h0M466.7 216.5h0M460.2 218.9h0M460.1 216.6h0M460.9 216.6h0M463.6 216.8h0M461.7 217.4h0M454.9 218.0h0M460.2 218.3h0M459.8 218.5h0M459.0 216.4h0M460.5 219.4h0M461.2 216.5h0M457.1 216.3h0M456.5 217.0h0M464.6 216.3h0M457.9 218.3h0M459.8 216.8h0M463.0 217.0h0M467.4 217.3h0M463.3 217.4h0M459.5 218.0h0M458.9 218.0h0M461.3 216.9h0M464.8 217.6h0M459.6 217.9h0M460.2 218.4h0M457.6 217.6h0M464.8 217.2h0M464.0 216.6h0M461.4 218.7h0M466.1 217.3h0M462.6 215.7h0M460.4 216.5h0M463.3 217.1h0M465.2 217.8h0M460.4 216.1h0M460.4 217.4h0M460.2 217.7h0M463.3 217.0h0M466.2 217.5h0M460.5 217.9h0M457.7 217.6h0M458.6 217.0h0M465.0 217.5h0M459.2 216.8h0M465.4 218.4h0M463.6 217.1h0M462.6 215.6h0M462.0 215.6h0" stroke="#000" stroke-opacity="0.3" stroke-width="0.7" stroke-linecap="square" fill="none"/>
<path d="M463.9 216.7h0M469.8 216.9h0M457.3 216.4h0M460.7 217.1h0M457.4 216.2h0M459.3 218.6h0M461.2 216.3h0M461.0 217.0h0M458.2 217.2h0M458.9 219.5h0M465.3 217.1h0M461.8 217.4h0M461.6 217.3h0M461.1 217.6h0M460.4 217.2h0M462.8 217.5h0M459.6 217.2h0M463.4 216.3h0M457.4 217.7h0M464.3 214.8h0M463.1 217.5h0M461.5 218.0h0M458.5 215.6h0M465.5 217.0h0M459.9 217.7h0M459.9 218.0h0M455.9 217.9h0M459.3 218.5h0M461.2 217.1h0M462.6 216.4h0M463.2 217.9h0M464.3 217.7h0M461.9 218.1h0M463.4 216.9h0M462.4 217.9h0M463.8 216.1h0M455.0 218.7h0M459.7 217.8h0M458.6 218.1h0M463.2 216.4h0M458.1 217.4h0M461.6 217.0h0M464.0 217.1h0M457.0 216.4h0M460.2 216.2h0M461.5 217.0h0M461.4 217.1h0M461.0 217.7h0M459.3 217.8h0M460.5 219.0h0" stroke="#000" stroke-opacity="0.3" stroke-width="0.7" stroke-linecap="square" fill="none"/>
<ellipse cx="441.9" cy="217.5" rx="2.6" ry="1.05" transform="rotate(0 441.9 217.5)" fill="#000" fill-opacity="0.88"/>
<path d="M457.4 217.8 Q462.4 216 466.4 215.7 Q467.4 217.4 465.4 218.7 Q461.4 218.7 457.4 217.8 Z" fill="#000" fill-opacity="0.9"/>
<rect x="432.4" y="189.4" width="39.9" height="36.7" fill="none" stroke="#888" stroke-width="0.6"/>
<line x1="431.4" y1="223.04" x2="432.4" y2="223.04" stroke="#000" stroke-width="0.5"/>
<line x1="431.4" y1="216.93" x2="432.4" y2="216.93" stroke="#000" stroke-width="0.5"/>
<line x1="431.4" y1="210.81" x2="432.4" y2="210.81" stroke="#000" stroke-width="0.5"/>
<line x1="431.4" y1="204.69" x2="432.4" y2="204.69" stroke="#000" stroke-width="0.5"/>
<line x1="431.4" y1="198.57" x2="432.4" y2="198.57" stroke="#000" stroke-width="0.5"/>
<line x1="431.4" y1="192.46" x2="432.4" y2="192.46" stroke="#000" stroke-width="0.5"/>
<line x1="435.72" y1="226.1" x2="435.72" y2="227.1" stroke="#000" stroke-width="0.5"/>
<line x1="442.38" y1="226.1" x2="442.38" y2="227.1" stroke="#000" stroke-width="0.5"/>
<line x1="449.02" y1="226.1" x2="449.02" y2="227.1" stroke="#000" stroke-width="0.5"/>
<line x1="455.68" y1="226.1" x2="455.68" y2="227.1" stroke="#000" stroke-width="0.5"/>
<line x1="462.32" y1="226.1" x2="462.32" y2="227.1" stroke="#000" stroke-width="0.5"/>
<line x1="468.98" y1="226.1" x2="468.98" y2="227.1" stroke="#000" stroke-width="0.5"/>
<line x1="453.3" y1="189.4" x2="453.3" y2="226.1" stroke="#666" stroke-width="0.55"/>
<line x1="432.4" y1="212" x2="472.3" y2="212" stroke="#666" stroke-width="0.55"/>
<text x="437.4" y="194.4" font-size="3.6" text-anchor="middle" font-weight="normal" font-style="normal" fill="#000" stroke="#000" stroke-width="0.12" >11,0</text>
<text x="464.8" y="194.4" font-size="3.6" text-anchor="middle" font-weight="normal" font-style="normal" fill="#000" stroke="#000" stroke-width="0.12" >2,76</text>
<text x="437.4" y="223.6" font-size="3.6" text-anchor="middle" font-weight="normal" font-style="normal" fill="#000" stroke="#000" stroke-width="0.12" >12,2</text>
<text x="464.8" y="223.6" font-size="3.6" text-anchor="middle" font-weight="normal" font-style="normal" fill="#000" stroke="#000" stroke-width="0.12" >74,0</text>
<path d="M491.8 209.0h0M494.1 208.6h0M489.1 208.0h0M494.0 207.9h0M488.5 206.5h0M487.1 206.8h0M493.0 206.9h0M489.0 206.4h0M492.1 205.6h0M491.8 206.9h0M490.4 207.0h0M494.1 205.5h0M492.8 207.6h0M493.5 206.9h0M482.1 206.9h0M487.5 205.5h0M487.9 206.4h0M488.2 203.1h0M491.6 206.1h0M486.1 209.2h0M489.6 209.3h0M493.6 206.3h0M488.6 204.7h0M494.5 206.3h0M491.5 208.5h0M494.9 207.7h0M494.0 206.8h0M495.2 207.6h0M490.2 204.6h0M493.8 205.0h0M490.3 207.2h0M485.3 208.0h0M492.1 209.3h0M489.1 206.6h0M495.7 205.0h0M490.3 204.2h0M493.6 206.5h0M489.6 207.9h0M498.6 205.4h0M486.2 207.1h0M491.0 208.6h0M490.7 206.8h0M496.9 207.2h0M490.0 207.0h0M494.3 208.0h0M486.0 207.8h0M484.4 206.0h0M492.3 208.5h0M491.2 207.2h0M491.3 208.0h0M489.7 207.4h0M493.2 209.0h0M491.2 208.1h0M490.0 208.0h0M497.4 208.1h0M490.9 207.8h0M492.8 206.6h0M494.8 207.7h0M483.5 205.3h0M488.7 206.9h0M493.4 204.8h0M489.5 205.8h0M491.8 205.4h0M494.6 205.0h0M488.6 207.5h0M494.0 206.8h0M487.4 209.8h0" stroke="#000" stroke-opacity="0.25" stroke-width="0.7" stroke-linecap="square" fill="none"/>
<path d="M495.5 205.7h0M493.1 207.1h0M494.8 204.8h0M496.4 208.2h0M492.9 208.0h0M499.9 206.6h0M484.8 205.8h0M487.5 206.0h0M487.2 208.1h0M483.4 207.9h0M490.1 204.4h0M489.9 206.8h0M487.3 208.8h0M487.7 207.4h0M483.0 206.8h0M484.4 206.2h0M492.6 207.1h0M492.7 207.1h0M491.8 206.4h0M491.6 206.2h0M492.3 206.5h0M494.4 206.7h0M490.4 207.9h0M490.9 206.6h0M492.1 207.1h0M491.3 206.6h0M491.2 208.4h0M486.2 206.7h0M488.8 209.1h0M490.3 208.4h0M493.1 206.6h0M496.4 207.8h0M495.4 205.9h0M492.9 206.5h0M491.4 207.7h0M492.3 206.1h0M492.9 210.8h0M488.7 207.6h0M489.3 208.0h0M494.4 206.9h0M495.5 206.4h0M494.3 205.2h0M494.2 204.7h0M489.6 206.7h0M495.2 206.6h0M492.5 206.9h0M490.2 203.4h0M495.5 206.4h0M488.3 207.1h0M490.3 206.4h0M486.4 206.8h0M491.5 207.6h0M491.6 206.3h0M486.7 207.8h0M489.4 206.3h0M489.7 203.2h0M490.1 205.6h0M492.3 206.1h0M490.4 207.9h0M489.4 205.7h0M490.6 205.5h0M492.8 208.0h0M495.5 206.8h0M488.7 206.0h0M490.8 206.9h0M488.2 208.9h0M491.2 208.2h0" stroke="#000" stroke-opacity="0.25" stroke-width="0.7" stroke-linecap="square" fill="none"/>
<path d="M490.2 207.2h0M487.7 208.1h0M496.8 206.5h0M495.7 207.8h0M491.3 205.8h0M489.4 207.5h0M489.0 207.5h0M497.5 207.8h0M490.8 207.5h0M496.1 206.8h0M489.8 206.7h0M492.3 209.3h0M485.7 208.5h0M489.5 208.5h0M490.0 207.8h0M491.4 206.4h0M485.0 206.1h0M487.7 207.4h0M488.8 208.1h0M492.1 205.5h0M490.4 207.9h0M490.7 207.7h0M490.0 207.9h0M492.8 207.4h0M488.7 206.8h0M488.1 205.8h0M489.7 206.1h0M488.6 206.1h0M490.3 206.1h0M491.0 207.2h0M491.3 207.1h0M491.7 206.3h0M495.5 205.9h0M494.0 207.2h0M495.6 204.1h0M492.0 208.1h0M489.6 207.5h0M486.7 207.1h0M487.8 203.8h0M491.3 208.2h0M494.9 207.7h0M486.3 208.3h0M487.1 206.1h0M490.5 207.6h0M489.7 204.4h0M490.1 205.2h0M495.0 205.9h0M493.9 208.0h0M489.0 206.5h0M489.7 210.4h0M487.4 206.0h0M491.5 206.2h0M489.5 207.4h0M488.5 206.7h0M493.7 208.0h0M494.3 206.1h0M493.3 207.9h0M491.1 207.3h0M495.2 209.0h0M489.9 206.9h0M495.2 209.0h0M488.0 206.2h0M491.1 205.2h0M490.5 204.9h0M493.9 207.3h0M485.8 204.9h0" stroke="#000" stroke-opacity="0.25" stroke-width="0.7" stroke-linecap="square" fill="none"/>
<path d="M491.1 205.1h0M502.7 206.9h0M495.6 207.2h0M510.0 210.2h0M508.3 201.6h0M500.5 204.3h0M515.9 207.5h0M509.8 206.8h0M503.5 203.9h0M506.1 208.3h0M517.1 206.0h0M501.7 206.8h0M492.5 207.3h0M505.3 204.9h0M496.8 208.3h0M489.3 208.3h0M493.5 207.2h0M502.8 205.6h0M499.2 208.7h0M509.4 204.4h0M501.6 206.0h0M490.9 205.8h0M499.8 207.6h0M496.1 207.1h0M504.6 207.2h0M506.1 207.4h0M495.9 205.8h0M496.7 207.9h0M515.5 206.3h0M501.0 208.0h0M493.0 208.7h0M506.0 207.8h0M494.8 208.2h0M513.7 204.8h0M502.3 207.2h0M499.6 209.5h0M499.6 205.5h0M510.0 206.9h0M502.0 205.9h0M493.4 205.5h0" stroke="#000" stroke-opacity="0.12" stroke-width="0.7" stroke-linecap="square" fill="none"/>
<path d="M504.3 206.1h0M503.6 206.4h0M508.4 206.5h0M515.3 206.3h0M502.5 208.6h0M508.9 206.4h0M505.2 206.6h0M487.0 205.6h0M498.2 205.5h0M498.8 209.3h0M504.9 206.6h0M507.2 204.8h0M499.0 205.5h0M508.6 207.7h0M499.5 205.6h0M503.8 205.2h0M512.6 205.0h0M496.5 209.1h0M506.9 206.7h0M499.1 205.9h0M482.0 208.5h0M498.7 206.0h0M499.1 205.9h0M495.6 207.4h0M501.9 207.1h0M495.4 207.6h0M501.0 207.7h0M508.8 205.6h0M500.7 207.8h0M499.7 205.7h0M496.8 208.4h0M510.7 206.2h0M510.8 206.7h0M509.3 209.8h0M510.6 204.3h0M494.5 206.0h0M496.4 206.5h0M497.6 206.5h0M510.5 203.0h0M493.2 203.2h0" stroke="#000" stroke-opacity="0.12" stroke-width="0.7" stroke-linecap="square" fill="none"/>
<path d="M502.9 207.7h0M504.3 208.2h0M501.5 209.6h0M497.3 206.3h0M502.5 207.3h0M505.5 206.8h0M496.5 207.4h0M515.8 205.9h0M507.8 207.7h0M500.5 208.2h0M503.1 207.2h0M497.0 206.0h0M492.6 205.4h0M504.2 204.2h0M497.1 207.3h0M506.4 202.7h0M492.2 206.7h0M495.5 204.3h0M493.0 206.6h0M514.2 206.3h0M488.7 205.9h0M512.1 204.9h0M515.6 207.9h0M491.9 207.9h0M495.8 206.8h0M493.5 205.6h0M509.4 207.4h0M493.5 206.5h0M493.6 205.1h0M490.1 209.1h0M513.9 205.4h0M510.5 206.9h0M501.0 207.9h0M495.7 207.6h0M498.3 204.6h0M497.6 207.3h0M493.2 203.1h0M507.0 205.4h0M491.9 208.8h0" stroke="#000" stroke-opacity="0.12" stroke-width="0.7" stroke-linecap="square" fill="none"/>
<path d="M508.7 204.4h0M508.6 197.9h0M509.7 201.0h0M508.8 199.1h0M509.1 209.5h0M507.8 203.8h0M507.2 203.4h0M509.0 204.9h0M509.3 206.1h0M509.8 206.7h0M509.3 201.2h0M508.2 204.0h0M508.6 205.1h0M509.0 205.8h0M508.9 201.0h0M508.5 196.7h0M508.8 206.1h0" stroke="#000" stroke-opacity="0.15" stroke-width="0.7" stroke-linecap="square" fill="none"/>
<path d="M509.1 196.7h0M509.7 200.5h0M508.7 204.2h0M508.8 198.7h0M507.5 206.3h0M508.4 200.5h0M510.7 202.4h0M508.1 201.9h0M507.6 201.3h0M508.2 202.8h0M509.0 200.0h0M511.5 200.0h0M506.6 207.4h0M510.0 204.7h0M508.0 196.8h0M507.5 200.2h0M509.3 203.1h0" stroke="#000" stroke-opacity="0.15" stroke-width="0.7" stroke-linecap="square" fill="none"/>
<path d="M508.3 208.3h0M506.9 198.2h0M508.0 195.6h0M508.0 196.0h0M509.5 199.1h0M508.3 209.4h0M511.0 201.7h0M509.4 199.0h0M509.2 198.9h0M508.2 201.3h0M510.0 205.5h0M510.2 212.6h0M509.5 205.2h0M508.6 201.2h0M508.7 198.2h0M508.6 210.6h0" stroke="#000" stroke-opacity="0.15" stroke-width="0.7" stroke-linecap="square" fill="none"/>
<path d="M486.2 217.3h0M483.1 216.1h0M488.8 215.5h0M487.6 216.5h0M485.9 217.6h0M488.8 215.1h0M489.2 215.4h0M488.6 215.3h0M482.5 216.7h0M484.9 216.1h0M489.7 216.4h0M487.9 217.6h0M486.6 216.8h0M489.1 217.0h0M489.2 217.7h0M487.8 216.4h0M484.9 216.7h0M483.3 215.8h0M485.9 217.3h0M482.9 216.3h0M481.7 217.9h0M490.3 215.6h0M484.4 217.6h0M489.9 217.1h0M486.5 216.0h0M484.0 216.6h0M489.3 218.0h0M485.8 217.4h0M484.6 218.3h0M483.8 217.5h0M491.4 217.1h0M488.6 216.2h0M485.2 217.8h0M488.4 215.8h0M487.3 216.7h0M485.9 217.1h0M485.7 217.0h0M487.4 216.4h0M493.6 217.3h0M489.7 217.0h0" stroke="#000" stroke-opacity="0.3" stroke-width="0.7" stroke-linecap="square" fill="none"/>
<path d="M488.2 215.6h0M488.6 217.5h0M484.3 217.0h0M485.2 215.6h0M486.6 216.0h0M483.5 217.2h0M482.8 215.7h0M490.9 216.4h0M484.8 218.0h0M487.2 216.8h0M485.6 216.3h0M486.1 216.5h0M486.1 217.4h0M489.8 217.1h0M484.7 216.7h0M485.2 217.7h0M485.2 216.8h0M486.5 217.2h0M482.4 215.9h0M484.7 218.0h0M490.6 215.8h0M484.3 215.4h0M487.2 216.0h0M490.0 216.7h0M483.8 216.3h0M483.4 216.6h0M486.2 215.6h0M491.6 217.0h0M483.9 215.9h0M489.7 215.4h0M488.7 216.8h0M486.7 218.3h0M484.7 216.4h0M484.1 215.6h0M483.2 215.4h0M484.4 218.8h0M489.3 216.4h0M487.8 217.6h0M488.4 215.5h0M485.7 216.2h0" stroke="#000" stroke-opacity="0.3" stroke-width="0.7" stroke-linecap="square" fill="none"/>
<path d="M488.5 216.6h0M486.6 217.7h0M484.7 216.2h0M491.9 215.6h0M484.1 217.7h0M490.8 216.3h0M488.1 216.9h0M493.3 216.9h0M487.4 217.7h0M484.6 217.1h0M488.2 216.6h0M486.1 217.9h0M487.8 215.8h0M486.7 215.9h0M488.0 216.6h0M482.7 217.2h0M485.3 216.9h0M484.7 218.3h0M484.3 215.7h0M486.6 216.9h0M484.2 216.1h0M487.5 217.4h0M488.1 217.7h0M487.6 218.2h0M482.2 215.9h0M486.8 217.4h0M488.7 217.0h0M485.8 216.9h0M489.3 216.6h0M488.4 217.5h0M488.6 218.1h0M483.8 216.2h0M486.7 217.2h0M489.7 216.5h0M484.1 218.3h0M487.1 215.4h0M488.5 217.0h0M486.8 216.4h0M489.5 215.4h0M487.3 216.4h0" stroke="#000" stroke-opacity="0.3" stroke-width="0.7" stroke-linecap="square" fill="none"/>
<path d="M501.4 217.9h0M502.0 217.8h0M503.4 217.0h0M506.1 217.0h0M507.1 215.7h0M510.6 216.1h0M506.1 216.1h0M507.8 216.6h0M506.8 216.3h0M503.8 216.7h0M506.8 215.5h0M507.0 215.9h0M508.0 217.4h0M513.0 215.4h0M513.1 217.2h0M505.7 217.3h0M509.6 216.2h0M508.5 214.5h0M510.8 215.7h0M504.5 216.3h0M503.1 215.0h0M508.7 215.7h0M505.6 216.7h0M503.0 217.5h0M506.1 216.0h0M507.7 215.4h0M506.6 217.2h0M506.8 215.9h0M504.9 218.0h0M510.7 217.0h0M506.2 216.1h0M501.5 216.9h0M501.0 217.1h0M506.2 216.4h0M505.1 217.0h0M506.2 216.6h0M509.9 215.2h0M505.1 216.6h0M507.7 216.4h0M512.2 216.4h0M505.4 217.1h0M511.1 216.1h0M512.0 215.3h0M506.7 216.1h0M509.9 216.9h0M503.3 217.1h0M505.9 215.9h0M503.7 216.5h0M505.4 216.6h0M512.3 217.1h0" stroke="#000" stroke-opacity="0.3" stroke-width="0.7" stroke-linecap="square" fill="none"/>
<path d="M501.9 216.9h0M508.1 214.0h0M508.7 217.2h0M506.6 216.5h0M500.2 218.0h0M506.4 216.2h0M510.4 216.9h0M506.0 217.0h0M512.4 215.9h0M504.1 216.7h0M508.3 215.6h0M509.2 216.6h0M508.0 216.7h0M506.4 216.2h0M506.1 215.9h0M507.7 215.4h0M511.6 216.0h0M507.4 216.6h0M506.0 217.4h0M502.2 216.5h0M510.7 216.7h0M516.0 215.1h0M503.6 216.6h0M504.2 215.5h0M509.3 216.0h0M510.7 214.8h0M508.5 214.4h0M503.5 217.4h0M508.1 216.9h0M510.4 216.2h0M504.2 216.8h0M506.9 216.8h0M505.0 217.2h0M507.4 217.0h0M508.7 216.5h0M510.7 216.0h0M503.3 215.3h0M503.1 217.3h0M508.6 216.1h0M511.2 214.8h0M513.0 216.3h0M505.1 217.6h0M503.1 216.9h0M507.1 215.5h0M505.7 217.0h0M505.5 217.2h0M508.5 217.0h0M507.5 217.4h0M508.9 216.4h0M511.5 216.4h0" stroke="#000" stroke-opacity="0.3" stroke-width="0.7" stroke-linecap="square" fill="none"/>
<path d="M505.4 217.9h0M502.2 216.4h0M504.5 217.2h0M505.8 217.0h0M509.3 216.2h0M511.1 217.5h0M508.8 215.1h0M506.4 216.9h0M508.9 217.1h0M503.2 217.6h0M502.3 217.3h0M507.5 217.3h0M497.8 217.2h0M501.2 217.6h0M505.2 217.1h0M503.3 217.6h0M506.0 216.6h0M504.1 216.1h0M503.2 218.9h0M503.8 216.5h0M509.0 216.7h0M503.2 218.5h0M508.4 216.6h0M509.8 216.5h0M504.7 217.2h0M504.3 217.1h0M511.0 215.7h0M508.4 216.6h0M507.2 216.7h0M507.2 215.5h0M507.1 215.9h0M503.9 215.8h0M502.4 218.0h0M509.2 214.8h0M504.0 217.1h0M508.4 217.5h0M510.2 216.0h0M504.1 217.5h0M506.8 217.5h0M507.3 216.4h0M510.6 217.2h0M509.7 215.9h0M502.8 216.8h0M499.9 217.9h0M506.0 217.6h0M507.0 215.1h0M503.2 217.3h0M508.5 216.9h0M507.5 216.8h0M504.5 215.9h0" stroke="#000" stroke-opacity="0.3" stroke-width="0.7" stroke-linecap="square" fill="none"/>
<ellipse cx="487.3" cy="216.8" rx="2.6" ry="1.05" transform="rotate(0 487.3 216.8)" fill="#000" fill-opacity="0.88"/>
<path d="M502.8 217.1 Q507.8 215.3 511.8 215 Q512.8 216.7 510.8 218 Q506.8 218 502.8 217.1 Z" fill="#000" fill-opacity="0.9"/>
<rect x="477.8" y="188.7" width="39.7" height="37.4" fill="none" stroke="#888" stroke-width="0.6"/>
<line x1="476.8" y1="222.98" x2="477.8" y2="222.98" stroke="#000" stroke-width="0.5"/>
<line x1="476.8" y1="216.75" x2="477.8" y2="216.75" stroke="#000" stroke-width="0.5"/>
<line x1="476.8" y1="210.52" x2="477.8" y2="210.52" stroke="#000" stroke-width="0.5"/>
<line x1="476.8" y1="204.28" x2="477.8" y2="204.28" stroke="#000" stroke-width="0.5"/>
<line x1="476.8" y1="198.05" x2="477.8" y2="198.05" stroke="#000" stroke-width="0.5"/>
<line x1="476.8" y1="191.82" x2="477.8" y2="191.82" stroke="#000" stroke-width="0.5"/>
<line x1="481.11" y1="226.1" x2="481.11" y2="227.1" stroke="#000" stroke-width="0.5"/>
<line x1="487.73" y1="226.1" x2="487.73" y2="227.1" stroke="#000" stroke-width="0.5"/>
<line x1="494.34" y1="226.1" x2="494.34" y2="227.1" stroke="#000" stroke-width="0.5"/>
<line x1="500.96" y1="226.1" x2="500.96" y2="227.1" stroke="#000" stroke-width="0.5"/>
<line x1="507.57" y1="226.1" x2="507.57" y2="227.1" stroke="#000" stroke-width="0.5"/>
<line x1="514.19" y1="226.1" x2="514.19" y2="227.1" stroke="#000" stroke-width="0.5"/>
<line x1="498.7" y1="188.7" x2="498.7" y2="226.1" stroke="#666" stroke-width="0.55"/>
<line x1="477.8" y1="211.3" x2="517.5" y2="211.3" stroke="#666" stroke-width="0.55"/>
<text x="482.8" y="193.7" font-size="3.6" text-anchor="middle" font-weight="normal" font-style="normal" fill="#000" stroke="#000" stroke-width="0.12" >8,79</text>
<text x="510.2" y="193.7" font-size="3.6" text-anchor="middle" font-weight="normal" font-style="normal" fill="#000" stroke="#000" stroke-width="0.12" >2,66</text>
<text x="482.8" y="222.9" font-size="3.6" text-anchor="middle" font-weight="normal" font-style="normal" fill="#000" stroke="#000" stroke-width="0.12" >13,0</text>
<text x="510.2" y="222.9" font-size="3.6" text-anchor="middle" font-weight="normal" font-style="normal" fill="#000" stroke="#000" stroke-width="0.12" >75,5</text>
<polyline points="378.3,230.2 378.3,212.1" fill="none" stroke="#000" stroke-width="1.3"/>
<polygon points="378.3,208.6 380.3,212.4 376.3,212.4" fill="#000"/>
<polyline points="377.65,230.2 401.5,230.2" fill="none" stroke="#000" stroke-width="1.3"/>
<polygon points="405,230.2 401.2,232.2 401.2,228.2" fill="#000"/>
<text transform="translate(369.9,222.2) rotate(-90) scale(1,1.15)" x="0" y="2.74" font-size="7.6" text-anchor="middle" font-weight="normal" stroke="#000" stroke-width="0.12">NK</text>
<text transform="translate(374.4,239.8) scale(1,1.15)" x="0" y="0" font-size="7.9" text-anchor="start" font-weight="normal" font-style="normal" fill="#000" stroke="#000" stroke-width="0.12" >B220</text>
<path d="M416.9 261.9h0M415.7 265.4h0M415.4 266.8h0M415.0 265.3h0M416.9 264.1h0M415.8 262.7h0M415.2 265.9h0M418.3 259.7h0M415.5 262.5h0M414.9 268.4h0M417.1 266.6h0M416.5 261.7h0M416.4 262.0h0M415.6 264.8h0M414.7 267.2h0M418.3 265.2h0M416.1 265.0h0M410.6 270.8h0M419.7 256.8h0M414.6 266.5h0M413.2 268.7h0M414.4 265.3h0M416.0 266.3h0M415.6 265.4h0M415.4 268.1h0M417.9 262.6h0M415.2 264.7h0M414.9 265.3h0M417.4 262.2h0M412.9 269.3h0M412.8 268.4h0M414.2 265.8h0M413.8 266.4h0M415.7 269.7h0M416.8 268.0h0M414.5 264.5h0M413.9 267.5h0M414.6 267.4h0M416.6 263.5h0M410.9 271.4h0M415.4 264.6h0M417.1 263.8h0M413.0 270.0h0M415.2 264.0h0M416.2 267.2h0M417.8 256.4h0M414.7 264.3h0M415.6 261.5h0M416.7 263.2h0M414.2 266.6h0M415.7 263.4h0M415.9 264.1h0M417.4 262.5h0M415.8 263.6h0M415.5 257.9h0M414.6 263.5h0M415.8 264.1h0M413.8 265.8h0M413.9 268.7h0M414.1 267.1h0M416.4 264.1h0M415.9 264.1h0M416.2 262.1h0M416.0 268.5h0M413.7 270.4h0M417.0 261.1h0M413.2 272.2h0M416.1 266.5h0M412.4 271.1h0M417.3 261.5h0M414.4 268.5h0M412.7 267.4h0M416.9 260.3h0M416.7 264.5h0M412.3 272.1h0M419.9 256.0h0M415.4 262.4h0M414.3 265.6h0M415.7 266.1h0M414.1 270.3h0M414.4 264.2h0M418.1 261.6h0M415.2 263.6h0M415.3 267.5h0M413.8 270.4h0M416.2 261.5h0M412.3 269.8h0M414.1 264.9h0M412.6 271.1h0M415.0 264.1h0M414.1 264.8h0M416.2 267.4h0M413.9 268.0h0M415.9 255.4h0M419.2 262.0h0M418.7 258.9h0M413.9 268.8h0M415.1 265.0h0M415.8 261.3h0M415.0 272.1h0" stroke="#000" stroke-opacity="0.3" stroke-width="0.7" stroke-linecap="square" fill="none"/>
<path d="M413.6 263.7h0M417.3 260.6h0M414.7 268.3h0M417.1 263.0h0M415.3 268.6h0M416.1 261.3h0M413.7 271.2h0M415.9 262.5h0M415.4 260.0h0M416.3 269.5h0M415.7 266.4h0M413.9 272.0h0M413.3 262.7h0M415.5 263.7h0M415.9 262.1h0M417.5 267.0h0M416.2 261.8h0M417.0 264.5h0M412.4 267.0h0M415.1 265.1h0M414.2 266.6h0M414.4 267.9h0M415.2 270.6h0M414.2 272.6h0M414.3 268.2h0M418.1 262.2h0M415.8 263.5h0M414.7 265.2h0M416.8 261.1h0M414.4 265.4h0M416.3 263.2h0M417.9 263.5h0M418.0 261.6h0M416.4 268.7h0M417.2 263.1h0M417.7 260.3h0M414.5 262.2h0M416.0 258.9h0M413.1 269.7h0M415.7 265.0h0M413.6 262.9h0M415.3 265.1h0M413.0 268.8h0M415.2 270.2h0M415.3 267.5h0M416.9 262.7h0M412.5 266.1h0M415.8 267.6h0M417.3 262.5h0M412.3 269.2h0M414.5 265.3h0M413.6 267.5h0M416.5 260.7h0M419.1 262.4h0M417.9 260.8h0M414.4 272.9h0M415.5 264.0h0M420.2 261.2h0M414.7 269.6h0M414.0 271.5h0M415.5 261.8h0M414.9 267.2h0M415.6 264.5h0M414.4 269.6h0M416.5 264.1h0M416.0 262.8h0M416.7 265.4h0M414.4 266.8h0M414.9 264.4h0M414.6 263.8h0M416.5 267.4h0M413.5 266.8h0M415.8 264.4h0M416.0 266.9h0M414.9 267.2h0M416.9 256.6h0M418.4 267.7h0M415.3 264.3h0M415.3 267.9h0M413.7 269.3h0M415.7 272.8h0M415.2 264.3h0M418.0 256.5h0M413.1 271.7h0M414.7 267.0h0M414.4 266.4h0M415.9 262.1h0M412.5 271.2h0M413.7 266.5h0M413.9 270.6h0M417.3 264.4h0M416.9 262.4h0M416.8 263.0h0M418.4 262.5h0M414.2 268.3h0M416.7 265.2h0M414.4 269.3h0M413.3 270.0h0M417.1 260.0h0M419.2 258.5h0" stroke="#000" stroke-opacity="0.3" stroke-width="0.7" stroke-linecap="square" fill="none"/>
<path d="M418.1 266.5h0M414.8 268.7h0M416.6 257.7h0M415.7 265.5h0M415.4 264.9h0M415.8 267.3h0M416.9 264.6h0M416.5 263.6h0M413.9 266.5h0M414.1 262.5h0M413.4 266.5h0M416.8 260.6h0M417.1 262.0h0M415.5 264.2h0M416.9 263.0h0M414.8 268.8h0M413.4 268.1h0M415.2 272.9h0M413.6 266.3h0M413.6 264.4h0M416.4 264.8h0M415.8 260.4h0M413.0 265.3h0M415.5 264.5h0M417.7 263.6h0M416.2 259.6h0M415.8 263.0h0M415.9 259.5h0M415.4 259.2h0M414.9 265.0h0M418.3 259.4h0M416.2 269.9h0M419.1 259.6h0M417.7 259.1h0M412.3 265.9h0M417.0 262.2h0M414.0 268.6h0M413.4 270.7h0M418.0 259.8h0M416.0 264.7h0M413.7 268.7h0M416.5 269.6h0M417.1 260.5h0M414.1 262.4h0M414.8 270.1h0M413.5 264.4h0M415.2 265.5h0M416.7 260.2h0M415.3 266.2h0M415.5 263.1h0M415.1 263.5h0M418.5 263.3h0M415.7 261.8h0M415.2 268.1h0M418.3 254.9h0M413.0 270.1h0M413.8 264.1h0M418.8 261.4h0M417.4 264.5h0M411.8 268.0h0M412.6 270.7h0M416.4 265.3h0M415.2 263.7h0M414.2 269.4h0M414.0 265.1h0M417.4 260.4h0M417.7 264.3h0M419.3 262.8h0M415.9 262.2h0M414.4 270.7h0M416.7 264.7h0M416.0 260.4h0M413.4 270.7h0M416.7 260.0h0M418.4 263.1h0M415.5 265.2h0M417.2 262.0h0M417.3 258.5h0M418.1 264.3h0M415.5 263.3h0M415.0 267.1h0M414.3 261.5h0M416.6 263.4h0M413.6 264.2h0M413.2 272.8h0M420.1 256.7h0M416.0 261.5h0M411.9 266.1h0M416.7 267.7h0M414.9 267.4h0M415.4 263.4h0M412.1 268.3h0M413.1 268.1h0M414.4 269.1h0M416.5 262.0h0M416.4 262.3h0M416.7 263.7h0M412.0 271.0h0M415.5 271.8h0M417.2 262.5h0" stroke="#000" stroke-opacity="0.3" stroke-width="0.7" stroke-linecap="square" fill="none"/>
<ellipse cx="415.8" cy="264.3" rx="1.1" ry="3.2" transform="rotate(18 415.8 264.3)" fill="#000" fill-opacity="0.45"/>
<path d="M418.0 262.2h0M413.5 265.1h0M419.0 266.7h0M416.1 259.3h0M414.9 259.8h0M416.4 260.7h0M416.1 264.2h0M419.8 264.4h0M416.0 266.2h0M419.8 256.5h0M411.3 262.0h0M415.4 272.1h0M417.5 262.4h0M415.1 266.8h0M419.0 258.5h0M419.3 261.8h0M417.5 265.2h0M417.1 264.6h0M417.2 267.2h0M418.0 262.5h0M414.5 261.8h0M415.7 260.3h0M413.3 264.6h0M417.8 256.8h0M416.3 261.1h0M421.2 263.4h0M414.3 250.3h0" stroke="#000" stroke-opacity="0.12" stroke-width="0.7" stroke-linecap="square" fill="none"/>
<path d="M415.0 259.3h0M417.0 262.9h0M417.6 266.8h0M417.8 271.9h0M417.6 263.1h0M416.6 262.5h0M415.8 259.2h0M414.8 268.7h0M413.3 264.0h0M415.9 264.3h0M414.0 257.2h0M412.6 265.0h0M417.2 262.5h0M415.0 266.8h0M415.9 267.6h0M416.4 271.5h0M417.2 260.1h0M420.4 268.3h0M419.2 260.4h0M415.6 264.5h0M418.0 263.1h0M413.5 261.6h0M415.3 267.3h0M417.0 261.4h0M415.3 266.9h0M415.2 263.2h0M416.8 263.3h0" stroke="#000" stroke-opacity="0.12" stroke-width="0.7" stroke-linecap="square" fill="none"/>
<path d="M417.3 268.3h0M415.5 268.7h0M414.7 263.1h0M420.7 262.4h0M418.7 258.5h0M411.8 267.1h0M416.1 266.9h0M415.5 262.4h0M415.9 261.5h0M416.5 270.0h0M414.7 265.3h0M416.7 264.0h0M415.0 259.5h0M415.7 263.6h0M417.4 265.4h0M413.6 266.2h0M416.6 263.3h0M421.0 268.3h0M412.9 257.7h0M418.1 262.2h0M417.6 268.4h0M413.9 264.7h0M413.8 264.2h0M414.1 257.1h0M409.4 267.6h0M418.1 274.4h0" stroke="#000" stroke-opacity="0.12" stroke-width="0.7" stroke-linecap="square" fill="none"/>
<rect x="390.2" y="242.8" width="39.4" height="37.7" fill="none" stroke="#888" stroke-width="0.6"/>
<line x1="389.2" y1="277.36" x2="390.2" y2="277.36" stroke="#000" stroke-width="0.5"/>
<line x1="389.2" y1="271.07" x2="390.2" y2="271.07" stroke="#000" stroke-width="0.5"/>
<line x1="389.2" y1="264.79" x2="390.2" y2="264.79" stroke="#000" stroke-width="0.5"/>
<line x1="389.2" y1="258.51" x2="390.2" y2="258.51" stroke="#000" stroke-width="0.5"/>
<line x1="389.2" y1="252.23" x2="390.2" y2="252.23" stroke="#000" stroke-width="0.5"/>
<line x1="389.2" y1="245.94" x2="390.2" y2="245.94" stroke="#000" stroke-width="0.5"/>
<line x1="393.48" y1="280.5" x2="393.48" y2="281.5" stroke="#000" stroke-width="0.5"/>
<line x1="400.05" y1="280.5" x2="400.05" y2="281.5" stroke="#000" stroke-width="0.5"/>
<line x1="406.62" y1="280.5" x2="406.62" y2="281.5" stroke="#000" stroke-width="0.5"/>
<line x1="413.18" y1="280.5" x2="413.18" y2="281.5" stroke="#000" stroke-width="0.5"/>
<line x1="419.75" y1="280.5" x2="419.75" y2="281.5" stroke="#000" stroke-width="0.5"/>
<line x1="426.32" y1="280.5" x2="426.32" y2="281.5" stroke="#000" stroke-width="0.5"/>
<rect x="411.8" y="253" width="15.2" height="15.6" fill="none" stroke="#666" stroke-width="0.5"/>
<text transform="translate(405.4,262.6) scale(1,1.15)" x="0" y="0" font-size="8.3" text-anchor="middle" font-weight="normal" font-style="normal" fill="#000" stroke="#000" stroke-width="0.12" >IM</text>
<text x="419.4" y="248.6" font-size="3.6" text-anchor="middle" font-weight="normal" font-style="normal" fill="#000" stroke="#000" stroke-width="0.12" >74,7</text>
<path d="M459.2 264.3h0M459.6 261.6h0M460.3 267.6h0M459.6 259.0h0M458.2 267.5h0M462.6 262.9h0M459.1 262.4h0M459.2 261.9h0M458.2 272.1h0M461.2 259.9h0M459.7 261.3h0M458.1 267.7h0M455.8 264.7h0M458.3 265.2h0M460.4 263.4h0M461.4 264.8h0M459.2 263.9h0M458.9 267.4h0M458.9 260.7h0M459.6 263.7h0M456.4 268.9h0M459.5 265.4h0M460.5 266.2h0M458.9 268.9h0M461.3 263.3h0M458.8 269.1h0M459.4 269.1h0M461.0 263.1h0M461.9 260.5h0M461.4 260.9h0M458.4 268.0h0M457.8 274.8h0M455.7 266.8h0M458.7 266.6h0M458.5 265.9h0M458.7 267.1h0M461.1 258.4h0M461.3 267.4h0M460.5 262.5h0M460.4 263.5h0M459.8 266.5h0M460.3 264.0h0M459.3 269.0h0M460.2 260.9h0M458.2 269.1h0M460.7 266.7h0M461.3 260.8h0M458.8 270.4h0M460.9 262.8h0M458.0 263.0h0M461.5 262.9h0M456.8 266.3h0M458.0 271.2h0M456.5 264.9h0M460.4 263.1h0M458.7 263.0h0M456.3 267.4h0M461.5 262.9h0M461.4 262.1h0M460.3 266.6h0M461.5 262.7h0M461.2 261.0h0M457.9 269.8h0M458.9 264.8h0M458.0 267.1h0M456.7 271.6h0M455.3 271.0h0M459.2 261.2h0M461.7 265.2h0M457.9 269.2h0M459.2 264.4h0M458.5 261.2h0M457.1 268.8h0M457.3 267.0h0M458.5 261.4h0M459.9 265.6h0M461.9 264.1h0M462.4 255.9h0M459.5 261.7h0M455.3 271.7h0M461.5 264.6h0M458.4 265.7h0M460.4 267.8h0M459.5 268.7h0M458.8 260.2h0M458.4 266.5h0M460.1 259.9h0M457.4 267.2h0M458.7 265.1h0M460.3 268.5h0M460.5 264.8h0M457.8 265.1h0M458.6 265.7h0M457.8 265.9h0M457.4 271.9h0M458.6 270.8h0M455.5 266.8h0M459.5 265.4h0M456.9 264.2h0M460.7 265.2h0" stroke="#000" stroke-opacity="0.3" stroke-width="0.7" stroke-linecap="square" fill="none"/>
<path d="M456.2 265.5h0M455.3 269.6h0M462.2 256.6h0M459.8 264.6h0M461.1 260.7h0M457.5 268.1h0M460.3 264.5h0M459.2 262.2h0M456.8 270.8h0M461.0 263.6h0M461.4 262.3h0M460.9 267.1h0M458.5 267.2h0M459.7 259.7h0M460.1 261.7h0M460.5 262.6h0M458.0 265.5h0M459.5 268.0h0M459.8 261.4h0M457.2 272.4h0M461.7 260.7h0M461.3 258.7h0M459.9 262.7h0M460.6 260.1h0M459.8 271.2h0M462.1 264.6h0M459.3 262.8h0M456.0 268.8h0M459.5 264.1h0M459.6 262.0h0M459.6 263.0h0M457.1 267.2h0M457.8 266.2h0M460.6 259.8h0M458.1 269.5h0M458.0 267.9h0M456.5 272.5h0M457.9 268.0h0M463.1 259.4h0M458.2 269.0h0M458.8 262.5h0M459.0 265.4h0M459.4 263.1h0M456.8 268.1h0M462.9 255.0h0M458.8 263.4h0M455.4 269.6h0M459.0 267.7h0M461.9 264.8h0M461.5 266.4h0M459.2 265.6h0M461.3 262.7h0M460.0 262.6h0M458.7 263.8h0M458.2 266.0h0M460.7 264.5h0M457.0 268.0h0M456.8 269.5h0M460.6 260.7h0M457.5 264.4h0M459.9 264.2h0M458.3 266.6h0M460.8 265.4h0M458.7 264.8h0M459.4 269.3h0M460.1 262.6h0M456.9 268.3h0M458.1 263.5h0M458.3 265.1h0M457.9 267.1h0M461.9 259.8h0M457.8 264.4h0M459.2 258.4h0M458.4 264.0h0M457.4 270.1h0M456.9 271.8h0M460.9 268.7h0M459.6 264.7h0M460.3 270.4h0M459.2 261.0h0M459.9 265.5h0M457.9 268.4h0M462.2 266.8h0M459.3 264.6h0M456.0 270.2h0M460.5 257.8h0M458.8 268.4h0M459.6 263.5h0M455.2 270.2h0M457.8 271.7h0M459.5 268.2h0M457.9 268.3h0M459.5 263.6h0M459.6 267.6h0M459.7 265.5h0M459.8 261.1h0M455.9 270.1h0M461.3 261.1h0M458.7 268.3h0M459.8 262.6h0" stroke="#000" stroke-opacity="0.3" stroke-width="0.7" stroke-linecap="square" fill="none"/>
<path d="M457.9 265.9h0M458.6 266.4h0M459.4 268.8h0M462.4 260.7h0M458.0 262.8h0M458.0 270.4h0M460.3 261.3h0M459.2 263.7h0M462.4 257.0h0M459.2 270.9h0M457.8 268.7h0M460.6 263.3h0M459.9 262.9h0M459.4 265.1h0M457.6 268.1h0M458.1 262.5h0M461.1 263.6h0M460.2 265.8h0M458.5 264.2h0M458.6 262.8h0M461.3 260.3h0M459.1 266.0h0M458.7 268.5h0M457.5 270.7h0M461.2 262.0h0M457.4 269.6h0M458.8 267.2h0M459.2 264.8h0M459.7 265.4h0M458.8 270.5h0M460.8 265.6h0M458.2 266.8h0M458.6 268.7h0M459.0 263.4h0M462.6 262.4h0M455.7 267.1h0M456.5 273.0h0M458.6 272.7h0M458.8 265.7h0M460.2 262.5h0M461.5 265.6h0M457.6 268.2h0M455.5 268.8h0M457.9 268.3h0M462.2 261.3h0M457.7 266.6h0M461.1 260.8h0M462.0 254.4h0M460.7 262.9h0M455.5 268.7h0M458.1 265.6h0M458.9 268.7h0M459.4 267.8h0M457.3 271.3h0M456.2 275.9h0M461.3 259.4h0M458.1 266.4h0M459.3 264.9h0M456.7 267.4h0M459.5 265.4h0M459.4 264.1h0M458.8 269.8h0M459.5 272.0h0M459.2 266.6h0M460.3 264.4h0M458.1 272.0h0M459.9 263.1h0M460.6 264.8h0M461.9 263.3h0M459.1 264.6h0M458.2 263.1h0M457.5 263.5h0M458.6 260.4h0M458.3 267.1h0M459.2 262.0h0M457.3 267.6h0M457.7 270.7h0M456.5 267.3h0M458.7 272.5h0M459.9 264.1h0M458.6 264.0h0M458.4 266.3h0M458.7 267.7h0M458.6 265.2h0M458.2 269.3h0M459.4 263.4h0M458.4 269.5h0M460.3 261.8h0M459.3 268.6h0M460.2 260.2h0M458.4 264.8h0M461.0 267.1h0M460.7 261.3h0M457.4 269.4h0M456.2 269.6h0M460.7 265.9h0M462.8 258.4h0M456.3 268.2h0M456.7 274.0h0M456.8 273.3h0" stroke="#000" stroke-opacity="0.3" stroke-width="0.7" stroke-linecap="square" fill="none"/>
<ellipse cx="459.4" cy="264.3" rx="1.1" ry="3.2" transform="rotate(18 459.4 264.3)" fill="#000" fill-opacity="0.45"/>
<path d="M461.4 263.4h0M460.7 258.9h0M458.7 263.6h0M461.1 267.7h0M458.6 254.9h0M456.5 266.8h0M460.3 257.6h0M461.7 267.1h0M461.1 263.1h0M456.6 262.8h0M461.1 257.6h0M462.4 267.1h0M463.9 274.7h0M461.3 266.2h0M462.4 270.8h0M458.7 268.3h0M458.2 260.8h0M459.2 262.4h0M455.0 267.8h0M459.6 264.0h0M459.9 267.8h0M459.7 271.5h0M459.1 260.9h0M458.1 259.2h0M458.8 266.0h0M462.7 261.4h0M456.3 257.2h0" stroke="#000" stroke-opacity="0.12" stroke-width="0.7" stroke-linecap="square" fill="none"/>
<path d="M457.1 252.8h0M461.5 262.8h0M458.1 265.9h0M461.0 269.6h0M454.9 255.4h0M455.7 264.0h0M457.5 270.1h0M459.0 268.4h0M458.5 270.6h0M459.4 260.1h0M459.1 270.8h0M460.5 265.7h0M460.3 263.9h0M460.2 262.6h0M459.5 262.4h0M457.5 254.9h0M458.6 262.8h0M459.2 267.8h0M462.2 251.1h0M460.8 262.3h0M466.0 257.9h0M460.9 268.9h0M460.9 259.3h0M456.9 263.7h0M460.3 268.8h0M457.8 267.9h0M460.5 259.7h0" stroke="#000" stroke-opacity="0.12" stroke-width="0.7" stroke-linecap="square" fill="none"/>
<path d="M459.6 260.4h0M458.4 265.2h0M456.0 263.4h0M460.4 275.2h0M459.7 256.2h0M461.7 269.0h0M463.4 261.8h0M457.7 266.4h0M458.0 259.8h0M462.3 264.3h0M462.2 265.9h0M460.9 262.1h0M465.3 266.0h0M461.8 257.6h0M464.5 263.4h0M460.0 261.8h0M454.8 267.6h0M460.6 274.0h0M461.2 263.5h0M458.3 268.4h0M457.8 260.8h0M464.2 255.1h0M463.6 261.7h0M458.5 265.3h0M461.5 261.5h0M457.0 260.8h0" stroke="#000" stroke-opacity="0.12" stroke-width="0.7" stroke-linecap="square" fill="none"/>
<rect x="433.8" y="242.8" width="39.8" height="37.7" fill="none" stroke="#888" stroke-width="0.6"/>
<line x1="432.8" y1="277.36" x2="433.8" y2="277.36" stroke="#000" stroke-width="0.5"/>
<line x1="432.8" y1="271.07" x2="433.8" y2="271.07" stroke="#000" stroke-width="0.5"/>
<line x1="432.8" y1="264.79" x2="433.8" y2="264.79" stroke="#000" stroke-width="0.5"/>
<line x1="432.8" y1="258.51" x2="433.8" y2="258.51" stroke="#000" stroke-width="0.5"/>
<line x1="432.8" y1="252.23" x2="433.8" y2="252.23" stroke="#000" stroke-width="0.5"/>
<line x1="432.8" y1="245.94" x2="433.8" y2="245.94" stroke="#000" stroke-width="0.5"/>
<line x1="437.12" y1="280.5" x2="437.12" y2="281.5" stroke="#000" stroke-width="0.5"/>
<line x1="443.75" y1="280.5" x2="443.75" y2="281.5" stroke="#000" stroke-width="0.5"/>
<line x1="450.38" y1="280.5" x2="450.38" y2="281.5" stroke="#000" stroke-width="0.5"/>
<line x1="457.02" y1="280.5" x2="457.02" y2="281.5" stroke="#000" stroke-width="0.5"/>
<line x1="463.65" y1="280.5" x2="463.65" y2="281.5" stroke="#000" stroke-width="0.5"/>
<line x1="470.28" y1="280.5" x2="470.28" y2="281.5" stroke="#000" stroke-width="0.5"/>
<rect x="455.4" y="253" width="15.2" height="15.6" fill="none" stroke="#666" stroke-width="0.5"/>
<text transform="translate(449,262.6) scale(1,1.15)" x="0" y="0" font-size="8.3" text-anchor="middle" font-weight="normal" font-style="normal" fill="#000" stroke="#000" stroke-width="0.12" >IM</text>
<text x="463" y="248.6" font-size="3.6" text-anchor="middle" font-weight="normal" font-style="normal" fill="#000" stroke="#000" stroke-width="0.12" >64,5</text>
<path d="M504.0 271.5h0M507.5 258.6h0M502.6 267.5h0M506.0 263.0h0M502.4 266.8h0M501.0 269.7h0M503.8 264.9h0M505.3 259.3h0M505.0 262.6h0M503.1 263.4h0M501.9 264.9h0M504.1 261.4h0M507.0 257.9h0M502.5 264.8h0M503.3 271.5h0M502.4 267.5h0M503.2 268.0h0M500.5 263.5h0M502.1 266.4h0M504.8 263.2h0M504.4 265.0h0M500.2 270.6h0M505.9 263.1h0M506.5 261.7h0M502.2 269.9h0M502.3 270.1h0M501.4 266.8h0M501.6 265.4h0M502.2 266.1h0M509.1 250.7h0M504.2 268.1h0M503.5 265.6h0M503.1 269.0h0M505.7 267.6h0M505.9 260.1h0M503.2 267.4h0M503.2 268.4h0M504.5 268.6h0M504.3 265.3h0M507.2 263.3h0M499.9 269.6h0M504.8 261.1h0M501.9 266.1h0M504.1 268.6h0M504.3 261.1h0M505.4 263.8h0M502.7 266.0h0M502.9 267.9h0M503.1 265.0h0M506.2 263.9h0M503.8 269.6h0M502.0 269.0h0M503.8 265.8h0M502.7 266.5h0M501.9 268.4h0M502.5 267.1h0M504.8 269.1h0M506.2 260.0h0M503.2 262.1h0M505.3 267.0h0M507.1 259.9h0M499.2 267.2h0M504.8 265.0h0M502.0 266.3h0M504.4 255.2h0M501.7 266.0h0M502.9 266.8h0M504.9 260.6h0M504.6 262.9h0M501.0 262.7h0M501.4 265.5h0M502.2 266.3h0M504.5 263.8h0M504.7 258.6h0M505.7 258.9h0M502.6 270.2h0M501.6 271.3h0M506.1 260.5h0M504.2 265.0h0M506.7 262.0h0M502.7 266.9h0M507.1 258.6h0M504.5 259.2h0M505.3 261.7h0M503.3 265.1h0M506.0 260.1h0M503.5 267.8h0M499.6 270.4h0M505.0 264.4h0M506.1 258.2h0M506.2 257.3h0M506.5 257.1h0M506.1 261.0h0M501.3 272.0h0M502.6 268.6h0M502.1 263.9h0M505.9 262.4h0M506.9 256.1h0M502.9 270.0h0M506.2 264.7h0" stroke="#000" stroke-opacity="0.3" stroke-width="0.7" stroke-linecap="square" fill="none"/>
<path d="M505.0 263.0h0M503.5 265.6h0M501.0 269.1h0M501.2 266.6h0M506.0 262.2h0M506.2 263.7h0M503.3 268.6h0M502.4 265.6h0M503.7 265.5h0M499.3 272.2h0M503.3 267.7h0M503.8 262.0h0M502.9 267.6h0M504.2 264.9h0M505.2 266.3h0M505.7 264.3h0M505.0 264.8h0M505.5 271.0h0M505.3 262.9h0M502.8 267.8h0M505.4 260.9h0M503.7 266.3h0M504.8 263.1h0M504.2 267.1h0M503.3 266.8h0M502.1 275.2h0M504.4 259.5h0M504.2 268.9h0M501.7 259.3h0M504.4 269.2h0M502.9 267.3h0M503.4 263.5h0M503.9 262.2h0M505.5 262.7h0M504.1 265.6h0M506.1 262.5h0M503.7 267.4h0M502.6 267.7h0M501.2 274.7h0M504.2 263.6h0M504.2 258.9h0M506.2 260.8h0M505.9 259.7h0M503.2 264.9h0M501.0 271.9h0M505.9 260.0h0M503.1 267.9h0M502.8 272.4h0M503.1 260.9h0M504.8 267.5h0M503.3 269.8h0M503.1 269.7h0M501.7 271.2h0M503.9 266.1h0M503.7 270.0h0M503.7 268.3h0M503.5 269.4h0M503.0 267.0h0M502.6 261.0h0M502.6 266.3h0M500.9 273.6h0M504.5 265.3h0M503.1 267.1h0M503.9 262.0h0M504.3 264.8h0M503.7 266.9h0M505.9 258.8h0M505.6 265.5h0M504.1 260.2h0M504.9 262.1h0M501.4 267.8h0M506.1 264.8h0M502.9 269.7h0M503.2 263.8h0M505.3 258.5h0M504.6 264.9h0M503.3 264.0h0M503.3 264.1h0M504.1 259.9h0M502.6 262.6h0M504.8 263.0h0M505.4 265.8h0M503.9 265.1h0M506.8 259.0h0M502.3 262.8h0M504.4 259.3h0M502.7 266.3h0M499.3 274.9h0M502.9 267.7h0M503.2 265.4h0M505.1 257.0h0M502.4 267.5h0M503.7 266.0h0M505.0 265.3h0M502.7 266.7h0M500.3 274.9h0M503.6 264.1h0M505.7 263.5h0M504.1 263.1h0M500.7 272.2h0" stroke="#000" stroke-opacity="0.3" stroke-width="0.7" stroke-linecap="square" fill="none"/>
<path d="M504.1 264.4h0M503.4 268.1h0M504.4 265.0h0M504.3 264.0h0M501.3 267.3h0M506.9 265.2h0M505.1 262.8h0M504.5 263.2h0M503.7 269.6h0M501.4 264.2h0M502.2 267.7h0M504.7 269.3h0M500.5 268.2h0M503.2 267.0h0M502.8 260.3h0M502.9 265.4h0M501.4 262.7h0M501.5 273.9h0M502.3 267.7h0M504.5 262.4h0M504.2 263.9h0M503.1 270.9h0M503.0 266.7h0M499.0 276.0h0M504.8 265.9h0M506.4 258.7h0M507.2 259.6h0M501.5 267.8h0M504.4 264.9h0M507.0 264.0h0M503.1 268.0h0M503.7 266.7h0M500.2 269.7h0M502.2 270.9h0M502.8 272.1h0M505.6 259.0h0M503.9 262.0h0M504.1 261.4h0M504.1 266.3h0M500.8 274.3h0M503.7 265.1h0M501.0 276.6h0M502.6 269.3h0M501.3 269.8h0M500.8 268.4h0M503.7 267.6h0M503.3 270.1h0M504.5 263.9h0M502.1 273.7h0M501.5 270.6h0M503.8 264.5h0M503.7 264.6h0M507.3 255.8h0M501.6 271.6h0M507.5 263.3h0M503.5 264.2h0M506.1 266.1h0M505.5 263.4h0M503.0 267.6h0M502.0 269.7h0M505.5 265.5h0M504.4 267.2h0M504.9 261.0h0M502.1 268.0h0M506.0 264.9h0M501.5 273.9h0M503.5 261.4h0M503.5 262.2h0M501.6 271.9h0M506.2 266.7h0M502.3 269.7h0M503.0 263.4h0M504.7 258.9h0M501.7 264.5h0M504.9 263.9h0M504.7 263.0h0M503.6 266.1h0M503.4 267.1h0M501.4 267.2h0M504.7 262.6h0M502.5 263.5h0M506.4 262.6h0M503.5 264.8h0M502.8 265.7h0M505.5 259.2h0M505.0 261.6h0M507.9 258.9h0M507.6 256.2h0M503.5 263.1h0M503.7 265.1h0M503.0 268.4h0M503.4 267.7h0M503.3 262.2h0M505.8 258.8h0M505.8 264.2h0M503.8 264.4h0M503.1 266.2h0M504.5 265.4h0M504.4 264.6h0M502.0 267.6h0" stroke="#000" stroke-opacity="0.3" stroke-width="0.7" stroke-linecap="square" fill="none"/>
<ellipse cx="504.1" cy="264.3" rx="1.1" ry="3.2" transform="rotate(18 504.1 264.3)" fill="#000" fill-opacity="0.45"/>
<path d="M502.9 266.4h0M507.1 264.1h0M505.3 258.2h0M502.0 260.5h0M505.8 262.0h0M507.9 267.6h0M501.4 263.4h0M506.2 259.0h0M502.7 261.3h0M504.9 256.3h0M500.2 274.0h0M506.7 260.0h0M510.2 269.0h0M503.8 261.6h0M501.8 260.8h0M505.0 262.0h0M506.2 263.5h0M501.6 260.9h0M500.3 263.1h0M502.7 260.4h0M508.4 266.3h0M505.0 267.5h0M503.6 263.1h0M507.2 262.2h0M504.2 266.8h0M508.0 267.1h0M507.9 266.4h0" stroke="#000" stroke-opacity="0.12" stroke-width="0.7" stroke-linecap="square" fill="none"/>
<path d="M507.9 269.6h0M508.6 270.5h0M502.4 266.2h0M501.6 265.0h0M504.5 273.9h0M505.6 256.4h0M507.1 266.3h0M501.9 264.1h0M503.3 260.8h0M504.9 266.0h0M501.5 257.3h0M504.5 260.3h0M504.0 263.0h0M504.5 271.3h0M501.2 258.0h0M505.3 263.8h0M503.9 262.0h0M501.7 250.4h0M506.1 262.8h0M501.7 262.9h0M512.0 264.5h0M506.6 263.9h0M504.7 266.6h0M507.2 266.8h0M506.4 268.6h0M507.7 270.9h0M502.5 266.0h0" stroke="#000" stroke-opacity="0.12" stroke-width="0.7" stroke-linecap="square" fill="none"/>
<path d="M503.4 266.0h0M508.3 263.7h0M502.8 263.8h0M502.7 264.2h0M505.7 270.8h0M505.6 259.2h0M506.1 267.2h0M506.8 263.5h0M501.9 270.9h0M506.4 259.1h0M504.8 268.6h0M504.4 260.6h0M507.6 260.5h0M502.9 258.0h0M502.5 265.9h0M504.1 259.6h0M504.7 263.2h0M501.4 275.2h0M504.1 259.0h0M505.8 267.7h0M501.9 257.2h0M507.6 264.0h0M501.7 259.0h0M505.2 269.3h0M502.3 263.7h0M503.2 263.8h0" stroke="#000" stroke-opacity="0.12" stroke-width="0.7" stroke-linecap="square" fill="none"/>
<rect x="478.5" y="242.8" width="39.8" height="37.7" fill="none" stroke="#888" stroke-width="0.6"/>
<line x1="477.5" y1="277.36" x2="478.5" y2="277.36" stroke="#000" stroke-width="0.5"/>
<line x1="477.5" y1="271.07" x2="478.5" y2="271.07" stroke="#000" stroke-width="0.5"/>
<line x1="477.5" y1="264.79" x2="478.5" y2="264.79" stroke="#000" stroke-width="0.5"/>
<line x1="477.5" y1="258.51" x2="478.5" y2="258.51" stroke="#000" stroke-width="0.5"/>
<line x1="477.5" y1="252.23" x2="478.5" y2="252.23" stroke="#000" stroke-width="0.5"/>
<line x1="477.5" y1="245.94" x2="478.5" y2="245.94" stroke="#000" stroke-width="0.5"/>
<line x1="481.82" y1="280.5" x2="481.82" y2="281.5" stroke="#000" stroke-width="0.5"/>
<line x1="488.45" y1="280.5" x2="488.45" y2="281.5" stroke="#000" stroke-width="0.5"/>
<line x1="495.08" y1="280.5" x2="495.08" y2="281.5" stroke="#000" stroke-width="0.5"/>
<line x1="501.72" y1="280.5" x2="501.72" y2="281.5" stroke="#000" stroke-width="0.5"/>
<line x1="508.35" y1="280.5" x2="508.35" y2="281.5" stroke="#000" stroke-width="0.5"/>
<line x1="514.98" y1="280.5" x2="514.98" y2="281.5" stroke="#000" stroke-width="0.5"/>
<rect x="500.1" y="253" width="15.2" height="15.6" fill="none" stroke="#666" stroke-width="0.5"/>
<text transform="translate(493.7,262.6) scale(1,1.15)" x="0" y="0" font-size="8.3" text-anchor="middle" font-weight="normal" font-style="normal" fill="#000" stroke="#000" stroke-width="0.12" >IM</text>
<text x="507.7" y="248.6" font-size="3.6" text-anchor="middle" font-weight="normal" font-style="normal" fill="#000" stroke="#000" stroke-width="0.12" >68,4</text>
<polyline points="378.3,284.4 378.3,265.8" fill="none" stroke="#000" stroke-width="1.3"/>
<polygon points="378.3,262.3 380.3,266.1 376.3,266.1" fill="#000"/>
<polyline points="377.65,284.4 401,284.4" fill="none" stroke="#000" stroke-width="1.3"/>
<polygon points="404.5,284.4 400.7,286.4 400.7,282.4" fill="#000"/>
<text transform="translate(369.9,272) rotate(-90) scale(1,1.15)" x="0" y="2.74" font-size="7.6" text-anchor="middle" font-weight="normal" stroke="#000" stroke-width="0.12">F4/80</text>
<text transform="translate(374.4,293.8) scale(1,1.15)" x="0" y="0" font-size="7.9" text-anchor="start" font-weight="normal" font-style="normal" fill="#000" stroke="#000" stroke-width="0.12" >CD11b</text>
<path d="M413.7 322.6h0M410.7 323.2h0M408.1 322.9h0M413.2 322.9h0M414.7 321.8h0M412.5 322.3h0M411.3 325.1h0M409.5 325.3h0M411.2 323.8h0M415.6 321.9h0M414.0 323.9h0M415.3 322.0h0M412.5 321.6h0M410.9 322.4h0M411.2 322.8h0M411.8 324.5h0M412.3 322.1h0M410.1 324.2h0M412.1 323.6h0M407.9 324.4h0M414.8 324.7h0M412.0 322.7h0M410.0 325.8h0M418.2 322.6h0M411.0 324.0h0M413.7 322.7h0M409.9 323.1h0M416.7 322.4h0M410.3 324.1h0M409.6 323.0h0M413.0 321.6h0M411.5 323.5h0M412.7 324.1h0M416.7 324.1h0M411.8 325.1h0M414.3 322.4h0M411.1 324.2h0M410.9 322.0h0M409.6 323.5h0M409.9 322.8h0M414.7 323.4h0M413.4 323.8h0M406.5 325.8h0M413.7 324.2h0M412.6 321.4h0M409.6 324.3h0M414.0 321.5h0M413.3 323.9h0M413.8 322.7h0M408.5 324.1h0M414.0 324.6h0M412.4 325.0h0M414.6 323.6h0M413.5 324.5h0M412.4 324.1h0M410.9 323.0h0M413.2 322.4h0M412.3 322.6h0M412.1 323.4h0M411.3 323.9h0M412.8 322.1h0M412.1 321.8h0M413.6 322.3h0M416.8 323.3h0M414.3 323.9h0M413.3 323.5h0M413.5 320.9h0M419.8 322.1h0M410.4 322.7h0M414.4 322.9h0M409.1 324.4h0M412.9 324.6h0M407.7 322.8h0M412.2 324.8h0M413.8 323.0h0M411.5 322.7h0M414.7 322.5h0M414.1 321.6h0M414.4 324.8h0M412.6 323.6h0M412.5 322.1h0M419.3 322.3h0M414.1 322.4h0M415.3 323.1h0" stroke="#000" stroke-opacity="0.3" stroke-width="0.7" stroke-linecap="square" fill="none"/>
<path d="M412.1 324.1h0M412.9 323.1h0M412.9 323.2h0M416.5 322.7h0M408.8 322.7h0M411.8 323.7h0M412.6 322.0h0M411.8 323.8h0M407.4 324.8h0M409.9 324.7h0M412.9 322.5h0M416.5 323.3h0M411.3 323.7h0M411.8 323.5h0M411.4 323.1h0M411.0 322.5h0M414.5 322.1h0M413.6 323.0h0M414.2 321.3h0M415.2 322.0h0M415.7 323.0h0M413.7 323.7h0M412.7 322.8h0M414.1 323.5h0M415.0 322.4h0M417.9 324.0h0M412.9 322.3h0M411.0 323.1h0M411.7 322.1h0M413.0 324.6h0M411.7 323.0h0M415.2 321.7h0M411.2 322.0h0M410.2 323.5h0M413.9 323.3h0M411.6 325.1h0M411.0 323.5h0M405.0 322.3h0M412.3 323.3h0M412.2 323.7h0M419.7 321.8h0M415.7 322.2h0M413.1 323.1h0M413.4 323.2h0M411.5 323.3h0M407.1 325.9h0M414.1 322.1h0M412.9 324.2h0M414.6 322.6h0M411.6 324.0h0M411.9 324.0h0M412.4 323.1h0M415.8 323.4h0M413.8 323.6h0M411.7 322.6h0M413.3 322.3h0M411.5 324.2h0M414.3 322.7h0M413.4 322.7h0M412.0 323.7h0M414.4 322.8h0M414.8 323.2h0M415.1 323.5h0M414.9 322.4h0M412.2 323.6h0M413.0 323.5h0M408.7 322.3h0M411.8 323.1h0M413.0 322.6h0M410.6 323.4h0M409.5 324.5h0M409.3 323.9h0M410.4 323.4h0M411.2 323.3h0M414.1 323.3h0M414.3 322.5h0M411.6 324.2h0M415.9 324.0h0M413.7 322.9h0M411.7 323.4h0M409.2 322.7h0M412.5 323.8h0M415.0 322.4h0" stroke="#000" stroke-opacity="0.3" stroke-width="0.7" stroke-linecap="square" fill="none"/>
<path d="M414.4 322.1h0M411.0 323.7h0M412.6 323.6h0M418.7 321.1h0M406.0 323.4h0M411.4 324.2h0M414.5 323.2h0M419.0 321.9h0M410.9 324.7h0M410.0 323.5h0M414.8 323.4h0M412.2 323.8h0M413.5 323.3h0M412.6 323.5h0M411.4 323.3h0M413.9 324.6h0M412.6 323.0h0M413.3 322.1h0M413.7 322.1h0M414.6 323.0h0M410.0 322.8h0M417.2 323.8h0M408.7 323.8h0M415.2 322.3h0M413.9 324.0h0M414.3 322.9h0M415.2 321.8h0M414.1 324.0h0M410.2 324.6h0M407.8 323.9h0M414.1 322.8h0M412.9 323.0h0M412.1 322.1h0M408.9 323.4h0M415.4 322.5h0M406.2 324.5h0M409.7 324.5h0M414.3 321.8h0M412.2 325.0h0M416.2 322.8h0M416.0 322.8h0M412.3 322.3h0M410.8 323.2h0M410.1 322.9h0M416.4 321.2h0M413.3 324.0h0M412.2 323.2h0M413.4 322.6h0M412.0 324.2h0M414.1 322.2h0M418.3 320.8h0M410.0 320.9h0M410.2 321.7h0M416.8 322.3h0M411.8 323.9h0M411.4 323.5h0M411.6 323.3h0M408.8 325.1h0M410.0 322.6h0M407.1 322.8h0M411.9 322.3h0M411.8 322.2h0M410.9 323.1h0M414.3 321.8h0M411.7 323.0h0M410.1 322.1h0M414.4 323.6h0M409.5 324.4h0M413.9 323.7h0M409.9 322.0h0M412.4 322.8h0M411.4 322.3h0M414.7 323.3h0M411.9 323.8h0M411.2 324.2h0M413.0 325.5h0M413.5 322.3h0M416.4 321.6h0M415.7 321.6h0M415.0 323.7h0M411.5 322.6h0M409.7 323.0h0M413.4 324.4h0" stroke="#000" stroke-opacity="0.3" stroke-width="0.7" stroke-linecap="square" fill="none"/>
<ellipse cx="412.8" cy="323.2" rx="2.2" ry="0.8" transform="rotate(-6 412.8 323.2)" fill="#000" fill-opacity="0.6"/>
<rect x="390.2" y="296.4" width="40.2" height="38.1" fill="none" stroke="#888" stroke-width="0.6"/>
<line x1="389.2" y1="331.32" x2="390.2" y2="331.32" stroke="#000" stroke-width="0.5"/>
<line x1="389.2" y1="324.98" x2="390.2" y2="324.98" stroke="#000" stroke-width="0.5"/>
<line x1="389.2" y1="318.62" x2="390.2" y2="318.62" stroke="#000" stroke-width="0.5"/>
<line x1="389.2" y1="312.27" x2="390.2" y2="312.27" stroke="#000" stroke-width="0.5"/>
<line x1="389.2" y1="305.92" x2="390.2" y2="305.92" stroke="#000" stroke-width="0.5"/>
<line x1="389.2" y1="299.57" x2="390.2" y2="299.57" stroke="#000" stroke-width="0.5"/>
<line x1="393.55" y1="334.5" x2="393.55" y2="335.5" stroke="#000" stroke-width="0.5"/>
<line x1="400.25" y1="334.5" x2="400.25" y2="335.5" stroke="#000" stroke-width="0.5"/>
<line x1="406.95" y1="334.5" x2="406.95" y2="335.5" stroke="#000" stroke-width="0.5"/>
<line x1="413.65" y1="334.5" x2="413.65" y2="335.5" stroke="#000" stroke-width="0.5"/>
<line x1="420.35" y1="334.5" x2="420.35" y2="335.5" stroke="#000" stroke-width="0.5"/>
<line x1="427.05" y1="334.5" x2="427.05" y2="335.5" stroke="#000" stroke-width="0.5"/>
<rect x="407.2" y="318" width="14.2" height="15.3" fill="none" stroke="#666" stroke-width="0.5"/>
<text transform="translate(399.5,326) scale(1,1.15)" x="0" y="0" font-size="8.5" text-anchor="middle" font-weight="normal" font-style="normal" fill="#000" stroke="#000" stroke-width="0.12" >AM</text>
<text x="414.3" y="314.7" font-size="3.6" text-anchor="middle" font-weight="normal" font-style="normal" fill="#000" stroke="#000" stroke-width="0.12" >96,5</text>
<path d="M456.2 323.8h0M456.4 322.9h0M457.7 323.0h0M454.1 321.7h0M457.0 321.2h0M460.7 324.9h0M458.1 323.3h0M455.7 324.4h0M452.4 323.0h0M455.6 321.6h0M455.6 322.6h0M455.3 323.0h0M454.0 323.3h0M457.6 323.0h0M453.7 323.9h0M453.8 323.3h0M455.3 324.3h0M456.1 322.0h0M457.3 323.0h0M458.9 323.3h0M453.7 322.7h0M451.6 322.7h0M457.2 322.1h0M454.3 322.2h0M458.0 322.4h0M456.2 323.9h0M451.2 323.3h0M462.7 323.0h0M459.2 322.4h0M455.7 323.5h0M454.5 322.9h0M456.7 322.8h0M456.7 321.7h0M458.0 323.3h0M454.6 324.7h0M458.2 323.7h0M455.8 324.1h0M456.9 323.3h0M453.8 324.4h0M458.9 321.6h0M455.0 322.0h0M455.6 323.4h0M454.3 323.3h0M451.8 322.1h0M460.6 323.8h0M454.0 323.6h0M457.1 323.4h0M457.2 322.6h0M454.4 323.7h0M457.8 321.7h0M453.4 323.1h0M455.9 323.9h0M454.9 324.0h0M455.2 321.4h0M454.4 323.7h0M453.4 324.4h0M457.2 322.4h0M457.2 323.0h0M457.9 323.4h0M454.6 323.5h0M451.1 324.3h0M460.5 323.6h0M457.3 324.1h0M457.5 322.3h0M457.5 321.8h0M453.4 323.2h0M457.9 321.6h0M456.1 323.5h0M459.2 323.6h0M458.8 323.3h0M454.2 324.3h0M454.7 322.5h0M453.5 322.1h0M454.3 322.2h0M456.1 323.1h0M454.4 324.9h0M459.4 323.1h0M458.6 322.0h0M462.7 323.2h0M456.7 321.7h0M451.4 324.1h0M454.1 323.1h0M453.9 324.2h0M452.0 323.9h0" stroke="#000" stroke-opacity="0.3" stroke-width="0.7" stroke-linecap="square" fill="none"/>
<path d="M454.7 322.3h0M453.1 322.9h0M456.6 321.9h0M457.5 324.4h0M455.9 322.5h0M460.3 323.6h0M454.3 323.1h0M457.4 322.7h0M457.2 324.8h0M454.5 324.3h0M451.4 323.5h0M456.1 323.2h0M455.8 324.0h0M457.8 324.9h0M451.9 323.2h0M454.8 322.8h0M457.7 323.0h0M454.1 324.4h0M454.7 323.4h0M454.4 323.9h0M457.0 322.3h0M455.8 322.1h0M457.6 323.9h0M458.6 323.9h0M456.5 321.9h0M456.6 324.0h0M455.0 322.2h0M453.9 323.4h0M458.0 322.9h0M454.3 323.3h0M458.1 323.1h0M458.0 322.7h0M456.2 323.1h0M454.8 324.1h0M454.8 322.8h0M455.0 323.1h0M455.6 322.5h0M458.8 323.5h0M453.4 323.3h0M453.7 322.8h0M450.3 322.4h0M457.2 322.9h0M458.4 321.8h0M455.2 323.2h0M455.3 323.6h0M454.5 322.9h0M454.6 322.9h0M455.0 324.6h0M454.2 323.4h0M459.7 322.8h0M453.6 323.0h0M456.6 323.0h0M454.8 322.8h0M453.7 323.5h0M452.8 323.9h0M455.4 323.2h0M453.9 323.6h0M454.2 323.7h0M458.3 322.7h0M457.9 322.9h0M454.6 323.4h0M454.8 322.6h0M452.2 324.0h0M453.8 323.3h0M458.8 324.1h0M454.7 322.6h0M455.6 322.9h0M459.3 322.4h0M453.1 322.4h0M456.3 323.1h0M451.5 322.7h0M451.8 323.0h0M458.7 321.0h0M453.5 323.0h0M455.7 324.2h0M454.1 322.4h0M460.5 321.7h0M455.6 322.1h0M454.6 324.1h0M459.3 323.9h0M456.4 323.3h0M454.1 322.7h0M459.0 322.3h0" stroke="#000" stroke-opacity="0.3" stroke-width="0.7" stroke-linecap="square" fill="none"/>
<path d="M458.2 324.0h0M455.0 323.5h0M456.2 324.2h0M457.4 322.6h0M458.3 322.0h0M454.1 323.1h0M453.9 323.7h0M458.7 320.8h0M457.6 323.3h0M456.5 322.6h0M454.2 322.2h0M456.1 322.9h0M455.8 322.6h0M457.5 321.9h0M456.2 322.7h0M456.8 322.5h0M455.3 323.5h0M453.7 324.9h0M457.6 323.4h0M457.5 322.9h0M459.9 323.4h0M455.5 324.0h0M454.2 323.9h0M453.4 321.1h0M457.0 324.0h0M454.5 322.8h0M458.1 322.7h0M457.5 324.0h0M457.9 322.9h0M456.5 321.5h0M455.7 322.5h0M455.7 323.7h0M451.4 322.5h0M451.9 324.8h0M456.4 322.9h0M456.0 324.7h0M452.1 323.8h0M460.0 323.3h0M452.9 324.3h0M451.4 323.5h0M456.1 321.7h0M456.3 324.4h0M456.8 320.7h0M450.5 325.4h0M454.0 322.8h0M459.8 322.4h0M458.3 322.4h0M451.7 323.0h0M457.5 324.8h0M453.5 323.6h0M450.1 324.9h0M458.9 324.0h0M456.7 323.1h0M457.3 323.6h0M459.9 322.5h0M456.9 322.7h0M456.7 323.3h0M452.1 323.5h0M455.1 322.8h0M459.3 323.2h0M454.0 322.9h0M454.8 322.7h0M455.6 323.0h0M454.1 322.9h0M455.1 323.9h0M458.1 323.3h0M452.5 324.6h0M459.4 321.2h0M461.8 322.1h0M453.0 322.5h0M456.9 323.0h0M453.2 323.0h0M457.6 322.6h0M451.1 324.6h0M455.8 323.9h0M454.3 324.2h0M454.0 322.9h0M456.1 322.4h0M455.5 322.6h0M453.1 323.3h0M454.5 323.3h0M453.9 321.0h0M455.9 324.3h0" stroke="#000" stroke-opacity="0.3" stroke-width="0.7" stroke-linecap="square" fill="none"/>
<ellipse cx="455.8" cy="323.2" rx="2.2" ry="0.8" transform="rotate(-6 455.8 323.2)" fill="#000" fill-opacity="0.6"/>
<rect x="433.2" y="296.4" width="41.4" height="38.1" fill="none" stroke="#888" stroke-width="0.6"/>
<line x1="432.2" y1="331.32" x2="433.2" y2="331.32" stroke="#000" stroke-width="0.5"/>
<line x1="432.2" y1="324.98" x2="433.2" y2="324.98" stroke="#000" stroke-width="0.5"/>
<line x1="432.2" y1="318.62" x2="433.2" y2="318.62" stroke="#000" stroke-width="0.5"/>
<line x1="432.2" y1="312.27" x2="433.2" y2="312.27" stroke="#000" stroke-width="0.5"/>
<line x1="432.2" y1="305.92" x2="433.2" y2="305.92" stroke="#000" stroke-width="0.5"/>
<line x1="432.2" y1="299.57" x2="433.2" y2="299.57" stroke="#000" stroke-width="0.5"/>
<line x1="436.65" y1="334.5" x2="436.65" y2="335.5" stroke="#000" stroke-width="0.5"/>
<line x1="443.55" y1="334.5" x2="443.55" y2="335.5" stroke="#000" stroke-width="0.5"/>
<line x1="450.45" y1="334.5" x2="450.45" y2="335.5" stroke="#000" stroke-width="0.5"/>
<line x1="457.35" y1="334.5" x2="457.35" y2="335.5" stroke="#000" stroke-width="0.5"/>
<line x1="464.25" y1="334.5" x2="464.25" y2="335.5" stroke="#000" stroke-width="0.5"/>
<line x1="471.15" y1="334.5" x2="471.15" y2="335.5" stroke="#000" stroke-width="0.5"/>
<rect x="450.2" y="318" width="14.2" height="15.3" fill="none" stroke="#666" stroke-width="0.5"/>
<text transform="translate(442.5,326) scale(1,1.15)" x="0" y="0" font-size="8.5" text-anchor="middle" font-weight="normal" font-style="normal" fill="#000" stroke="#000" stroke-width="0.12" >AM</text>
<text x="457.3" y="314.7" font-size="3.6" text-anchor="middle" font-weight="normal" font-style="normal" fill="#000" stroke="#000" stroke-width="0.12" >94,8</text>
<path d="M497.1 323.9h0M494.7 322.5h0M501.0 323.3h0M499.8 324.4h0M503.3 322.6h0M500.6 322.3h0M500.6 323.9h0M506.3 322.8h0M501.5 324.1h0M500.7 321.6h0M506.1 321.4h0M500.4 322.5h0M501.0 321.6h0M505.5 325.4h0M499.0 323.3h0M499.2 324.8h0M505.3 323.1h0M497.3 322.0h0M501.9 322.4h0M500.7 322.1h0M502.5 324.2h0M501.0 323.0h0M504.4 321.8h0M497.7 322.4h0M499.0 322.9h0M499.6 322.8h0M501.8 321.4h0M496.3 324.7h0M501.0 322.4h0M500.2 323.8h0M501.6 323.0h0M502.4 324.4h0M498.7 322.6h0M501.3 324.0h0M502.5 321.7h0M500.8 323.4h0M505.7 322.1h0M498.5 323.1h0M498.4 324.1h0M502.4 323.0h0M500.0 323.2h0M500.3 322.9h0M496.7 325.3h0M501.2 323.3h0M505.4 322.0h0M496.4 323.1h0M503.4 323.4h0M504.1 324.1h0M501.5 322.9h0M500.9 322.4h0M501.6 323.0h0M506.1 320.7h0M499.7 323.5h0M499.9 322.8h0M504.9 320.8h0M506.2 321.9h0M500.5 325.1h0M501.2 322.2h0M499.7 323.1h0M500.8 324.5h0M499.3 323.2h0M501.6 323.2h0M500.4 322.4h0M499.2 322.3h0M502.8 323.9h0M497.5 323.6h0M502.1 323.0h0M498.6 322.0h0M503.9 322.2h0M503.5 322.4h0M494.6 322.8h0M501.4 323.8h0M498.8 321.8h0M500.2 324.2h0M506.0 321.8h0M501.6 322.6h0M505.1 323.9h0M503.7 322.4h0M499.7 323.6h0M498.3 323.8h0M501.8 322.0h0M499.3 322.5h0M504.9 322.2h0M501.7 321.9h0" stroke="#000" stroke-opacity="0.3" stroke-width="0.7" stroke-linecap="square" fill="none"/>
<path d="M500.5 323.1h0M501.5 323.3h0M503.6 322.1h0M498.8 321.9h0M500.8 323.1h0M502.1 323.8h0M499.2 323.4h0M504.7 324.2h0M499.5 324.0h0M500.1 323.7h0M499.2 322.6h0M499.4 325.1h0M500.1 324.0h0M500.5 322.3h0M503.6 323.3h0M500.8 321.5h0M500.6 325.4h0M498.6 324.2h0M504.6 322.9h0M502.5 321.5h0M504.6 322.5h0M500.6 324.8h0M500.9 323.7h0M499.2 324.4h0M502.5 323.3h0M499.9 322.7h0M496.9 323.6h0M503.4 322.1h0M498.5 322.0h0M503.1 324.3h0M498.9 322.3h0M501.4 322.6h0M499.9 324.0h0M498.3 323.3h0M500.8 322.7h0M506.2 324.3h0M496.9 323.4h0M500.0 323.6h0M504.7 322.6h0M501.9 322.2h0M499.6 322.4h0M501.1 322.6h0M502.0 323.9h0M500.6 322.4h0M500.2 323.2h0M501.3 323.3h0M496.0 323.8h0M501.8 323.1h0M497.9 322.3h0M502.9 324.0h0M502.2 322.1h0M498.9 322.0h0M501.4 322.4h0M499.3 322.4h0M500.7 323.3h0M497.3 324.1h0M498.9 324.8h0M501.1 323.3h0M500.5 321.9h0M501.6 322.7h0M498.5 323.2h0M501.9 323.4h0M499.4 323.4h0M505.9 323.1h0M504.2 322.8h0M501.8 322.3h0M499.9 323.5h0M503.6 323.4h0M499.5 323.7h0M501.6 322.0h0M501.7 321.7h0M501.0 324.2h0M500.8 323.2h0M501.6 324.2h0M497.2 323.0h0M504.3 323.2h0M499.3 324.5h0M501.5 324.3h0M499.5 323.4h0M504.9 322.7h0M502.3 323.6h0M499.3 324.4h0M503.2 322.6h0" stroke="#000" stroke-opacity="0.3" stroke-width="0.7" stroke-linecap="square" fill="none"/>
<path d="M500.6 325.0h0M499.3 323.7h0M501.6 324.0h0M498.4 323.5h0M502.3 322.1h0M495.7 323.9h0M498.2 324.2h0M500.4 323.3h0M499.1 324.0h0M500.6 323.4h0M501.0 322.7h0M506.8 322.4h0M501.9 322.9h0M502.5 323.8h0M499.1 324.2h0M499.1 324.1h0M498.0 324.4h0M501.6 322.9h0M502.1 321.8h0M502.8 324.0h0M499.8 322.9h0M501.1 322.8h0M502.4 321.9h0M500.8 323.5h0M500.4 324.1h0M502.7 321.6h0M501.6 323.0h0M503.9 322.3h0M500.4 323.8h0M503.4 323.0h0M504.8 322.0h0M502.1 324.5h0M502.8 322.5h0M502.1 323.7h0M501.6 323.5h0M503.2 323.0h0M498.7 321.3h0M502.5 323.6h0M500.5 323.7h0M496.8 323.1h0M501.5 323.6h0M502.0 322.6h0M500.5 323.1h0M502.4 323.1h0M496.5 322.9h0M503.4 323.1h0M497.6 324.1h0M498.0 324.2h0M500.0 324.0h0M501.6 322.9h0M503.9 322.9h0M501.1 323.5h0M500.8 322.1h0M501.7 323.1h0M502.3 323.3h0M499.1 323.5h0M502.0 323.2h0M500.1 322.1h0M501.4 324.2h0M498.6 322.3h0M504.8 321.0h0M500.9 322.9h0M501.2 323.3h0M503.1 323.2h0M502.4 323.8h0M499.8 324.3h0M508.7 322.5h0M499.1 324.7h0M501.1 323.6h0M502.6 324.0h0M501.2 323.7h0M500.3 322.8h0M500.5 322.4h0M502.0 322.7h0M501.7 323.8h0M501.5 322.7h0M501.7 322.9h0M501.5 321.9h0M502.7 322.5h0M502.2 323.6h0M499.5 323.8h0M503.3 323.2h0M496.5 324.5h0" stroke="#000" stroke-opacity="0.3" stroke-width="0.7" stroke-linecap="square" fill="none"/>
<ellipse cx="501.1" cy="323.2" rx="2.2" ry="0.8" transform="rotate(-6 501.1 323.2)" fill="#000" fill-opacity="0.6"/>
<rect x="478.5" y="296.4" width="40.8" height="38.1" fill="none" stroke="#888" stroke-width="0.6"/>
<line x1="477.5" y1="331.32" x2="478.5" y2="331.32" stroke="#000" stroke-width="0.5"/>
<line x1="477.5" y1="324.98" x2="478.5" y2="324.98" stroke="#000" stroke-width="0.5"/>
<line x1="477.5" y1="318.62" x2="478.5" y2="318.62" stroke="#000" stroke-width="0.5"/>
<line x1="477.5" y1="312.27" x2="478.5" y2="312.27" stroke="#000" stroke-width="0.5"/>
<line x1="477.5" y1="305.92" x2="478.5" y2="305.92" stroke="#000" stroke-width="0.5"/>
<line x1="477.5" y1="299.57" x2="478.5" y2="299.57" stroke="#000" stroke-width="0.5"/>
<line x1="481.9" y1="334.5" x2="481.9" y2="335.5" stroke="#000" stroke-width="0.5"/>
<line x1="488.7" y1="334.5" x2="488.7" y2="335.5" stroke="#000" stroke-width="0.5"/>
<line x1="495.5" y1="334.5" x2="495.5" y2="335.5" stroke="#000" stroke-width="0.5"/>
<line x1="502.3" y1="334.5" x2="502.3" y2="335.5" stroke="#000" stroke-width="0.5"/>
<line x1="509.1" y1="334.5" x2="509.1" y2="335.5" stroke="#000" stroke-width="0.5"/>
<line x1="515.9" y1="334.5" x2="515.9" y2="335.5" stroke="#000" stroke-width="0.5"/>
<rect x="495.5" y="318" width="14.2" height="15.3" fill="none" stroke="#666" stroke-width="0.5"/>
<text transform="translate(487.8,326) scale(1,1.15)" x="0" y="0" font-size="8.5" text-anchor="middle" font-weight="normal" font-style="normal" fill="#000" stroke="#000" stroke-width="0.12" >AM</text>
<text x="502.6" y="314.7" font-size="3.6" text-anchor="middle" font-weight="normal" font-style="normal" fill="#000" stroke="#000" stroke-width="0.12" >92,1</text>
<polyline points="376.1,338.4 376.1,312.2" fill="none" stroke="#000" stroke-width="1.3"/>
<polygon points="376.1,308.7 378.1,312.5 374.1,312.5" fill="#000"/>
<polyline points="375.45,338.4 400.6,338.4" fill="none" stroke="#000" stroke-width="1.3"/>
<polygon points="404.1,338.4 400.3,340.4 400.3,336.4" fill="#000"/>
<text transform="translate(368.9,326.5) rotate(-90) scale(1,1.15)" x="0" y="2.74" font-size="7.6" text-anchor="middle" font-weight="normal" stroke="#000" stroke-width="0.12">CD11b</text>
<text transform="translate(372.2,347.6) scale(1,1.15)" x="0" y="0" font-size="7.9" text-anchor="start" font-weight="normal" font-style="normal" fill="#000" stroke="#000" stroke-width="0.12" >F4/80</text>
<text x="83.9" y="152.7" font-size="15.6" text-anchor="start" font-weight="normal" font-style="normal" fill="#000" >C</text>
<rect x="93.1" y="216" width="2.4" height="6.3" fill="#777" stroke="#000" stroke-width="0.45"/>
<line x1="94.3" y1="215.1" x2="94.3" y2="216" stroke="#000" stroke-width="0.35"/>
<rect x="95.9" y="218" width="4.4" height="4.3" fill="#fff" stroke="#000" stroke-width="0.45"/>
<line x1="98.1" y1="217.1" x2="98.1" y2="218" stroke="#000" stroke-width="0.35"/>
<rect x="100.9" y="217" width="2.5" height="5.3" fill="#000" stroke="#000" stroke-width="0.45"/>
<line x1="102.15" y1="216.1" x2="102.15" y2="217" stroke="#000" stroke-width="0.35"/>
<rect x="106.8" y="203.3" width="2.4" height="19" fill="#777" stroke="#000" stroke-width="0.45"/>
<line x1="108" y1="202.4" x2="108" y2="203.3" stroke="#000" stroke-width="0.35"/>
<rect x="109.6" y="203.5" width="4.4" height="18.8" fill="#fff" stroke="#000" stroke-width="0.45"/>
<line x1="111.8" y1="202.6" x2="111.8" y2="203.5" stroke="#000" stroke-width="0.35"/>
<rect x="114.6" y="204.5" width="2.5" height="17.8" fill="#000" stroke="#000" stroke-width="0.45"/>
<line x1="115.85" y1="203.6" x2="115.85" y2="204.5" stroke="#000" stroke-width="0.35"/>
<rect x="120.8" y="191.7" width="2.4" height="30.6" fill="#777" stroke="#000" stroke-width="0.45"/>
<line x1="122" y1="190.8" x2="122" y2="191.7" stroke="#000" stroke-width="0.35"/>
<rect x="123.6" y="189.1" width="4.4" height="33.2" fill="#fff" stroke="#000" stroke-width="0.45"/>
<line x1="125.8" y1="188.2" x2="125.8" y2="189.1" stroke="#000" stroke-width="0.35"/>
<rect x="128.6" y="190.5" width="2.5" height="31.8" fill="#000" stroke="#000" stroke-width="0.45"/>
<line x1="129.85" y1="189.6" x2="129.85" y2="190.5" stroke="#000" stroke-width="0.35"/>
<rect x="134.8" y="187" width="2.4" height="35.3" fill="#777" stroke="#000" stroke-width="0.45"/>
<line x1="136" y1="186.1" x2="136" y2="187" stroke="#000" stroke-width="0.35"/>
<rect x="137.6" y="185.6" width="4.4" height="36.7" fill="#fff" stroke="#000" stroke-width="0.45"/>
<line x1="139.8" y1="184.7" x2="139.8" y2="185.6" stroke="#000" stroke-width="0.35"/>
<rect x="142.6" y="186.3" width="2.5" height="36" fill="#000" stroke="#000" stroke-width="0.45"/>
<line x1="143.85" y1="185.4" x2="143.85" y2="186.3" stroke="#000" stroke-width="0.35"/>
<rect x="149" y="205.4" width="2.4" height="16.9" fill="#777" stroke="#000" stroke-width="0.45"/>
<line x1="150.2" y1="204.5" x2="150.2" y2="205.4" stroke="#000" stroke-width="0.35"/>
<rect x="151.8" y="205" width="4.4" height="17.3" fill="#fff" stroke="#000" stroke-width="0.45"/>
<line x1="154" y1="204.1" x2="154" y2="205" stroke="#000" stroke-width="0.35"/>
<rect x="156.8" y="207.8" width="2.5" height="14.5" fill="#000" stroke="#000" stroke-width="0.45"/>
<line x1="158.05" y1="206.9" x2="158.05" y2="207.8" stroke="#000" stroke-width="0.35"/>
<rect x="163.1" y="186.8" width="2.4" height="35.5" fill="#777" stroke="#000" stroke-width="0.45"/>
<line x1="164.3" y1="185.9" x2="164.3" y2="186.8" stroke="#000" stroke-width="0.35"/>
<rect x="165.9" y="189.4" width="4.4" height="32.9" fill="#fff" stroke="#000" stroke-width="0.45"/>
<line x1="168.1" y1="188.5" x2="168.1" y2="189.4" stroke="#000" stroke-width="0.35"/>
<rect x="170.9" y="187.9" width="2.5" height="34.4" fill="#000" stroke="#000" stroke-width="0.45"/>
<line x1="172.15" y1="187" x2="172.15" y2="187.9" stroke="#000" stroke-width="0.35"/>
<rect x="177.2" y="178.5" width="2.4" height="43.8" fill="#777" stroke="#000" stroke-width="0.45"/>
<line x1="178.4" y1="177.6" x2="178.4" y2="178.5" stroke="#000" stroke-width="0.35"/>
<rect x="180" y="179.3" width="4.4" height="43" fill="#fff" stroke="#000" stroke-width="0.45"/>
<line x1="182.2" y1="178.4" x2="182.2" y2="179.3" stroke="#000" stroke-width="0.35"/>
<rect x="185" y="179.6" width="2.5" height="42.7" fill="#000" stroke="#000" stroke-width="0.45"/>
<line x1="186.25" y1="178.7" x2="186.25" y2="179.6" stroke="#000" stroke-width="0.35"/>
<line x1="91.4" y1="161" x2="91.4" y2="222.3" stroke="#000" stroke-width="0.5"/>
<line x1="91.4" y1="222.3" x2="189" y2="222.3" stroke="#000" stroke-width="0.5"/>
<rect x="89.9" y="205.9" width="99.6" height="1.7" fill="#fff"/>
<line x1="90.4" y1="161.4" x2="91.4" y2="161.4" stroke="#000" stroke-width="0.4"/>
<text x="90.2" y="162.7" font-size="3.6" text-anchor="end" font-weight="normal" font-style="normal" fill="#000" stroke="#000" stroke-width="0.12" >150</text>
<line x1="90.4" y1="176.9" x2="91.4" y2="176.9" stroke="#000" stroke-width="0.4"/>
<text x="90.2" y="178.2" font-size="3.6" text-anchor="end" font-weight="normal" font-style="normal" fill="#000" stroke="#000" stroke-width="0.12" >100</text>
<line x1="90.4" y1="192.4" x2="91.4" y2="192.4" stroke="#000" stroke-width="0.4"/>
<text x="90.2" y="193.7" font-size="3.6" text-anchor="end" font-weight="normal" font-style="normal" fill="#000" stroke="#000" stroke-width="0.12" >50</text>
<line x1="90.4" y1="208.2" x2="91.4" y2="208.2" stroke="#000" stroke-width="0.4"/>
<text x="90.2" y="209.5" font-size="3.6" text-anchor="end" font-weight="normal" font-style="normal" fill="#000" stroke="#000" stroke-width="0.12" ></text>
<line x1="90.4" y1="211.3" x2="91.4" y2="211.3" stroke="#000" stroke-width="0.4"/>
<text x="90.2" y="212.6" font-size="3.6" text-anchor="end" font-weight="normal" font-style="normal" fill="#000" stroke="#000" stroke-width="0.12" ></text>
<line x1="90.4" y1="214.4" x2="91.4" y2="214.4" stroke="#000" stroke-width="0.4"/>
<text x="90.2" y="215.7" font-size="3.6" text-anchor="end" font-weight="normal" font-style="normal" fill="#000" stroke="#000" stroke-width="0.12" ></text>
<line x1="90.4" y1="217.5" x2="91.4" y2="217.5" stroke="#000" stroke-width="0.4"/>
<text x="90.2" y="218.8" font-size="3.6" text-anchor="end" font-weight="normal" font-style="normal" fill="#000" stroke="#000" stroke-width="0.12" ></text>
<line x1="90.4" y1="220.6" x2="91.4" y2="220.6" stroke="#000" stroke-width="0.4"/>
<text x="90.2" y="221.9" font-size="3.6" text-anchor="end" font-weight="normal" font-style="normal" fill="#000" stroke="#000" stroke-width="0.12" ></text>
<line x1="98.2" y1="222.3" x2="98.2" y2="223.3" stroke="#000" stroke-width="0.4"/>
<text transform="translate(99.6,227.3) rotate(-43)" x="0" y="0" font-size="5.3" text-anchor="end" stroke="#000" stroke-width="0.12">Eosinophils</text>
<line x1="111.9" y1="222.3" x2="111.9" y2="223.3" stroke="#000" stroke-width="0.4"/>
<text transform="translate(113.3,227.3) rotate(-43)" x="0" y="0" font-size="5.3" text-anchor="end" stroke="#000" stroke-width="0.12">Neutrophils</text>
<line x1="125.9" y1="222.3" x2="125.9" y2="223.3" stroke="#000" stroke-width="0.4"/>
<text transform="translate(127.3,227.3) rotate(-43)" x="0" y="0" font-size="5.3" text-anchor="end" stroke="#000" stroke-width="0.12">CD4<tspan font-size="3" dy="-1.6">+</tspan><tspan dy="1.6"> cells</tspan></text>
<line x1="139.9" y1="222.3" x2="139.9" y2="223.3" stroke="#000" stroke-width="0.4"/>
<text transform="translate(141.3,227.3) rotate(-43)" x="0" y="0" font-size="5.3" text-anchor="end" stroke="#000" stroke-width="0.12">B-cells</text>
<line x1="154.1" y1="222.3" x2="154.1" y2="223.3" stroke="#000" stroke-width="0.4"/>
<text transform="translate(155.5,227.3) rotate(-43)" x="0" y="0" font-size="5.3" text-anchor="end" stroke="#000" stroke-width="0.12">NK cells</text>
<line x1="168.2" y1="222.3" x2="168.2" y2="223.3" stroke="#000" stroke-width="0.4"/>
<text transform="translate(169.6,227.3) rotate(-43)" x="0" y="0" font-size="5.3" text-anchor="end" stroke="#000" stroke-width="0.12">Interstitial macrophages</text>
<line x1="182.3" y1="222.3" x2="182.3" y2="223.3" stroke="#000" stroke-width="0.4"/>
<text transform="translate(183.7,227.3) rotate(-43)" x="0" y="0" font-size="5.3" text-anchor="end" stroke="#000" stroke-width="0.12">Alveolar macrophages</text>
<text transform="translate(76.9,191) rotate(-90) scale(1,1.0)" x="0" y="2.27" font-size="6.3" text-anchor="middle" font-weight="normal" stroke="#000" stroke-width="0.18">% Lung leukocytes</text>
<rect x="88.3" y="207.6" width="1.6" height="1.2" fill="#000" fill-opacity="0.6"/>
<rect x="88.3" y="210.7" width="1.6" height="1.2" fill="#000" fill-opacity="0.6"/>
<rect x="88.3" y="213.8" width="1.6" height="1.2" fill="#000" fill-opacity="0.6"/>
<rect x="88.3" y="216.9" width="1.6" height="1.2" fill="#000" fill-opacity="0.6"/>
<rect x="88.3" y="220" width="1.6" height="1.2" fill="#000" fill-opacity="0.6"/>
<rect x="98.7" y="161.4" width="2.8" height="3.4" fill="#777" stroke="#000" stroke-width="0.45"/>
<rect x="98.7" y="169.7" width="2.8" height="3.3" fill="#fff" stroke="#000" stroke-width="0.45"/>
<rect x="98.7" y="177.7" width="2.8" height="3.1" fill="#000" stroke="#000" stroke-width="0.45"/>
<text x="103.3" y="164.9" font-size="5" text-anchor="start" font-weight="normal" font-style="normal" fill="#000" stroke="#000" stroke-width="0.15" >WT</text>
<text x="103.3" y="173.1" font-size="4.95" font-style="italic" stroke="#000" stroke-width="0.15">Cx3cr1<tspan font-size="3.0" dy="-1.9">creERT2</tspan><tspan dy="1.9">-Plxnd1</tspan><tspan font-size="3.0" dy="-1.9">fl/fl</tspan></text>
<text x="103.3" y="181.1" font-size="4.95" font-style="italic" stroke="#000" stroke-width="0.15">Cx3cr1<tspan font-size="3.0" dy="-1.9">creERT2</tspan><tspan dy="1.9">-Plxnd1</tspan><tspan font-style="normal"> KO</tspan></text>
<text transform="translate(206,152.5) scale(1,1.03)" x="0" y="0" font-size="14.6" text-anchor="start" font-weight="normal" font-style="normal" fill="#000" >D</text>
<rect x="213.8" y="220.4" width="3.1" height="2" fill="#777" stroke="#000" stroke-width="0.45"/>
<line x1="215.35" y1="219.5" x2="215.35" y2="220.4" stroke="#000" stroke-width="0.35"/>
<rect x="217.3" y="219" width="4.6" height="3.4" fill="#fff" stroke="#000" stroke-width="0.45"/>
<line x1="219.6" y1="218.1" x2="219.6" y2="219" stroke="#000" stroke-width="0.35"/>
<rect x="222.5" y="219.2" width="3.2" height="3.2" fill="#000" stroke="#000" stroke-width="0.45"/>
<line x1="224.1" y1="218.3" x2="224.1" y2="219.2" stroke="#000" stroke-width="0.35"/>
<rect x="230" y="210.4" width="3.1" height="12" fill="#777" stroke="#000" stroke-width="0.45"/>
<line x1="231.55" y1="209.5" x2="231.55" y2="210.4" stroke="#000" stroke-width="0.35"/>
<rect x="233.5" y="212.4" width="4.6" height="10" fill="#fff" stroke="#000" stroke-width="0.45"/>
<line x1="235.8" y1="211.5" x2="235.8" y2="212.4" stroke="#000" stroke-width="0.35"/>
<rect x="238.7" y="212.6" width="3.2" height="9.8" fill="#000" stroke="#000" stroke-width="0.45"/>
<line x1="240.3" y1="211.7" x2="240.3" y2="212.6" stroke="#000" stroke-width="0.35"/>
<rect x="246.6" y="178" width="3.1" height="44.4" fill="#777" stroke="#000" stroke-width="0.45"/>
<line x1="248.15" y1="177.1" x2="248.15" y2="178" stroke="#000" stroke-width="0.35"/>
<rect x="250.1" y="178" width="4.6" height="44.4" fill="#fff" stroke="#000" stroke-width="0.45"/>
<line x1="252.4" y1="177.1" x2="252.4" y2="178" stroke="#000" stroke-width="0.35"/>
<rect x="255.3" y="177.4" width="3.2" height="45" fill="#000" stroke="#000" stroke-width="0.45"/>
<line x1="256.9" y1="176.5" x2="256.9" y2="177.4" stroke="#000" stroke-width="0.35"/>
<rect x="263.2" y="166.6" width="3.1" height="55.8" fill="#777" stroke="#000" stroke-width="0.45"/>
<line x1="264.75" y1="165.7" x2="264.75" y2="166.6" stroke="#000" stroke-width="0.35"/>
<rect x="266.7" y="167" width="4.6" height="55.4" fill="#fff" stroke="#000" stroke-width="0.45"/>
<line x1="269" y1="166.1" x2="269" y2="167" stroke="#000" stroke-width="0.35"/>
<rect x="271.9" y="166.6" width="3.2" height="55.8" fill="#000" stroke="#000" stroke-width="0.45"/>
<line x1="273.5" y1="165.7" x2="273.5" y2="166.6" stroke="#000" stroke-width="0.35"/>
<rect x="279.2" y="214.6" width="3.1" height="7.8" fill="#777" stroke="#000" stroke-width="0.45"/>
<line x1="280.75" y1="213.7" x2="280.75" y2="214.6" stroke="#000" stroke-width="0.35"/>
<rect x="282.7" y="211" width="4.6" height="11.4" fill="#fff" stroke="#000" stroke-width="0.45"/>
<line x1="285" y1="210.1" x2="285" y2="211" stroke="#000" stroke-width="0.35"/>
<rect x="287.9" y="210.4" width="3.2" height="12" fill="#000" stroke="#000" stroke-width="0.45"/>
<line x1="289.5" y1="209.5" x2="289.5" y2="210.4" stroke="#000" stroke-width="0.35"/>
<rect x="295.8" y="221.2" width="3.1" height="1.2" fill="#777" stroke="#000" stroke-width="0.45"/>
<line x1="297.35" y1="220.3" x2="297.35" y2="221.2" stroke="#000" stroke-width="0.35"/>
<rect x="299.3" y="220.6" width="4.6" height="1.8" fill="#fff" stroke="#000" stroke-width="0.45"/>
<line x1="301.6" y1="219.7" x2="301.6" y2="220.6" stroke="#000" stroke-width="0.35"/>
<rect x="304.5" y="220.4" width="3.2" height="2" fill="#000" stroke="#000" stroke-width="0.45"/>
<line x1="306.1" y1="219.5" x2="306.1" y2="220.4" stroke="#000" stroke-width="0.35"/>
<line x1="212.5" y1="161.3" x2="212.5" y2="222.4" stroke="#000" stroke-width="0.5"/>
<line x1="212.5" y1="222.4" x2="309" y2="222.4" stroke="#000" stroke-width="0.5"/>
<rect x="211" y="196.3" width="98.5" height="2.1" fill="#fff"/>
<line x1="211.5" y1="162" x2="212.5" y2="162" stroke="#000" stroke-width="0.4"/>
<text x="211.3" y="163.01" font-size="2.8" text-anchor="end" font-weight="normal" font-style="normal" fill="#000" stroke="#000" stroke-width="0.12" >100</text>
<line x1="211.5" y1="169.6" x2="212.5" y2="169.6" stroke="#000" stroke-width="0.4"/>
<text x="211.3" y="170.61" font-size="2.8" text-anchor="end" font-weight="normal" font-style="normal" fill="#000" stroke="#000" stroke-width="0.12" >80</text>
<line x1="211.5" y1="177" x2="212.5" y2="177" stroke="#000" stroke-width="0.4"/>
<text x="211.3" y="178.01" font-size="2.8" text-anchor="end" font-weight="normal" font-style="normal" fill="#000" stroke="#000" stroke-width="0.12" >60</text>
<line x1="211.5" y1="184.6" x2="212.5" y2="184.6" stroke="#000" stroke-width="0.4"/>
<text x="211.3" y="185.61" font-size="2.8" text-anchor="end" font-weight="normal" font-style="normal" fill="#000" stroke="#000" stroke-width="0.12" >40</text>
<line x1="211.5" y1="192" x2="212.5" y2="192" stroke="#000" stroke-width="0.4"/>
<text x="211.3" y="193.01" font-size="2.8" text-anchor="end" font-weight="normal" font-style="normal" fill="#000" stroke="#000" stroke-width="0.12" >20</text>
<line x1="211.5" y1="199.6" x2="212.5" y2="199.6" stroke="#000" stroke-width="0.4"/>
<text x="211.3" y="200.61" font-size="2.8" text-anchor="end" font-weight="normal" font-style="normal" fill="#000" stroke="#000" stroke-width="0.12" >8</text>
<line x1="211.5" y1="205" x2="212.5" y2="205" stroke="#000" stroke-width="0.4"/>
<text x="211.3" y="206.01" font-size="2.8" text-anchor="end" font-weight="normal" font-style="normal" fill="#000" stroke="#000" stroke-width="0.12" >6</text>
<line x1="211.5" y1="210.5" x2="212.5" y2="210.5" stroke="#000" stroke-width="0.4"/>
<text x="211.3" y="211.51" font-size="2.8" text-anchor="end" font-weight="normal" font-style="normal" fill="#000" stroke="#000" stroke-width="0.12" >4</text>
<line x1="211.5" y1="216" x2="212.5" y2="216" stroke="#000" stroke-width="0.4"/>
<text x="211.3" y="217.01" font-size="2.8" text-anchor="end" font-weight="normal" font-style="normal" fill="#000" stroke="#000" stroke-width="0.12" >2</text>
<line x1="211.5" y1="221.6" x2="212.5" y2="221.6" stroke="#000" stroke-width="0.4"/>
<text x="211.3" y="222.61" font-size="2.8" text-anchor="end" font-weight="normal" font-style="normal" fill="#000" stroke="#000" stroke-width="0.12" >0</text>
<line x1="219.9" y1="222.4" x2="219.9" y2="223.4" stroke="#000" stroke-width="0.4"/>
<text transform="translate(220.5,225.3) rotate(-43)" x="0" y="0" font-size="4.4" text-anchor="end" stroke="#000" stroke-width="0.12">Eosinophils</text>
<line x1="236.1" y1="222.4" x2="236.1" y2="223.4" stroke="#000" stroke-width="0.4"/>
<text transform="translate(236.7,225.3) rotate(-43)" x="0" y="0" font-size="4.4" text-anchor="end" stroke="#000" stroke-width="0.12">Neutrophils</text>
<line x1="252.7" y1="222.4" x2="252.7" y2="223.4" stroke="#000" stroke-width="0.4"/>
<text transform="translate(253.3,225.3) rotate(-43)" x="0" y="0" font-size="4.4" text-anchor="end" stroke="#000" stroke-width="0.12">CD4<tspan font-size="3" dy="-1.6">+</tspan><tspan dy="1.6"> cells</tspan></text>
<line x1="269.3" y1="222.4" x2="269.3" y2="223.4" stroke="#000" stroke-width="0.4"/>
<text transform="translate(269.9,225.3) rotate(-43)" x="0" y="0" font-size="4.4" text-anchor="end" stroke="#000" stroke-width="0.12">B-cells</text>
<line x1="285.3" y1="222.4" x2="285.3" y2="223.4" stroke="#000" stroke-width="0.4"/>
<text transform="translate(285.9,225.3) rotate(-43)" x="0" y="0" font-size="4.4" text-anchor="end" stroke="#000" stroke-width="0.12">NK cells</text>
<line x1="301.9" y1="222.4" x2="301.9" y2="223.4" stroke="#000" stroke-width="0.4"/>
<text transform="translate(302.5,225.3) rotate(-43)" x="0" y="0" font-size="4.4" text-anchor="end" stroke="#000" stroke-width="0.12">Macrophages</text>
<text transform="translate(201.2,192) rotate(-90) scale(1,1.0)" x="0" y="2.27" font-size="6.3" text-anchor="middle" font-weight="normal" stroke="#000" stroke-width="0.18">% Spleen leukocytes</text>
<text transform="translate(84.1,263) scale(1,1.07)" x="0" y="0" font-size="14.4" text-anchor="start" font-weight="normal" font-style="normal" fill="#000" >E</text>
<rect x="93.2" y="327" width="2.6" height="3.4" fill="#777" stroke="#000" stroke-width="0.45"/>
<line x1="94.5" y1="326.1" x2="94.5" y2="327" stroke="#000" stroke-width="0.35"/>
<rect x="96.2" y="327.4" width="5.5" height="3" fill="#fff" stroke="#000" stroke-width="0.45"/>
<line x1="98.95" y1="326.5" x2="98.95" y2="327.4" stroke="#000" stroke-width="0.35"/>
<rect x="102.3" y="328" width="2.6" height="2.4" fill="#000" stroke="#000" stroke-width="0.45"/>
<line x1="103.6" y1="327.1" x2="103.6" y2="328" stroke="#000" stroke-width="0.35"/>
<rect x="109.2" y="328.4" width="2.6" height="2" fill="#777" stroke="#000" stroke-width="0.45"/>
<line x1="110.5" y1="327.5" x2="110.5" y2="328.4" stroke="#000" stroke-width="0.35"/>
<rect x="112.2" y="327.6" width="5.5" height="2.8" fill="#fff" stroke="#000" stroke-width="0.45"/>
<line x1="114.95" y1="326.7" x2="114.95" y2="327.6" stroke="#000" stroke-width="0.35"/>
<rect x="118.3" y="327.4" width="2.6" height="3" fill="#000" stroke="#000" stroke-width="0.45"/>
<line x1="119.6" y1="326.5" x2="119.6" y2="327.4" stroke="#000" stroke-width="0.35"/>
<rect x="125.2" y="292" width="2.6" height="38.4" fill="#777" stroke="#000" stroke-width="0.45"/>
<line x1="126.5" y1="291.1" x2="126.5" y2="292" stroke="#000" stroke-width="0.35"/>
<rect x="128.2" y="292.4" width="5.5" height="38" fill="#fff" stroke="#000" stroke-width="0.45"/>
<line x1="130.95" y1="291.5" x2="130.95" y2="292.4" stroke="#000" stroke-width="0.35"/>
<rect x="134.3" y="291.4" width="2.6" height="39" fill="#000" stroke="#000" stroke-width="0.45"/>
<line x1="135.6" y1="290.5" x2="135.6" y2="291.4" stroke="#000" stroke-width="0.35"/>
<rect x="141.6" y="284.6" width="2.6" height="45.8" fill="#777" stroke="#000" stroke-width="0.45"/>
<line x1="142.9" y1="283.7" x2="142.9" y2="284.6" stroke="#000" stroke-width="0.35"/>
<rect x="144.6" y="284" width="5.5" height="46.4" fill="#fff" stroke="#000" stroke-width="0.45"/>
<line x1="147.35" y1="283.1" x2="147.35" y2="284" stroke="#000" stroke-width="0.35"/>
<rect x="150.7" y="284" width="2.6" height="46.4" fill="#000" stroke="#000" stroke-width="0.45"/>
<line x1="152" y1="283.1" x2="152" y2="284" stroke="#000" stroke-width="0.35"/>
<rect x="157.8" y="319" width="2.6" height="11.4" fill="#777" stroke="#000" stroke-width="0.45"/>
<line x1="159.1" y1="318.1" x2="159.1" y2="319" stroke="#000" stroke-width="0.35"/>
<rect x="160.8" y="318.6" width="5.5" height="11.8" fill="#fff" stroke="#000" stroke-width="0.45"/>
<line x1="163.55" y1="317.7" x2="163.55" y2="318.6" stroke="#000" stroke-width="0.35"/>
<rect x="166.9" y="320.4" width="2.6" height="10" fill="#000" stroke="#000" stroke-width="0.45"/>
<line x1="168.2" y1="319.5" x2="168.2" y2="320.4" stroke="#000" stroke-width="0.35"/>
<rect x="174.2" y="325.4" width="2.6" height="5" fill="#777" stroke="#000" stroke-width="0.45"/>
<line x1="175.5" y1="324.5" x2="175.5" y2="325.4" stroke="#000" stroke-width="0.35"/>
<rect x="177.2" y="326" width="5.5" height="4.4" fill="#fff" stroke="#000" stroke-width="0.45"/>
<line x1="179.95" y1="325.1" x2="179.95" y2="326" stroke="#000" stroke-width="0.35"/>
<rect x="183.3" y="327.4" width="2.6" height="3" fill="#000" stroke="#000" stroke-width="0.45"/>
<line x1="184.6" y1="326.5" x2="184.6" y2="327.4" stroke="#000" stroke-width="0.35"/>
<line x1="91.6" y1="270.4" x2="91.6" y2="330.4" stroke="#000" stroke-width="0.5"/>
<line x1="91.6" y1="330.4" x2="188" y2="330.4" stroke="#000" stroke-width="0.5"/>
<rect x="90.1" y="305.4" width="98.4" height="2.5" fill="#fff"/>
<line x1="90.6" y1="271" x2="91.6" y2="271" stroke="#000" stroke-width="0.4"/>
<text x="90.4" y="272.22" font-size="3.4" text-anchor="end" font-weight="normal" font-style="normal" fill="#000" stroke="#000" stroke-width="0.12" >150</text>
<line x1="90.6" y1="282.4" x2="91.6" y2="282.4" stroke="#000" stroke-width="0.4"/>
<text x="90.4" y="283.62" font-size="3.4" text-anchor="end" font-weight="normal" font-style="normal" fill="#000" stroke="#000" stroke-width="0.12" >100</text>
<line x1="90.6" y1="294" x2="91.6" y2="294" stroke="#000" stroke-width="0.4"/>
<text x="90.4" y="295.22" font-size="3.4" text-anchor="end" font-weight="normal" font-style="normal" fill="#000" stroke="#000" stroke-width="0.12" >50</text>
<line x1="90.6" y1="307.2" x2="91.6" y2="307.2" stroke="#000" stroke-width="0.4"/>
<text x="90.4" y="308.42" font-size="3.4" text-anchor="end" font-weight="normal" font-style="normal" fill="#000" stroke="#000" stroke-width="0.12" >2.0</text>
<line x1="90.6" y1="312.6" x2="91.6" y2="312.6" stroke="#000" stroke-width="0.4"/>
<text x="90.4" y="313.82" font-size="3.4" text-anchor="end" font-weight="normal" font-style="normal" fill="#000" stroke="#000" stroke-width="0.12" >1.5</text>
<line x1="90.6" y1="318.4" x2="91.6" y2="318.4" stroke="#000" stroke-width="0.4"/>
<text x="90.4" y="319.62" font-size="3.4" text-anchor="end" font-weight="normal" font-style="normal" fill="#000" stroke="#000" stroke-width="0.12" >1.0</text>
<line x1="90.6" y1="324.4" x2="91.6" y2="324.4" stroke="#000" stroke-width="0.4"/>
<text x="90.4" y="325.62" font-size="3.4" text-anchor="end" font-weight="normal" font-style="normal" fill="#000" stroke="#000" stroke-width="0.12" >0.5</text>
<line x1="90.6" y1="330" x2="91.6" y2="330" stroke="#000" stroke-width="0.4"/>
<text x="90.4" y="331.22" font-size="3.4" text-anchor="end" font-weight="normal" font-style="normal" fill="#000" stroke="#000" stroke-width="0.12" >0.0</text>
<line x1="99" y1="330.4" x2="99" y2="331.4" stroke="#000" stroke-width="0.4"/>
<text transform="translate(99.5,334) rotate(-43)" x="0" y="0" font-size="4.8" text-anchor="end" stroke="#000" stroke-width="0.12">Eosinophils</text>
<line x1="115" y1="330.4" x2="115" y2="331.4" stroke="#000" stroke-width="0.4"/>
<text transform="translate(115.5,334) rotate(-43)" x="0" y="0" font-size="4.8" text-anchor="end" stroke="#000" stroke-width="0.12">Neutrophils</text>
<line x1="131" y1="330.4" x2="131" y2="331.4" stroke="#000" stroke-width="0.4"/>
<text transform="translate(131.5,334) rotate(-43)" x="0" y="0" font-size="4.8" text-anchor="end" stroke="#000" stroke-width="0.12">CD4<tspan font-size="3" dy="-1.6">+</tspan><tspan dy="1.6"> cells</tspan></text>
<line x1="147.4" y1="330.4" x2="147.4" y2="331.4" stroke="#000" stroke-width="0.4"/>
<text transform="translate(147.9,334) rotate(-43)" x="0" y="0" font-size="4.8" text-anchor="end" stroke="#000" stroke-width="0.12">B-cells</text>
<line x1="163.6" y1="330.4" x2="163.6" y2="331.4" stroke="#000" stroke-width="0.4"/>
<text transform="translate(164.1,334) rotate(-43)" x="0" y="0" font-size="4.8" text-anchor="end" stroke="#000" stroke-width="0.12">NK cells</text>
<line x1="180" y1="330.4" x2="180" y2="331.4" stroke="#000" stroke-width="0.4"/>
<text transform="translate(180.5,334) rotate(-43)" x="0" y="0" font-size="4.8" text-anchor="end" stroke="#000" stroke-width="0.12">Macrophages</text>
<text transform="translate(69.6,299.3) rotate(-90) scale(1,1.0)" x="0" y="2.3" font-size="6.4" text-anchor="middle" font-weight="normal" stroke="#000" stroke-width="0.18">% Lymph node</text>
<text transform="translate(78,299.3) rotate(-90) scale(1,1.0)" x="0" y="2.3" font-size="6.4" text-anchor="middle" font-weight="normal" stroke="#000" stroke-width="0.18">leukocytes</text>
<text transform="translate(206,263) scale(1,1.07)" x="0" y="0" font-size="14.4" text-anchor="start" font-weight="normal" font-style="normal" fill="#000" >F</text>
<rect x="214.1" y="328" width="3.5" height="2.2" fill="#777" stroke="#000" stroke-width="0.45"/>
<line x1="215.85" y1="327.1" x2="215.85" y2="328" stroke="#000" stroke-width="0.35"/>
<rect x="218.5" y="329.1" width="5.5" height="1.1" fill="#fff" stroke="#000" stroke-width="0.45"/>
<line x1="221.25" y1="328.2" x2="221.25" y2="329.1" stroke="#000" stroke-width="0.35"/>
<rect x="225.4" y="328.5" width="3.6" height="1.7" fill="#000" stroke="#000" stroke-width="0.45"/>
<line x1="227.2" y1="327.6" x2="227.2" y2="328.5" stroke="#000" stroke-width="0.35"/>
<rect x="234.4" y="320.4" width="3.5" height="9.8" fill="#777" stroke="#000" stroke-width="0.45"/>
<line x1="236.15" y1="319.5" x2="236.15" y2="320.4" stroke="#000" stroke-width="0.35"/>
<rect x="238.8" y="325.5" width="5.5" height="4.7" fill="#fff" stroke="#000" stroke-width="0.45"/>
<line x1="241.55" y1="324.6" x2="241.55" y2="325.5" stroke="#000" stroke-width="0.35"/>
<rect x="245.7" y="323.2" width="3.6" height="7" fill="#000" stroke="#000" stroke-width="0.45"/>
<line x1="247.5" y1="322.3" x2="247.5" y2="323.2" stroke="#000" stroke-width="0.35"/>
<rect x="254.3" y="278.1" width="3.5" height="52.1" fill="#777" stroke="#000" stroke-width="0.45"/>
<line x1="256.05" y1="277.2" x2="256.05" y2="278.1" stroke="#000" stroke-width="0.35"/>
<rect x="258.7" y="276.6" width="5.5" height="53.6" fill="#fff" stroke="#000" stroke-width="0.45"/>
<line x1="261.45" y1="275.7" x2="261.45" y2="276.6" stroke="#000" stroke-width="0.35"/>
<rect x="265.6" y="278.1" width="3.6" height="52.1" fill="#000" stroke="#000" stroke-width="0.45"/>
<line x1="267.4" y1="277.2" x2="267.4" y2="278.1" stroke="#000" stroke-width="0.35"/>
<rect x="274.6" y="326.8" width="3.5" height="3.4" fill="#777" stroke="#000" stroke-width="0.45"/>
<line x1="276.35" y1="325.9" x2="276.35" y2="326.8" stroke="#000" stroke-width="0.35"/>
<rect x="279" y="328" width="5.5" height="2.2" fill="#fff" stroke="#000" stroke-width="0.45"/>
<line x1="281.75" y1="327.1" x2="281.75" y2="328" stroke="#000" stroke-width="0.35"/>
<rect x="285.9" y="328" width="3.6" height="2.2" fill="#000" stroke="#000" stroke-width="0.45"/>
<line x1="287.7" y1="327.1" x2="287.7" y2="328" stroke="#000" stroke-width="0.35"/>
<rect x="294.5" y="278.1" width="3.5" height="52.1" fill="#777" stroke="#000" stroke-width="0.45"/>
<line x1="296.25" y1="277.2" x2="296.25" y2="278.1" stroke="#000" stroke-width="0.35"/>
<rect x="298.9" y="282.3" width="5.5" height="47.9" fill="#fff" stroke="#000" stroke-width="0.45"/>
<line x1="301.65" y1="281.4" x2="301.65" y2="282.3" stroke="#000" stroke-width="0.35"/>
<rect x="305.8" y="276" width="3.6" height="54.2" fill="#000" stroke="#000" stroke-width="0.45"/>
<line x1="307.6" y1="275.1" x2="307.6" y2="276" stroke="#000" stroke-width="0.35"/>
<line x1="211.8" y1="268.4" x2="211.8" y2="330.2" stroke="#000" stroke-width="0.5"/>
<line x1="211.8" y1="330.2" x2="311" y2="330.2" stroke="#000" stroke-width="0.5"/>
<rect x="210.3" y="310.4" width="101.2" height="2.3" fill="#fff"/>
<line x1="210.8" y1="268.8" x2="211.8" y2="268.8" stroke="#000" stroke-width="0.4"/>
<text x="210.6" y="269.84" font-size="2.9" text-anchor="end" font-weight="normal" font-style="normal" fill="#000" stroke="#000" stroke-width="0.12" >80</text>
<line x1="210.8" y1="280.9" x2="211.8" y2="280.9" stroke="#000" stroke-width="0.4"/>
<text x="210.6" y="281.94" font-size="2.9" text-anchor="end" font-weight="normal" font-style="normal" fill="#000" stroke="#000" stroke-width="0.12" >60</text>
<line x1="210.8" y1="293.1" x2="211.8" y2="293.1" stroke="#000" stroke-width="0.4"/>
<text x="210.6" y="294.14" font-size="2.9" text-anchor="end" font-weight="normal" font-style="normal" fill="#000" stroke="#000" stroke-width="0.12" >40</text>
<line x1="210.8" y1="305.2" x2="211.8" y2="305.2" stroke="#000" stroke-width="0.4"/>
<text x="210.6" y="306.24" font-size="2.9" text-anchor="end" font-weight="normal" font-style="normal" fill="#000" stroke="#000" stroke-width="0.12" >20</text>
<line x1="210.8" y1="315.3" x2="211.8" y2="315.3" stroke="#000" stroke-width="0.4"/>
<text x="210.6" y="316.34" font-size="2.9" text-anchor="end" font-weight="normal" font-style="normal" fill="#000" stroke="#000" stroke-width="0.12" >10</text>
<line x1="210.8" y1="322.5" x2="211.8" y2="322.5" stroke="#000" stroke-width="0.4"/>
<text x="210.6" y="323.54" font-size="2.9" text-anchor="end" font-weight="normal" font-style="normal" fill="#000" stroke="#000" stroke-width="0.12" >5</text>
<line x1="210.8" y1="329.6" x2="211.8" y2="329.6" stroke="#000" stroke-width="0.4"/>
<text x="210.6" y="330.64" font-size="2.9" text-anchor="end" font-weight="normal" font-style="normal" fill="#000" stroke="#000" stroke-width="0.12" >0</text>
<line x1="221.3" y1="330.2" x2="221.3" y2="331.2" stroke="#000" stroke-width="0.4"/>
<text transform="translate(222.1,333.8) rotate(-43)" x="0" y="0" font-size="4.7" text-anchor="end" stroke="#000" stroke-width="0.12">Eosinophils</text>
<line x1="241.6" y1="330.2" x2="241.6" y2="331.2" stroke="#000" stroke-width="0.4"/>
<text transform="translate(242.4,333.8) rotate(-43)" x="0" y="0" font-size="4.7" text-anchor="end" stroke="#000" stroke-width="0.12">Neutrophils</text>
<line x1="261.5" y1="330.2" x2="261.5" y2="331.2" stroke="#000" stroke-width="0.4"/>
<text transform="translate(262.3,333.8) rotate(-43)" x="0" y="0" font-size="4.7" text-anchor="end" stroke="#000" stroke-width="0.12">CD4<tspan font-size="3" dy="-1.6">+</tspan><tspan dy="1.6"> cells</tspan></text>
<line x1="281.8" y1="330.2" x2="281.8" y2="331.2" stroke="#000" stroke-width="0.4"/>
<text transform="translate(282.6,333.8) rotate(-43)" x="0" y="0" font-size="4.7" text-anchor="end" stroke="#000" stroke-width="0.12">B-cells</text>
<line x1="301.7" y1="330.2" x2="301.7" y2="331.2" stroke="#000" stroke-width="0.4"/>
<text transform="translate(302.5,333.8) rotate(-43)" x="0" y="0" font-size="4.7" text-anchor="end" stroke="#000" stroke-width="0.12">NK cells</text>
<text transform="translate(202.1,299.8) rotate(-90) scale(1,1.0)" x="0" y="2.2" font-size="6.1" text-anchor="middle" font-weight="normal" stroke="#000" stroke-width="0.18">% Blood leukocytes</text>
<line x1="301.65" y1="282.3" x2="301.65" y2="271.5" stroke="#000" stroke-width="0.45"/>
<line x1="300.65" y1="271.5" x2="302.65" y2="271.5" stroke="#000" stroke-width="0.45"/>
<line x1="296.25" y1="278.1" x2="296.25" y2="275.5" stroke="#000" stroke-width="0.45"/>
<line x1="295.25" y1="275.5" x2="297.25" y2="275.5" stroke="#000" stroke-width="0.45"/>
<line x1="256.05" y1="278.1" x2="256.05" y2="275.8" stroke="#000" stroke-width="0.45"/>
<line x1="255.05" y1="275.8" x2="257.05" y2="275.8" stroke="#000" stroke-width="0.45"/>
<line x1="159.1" y1="319" x2="159.1" y2="316.2" stroke="#000" stroke-width="0.45"/>
<line x1="158.1" y1="316.2" x2="160.1" y2="316.2" stroke="#000" stroke-width="0.45"/>
<line x1="163.55" y1="318.6" x2="163.55" y2="316.5" stroke="#000" stroke-width="0.45"/>
<line x1="162.55" y1="316.5" x2="164.55" y2="316.5" stroke="#000" stroke-width="0.45"/>
<line x1="168.2" y1="320.4" x2="168.2" y2="318.2" stroke="#000" stroke-width="0.45"/>
<line x1="167.2" y1="318.2" x2="169.2" y2="318.2" stroke="#000" stroke-width="0.45"/>
<line x1="111.8" y1="203.5" x2="111.8" y2="200.6" stroke="#000" stroke-width="0.45"/>
<line x1="110.8" y1="200.6" x2="112.8" y2="200.6" stroke="#000" stroke-width="0.45"/>
<line x1="236.15" y1="320.4" x2="236.15" y2="318" stroke="#000" stroke-width="0.45"/>
<line x1="235.15" y1="318" x2="237.15" y2="318" stroke="#000" stroke-width="0.45"/>
</svg></body></html>
